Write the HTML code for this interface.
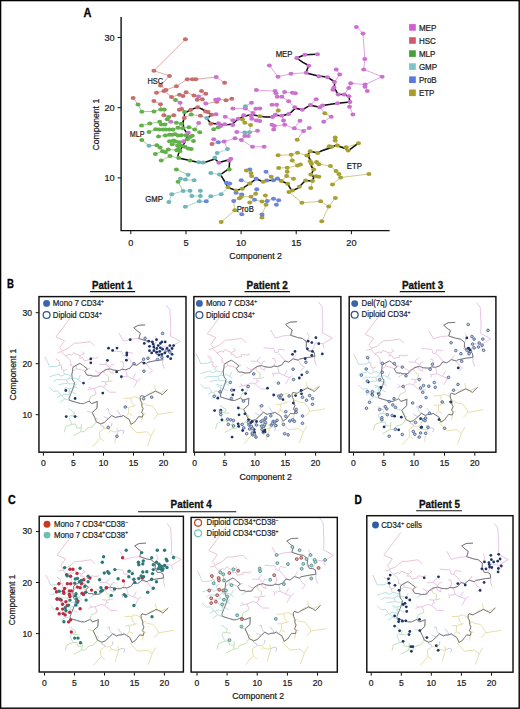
<!DOCTYPE html><html><head><meta charset="utf-8"><style>html,body{margin:0;padding:0;background:#fff;}svg{display:block;}</style></head><body><svg width="520" height="709" viewBox="0 0 520 709" style="font-family:'Liberation Sans', sans-serif">
<rect x="0" y="0" width="520" height="709" fill="#fff"/>
<line x1="185.4" y1="39.3" x2="153.9" y2="70.7" stroke="#dc9c9c" stroke-width="0.9"/>
<line x1="153.9" y1="70.7" x2="169.5" y2="75.9" stroke="#dc9c9c" stroke-width="0.9"/>
<line x1="169.5" y1="75.9" x2="160.5" y2="85.4" stroke="#dc9c9c" stroke-width="0.9"/>
<line x1="160.5" y1="85.4" x2="166.0" y2="89.9" stroke="#dc9c9c" stroke-width="0.9"/>
<line x1="176.4" y1="86.2" x2="187.3" y2="79.3" stroke="#dc9c9c" stroke-width="0.9"/>
<line x1="176.4" y1="86.2" x2="166.0" y2="89.9" stroke="#dc9c9c" stroke-width="0.9"/>
<line x1="187.3" y1="79.3" x2="192.3" y2="79.2" stroke="#dc9c9c" stroke-width="0.9"/>
<line x1="192.3" y1="79.2" x2="195.8" y2="79.2" stroke="#dc9c9c" stroke-width="0.9"/>
<line x1="195.8" y1="79.2" x2="216.2" y2="77.1" stroke="#dc9c9c" stroke-width="0.9"/>
<line x1="156.5" y1="92.7" x2="163.9" y2="90.9" stroke="#dc9c9c" stroke-width="0.9"/>
<line x1="163.9" y1="90.9" x2="166.0" y2="89.9" stroke="#dc9c9c" stroke-width="0.9"/>
<line x1="163.9" y1="90.9" x2="171.5" y2="97.0" stroke="#dc9c9c" stroke-width="0.9"/>
<line x1="186.1" y1="92.3" x2="183.0" y2="96.1" stroke="#dc9c9c" stroke-width="0.9"/>
<line x1="186.1" y1="92.3" x2="194.0" y2="95.4" stroke="#dc9c9c" stroke-width="0.9"/>
<line x1="201.5" y1="90.9" x2="205.8" y2="93.7" stroke="#dc9c9c" stroke-width="0.9"/>
<line x1="179.5" y1="94.7" x2="183.0" y2="96.1" stroke="#dc9c9c" stroke-width="0.9"/>
<line x1="179.5" y1="94.7" x2="171.5" y2="97.0" stroke="#dc9c9c" stroke-width="0.9"/>
<line x1="171.5" y1="97.0" x2="175.5" y2="100.1" stroke="#dc9c9c" stroke-width="0.9"/>
<line x1="133.1" y1="98.0" x2="138.0" y2="104.5" stroke="#dc9c9c" stroke-width="0.9"/>
<line x1="153.9" y1="101.0" x2="160.5" y2="104.2" stroke="#dc9c9c" stroke-width="0.9"/>
<line x1="175.5" y1="100.1" x2="180.1" y2="102.8" stroke="#92c982" stroke-width="0.9"/>
<line x1="194.0" y1="95.4" x2="198.5" y2="96.5" stroke="#dc9c9c" stroke-width="0.9"/>
<line x1="198.5" y1="96.5" x2="205.8" y2="93.7" stroke="#dc9ade" stroke-width="0.9"/>
<line x1="198.5" y1="96.5" x2="197.2" y2="99.8" stroke="#dc9ade" stroke-width="0.9"/>
<line x1="202.3" y1="99.2" x2="197.2" y2="99.8" stroke="#dc9c9c" stroke-width="0.9"/>
<line x1="202.3" y1="99.2" x2="205.8" y2="103.6" stroke="#dc9c9c" stroke-width="0.9"/>
<line x1="216.2" y1="77.1" x2="224.6" y2="82.8" stroke="#dc9ade" stroke-width="0.9"/>
<line x1="269.4" y1="65.5" x2="278.0" y2="76.7" stroke="#dc9ade" stroke-width="0.9"/>
<line x1="278.0" y1="76.7" x2="291.0" y2="73.8" stroke="#dc9ade" stroke-width="0.9"/>
<line x1="291.0" y1="73.8" x2="306.2" y2="72.7" stroke="#dc9ade" stroke-width="0.9"/>
<line x1="256.4" y1="90.1" x2="275.1" y2="91.1" stroke="#dc9ade" stroke-width="0.9"/>
<line x1="275.1" y1="91.1" x2="276.0" y2="93.2" stroke="#dc9ade" stroke-width="0.9"/>
<line x1="276.0" y1="93.2" x2="277.2" y2="96.7" stroke="#dc9ade" stroke-width="0.9"/>
<line x1="284.6" y1="92.0" x2="292.4" y2="92.7" stroke="#dc9ade" stroke-width="0.9"/>
<line x1="284.6" y1="92.0" x2="281.8" y2="96.7" stroke="#dc9ade" stroke-width="0.9"/>
<line x1="292.4" y1="92.7" x2="295.4" y2="93.2" stroke="#dc9ade" stroke-width="0.9"/>
<line x1="317.5" y1="54.2" x2="304.9" y2="54.7" stroke="#dc9ade" stroke-width="0.9"/>
<line x1="304.9" y1="54.7" x2="296.7" y2="58.0" stroke="#dc9ade" stroke-width="0.9"/>
<line x1="296.7" y1="58.0" x2="308.8" y2="65.8" stroke="#dc9ade" stroke-width="0.9"/>
<line x1="308.8" y1="65.8" x2="306.2" y2="72.7" stroke="#dc9ade" stroke-width="0.9"/>
<line x1="306.2" y1="72.7" x2="318.9" y2="76.2" stroke="#dc9ade" stroke-width="0.9"/>
<line x1="318.9" y1="76.2" x2="327.5" y2="77.2" stroke="#dc9ade" stroke-width="0.9"/>
<line x1="327.5" y1="77.2" x2="334.5" y2="81.9" stroke="#dc9ade" stroke-width="0.9"/>
<line x1="334.5" y1="81.9" x2="333.9" y2="87.6" stroke="#dc9ade" stroke-width="0.9"/>
<line x1="334.5" y1="81.9" x2="339.7" y2="74.6" stroke="#dc9ade" stroke-width="0.9"/>
<line x1="333.9" y1="87.6" x2="332.9" y2="89.8" stroke="#dc9ade" stroke-width="0.9"/>
<line x1="336.2" y1="69.4" x2="339.7" y2="74.6" stroke="#dc9ade" stroke-width="0.9"/>
<line x1="356.4" y1="26.9" x2="363.0" y2="33.4" stroke="#dc9ade" stroke-width="0.9"/>
<line x1="363.0" y1="33.4" x2="364.8" y2="59.1" stroke="#dc9ade" stroke-width="0.9"/>
<line x1="364.8" y1="59.1" x2="363.7" y2="69.4" stroke="#dc9ade" stroke-width="0.9"/>
<line x1="363.7" y1="69.4" x2="382.1" y2="76.7" stroke="#dc9ade" stroke-width="0.9"/>
<line x1="382.1" y1="76.7" x2="365.1" y2="84.5" stroke="#dc9ade" stroke-width="0.9"/>
<line x1="365.1" y1="84.5" x2="350.7" y2="83.3" stroke="#dc9ade" stroke-width="0.9"/>
<line x1="365.1" y1="84.5" x2="365.0" y2="86.8" stroke="#dc9ade" stroke-width="0.9"/>
<line x1="350.7" y1="83.3" x2="348.7" y2="88.0" stroke="#dc9ade" stroke-width="0.9"/>
<line x1="348.7" y1="88.0" x2="344.3" y2="94.6" stroke="#dc9ade" stroke-width="0.9"/>
<line x1="160.5" y1="104.2" x2="160.8" y2="109.4" stroke="#dc9c9c" stroke-width="0.9"/>
<line x1="163.9" y1="115.2" x2="164.3" y2="109.4" stroke="#dc9c9c" stroke-width="0.9"/>
<line x1="163.9" y1="115.2" x2="168.9" y2="116.9" stroke="#dc9c9c" stroke-width="0.9"/>
<line x1="173.8" y1="115.2" x2="168.9" y2="116.9" stroke="#dc9c9c" stroke-width="0.9"/>
<line x1="179.3" y1="109.8" x2="181.6" y2="109.0" stroke="#dc9c9c" stroke-width="0.9"/>
<line x1="138.0" y1="104.5" x2="141.8" y2="111.7" stroke="#92c982" stroke-width="0.9"/>
<line x1="141.8" y1="111.7" x2="153.9" y2="111.4" stroke="#92c982" stroke-width="0.9"/>
<line x1="153.9" y1="111.4" x2="160.8" y2="109.4" stroke="#92c982" stroke-width="0.9"/>
<line x1="160.8" y1="109.4" x2="164.3" y2="109.4" stroke="#92c982" stroke-width="0.9"/>
<line x1="168.9" y1="116.9" x2="167.2" y2="119.2" stroke="#92c982" stroke-width="0.9"/>
<line x1="167.2" y1="119.2" x2="170.8" y2="121.8" stroke="#92c982" stroke-width="0.9"/>
<line x1="159.7" y1="121.8" x2="161.4" y2="124.4" stroke="#92c982" stroke-width="0.9"/>
<line x1="159.7" y1="121.8" x2="149.8" y2="123.6" stroke="#92c982" stroke-width="0.9"/>
<line x1="161.4" y1="124.4" x2="164.8" y2="124.4" stroke="#92c982" stroke-width="0.9"/>
<line x1="164.8" y1="124.4" x2="170.8" y2="121.8" stroke="#92c982" stroke-width="0.9"/>
<line x1="149.8" y1="123.6" x2="141.5" y2="125.6" stroke="#92c982" stroke-width="0.9"/>
<line x1="149.0" y1="131.9" x2="155.6" y2="129.3" stroke="#92c982" stroke-width="0.9"/>
<line x1="155.6" y1="129.3" x2="159.1" y2="129.6" stroke="#92c982" stroke-width="0.9"/>
<line x1="159.1" y1="129.6" x2="163.1" y2="129.4" stroke="#92c982" stroke-width="0.9"/>
<line x1="163.1" y1="129.4" x2="166.0" y2="129.6" stroke="#92c982" stroke-width="0.9"/>
<line x1="166.0" y1="129.6" x2="169.5" y2="129.6" stroke="#92c982" stroke-width="0.9"/>
<line x1="169.5" y1="129.6" x2="172.9" y2="129.6" stroke="#92c982" stroke-width="0.9"/>
<line x1="172.9" y1="129.6" x2="175.2" y2="134.2" stroke="#92c982" stroke-width="0.9"/>
<line x1="172.9" y1="129.6" x2="177.9" y2="127.7" stroke="#92c982" stroke-width="0.9"/>
<line x1="158.5" y1="136.5" x2="165.4" y2="135.4" stroke="#92c982" stroke-width="0.9"/>
<line x1="165.4" y1="135.4" x2="169.5" y2="134.8" stroke="#92c982" stroke-width="0.9"/>
<line x1="169.5" y1="134.8" x2="172.3" y2="134.8" stroke="#92c982" stroke-width="0.9"/>
<line x1="172.3" y1="134.8" x2="175.2" y2="134.2" stroke="#92c982" stroke-width="0.9"/>
<line x1="175.2" y1="134.2" x2="178.1" y2="135.4" stroke="#92c982" stroke-width="0.9"/>
<line x1="178.1" y1="135.4" x2="181.4" y2="135.2" stroke="#92c982" stroke-width="0.9"/>
<line x1="176.4" y1="122.7" x2="170.8" y2="121.8" stroke="#92c982" stroke-width="0.9"/>
<line x1="176.4" y1="122.7" x2="181.4" y2="123.7" stroke="#92c982" stroke-width="0.9"/>
<line x1="141.8" y1="140.0" x2="149.0" y2="145.7" stroke="#92c982" stroke-width="0.9"/>
<line x1="169.5" y1="141.2" x2="173.5" y2="140.6" stroke="#92c982" stroke-width="0.9"/>
<line x1="173.5" y1="140.6" x2="175.6" y2="141.6" stroke="#92c982" stroke-width="0.9"/>
<line x1="180.1" y1="102.8" x2="181.6" y2="109.0" stroke="#dc9ade" stroke-width="0.9"/>
<line x1="156.8" y1="145.2" x2="160.0" y2="147.5" stroke="#92c982" stroke-width="0.9"/>
<line x1="156.8" y1="145.2" x2="149.0" y2="145.7" stroke="#92c982" stroke-width="0.9"/>
<line x1="160.0" y1="147.5" x2="162.5" y2="151.2" stroke="#92c982" stroke-width="0.9"/>
<line x1="162.5" y1="151.2" x2="165.4" y2="152.1" stroke="#92c982" stroke-width="0.9"/>
<line x1="162.5" y1="151.2" x2="155.4" y2="154.0" stroke="#92c982" stroke-width="0.9"/>
<line x1="165.4" y1="152.1" x2="168.3" y2="149.4" stroke="#92c982" stroke-width="0.9"/>
<line x1="165.4" y1="152.1" x2="170.0" y2="156.0" stroke="#92c982" stroke-width="0.9"/>
<line x1="168.3" y1="149.4" x2="176.8" y2="150.2" stroke="#92c982" stroke-width="0.9"/>
<line x1="170.0" y1="156.0" x2="161.2" y2="160.6" stroke="#92c982" stroke-width="0.9"/>
<line x1="170.0" y1="156.0" x2="178.7" y2="158.1" stroke="#92c982" stroke-width="0.9"/>
<line x1="176.4" y1="169.4" x2="188.1" y2="174.8" stroke="#92c982" stroke-width="0.9"/>
<line x1="178.7" y1="158.1" x2="190.0" y2="160.5" stroke="#92c982" stroke-width="0.9"/>
<line x1="178.1" y1="181.7" x2="180.4" y2="178.8" stroke="#92c982" stroke-width="0.9"/>
<line x1="178.1" y1="181.7" x2="183.1" y2="191.0" stroke="#92c982" stroke-width="0.9"/>
<line x1="172.3" y1="144.2" x2="175.6" y2="141.6" stroke="#92c982" stroke-width="0.9"/>
<line x1="177.5" y1="145.4" x2="178.7" y2="148.8" stroke="#92c982" stroke-width="0.9"/>
<line x1="177.5" y1="145.4" x2="179.1" y2="142.2" stroke="#92c982" stroke-width="0.9"/>
<line x1="177.5" y1="145.4" x2="181.4" y2="145.6" stroke="#92c982" stroke-width="0.9"/>
<line x1="178.7" y1="148.8" x2="176.8" y2="150.2" stroke="#92c982" stroke-width="0.9"/>
<line x1="179.8" y1="151.2" x2="176.8" y2="150.2" stroke="#92c982" stroke-width="0.9"/>
<line x1="180.4" y1="178.8" x2="185.4" y2="179.6" stroke="#9fd2d4" stroke-width="0.9"/>
<line x1="184.3" y1="117.9" x2="191.2" y2="114.5" stroke="#dc9c9c" stroke-width="0.9"/>
<line x1="184.3" y1="117.9" x2="181.4" y2="123.7" stroke="#dc9c9c" stroke-width="0.9"/>
<line x1="200.4" y1="115.8" x2="191.2" y2="114.5" stroke="#dc9c9c" stroke-width="0.9"/>
<line x1="200.4" y1="115.8" x2="206.8" y2="117.9" stroke="#dc9c9c" stroke-width="0.9"/>
<line x1="210.8" y1="123.7" x2="206.8" y2="117.9" stroke="#dc9c9c" stroke-width="0.9"/>
<line x1="210.8" y1="123.7" x2="218.5" y2="123.2" stroke="#dc9c9c" stroke-width="0.9"/>
<line x1="205.6" y1="111.6" x2="208.1" y2="111.9" stroke="#dc9c9c" stroke-width="0.9"/>
<line x1="212.0" y1="143.9" x2="218.3" y2="142.2" stroke="#dc9c9c" stroke-width="0.9"/>
<line x1="191.2" y1="114.5" x2="190.8" y2="109.8" stroke="#92c982" stroke-width="0.9"/>
<line x1="181.4" y1="123.7" x2="177.9" y2="127.7" stroke="#92c982" stroke-width="0.9"/>
<line x1="177.9" y1="127.7" x2="182.5" y2="128.3" stroke="#92c982" stroke-width="0.9"/>
<line x1="182.5" y1="128.3" x2="188.9" y2="127.2" stroke="#92c982" stroke-width="0.9"/>
<line x1="188.9" y1="127.2" x2="194.7" y2="129.5" stroke="#92c982" stroke-width="0.9"/>
<line x1="194.7" y1="129.5" x2="199.8" y2="132.3" stroke="#92c982" stroke-width="0.9"/>
<line x1="194.7" y1="129.5" x2="198.7" y2="123.1" stroke="#92c982" stroke-width="0.9"/>
<line x1="213.7" y1="129.2" x2="218.3" y2="127.2" stroke="#92c982" stroke-width="0.9"/>
<line x1="218.3" y1="127.2" x2="220.6" y2="126.0" stroke="#92c982" stroke-width="0.9"/>
<line x1="181.4" y1="135.2" x2="186.0" y2="135.2" stroke="#92c982" stroke-width="0.9"/>
<line x1="186.0" y1="135.2" x2="190.0" y2="137.0" stroke="#92c982" stroke-width="0.9"/>
<line x1="186.0" y1="135.2" x2="188.3" y2="132.7" stroke="#92c982" stroke-width="0.9"/>
<line x1="190.0" y1="137.0" x2="192.3" y2="135.8" stroke="#92c982" stroke-width="0.9"/>
<line x1="190.0" y1="137.0" x2="187.2" y2="139.3" stroke="#92c982" stroke-width="0.9"/>
<line x1="193.5" y1="141.0" x2="187.2" y2="139.3" stroke="#92c982" stroke-width="0.9"/>
<line x1="187.2" y1="139.3" x2="183.5" y2="141.2" stroke="#92c982" stroke-width="0.9"/>
<line x1="175.6" y1="141.6" x2="179.1" y2="142.2" stroke="#92c982" stroke-width="0.9"/>
<line x1="179.1" y1="142.2" x2="183.5" y2="141.2" stroke="#92c982" stroke-width="0.9"/>
<line x1="181.4" y1="145.6" x2="184.8" y2="146.8" stroke="#92c982" stroke-width="0.9"/>
<line x1="184.8" y1="146.8" x2="188.3" y2="148.5" stroke="#92c982" stroke-width="0.9"/>
<line x1="188.3" y1="148.5" x2="191.2" y2="149.1" stroke="#92c982" stroke-width="0.9"/>
<line x1="216.0" y1="114.2" x2="211.6" y2="114.8" stroke="#dc9ade" stroke-width="0.9"/>
<line x1="225.2" y1="116.8" x2="232.9" y2="120.2" stroke="#dc9ade" stroke-width="0.9"/>
<line x1="220.6" y1="126.0" x2="224.7" y2="124.3" stroke="#dc9ade" stroke-width="0.9"/>
<line x1="220.6" y1="126.0" x2="218.5" y2="123.2" stroke="#dc9ade" stroke-width="0.9"/>
<line x1="224.7" y1="124.3" x2="232.7" y2="125.0" stroke="#dc9ade" stroke-width="0.9"/>
<line x1="213.7" y1="139.3" x2="218.3" y2="142.2" stroke="#dc9ade" stroke-width="0.9"/>
<line x1="224.1" y1="141.6" x2="227.5" y2="149.1" stroke="#dc9ade" stroke-width="0.9"/>
<line x1="224.1" y1="141.6" x2="218.3" y2="142.2" stroke="#dc9ade" stroke-width="0.9"/>
<line x1="224.1" y1="141.6" x2="235.0" y2="138.3" stroke="#dc9ade" stroke-width="0.9"/>
<line x1="206.8" y1="117.9" x2="211.6" y2="114.8" stroke="#9fd2d4" stroke-width="0.9"/>
<line x1="217.2" y1="153.1" x2="227.5" y2="149.1" stroke="#9fd2d4" stroke-width="0.9"/>
<line x1="217.2" y1="153.1" x2="214.8" y2="157.7" stroke="#9fd2d4" stroke-width="0.9"/>
<line x1="214.8" y1="157.7" x2="218.9" y2="162.8" stroke="#9fd2d4" stroke-width="0.9"/>
<line x1="171.8" y1="194.2" x2="168.9" y2="201.9" stroke="#9fd2d4" stroke-width="0.9"/>
<line x1="171.8" y1="194.2" x2="183.1" y2="191.0" stroke="#9fd2d4" stroke-width="0.9"/>
<line x1="190.0" y1="160.5" x2="198.7" y2="162.2" stroke="#92c982" stroke-width="0.9"/>
<line x1="229.3" y1="169.4" x2="219.5" y2="174.6" stroke="#92c982" stroke-width="0.9"/>
<line x1="229.3" y1="169.4" x2="229.3" y2="160.5" stroke="#92c982" stroke-width="0.9"/>
<line x1="198.7" y1="162.2" x2="203.3" y2="162.5" stroke="#9fd2d4" stroke-width="0.9"/>
<line x1="210.8" y1="172.9" x2="219.5" y2="174.6" stroke="#9fd2d4" stroke-width="0.9"/>
<line x1="219.5" y1="174.6" x2="226.4" y2="182.7" stroke="#9fd2d4" stroke-width="0.9"/>
<line x1="188.1" y1="174.8" x2="185.4" y2="179.6" stroke="#9fd2d4" stroke-width="0.9"/>
<line x1="185.4" y1="179.6" x2="194.1" y2="180.2" stroke="#9fd2d4" stroke-width="0.9"/>
<line x1="183.1" y1="191.0" x2="190.0" y2="190.8" stroke="#9fd2d4" stroke-width="0.9"/>
<line x1="190.0" y1="190.8" x2="191.8" y2="196.0" stroke="#9fd2d4" stroke-width="0.9"/>
<line x1="200.4" y1="190.8" x2="200.4" y2="196.0" stroke="#9fd2d4" stroke-width="0.9"/>
<line x1="191.8" y1="196.0" x2="200.4" y2="196.0" stroke="#9fd2d4" stroke-width="0.9"/>
<line x1="200.4" y1="196.0" x2="199.3" y2="201.2" stroke="#9fd2d4" stroke-width="0.9"/>
<line x1="210.8" y1="196.3" x2="221.2" y2="194.2" stroke="#9fd2d4" stroke-width="0.9"/>
<line x1="210.8" y1="196.3" x2="206.2" y2="201.2" stroke="#9fd2d4" stroke-width="0.9"/>
<line x1="221.2" y1="194.2" x2="228.1" y2="187.3" stroke="#9fd2d4" stroke-width="0.9"/>
<line x1="199.3" y1="201.2" x2="206.2" y2="201.2" stroke="#9fd2d4" stroke-width="0.9"/>
<line x1="199.3" y1="201.2" x2="185.4" y2="206.7" stroke="#9fd2d4" stroke-width="0.9"/>
<line x1="218.9" y1="162.8" x2="229.3" y2="160.5" stroke="#dc9ade" stroke-width="0.9"/>
<line x1="229.3" y1="160.5" x2="230.8" y2="158.7" stroke="#dc9ade" stroke-width="0.9"/>
<line x1="226.4" y1="182.7" x2="229.7" y2="183.5" stroke="#a1b2ea" stroke-width="0.9"/>
<line x1="228.1" y1="187.3" x2="229.7" y2="183.5" stroke="#c9c47e" stroke-width="0.9"/>
<line x1="228.1" y1="187.3" x2="236.0" y2="190.4" stroke="#c9c47e" stroke-width="0.9"/>
<line x1="221.2" y1="222.1" x2="234.8" y2="210.2" stroke="#c9c47e" stroke-width="0.9"/>
<line x1="241.2" y1="180.2" x2="249.8" y2="183.5" stroke="#a1b2ea" stroke-width="0.9"/>
<line x1="249.8" y1="169.6" x2="246.4" y2="170.5" stroke="#a1b2ea" stroke-width="0.9"/>
<line x1="249.8" y1="169.6" x2="251.0" y2="173.1" stroke="#a1b2ea" stroke-width="0.9"/>
<line x1="266.0" y1="171.7" x2="271.2" y2="176.8" stroke="#a1b2ea" stroke-width="0.9"/>
<line x1="256.2" y1="178.8" x2="251.6" y2="176.0" stroke="#a1b2ea" stroke-width="0.9"/>
<line x1="256.2" y1="178.8" x2="249.8" y2="183.5" stroke="#a1b2ea" stroke-width="0.9"/>
<line x1="256.2" y1="178.8" x2="263.1" y2="181.7" stroke="#a1b2ea" stroke-width="0.9"/>
<line x1="266.6" y1="180.6" x2="273.5" y2="180.2" stroke="#a1b2ea" stroke-width="0.9"/>
<line x1="266.6" y1="180.6" x2="263.1" y2="181.7" stroke="#a1b2ea" stroke-width="0.9"/>
<line x1="273.5" y1="180.2" x2="277.5" y2="178.6" stroke="#a1b2ea" stroke-width="0.9"/>
<line x1="273.5" y1="180.2" x2="271.2" y2="176.8" stroke="#a1b2ea" stroke-width="0.9"/>
<line x1="277.5" y1="178.6" x2="281.4" y2="181.0" stroke="#a1b2ea" stroke-width="0.9"/>
<line x1="256.8" y1="189.2" x2="255.6" y2="193.8" stroke="#a1b2ea" stroke-width="0.9"/>
<line x1="236.0" y1="192.7" x2="241.8" y2="194.4" stroke="#a1b2ea" stroke-width="0.9"/>
<line x1="236.0" y1="192.7" x2="236.0" y2="190.4" stroke="#a1b2ea" stroke-width="0.9"/>
<line x1="241.8" y1="194.4" x2="241.2" y2="196.7" stroke="#a1b2ea" stroke-width="0.9"/>
<line x1="251.0" y1="173.1" x2="251.6" y2="176.0" stroke="#c9c47e" stroke-width="0.9"/>
<line x1="236.0" y1="190.4" x2="242.3" y2="188.7" stroke="#c9c47e" stroke-width="0.9"/>
<line x1="242.3" y1="188.7" x2="249.8" y2="183.5" stroke="#c9c47e" stroke-width="0.9"/>
<line x1="278.1" y1="155.2" x2="291.2" y2="154.8" stroke="#c9c47e" stroke-width="0.9"/>
<line x1="278.7" y1="167.9" x2="287.2" y2="167.7" stroke="#c9c47e" stroke-width="0.9"/>
<line x1="255.6" y1="193.8" x2="251.0" y2="196.7" stroke="#c9c47e" stroke-width="0.9"/>
<line x1="265.4" y1="195.6" x2="267.2" y2="201.0" stroke="#c9c47e" stroke-width="0.9"/>
<line x1="251.0" y1="196.7" x2="241.2" y2="196.7" stroke="#c9c47e" stroke-width="0.9"/>
<line x1="251.0" y1="196.7" x2="254.5" y2="199.8" stroke="#c9c47e" stroke-width="0.9"/>
<line x1="241.2" y1="196.7" x2="239.5" y2="198.3" stroke="#c9c47e" stroke-width="0.9"/>
<line x1="239.5" y1="198.3" x2="233.7" y2="201.0" stroke="#c9c47e" stroke-width="0.9"/>
<line x1="262.0" y1="201.5" x2="254.5" y2="199.8" stroke="#c9c47e" stroke-width="0.9"/>
<line x1="262.0" y1="201.5" x2="267.2" y2="201.0" stroke="#c9c47e" stroke-width="0.9"/>
<line x1="266.0" y1="204.8" x2="267.2" y2="201.0" stroke="#c9c47e" stroke-width="0.9"/>
<line x1="266.0" y1="204.8" x2="262.0" y2="214.5" stroke="#c9c47e" stroke-width="0.9"/>
<line x1="249.8" y1="202.5" x2="254.5" y2="199.8" stroke="#c9c47e" stroke-width="0.9"/>
<line x1="234.8" y1="210.2" x2="233.7" y2="201.0" stroke="#c9c47e" stroke-width="0.9"/>
<line x1="234.8" y1="210.2" x2="241.8" y2="214.2" stroke="#c9c47e" stroke-width="0.9"/>
<line x1="262.0" y1="217.5" x2="262.0" y2="214.5" stroke="#c9c47e" stroke-width="0.9"/>
<line x1="267.2" y1="201.0" x2="273.5" y2="198.7" stroke="#a1b2ea" stroke-width="0.9"/>
<line x1="273.5" y1="198.7" x2="278.7" y2="200.2" stroke="#a1b2ea" stroke-width="0.9"/>
<line x1="278.7" y1="200.2" x2="276.4" y2="204.8" stroke="#a1b2ea" stroke-width="0.9"/>
<line x1="216.8" y1="101.8" x2="205.8" y2="103.6" stroke="#dc9c9c" stroke-width="0.9"/>
<line x1="216.8" y1="101.8" x2="215.6" y2="99.8" stroke="#dc9c9c" stroke-width="0.9"/>
<line x1="226.0" y1="100.2" x2="231.8" y2="98.7" stroke="#dc9c9c" stroke-width="0.9"/>
<line x1="226.0" y1="100.2" x2="218.5" y2="99.2" stroke="#dc9c9c" stroke-width="0.9"/>
<line x1="197.7" y1="107.3" x2="190.8" y2="109.8" stroke="#dc9c9c" stroke-width="0.9"/>
<line x1="190.8" y1="109.8" x2="184.5" y2="111.9" stroke="#dc9c9c" stroke-width="0.9"/>
<line x1="181.6" y1="109.0" x2="184.5" y2="111.9" stroke="#dc9c9c" stroke-width="0.9"/>
<line x1="208.1" y1="111.9" x2="211.6" y2="114.8" stroke="#dc9c9c" stroke-width="0.9"/>
<line x1="215.6" y1="99.8" x2="218.5" y2="99.2" stroke="#dc9ade" stroke-width="0.9"/>
<line x1="232.9" y1="108.5" x2="245.4" y2="108.6" stroke="#dc9ade" stroke-width="0.9"/>
<line x1="232.9" y1="120.2" x2="238.1" y2="118.8" stroke="#dc9ade" stroke-width="0.9"/>
<line x1="232.9" y1="120.2" x2="232.7" y2="125.0" stroke="#dc9ade" stroke-width="0.9"/>
<line x1="238.1" y1="118.8" x2="242.5" y2="119.5" stroke="#dc9ade" stroke-width="0.9"/>
<line x1="251.5" y1="102.8" x2="245.4" y2="106.3" stroke="#dc9ade" stroke-width="0.9"/>
<line x1="245.4" y1="108.6" x2="252.9" y2="112.9" stroke="#dc9ade" stroke-width="0.9"/>
<line x1="245.4" y1="108.6" x2="245.4" y2="106.3" stroke="#dc9ade" stroke-width="0.9"/>
<line x1="255.8" y1="108.8" x2="259.8" y2="108.6" stroke="#dc9ade" stroke-width="0.9"/>
<line x1="255.8" y1="108.8" x2="252.9" y2="112.9" stroke="#dc9ade" stroke-width="0.9"/>
<line x1="252.9" y1="112.9" x2="251.2" y2="115.8" stroke="#dc9ade" stroke-width="0.9"/>
<line x1="251.2" y1="115.8" x2="243.7" y2="115.2" stroke="#dc9ade" stroke-width="0.9"/>
<line x1="251.2" y1="115.8" x2="251.8" y2="118.7" stroke="#dc9ade" stroke-width="0.9"/>
<line x1="243.7" y1="115.2" x2="242.5" y2="119.5" stroke="#dc9ade" stroke-width="0.9"/>
<line x1="251.8" y1="118.7" x2="256.4" y2="120.4" stroke="#dc9ade" stroke-width="0.9"/>
<line x1="256.4" y1="120.4" x2="259.8" y2="121.0" stroke="#dc9ade" stroke-width="0.9"/>
<line x1="256.4" y1="120.4" x2="259.8" y2="116.3" stroke="#dc9ade" stroke-width="0.9"/>
<line x1="272.0" y1="104.8" x2="276.6" y2="104.8" stroke="#dc9ade" stroke-width="0.9"/>
<line x1="276.6" y1="104.8" x2="278.3" y2="110.6" stroke="#dc9ade" stroke-width="0.9"/>
<line x1="277.2" y1="96.7" x2="281.8" y2="96.7" stroke="#dc9ade" stroke-width="0.9"/>
<line x1="281.8" y1="96.7" x2="288.7" y2="101.3" stroke="#dc9ade" stroke-width="0.9"/>
<line x1="288.7" y1="101.3" x2="294.8" y2="107.3" stroke="#dc9ade" stroke-width="0.9"/>
<line x1="272.5" y1="116.9" x2="275.4" y2="114.8" stroke="#dc9ade" stroke-width="0.9"/>
<line x1="272.5" y1="116.9" x2="259.8" y2="116.3" stroke="#dc9ade" stroke-width="0.9"/>
<line x1="275.4" y1="114.8" x2="281.8" y2="115.8" stroke="#dc9ade" stroke-width="0.9"/>
<line x1="275.4" y1="114.8" x2="278.3" y2="110.6" stroke="#dc9ade" stroke-width="0.9"/>
<line x1="281.8" y1="115.8" x2="288.7" y2="114.0" stroke="#dc9ade" stroke-width="0.9"/>
<line x1="281.8" y1="115.8" x2="283.5" y2="120.4" stroke="#dc9ade" stroke-width="0.9"/>
<line x1="288.7" y1="114.0" x2="294.8" y2="107.3" stroke="#dc9ade" stroke-width="0.9"/>
<line x1="283.5" y1="120.4" x2="284.7" y2="124.8" stroke="#dc9ade" stroke-width="0.9"/>
<line x1="284.7" y1="124.8" x2="274.3" y2="125.9" stroke="#dc9ade" stroke-width="0.9"/>
<line x1="284.7" y1="124.8" x2="294.3" y2="128.3" stroke="#dc9ade" stroke-width="0.9"/>
<line x1="272.0" y1="124.8" x2="274.3" y2="125.9" stroke="#dc9ade" stroke-width="0.9"/>
<line x1="274.3" y1="125.9" x2="273.7" y2="129.6" stroke="#dc9ade" stroke-width="0.9"/>
<line x1="236.8" y1="131.9" x2="244.8" y2="132.5" stroke="#dc9ade" stroke-width="0.9"/>
<line x1="257.5" y1="130.8" x2="249.5" y2="132.2" stroke="#dc9ade" stroke-width="0.9"/>
<line x1="244.8" y1="136.0" x2="248.3" y2="136.0" stroke="#dc9ade" stroke-width="0.9"/>
<line x1="244.8" y1="136.0" x2="241.4" y2="140.0" stroke="#dc9ade" stroke-width="0.9"/>
<line x1="244.8" y1="136.0" x2="244.8" y2="132.5" stroke="#dc9ade" stroke-width="0.9"/>
<line x1="235.0" y1="138.3" x2="241.4" y2="140.0" stroke="#dc9ade" stroke-width="0.9"/>
<line x1="241.4" y1="140.0" x2="252.5" y2="146.8" stroke="#dc9ade" stroke-width="0.9"/>
<line x1="244.8" y1="132.5" x2="249.5" y2="132.2" stroke="#9fd2d4" stroke-width="0.9"/>
<line x1="249.5" y1="132.2" x2="250.6" y2="125.0" stroke="#9fd2d4" stroke-width="0.9"/>
<line x1="242.5" y1="119.5" x2="244.8" y2="122.7" stroke="#c9c47e" stroke-width="0.9"/>
<line x1="244.8" y1="122.7" x2="250.6" y2="125.0" stroke="#c9c47e" stroke-width="0.9"/>
<line x1="332.9" y1="89.8" x2="338.1" y2="94.6" stroke="#dc9ade" stroke-width="0.9"/>
<line x1="338.1" y1="94.6" x2="344.3" y2="94.6" stroke="#dc9ade" stroke-width="0.9"/>
<line x1="294.8" y1="107.3" x2="302.3" y2="109.8" stroke="#dc9ade" stroke-width="0.9"/>
<line x1="316.2" y1="99.2" x2="310.4" y2="105.0" stroke="#dc9ade" stroke-width="0.9"/>
<line x1="310.4" y1="105.0" x2="302.3" y2="109.8" stroke="#dc9ade" stroke-width="0.9"/>
<line x1="310.4" y1="105.0" x2="319.7" y2="107.2" stroke="#dc9ade" stroke-width="0.9"/>
<line x1="322.5" y1="105.6" x2="337.5" y2="103.3" stroke="#dc9ade" stroke-width="0.9"/>
<line x1="322.5" y1="105.6" x2="319.7" y2="107.2" stroke="#dc9ade" stroke-width="0.9"/>
<line x1="337.5" y1="103.3" x2="350.0" y2="102.1" stroke="#dc9ade" stroke-width="0.9"/>
<line x1="344.3" y1="94.6" x2="348.9" y2="96.3" stroke="#dc9ade" stroke-width="0.9"/>
<line x1="348.9" y1="96.3" x2="350.0" y2="102.1" stroke="#dc9ade" stroke-width="0.9"/>
<line x1="350.0" y1="102.1" x2="349.5" y2="106.7" stroke="#dc9ade" stroke-width="0.9"/>
<line x1="349.5" y1="106.7" x2="352.9" y2="114.4" stroke="#dc9ade" stroke-width="0.9"/>
<line x1="365.0" y1="86.8" x2="367.3" y2="90.9" stroke="#dc9ade" stroke-width="0.9"/>
<line x1="294.3" y1="128.3" x2="300.0" y2="120.8" stroke="#dc9ade" stroke-width="0.9"/>
<line x1="294.3" y1="128.3" x2="303.5" y2="130.9" stroke="#dc9ade" stroke-width="0.9"/>
<line x1="303.5" y1="130.9" x2="309.3" y2="127.9" stroke="#dc9ade" stroke-width="0.9"/>
<line x1="303.5" y1="130.9" x2="297.2" y2="139.8" stroke="#dc9ade" stroke-width="0.9"/>
<line x1="319.7" y1="107.2" x2="324.8" y2="113.3" stroke="#dc9ade" stroke-width="0.9"/>
<line x1="331.2" y1="116.7" x2="323.7" y2="121.7" stroke="#dc9ade" stroke-width="0.9"/>
<line x1="331.2" y1="116.7" x2="324.8" y2="113.3" stroke="#dc9ade" stroke-width="0.9"/>
<line x1="335.2" y1="137.5" x2="335.2" y2="140.4" stroke="#c9c47e" stroke-width="0.9"/>
<line x1="335.2" y1="140.4" x2="337.5" y2="145.6" stroke="#c9c47e" stroke-width="0.9"/>
<line x1="331.8" y1="146.7" x2="337.5" y2="145.6" stroke="#c9c47e" stroke-width="0.9"/>
<line x1="331.8" y1="146.7" x2="329.3" y2="146.3" stroke="#c9c47e" stroke-width="0.9"/>
<line x1="337.5" y1="145.6" x2="346.0" y2="147.3" stroke="#c9c47e" stroke-width="0.9"/>
<line x1="358.5" y1="143.3" x2="346.0" y2="147.3" stroke="#c9c47e" stroke-width="0.9"/>
<line x1="346.0" y1="147.3" x2="348.1" y2="150.4" stroke="#c9c47e" stroke-width="0.9"/>
<line x1="291.2" y1="154.8" x2="297.5" y2="152.7" stroke="#c9c47e" stroke-width="0.9"/>
<line x1="291.2" y1="154.8" x2="292.3" y2="160.5" stroke="#c9c47e" stroke-width="0.9"/>
<line x1="297.5" y1="152.7" x2="306.8" y2="155.6" stroke="#c9c47e" stroke-width="0.9"/>
<line x1="292.3" y1="160.5" x2="297.5" y2="165.6" stroke="#c9c47e" stroke-width="0.9"/>
<line x1="297.5" y1="165.6" x2="300.4" y2="164.5" stroke="#c9c47e" stroke-width="0.9"/>
<line x1="297.5" y1="165.6" x2="287.2" y2="167.7" stroke="#c9c47e" stroke-width="0.9"/>
<line x1="306.8" y1="155.6" x2="310.2" y2="151.3" stroke="#c9c47e" stroke-width="0.9"/>
<line x1="306.8" y1="155.6" x2="310.2" y2="161.3" stroke="#c9c47e" stroke-width="0.9"/>
<line x1="310.2" y1="151.3" x2="317.7" y2="152.9" stroke="#c9c47e" stroke-width="0.9"/>
<line x1="317.7" y1="152.9" x2="329.3" y2="146.3" stroke="#c9c47e" stroke-width="0.9"/>
<line x1="310.2" y1="161.3" x2="311.4" y2="163.7" stroke="#c9c47e" stroke-width="0.9"/>
<line x1="311.4" y1="163.7" x2="316.6" y2="161.9" stroke="#c9c47e" stroke-width="0.9"/>
<line x1="311.4" y1="163.7" x2="313.7" y2="169.4" stroke="#c9c47e" stroke-width="0.9"/>
<line x1="316.6" y1="161.9" x2="318.9" y2="164.2" stroke="#c9c47e" stroke-width="0.9"/>
<line x1="318.9" y1="164.2" x2="330.4" y2="166.0" stroke="#c9c47e" stroke-width="0.9"/>
<line x1="313.7" y1="169.4" x2="310.8" y2="174.4" stroke="#c9c47e" stroke-width="0.9"/>
<line x1="310.8" y1="174.4" x2="316.0" y2="176.3" stroke="#c9c47e" stroke-width="0.9"/>
<line x1="316.0" y1="176.3" x2="318.9" y2="176.7" stroke="#c9c47e" stroke-width="0.9"/>
<line x1="316.0" y1="176.3" x2="312.5" y2="181.0" stroke="#c9c47e" stroke-width="0.9"/>
<line x1="312.5" y1="181.0" x2="305.6" y2="180.4" stroke="#c9c47e" stroke-width="0.9"/>
<line x1="312.5" y1="181.0" x2="310.8" y2="188.1" stroke="#c9c47e" stroke-width="0.9"/>
<line x1="287.2" y1="167.7" x2="287.2" y2="171.7" stroke="#c9c47e" stroke-width="0.9"/>
<line x1="287.2" y1="171.7" x2="286.6" y2="176.0" stroke="#c9c47e" stroke-width="0.9"/>
<line x1="286.6" y1="176.0" x2="293.5" y2="178.7" stroke="#c9c47e" stroke-width="0.9"/>
<line x1="286.6" y1="176.0" x2="281.4" y2="181.0" stroke="#c9c47e" stroke-width="0.9"/>
<line x1="281.4" y1="181.0" x2="287.7" y2="183.8" stroke="#c9c47e" stroke-width="0.9"/>
<line x1="287.7" y1="183.8" x2="292.3" y2="190.4" stroke="#c9c47e" stroke-width="0.9"/>
<line x1="299.3" y1="186.7" x2="292.3" y2="190.4" stroke="#c9c47e" stroke-width="0.9"/>
<line x1="330.4" y1="166.0" x2="336.0" y2="170.9" stroke="#c9c47e" stroke-width="0.9"/>
<line x1="336.0" y1="170.9" x2="338.9" y2="174.0" stroke="#c9c47e" stroke-width="0.9"/>
<line x1="338.9" y1="174.0" x2="340.6" y2="177.5" stroke="#c9c47e" stroke-width="0.9"/>
<line x1="340.6" y1="177.5" x2="332.5" y2="184.4" stroke="#c9c47e" stroke-width="0.9"/>
<line x1="340.6" y1="177.5" x2="368.9" y2="174.0" stroke="#c9c47e" stroke-width="0.9"/>
<line x1="288.9" y1="192.1" x2="292.3" y2="190.4" stroke="#c9c47e" stroke-width="0.9"/>
<line x1="288.9" y1="192.1" x2="301.9" y2="202.8" stroke="#c9c47e" stroke-width="0.9"/>
<line x1="301.9" y1="202.8" x2="320.6" y2="201.3" stroke="#c9c47e" stroke-width="0.9"/>
<line x1="320.6" y1="201.3" x2="328.7" y2="206.5" stroke="#c9c47e" stroke-width="0.9"/>
<line x1="328.7" y1="206.5" x2="321.8" y2="221.3" stroke="#c9c47e" stroke-width="0.9"/>
<line x1="328.7" y1="206.5" x2="335.4" y2="197.9" stroke="#c9c47e" stroke-width="0.9"/>
<line x1="252.5" y1="146.8" x2="264.1" y2="146.8" stroke="#dc9ade" stroke-width="0.9"/>
<polyline points="317.5,54.2 304.9,54.7 296.7,58.0 302.8,62.3 308.8,65.5 305.8,72.9 318.5,75.9 327.2,77.1 334.4,81.5 334.6,88.0 338.0,94.3 344.3,94.6 348.9,96.3 350.0,102.1" fill="none" stroke="#111" stroke-width="1.5" stroke-linejoin="round"/>
<polyline points="350.0,102.1 337.4,103.3 322.5,105.5 319.7,107.2 310.4,105.2 302.3,109.8 295.4,108.3 289.7,113.8 288.7,114.0 281.8,115.8 274.8,115.2 270.2,116.9 265.6,116.9 259.8,116.3 252.3,114.6 248.3,115.2 242.5,116.9 237.9,119.2 232.5,124.0 228.7,124.6 222.9,124.8 218.3,123.7 214.8,123.7 210.8,123.1 209.1,121.4 207.0,118.3 211.6,114.8 205.2,111.0 201.8,109.0 197.7,107.1 190.8,109.8 184.5,113.1 184.3,117.9 183.1,122.0 183.7,128.3 186.0,131.8 188.3,133.5 185.5,141.0 181.0,149.0 177.9,155.0" fill="none" stroke="#111" stroke-width="1.5" stroke-linejoin="round"/>
<polyline points="177.9,155.0 178.5,157.9 190.0,160.5 198.7,162.5 204.5,162.5 214.8,159.0 218.9,162.5 229.8,159.5 229.1,168.5 220.5,174.7 224.7,181.5 227.9,187.5 236.0,190.4 242.3,188.7 249.8,183.5 256.2,178.8 263.1,181.7 267.2,180.6 273.5,180.2 277.5,178.8 281.4,181.0 287.7,183.8 291.8,191.0 298.1,188.1 302.2,183.8 305.6,180.4 312.5,181.0 313.7,176.9 310.8,174.4 312.0,172.9 313.7,169.4 311.4,166.5 311.4,161.3 309.1,157.9 308.5,153.8 310.2,151.3 313.7,152.1 317.7,152.9 320.6,151.3 332.0,147.2 336.0,145.2 345.8,148.7 348.7,150.4 358.5,143.2" fill="none" stroke="#111" stroke-width="1.5" stroke-linejoin="round"/>
<ellipse cx="185.4" cy="39.3" rx="2.5" ry="2.0" fill="#c56f6d"/>
<ellipse cx="153.9" cy="70.7" rx="2.5" ry="2.0" fill="#c56f6d"/>
<ellipse cx="169.5" cy="75.9" rx="2.5" ry="2.0" fill="#c56f6d"/>
<ellipse cx="160.5" cy="85.4" rx="2.5" ry="2.0" fill="#c56f6d"/>
<ellipse cx="176.4" cy="86.2" rx="2.5" ry="2.0" fill="#c56f6d"/>
<ellipse cx="187.3" cy="79.3" rx="2.5" ry="2.0" fill="#c56f6d"/>
<ellipse cx="192.3" cy="79.2" rx="2.5" ry="2.0" fill="#c56f6d"/>
<ellipse cx="195.8" cy="79.2" rx="2.5" ry="2.0" fill="#c56f6d"/>
<ellipse cx="156.5" cy="92.7" rx="2.5" ry="2.0" fill="#c56f6d"/>
<ellipse cx="163.9" cy="90.9" rx="2.5" ry="2.0" fill="#c56f6d"/>
<ellipse cx="166.0" cy="89.9" rx="2.5" ry="2.0" fill="#c56f6d"/>
<ellipse cx="186.1" cy="92.3" rx="2.5" ry="2.0" fill="#c56f6d"/>
<ellipse cx="201.5" cy="90.9" rx="2.5" ry="2.0" fill="#c56f6d"/>
<ellipse cx="179.5" cy="94.7" rx="2.5" ry="2.0" fill="#c56f6d"/>
<ellipse cx="183.0" cy="96.1" rx="2.5" ry="2.0" fill="#c56f6d"/>
<ellipse cx="171.5" cy="97.0" rx="2.5" ry="2.0" fill="#c56f6d"/>
<ellipse cx="133.1" cy="98.0" rx="2.5" ry="2.0" fill="#c56f6d"/>
<ellipse cx="153.9" cy="101.0" rx="2.5" ry="2.0" fill="#c56f6d"/>
<ellipse cx="175.5" cy="100.1" rx="2.5" ry="2.0" fill="#62b04a"/>
<ellipse cx="194.0" cy="95.4" rx="2.5" ry="2.0" fill="#c56f6d"/>
<ellipse cx="198.5" cy="96.5" rx="2.5" ry="2.0" fill="#cb72d0"/>
<ellipse cx="202.3" cy="99.2" rx="2.5" ry="2.0" fill="#c56f6d"/>
<ellipse cx="205.8" cy="93.7" rx="2.5" ry="2.0" fill="#c56f6d"/>
<ellipse cx="216.2" cy="77.1" rx="2.5" ry="2.0" fill="#cb72d0"/>
<ellipse cx="224.6" cy="82.8" rx="2.5" ry="2.0" fill="#c56f6d"/>
<ellipse cx="269.4" cy="65.5" rx="2.5" ry="2.0" fill="#cb72d0"/>
<ellipse cx="278.0" cy="76.7" rx="2.5" ry="2.0" fill="#cb72d0"/>
<ellipse cx="291.0" cy="73.8" rx="2.5" ry="2.0" fill="#cb72d0"/>
<ellipse cx="256.4" cy="90.1" rx="2.5" ry="2.0" fill="#cb72d0"/>
<ellipse cx="275.1" cy="91.1" rx="2.5" ry="2.0" fill="#cb72d0"/>
<ellipse cx="276.0" cy="93.2" rx="2.5" ry="2.0" fill="#cb72d0"/>
<ellipse cx="284.6" cy="92.0" rx="2.5" ry="2.0" fill="#cb72d0"/>
<ellipse cx="292.4" cy="92.7" rx="2.5" ry="2.0" fill="#cb72d0"/>
<ellipse cx="317.5" cy="54.2" rx="2.5" ry="2.0" fill="#cb72d0"/>
<ellipse cx="304.9" cy="54.7" rx="2.5" ry="2.0" fill="#cb72d0"/>
<ellipse cx="296.7" cy="58.0" rx="2.5" ry="2.0" fill="#cb72d0"/>
<ellipse cx="308.8" cy="65.8" rx="2.5" ry="2.0" fill="#cb72d0"/>
<ellipse cx="306.2" cy="72.7" rx="2.5" ry="2.0" fill="#cb72d0"/>
<ellipse cx="318.9" cy="76.2" rx="2.5" ry="2.0" fill="#cb72d0"/>
<ellipse cx="327.5" cy="77.2" rx="2.5" ry="2.0" fill="#cb72d0"/>
<ellipse cx="334.5" cy="81.9" rx="2.5" ry="2.0" fill="#cb72d0"/>
<ellipse cx="333.9" cy="87.6" rx="2.5" ry="2.0" fill="#cb72d0"/>
<ellipse cx="336.2" cy="69.4" rx="2.5" ry="2.0" fill="#cb72d0"/>
<ellipse cx="339.7" cy="74.6" rx="2.5" ry="2.0" fill="#cb72d0"/>
<ellipse cx="356.4" cy="26.9" rx="2.5" ry="2.0" fill="#cb72d0"/>
<ellipse cx="363.0" cy="33.4" rx="2.5" ry="2.0" fill="#cb72d0"/>
<ellipse cx="364.8" cy="59.1" rx="2.5" ry="2.0" fill="#cb72d0"/>
<ellipse cx="363.7" cy="69.4" rx="2.5" ry="2.0" fill="#cb72d0"/>
<ellipse cx="382.1" cy="76.7" rx="2.5" ry="2.0" fill="#cb72d0"/>
<ellipse cx="365.1" cy="84.5" rx="2.5" ry="2.0" fill="#cb72d0"/>
<ellipse cx="350.7" cy="83.3" rx="2.5" ry="2.0" fill="#cb72d0"/>
<ellipse cx="348.7" cy="88.0" rx="2.5" ry="2.0" fill="#cb72d0"/>
<ellipse cx="160.5" cy="104.2" rx="2.5" ry="2.0" fill="#c56f6d"/>
<ellipse cx="163.9" cy="115.2" rx="2.5" ry="2.0" fill="#c56f6d"/>
<ellipse cx="173.8" cy="115.2" rx="2.5" ry="2.0" fill="#c56f6d"/>
<ellipse cx="179.3" cy="109.8" rx="2.5" ry="2.0" fill="#c56f6d"/>
<ellipse cx="138.0" cy="104.5" rx="2.5" ry="2.0" fill="#62b04a"/>
<ellipse cx="141.8" cy="111.7" rx="2.5" ry="2.0" fill="#62b04a"/>
<ellipse cx="153.9" cy="111.4" rx="2.5" ry="2.0" fill="#62b04a"/>
<ellipse cx="160.8" cy="109.4" rx="2.5" ry="2.0" fill="#62b04a"/>
<ellipse cx="164.3" cy="109.4" rx="2.5" ry="2.0" fill="#62b04a"/>
<ellipse cx="168.9" cy="116.9" rx="2.5" ry="2.0" fill="#62b04a"/>
<ellipse cx="167.2" cy="119.2" rx="2.5" ry="2.0" fill="#62b04a"/>
<ellipse cx="159.7" cy="121.8" rx="2.5" ry="2.0" fill="#62b04a"/>
<ellipse cx="161.4" cy="124.4" rx="2.5" ry="2.0" fill="#62b04a"/>
<ellipse cx="164.8" cy="124.4" rx="2.5" ry="2.0" fill="#62b04a"/>
<ellipse cx="149.8" cy="123.6" rx="2.5" ry="2.0" fill="#62b04a"/>
<ellipse cx="141.5" cy="125.6" rx="2.5" ry="2.0" fill="#62b04a"/>
<ellipse cx="149.0" cy="131.9" rx="2.5" ry="2.0" fill="#62b04a"/>
<ellipse cx="155.6" cy="129.3" rx="2.5" ry="2.0" fill="#62b04a"/>
<ellipse cx="159.1" cy="129.6" rx="2.5" ry="2.0" fill="#62b04a"/>
<ellipse cx="163.1" cy="129.4" rx="2.5" ry="2.0" fill="#62b04a"/>
<ellipse cx="166.0" cy="129.6" rx="2.5" ry="2.0" fill="#62b04a"/>
<ellipse cx="169.5" cy="129.6" rx="2.5" ry="2.0" fill="#62b04a"/>
<ellipse cx="172.9" cy="129.6" rx="2.5" ry="2.0" fill="#62b04a"/>
<ellipse cx="158.5" cy="136.5" rx="2.5" ry="2.0" fill="#62b04a"/>
<ellipse cx="165.4" cy="135.4" rx="2.5" ry="2.0" fill="#62b04a"/>
<ellipse cx="169.5" cy="134.8" rx="2.5" ry="2.0" fill="#62b04a"/>
<ellipse cx="172.3" cy="134.8" rx="2.5" ry="2.0" fill="#62b04a"/>
<ellipse cx="175.2" cy="134.2" rx="2.5" ry="2.0" fill="#62b04a"/>
<ellipse cx="178.1" cy="135.4" rx="2.5" ry="2.0" fill="#62b04a"/>
<ellipse cx="176.4" cy="122.7" rx="2.5" ry="2.0" fill="#62b04a"/>
<ellipse cx="141.8" cy="140.0" rx="2.5" ry="2.0" fill="#62b04a"/>
<ellipse cx="169.5" cy="141.2" rx="2.5" ry="2.0" fill="#62b04a"/>
<ellipse cx="173.5" cy="140.6" rx="2.5" ry="2.0" fill="#62b04a"/>
<ellipse cx="170.8" cy="121.8" rx="2.5" ry="2.0" fill="#cb72d0"/>
<ellipse cx="180.1" cy="102.8" rx="2.5" ry="2.0" fill="#cb72d0"/>
<ellipse cx="156.8" cy="145.2" rx="2.5" ry="2.0" fill="#62b04a"/>
<ellipse cx="160.0" cy="147.5" rx="2.5" ry="2.0" fill="#62b04a"/>
<ellipse cx="162.5" cy="151.2" rx="2.5" ry="2.0" fill="#62b04a"/>
<ellipse cx="165.4" cy="152.1" rx="2.5" ry="2.0" fill="#62b04a"/>
<ellipse cx="168.3" cy="149.4" rx="2.5" ry="2.0" fill="#62b04a"/>
<ellipse cx="170.0" cy="156.0" rx="2.5" ry="2.0" fill="#62b04a"/>
<ellipse cx="155.4" cy="154.0" rx="2.5" ry="2.0" fill="#62b04a"/>
<ellipse cx="161.2" cy="160.6" rx="2.5" ry="2.0" fill="#62b04a"/>
<ellipse cx="176.4" cy="169.4" rx="2.5" ry="2.0" fill="#62b04a"/>
<ellipse cx="178.7" cy="158.1" rx="2.5" ry="2.0" fill="#62b04a"/>
<ellipse cx="178.1" cy="181.7" rx="2.5" ry="2.0" fill="#62b04a"/>
<ellipse cx="172.3" cy="144.2" rx="2.5" ry="2.0" fill="#62b04a"/>
<ellipse cx="177.5" cy="145.4" rx="2.5" ry="2.0" fill="#62b04a"/>
<ellipse cx="178.7" cy="148.8" rx="2.5" ry="2.0" fill="#62b04a"/>
<ellipse cx="179.8" cy="151.2" rx="2.5" ry="2.0" fill="#62b04a"/>
<ellipse cx="149.0" cy="145.7" rx="2.5" ry="2.0" fill="#70b6b9"/>
<ellipse cx="180.4" cy="178.8" rx="2.5" ry="2.0" fill="#70b6b9"/>
<ellipse cx="184.3" cy="117.9" rx="2.5" ry="2.0" fill="#c56f6d"/>
<ellipse cx="200.4" cy="115.8" rx="2.5" ry="2.0" fill="#c56f6d"/>
<ellipse cx="210.8" cy="123.7" rx="2.5" ry="2.0" fill="#c56f6d"/>
<ellipse cx="205.6" cy="111.6" rx="2.5" ry="2.0" fill="#c56f6d"/>
<ellipse cx="212.0" cy="143.9" rx="2.5" ry="2.0" fill="#c56f6d"/>
<ellipse cx="191.2" cy="114.5" rx="2.5" ry="2.0" fill="#62b04a"/>
<ellipse cx="181.4" cy="123.7" rx="2.5" ry="2.0" fill="#62b04a"/>
<ellipse cx="177.9" cy="127.7" rx="2.5" ry="2.0" fill="#62b04a"/>
<ellipse cx="182.5" cy="128.3" rx="2.5" ry="2.0" fill="#62b04a"/>
<ellipse cx="188.9" cy="127.2" rx="2.5" ry="2.0" fill="#62b04a"/>
<ellipse cx="194.7" cy="129.5" rx="2.5" ry="2.0" fill="#62b04a"/>
<ellipse cx="199.8" cy="132.3" rx="2.5" ry="2.0" fill="#62b04a"/>
<ellipse cx="213.7" cy="129.2" rx="2.5" ry="2.0" fill="#62b04a"/>
<ellipse cx="218.3" cy="127.2" rx="2.5" ry="2.0" fill="#62b04a"/>
<ellipse cx="181.4" cy="135.2" rx="2.5" ry="2.0" fill="#62b04a"/>
<ellipse cx="186.0" cy="135.2" rx="2.5" ry="2.0" fill="#62b04a"/>
<ellipse cx="190.0" cy="137.0" rx="2.5" ry="2.0" fill="#62b04a"/>
<ellipse cx="192.3" cy="135.8" rx="2.5" ry="2.0" fill="#62b04a"/>
<ellipse cx="193.5" cy="141.0" rx="2.5" ry="2.0" fill="#62b04a"/>
<ellipse cx="187.2" cy="139.3" rx="2.5" ry="2.0" fill="#62b04a"/>
<ellipse cx="175.6" cy="141.6" rx="2.5" ry="2.0" fill="#62b04a"/>
<ellipse cx="179.1" cy="142.2" rx="2.5" ry="2.0" fill="#62b04a"/>
<ellipse cx="181.4" cy="145.6" rx="2.5" ry="2.0" fill="#62b04a"/>
<ellipse cx="184.8" cy="146.8" rx="2.5" ry="2.0" fill="#62b04a"/>
<ellipse cx="188.3" cy="148.5" rx="2.5" ry="2.0" fill="#62b04a"/>
<ellipse cx="191.2" cy="149.1" rx="2.5" ry="2.0" fill="#62b04a"/>
<ellipse cx="176.8" cy="150.2" rx="2.5" ry="2.0" fill="#62b04a"/>
<ellipse cx="198.7" cy="123.1" rx="2.5" ry="2.0" fill="#cb72d0"/>
<ellipse cx="188.3" cy="132.7" rx="2.5" ry="2.0" fill="#cb72d0"/>
<ellipse cx="183.5" cy="141.2" rx="2.5" ry="2.0" fill="#cb72d0"/>
<ellipse cx="216.0" cy="114.2" rx="2.5" ry="2.0" fill="#cb72d0"/>
<ellipse cx="225.2" cy="116.8" rx="2.5" ry="2.0" fill="#cb72d0"/>
<ellipse cx="220.6" cy="126.0" rx="2.5" ry="2.0" fill="#cb72d0"/>
<ellipse cx="224.7" cy="124.3" rx="2.5" ry="2.0" fill="#cb72d0"/>
<ellipse cx="213.7" cy="139.3" rx="2.5" ry="2.0" fill="#cb72d0"/>
<ellipse cx="224.1" cy="141.6" rx="2.5" ry="2.0" fill="#cb72d0"/>
<ellipse cx="206.8" cy="117.9" rx="2.5" ry="2.0" fill="#70b6b9"/>
<ellipse cx="217.2" cy="153.1" rx="2.5" ry="2.0" fill="#70b6b9"/>
<ellipse cx="227.5" cy="149.1" rx="2.5" ry="2.0" fill="#70b6b9"/>
<ellipse cx="214.8" cy="157.7" rx="2.5" ry="2.0" fill="#70b6b9"/>
<ellipse cx="218.3" cy="142.2" rx="2.5" ry="2.0" fill="#6b84dc"/>
<ellipse cx="171.8" cy="194.2" rx="2.5" ry="2.0" fill="#70b6b9"/>
<ellipse cx="168.9" cy="201.9" rx="2.5" ry="2.0" fill="#70b6b9"/>
<ellipse cx="190.0" cy="160.5" rx="2.5" ry="2.0" fill="#62b04a"/>
<ellipse cx="229.3" cy="169.4" rx="2.5" ry="2.0" fill="#62b04a"/>
<ellipse cx="198.7" cy="162.2" rx="2.5" ry="2.0" fill="#70b6b9"/>
<ellipse cx="203.3" cy="162.5" rx="2.5" ry="2.0" fill="#70b6b9"/>
<ellipse cx="210.8" cy="172.9" rx="2.5" ry="2.0" fill="#70b6b9"/>
<ellipse cx="219.5" cy="174.6" rx="2.5" ry="2.0" fill="#70b6b9"/>
<ellipse cx="188.1" cy="174.8" rx="2.5" ry="2.0" fill="#70b6b9"/>
<ellipse cx="185.4" cy="179.6" rx="2.5" ry="2.0" fill="#70b6b9"/>
<ellipse cx="194.1" cy="180.2" rx="2.5" ry="2.0" fill="#70b6b9"/>
<ellipse cx="183.1" cy="191.0" rx="2.5" ry="2.0" fill="#70b6b9"/>
<ellipse cx="190.0" cy="190.8" rx="2.5" ry="2.0" fill="#70b6b9"/>
<ellipse cx="200.4" cy="190.8" rx="2.5" ry="2.0" fill="#70b6b9"/>
<ellipse cx="191.8" cy="196.0" rx="2.5" ry="2.0" fill="#70b6b9"/>
<ellipse cx="200.4" cy="196.0" rx="2.5" ry="2.0" fill="#70b6b9"/>
<ellipse cx="210.8" cy="196.3" rx="2.5" ry="2.0" fill="#70b6b9"/>
<ellipse cx="221.2" cy="194.2" rx="2.5" ry="2.0" fill="#70b6b9"/>
<ellipse cx="199.3" cy="201.2" rx="2.5" ry="2.0" fill="#70b6b9"/>
<ellipse cx="218.9" cy="162.8" rx="2.5" ry="2.0" fill="#cb72d0"/>
<ellipse cx="229.3" cy="160.5" rx="2.5" ry="2.0" fill="#cb72d0"/>
<ellipse cx="226.4" cy="182.7" rx="2.5" ry="2.0" fill="#6b84dc"/>
<ellipse cx="206.2" cy="201.2" rx="2.5" ry="2.0" fill="#6b84dc"/>
<ellipse cx="228.1" cy="187.3" rx="2.5" ry="2.0" fill="#a7a132"/>
<ellipse cx="185.4" cy="206.7" rx="2.5" ry="2.0" fill="#70b6b9"/>
<ellipse cx="221.2" cy="222.1" rx="2.5" ry="2.0" fill="#a7a132"/>
<ellipse cx="230.8" cy="158.7" rx="2.5" ry="2.0" fill="#cb72d0"/>
<ellipse cx="229.7" cy="183.5" rx="2.5" ry="2.0" fill="#6b84dc"/>
<ellipse cx="241.2" cy="180.2" rx="2.5" ry="2.0" fill="#6b84dc"/>
<ellipse cx="249.8" cy="169.6" rx="2.5" ry="2.0" fill="#6b84dc"/>
<ellipse cx="266.0" cy="171.7" rx="2.5" ry="2.0" fill="#6b84dc"/>
<ellipse cx="256.2" cy="178.8" rx="2.5" ry="2.0" fill="#6b84dc"/>
<ellipse cx="266.6" cy="180.6" rx="2.5" ry="2.0" fill="#6b84dc"/>
<ellipse cx="273.5" cy="180.2" rx="2.5" ry="2.0" fill="#6b84dc"/>
<ellipse cx="277.5" cy="178.6" rx="2.5" ry="2.0" fill="#6b84dc"/>
<ellipse cx="256.8" cy="189.2" rx="2.5" ry="2.0" fill="#6b84dc"/>
<ellipse cx="236.0" cy="192.7" rx="2.5" ry="2.0" fill="#6b84dc"/>
<ellipse cx="241.8" cy="194.4" rx="2.5" ry="2.0" fill="#6b84dc"/>
<ellipse cx="246.4" cy="170.5" rx="2.5" ry="2.0" fill="#a7a132"/>
<ellipse cx="251.0" cy="173.1" rx="2.5" ry="2.0" fill="#a7a132"/>
<ellipse cx="251.6" cy="176.0" rx="2.5" ry="2.0" fill="#a7a132"/>
<ellipse cx="236.0" cy="190.4" rx="2.5" ry="2.0" fill="#a7a132"/>
<ellipse cx="242.3" cy="188.7" rx="2.5" ry="2.0" fill="#a7a132"/>
<ellipse cx="249.8" cy="183.5" rx="2.5" ry="2.0" fill="#a7a132"/>
<ellipse cx="263.1" cy="181.7" rx="2.5" ry="2.0" fill="#a7a132"/>
<ellipse cx="271.2" cy="176.8" rx="2.5" ry="2.0" fill="#a7a132"/>
<ellipse cx="278.1" cy="155.2" rx="2.5" ry="2.0" fill="#a7a132"/>
<ellipse cx="278.7" cy="167.9" rx="2.5" ry="2.0" fill="#a7a132"/>
<ellipse cx="255.6" cy="193.8" rx="2.5" ry="2.0" fill="#a7a132"/>
<ellipse cx="265.4" cy="195.6" rx="2.5" ry="2.0" fill="#a7a132"/>
<ellipse cx="251.0" cy="196.7" rx="2.5" ry="2.0" fill="#a7a132"/>
<ellipse cx="241.2" cy="196.7" rx="2.5" ry="2.0" fill="#a7a132"/>
<ellipse cx="239.5" cy="198.3" rx="2.5" ry="2.0" fill="#a7a132"/>
<ellipse cx="262.0" cy="201.5" rx="2.5" ry="2.0" fill="#a7a132"/>
<ellipse cx="266.0" cy="204.8" rx="2.5" ry="2.0" fill="#a7a132"/>
<ellipse cx="249.8" cy="202.5" rx="2.5" ry="2.0" fill="#a7a132"/>
<ellipse cx="234.8" cy="210.2" rx="2.5" ry="2.0" fill="#a7a132"/>
<ellipse cx="262.0" cy="217.5" rx="2.5" ry="2.0" fill="#a7a132"/>
<ellipse cx="233.7" cy="201.0" rx="2.5" ry="2.0" fill="#6b84dc"/>
<ellipse cx="241.8" cy="214.2" rx="2.5" ry="2.0" fill="#6b84dc"/>
<ellipse cx="254.5" cy="199.8" rx="2.5" ry="2.0" fill="#6b84dc"/>
<ellipse cx="267.2" cy="201.0" rx="2.5" ry="2.0" fill="#6b84dc"/>
<ellipse cx="273.5" cy="198.7" rx="2.5" ry="2.0" fill="#6b84dc"/>
<ellipse cx="278.7" cy="200.2" rx="2.5" ry="2.0" fill="#6b84dc"/>
<ellipse cx="276.4" cy="204.8" rx="2.5" ry="2.0" fill="#6b84dc"/>
<ellipse cx="262.0" cy="214.5" rx="2.5" ry="2.0" fill="#6b84dc"/>
<ellipse cx="197.2" cy="99.8" rx="2.5" ry="2.0" fill="#c56f6d"/>
<ellipse cx="216.8" cy="101.8" rx="2.5" ry="2.0" fill="#c56f6d"/>
<ellipse cx="226.0" cy="100.2" rx="2.5" ry="2.0" fill="#c56f6d"/>
<ellipse cx="231.8" cy="98.7" rx="2.5" ry="2.0" fill="#c56f6d"/>
<ellipse cx="197.7" cy="107.3" rx="2.5" ry="2.0" fill="#c56f6d"/>
<ellipse cx="190.8" cy="109.8" rx="2.5" ry="2.0" fill="#c56f6d"/>
<ellipse cx="181.6" cy="109.0" rx="2.5" ry="2.0" fill="#c56f6d"/>
<ellipse cx="208.1" cy="111.9" rx="2.5" ry="2.0" fill="#c56f6d"/>
<ellipse cx="211.6" cy="114.8" rx="2.5" ry="2.0" fill="#c56f6d"/>
<ellipse cx="205.8" cy="103.6" rx="2.5" ry="2.0" fill="#cb72d0"/>
<ellipse cx="215.6" cy="99.8" rx="2.5" ry="2.0" fill="#cb72d0"/>
<ellipse cx="218.5" cy="99.2" rx="2.5" ry="2.0" fill="#cb72d0"/>
<ellipse cx="232.9" cy="108.5" rx="2.5" ry="2.0" fill="#cb72d0"/>
<ellipse cx="232.9" cy="120.2" rx="2.5" ry="2.0" fill="#cb72d0"/>
<ellipse cx="238.1" cy="118.8" rx="2.5" ry="2.0" fill="#cb72d0"/>
<ellipse cx="184.5" cy="111.9" rx="2.5" ry="2.0" fill="#62b04a"/>
<ellipse cx="251.5" cy="102.8" rx="2.5" ry="2.0" fill="#cb72d0"/>
<ellipse cx="245.4" cy="108.6" rx="2.5" ry="2.0" fill="#cb72d0"/>
<ellipse cx="255.8" cy="108.8" rx="2.5" ry="2.0" fill="#cb72d0"/>
<ellipse cx="259.8" cy="108.6" rx="2.5" ry="2.0" fill="#cb72d0"/>
<ellipse cx="252.9" cy="112.9" rx="2.5" ry="2.0" fill="#cb72d0"/>
<ellipse cx="251.2" cy="115.8" rx="2.5" ry="2.0" fill="#cb72d0"/>
<ellipse cx="243.7" cy="115.2" rx="2.5" ry="2.0" fill="#cb72d0"/>
<ellipse cx="251.8" cy="118.7" rx="2.5" ry="2.0" fill="#cb72d0"/>
<ellipse cx="256.4" cy="120.4" rx="2.5" ry="2.0" fill="#cb72d0"/>
<ellipse cx="259.8" cy="121.0" rx="2.5" ry="2.0" fill="#cb72d0"/>
<ellipse cx="232.7" cy="125.0" rx="2.5" ry="2.0" fill="#cb72d0"/>
<ellipse cx="272.0" cy="104.8" rx="2.5" ry="2.0" fill="#cb72d0"/>
<ellipse cx="276.6" cy="104.8" rx="2.5" ry="2.0" fill="#cb72d0"/>
<ellipse cx="277.2" cy="96.7" rx="2.5" ry="2.0" fill="#cb72d0"/>
<ellipse cx="281.8" cy="96.7" rx="2.5" ry="2.0" fill="#cb72d0"/>
<ellipse cx="288.7" cy="101.3" rx="2.5" ry="2.0" fill="#cb72d0"/>
<ellipse cx="272.5" cy="116.9" rx="2.5" ry="2.0" fill="#cb72d0"/>
<ellipse cx="275.4" cy="114.8" rx="2.5" ry="2.0" fill="#cb72d0"/>
<ellipse cx="281.8" cy="115.8" rx="2.5" ry="2.0" fill="#cb72d0"/>
<ellipse cx="288.7" cy="114.0" rx="2.5" ry="2.0" fill="#cb72d0"/>
<ellipse cx="283.5" cy="120.4" rx="2.5" ry="2.0" fill="#cb72d0"/>
<ellipse cx="284.7" cy="124.8" rx="2.5" ry="2.0" fill="#cb72d0"/>
<ellipse cx="272.0" cy="124.8" rx="2.5" ry="2.0" fill="#cb72d0"/>
<ellipse cx="274.3" cy="125.9" rx="2.5" ry="2.0" fill="#cb72d0"/>
<ellipse cx="273.7" cy="129.6" rx="2.5" ry="2.0" fill="#cb72d0"/>
<ellipse cx="236.8" cy="131.9" rx="2.5" ry="2.0" fill="#cb72d0"/>
<ellipse cx="257.5" cy="130.8" rx="2.5" ry="2.0" fill="#cb72d0"/>
<ellipse cx="244.8" cy="136.0" rx="2.5" ry="2.0" fill="#cb72d0"/>
<ellipse cx="248.3" cy="136.0" rx="2.5" ry="2.0" fill="#cb72d0"/>
<ellipse cx="235.0" cy="138.3" rx="2.5" ry="2.0" fill="#cb72d0"/>
<ellipse cx="241.4" cy="140.0" rx="2.5" ry="2.0" fill="#cb72d0"/>
<ellipse cx="245.4" cy="106.3" rx="2.5" ry="2.0" fill="#70b6b9"/>
<ellipse cx="244.8" cy="132.5" rx="2.5" ry="2.0" fill="#70b6b9"/>
<ellipse cx="249.5" cy="132.2" rx="2.5" ry="2.0" fill="#70b6b9"/>
<ellipse cx="242.5" cy="119.5" rx="2.5" ry="2.0" fill="#a7a132"/>
<ellipse cx="244.8" cy="122.7" rx="2.5" ry="2.0" fill="#a7a132"/>
<ellipse cx="250.6" cy="125.0" rx="2.5" ry="2.0" fill="#a7a132"/>
<ellipse cx="259.8" cy="116.3" rx="2.5" ry="2.0" fill="#a7a132"/>
<ellipse cx="278.3" cy="110.6" rx="2.5" ry="2.0" fill="#a7a132"/>
<ellipse cx="332.9" cy="89.8" rx="2.5" ry="2.0" fill="#cb72d0"/>
<ellipse cx="338.1" cy="94.6" rx="2.5" ry="2.0" fill="#cb72d0"/>
<ellipse cx="295.4" cy="93.2" rx="2.5" ry="2.0" fill="#cb72d0"/>
<ellipse cx="294.8" cy="107.3" rx="2.5" ry="2.0" fill="#cb72d0"/>
<ellipse cx="316.2" cy="99.2" rx="2.5" ry="2.0" fill="#cb72d0"/>
<ellipse cx="310.4" cy="105.0" rx="2.5" ry="2.0" fill="#cb72d0"/>
<ellipse cx="322.5" cy="105.6" rx="2.5" ry="2.0" fill="#cb72d0"/>
<ellipse cx="337.5" cy="103.3" rx="2.5" ry="2.0" fill="#cb72d0"/>
<ellipse cx="344.3" cy="94.6" rx="2.5" ry="2.0" fill="#cb72d0"/>
<ellipse cx="348.9" cy="96.3" rx="2.5" ry="2.0" fill="#cb72d0"/>
<ellipse cx="350.0" cy="102.1" rx="2.5" ry="2.0" fill="#cb72d0"/>
<ellipse cx="349.5" cy="106.7" rx="2.5" ry="2.0" fill="#cb72d0"/>
<ellipse cx="365.0" cy="86.8" rx="2.5" ry="2.0" fill="#cb72d0"/>
<ellipse cx="367.3" cy="90.9" rx="2.5" ry="2.0" fill="#cb72d0"/>
<ellipse cx="302.3" cy="109.8" rx="2.5" ry="2.0" fill="#cb72d0"/>
<ellipse cx="294.3" cy="128.3" rx="2.5" ry="2.0" fill="#cb72d0"/>
<ellipse cx="300.0" cy="120.8" rx="2.5" ry="2.0" fill="#cb72d0"/>
<ellipse cx="303.5" cy="130.9" rx="2.5" ry="2.0" fill="#cb72d0"/>
<ellipse cx="309.3" cy="127.9" rx="2.5" ry="2.0" fill="#cb72d0"/>
<ellipse cx="319.7" cy="107.2" rx="2.5" ry="2.0" fill="#cb72d0"/>
<ellipse cx="331.2" cy="116.7" rx="2.5" ry="2.0" fill="#cb72d0"/>
<ellipse cx="323.7" cy="121.7" rx="2.5" ry="2.0" fill="#cb72d0"/>
<ellipse cx="324.8" cy="113.3" rx="2.5" ry="2.0" fill="#a7a132"/>
<ellipse cx="297.2" cy="139.8" rx="2.5" ry="2.0" fill="#a7a132"/>
<ellipse cx="335.2" cy="137.5" rx="2.5" ry="2.0" fill="#a7a132"/>
<ellipse cx="335.2" cy="140.4" rx="2.5" ry="2.0" fill="#a7a132"/>
<ellipse cx="331.8" cy="146.7" rx="2.5" ry="2.0" fill="#a7a132"/>
<ellipse cx="337.5" cy="145.6" rx="2.5" ry="2.0" fill="#a7a132"/>
<ellipse cx="352.9" cy="114.4" rx="2.5" ry="2.0" fill="#cb72d0"/>
<ellipse cx="358.5" cy="143.3" rx="2.5" ry="2.0" fill="#a7a132"/>
<ellipse cx="346.0" cy="147.3" rx="2.5" ry="2.0" fill="#a7a132"/>
<ellipse cx="291.2" cy="154.8" rx="2.5" ry="2.0" fill="#a7a132"/>
<ellipse cx="297.5" cy="152.7" rx="2.5" ry="2.0" fill="#a7a132"/>
<ellipse cx="292.3" cy="160.5" rx="2.5" ry="2.0" fill="#a7a132"/>
<ellipse cx="297.5" cy="165.6" rx="2.5" ry="2.0" fill="#a7a132"/>
<ellipse cx="300.4" cy="164.5" rx="2.5" ry="2.0" fill="#a7a132"/>
<ellipse cx="306.8" cy="155.6" rx="2.5" ry="2.0" fill="#a7a132"/>
<ellipse cx="310.2" cy="151.3" rx="2.5" ry="2.0" fill="#a7a132"/>
<ellipse cx="317.7" cy="152.9" rx="2.5" ry="2.0" fill="#a7a132"/>
<ellipse cx="310.2" cy="161.3" rx="2.5" ry="2.0" fill="#a7a132"/>
<ellipse cx="311.4" cy="163.7" rx="2.5" ry="2.0" fill="#a7a132"/>
<ellipse cx="316.6" cy="161.9" rx="2.5" ry="2.0" fill="#a7a132"/>
<ellipse cx="318.9" cy="164.2" rx="2.5" ry="2.0" fill="#a7a132"/>
<ellipse cx="313.7" cy="169.4" rx="2.5" ry="2.0" fill="#a7a132"/>
<ellipse cx="310.8" cy="174.4" rx="2.5" ry="2.0" fill="#a7a132"/>
<ellipse cx="316.0" cy="176.3" rx="2.5" ry="2.0" fill="#a7a132"/>
<ellipse cx="318.9" cy="176.7" rx="2.5" ry="2.0" fill="#a7a132"/>
<ellipse cx="312.5" cy="181.0" rx="2.5" ry="2.0" fill="#a7a132"/>
<ellipse cx="305.6" cy="180.4" rx="2.5" ry="2.0" fill="#a7a132"/>
<ellipse cx="287.2" cy="167.7" rx="2.5" ry="2.0" fill="#a7a132"/>
<ellipse cx="287.2" cy="171.7" rx="2.5" ry="2.0" fill="#a7a132"/>
<ellipse cx="286.6" cy="176.0" rx="2.5" ry="2.0" fill="#a7a132"/>
<ellipse cx="293.5" cy="178.7" rx="2.5" ry="2.0" fill="#a7a132"/>
<ellipse cx="281.4" cy="181.0" rx="2.5" ry="2.0" fill="#a7a132"/>
<ellipse cx="287.7" cy="183.8" rx="2.5" ry="2.0" fill="#a7a132"/>
<ellipse cx="299.3" cy="186.7" rx="2.5" ry="2.0" fill="#a7a132"/>
<ellipse cx="329.3" cy="146.3" rx="2.5" ry="2.0" fill="#a7a132"/>
<ellipse cx="330.4" cy="166.0" rx="2.5" ry="2.0" fill="#a7a132"/>
<ellipse cx="348.1" cy="150.4" rx="2.5" ry="2.0" fill="#a7a132"/>
<ellipse cx="336.0" cy="170.9" rx="2.5" ry="2.0" fill="#a7a132"/>
<ellipse cx="338.9" cy="174.0" rx="2.5" ry="2.0" fill="#a7a132"/>
<ellipse cx="340.6" cy="177.5" rx="2.5" ry="2.0" fill="#a7a132"/>
<ellipse cx="332.5" cy="184.4" rx="2.5" ry="2.0" fill="#a7a132"/>
<ellipse cx="368.9" cy="174.0" rx="2.5" ry="2.0" fill="#a7a132"/>
<ellipse cx="288.9" cy="192.1" rx="2.5" ry="2.0" fill="#a7a132"/>
<ellipse cx="292.3" cy="190.4" rx="2.5" ry="2.0" fill="#a7a132"/>
<ellipse cx="310.8" cy="188.1" rx="2.5" ry="2.0" fill="#a7a132"/>
<ellipse cx="301.9" cy="202.8" rx="2.5" ry="2.0" fill="#a7a132"/>
<ellipse cx="320.6" cy="201.3" rx="2.5" ry="2.0" fill="#a7a132"/>
<ellipse cx="328.7" cy="206.5" rx="2.5" ry="2.0" fill="#a7a132"/>
<ellipse cx="321.8" cy="221.3" rx="2.5" ry="2.0" fill="#a7a132"/>
<ellipse cx="335.4" cy="197.9" rx="2.5" ry="2.0" fill="#a7a132"/>
<ellipse cx="218.5" cy="123.2" rx="2.5" ry="2.0" fill="#cb72d0"/>
<ellipse cx="252.5" cy="146.8" rx="2.5" ry="2.0" fill="#cb72d0"/>
<ellipse cx="264.1" cy="146.8" rx="2.5" ry="2.0" fill="#cb72d0"/>
<path d="M121.1,17 V230.6 H389.6" fill="none" stroke="#111" stroke-width="1.4"/>
<line x1="117.6" y1="37.5" x2="121" y2="37.5" stroke="#111" stroke-width="1"/>
<text x="104.49" y="40.80" font-size="9.2" font-weight="normal" fill="#1a1a1a" stroke="#1a1a1a" stroke-width="0.22" textLength="10.23" lengthAdjust="spacingAndGlyphs">30</text>
<line x1="117.6" y1="107.7" x2="121" y2="107.7" stroke="#111" stroke-width="1"/>
<text x="104.49" y="111.00" font-size="9.2" font-weight="normal" fill="#1a1a1a" stroke="#1a1a1a" stroke-width="0.22" textLength="10.23" lengthAdjust="spacingAndGlyphs">20</text>
<line x1="117.6" y1="177.9" x2="121" y2="177.9" stroke="#111" stroke-width="1"/>
<text x="104.49" y="181.20" font-size="9.2" font-weight="normal" fill="#1a1a1a" stroke="#1a1a1a" stroke-width="0.22" textLength="10.23" lengthAdjust="spacingAndGlyphs">10</text>
<line x1="130.8" y1="231" x2="130.8" y2="234.2" stroke="#111" stroke-width="1"/>
<text x="128.25" y="245.60" font-size="9.2" font-weight="normal" fill="#1a1a1a" stroke="#1a1a1a" stroke-width="0.22" textLength="5.12" lengthAdjust="spacingAndGlyphs">0</text>
<line x1="186.0" y1="231" x2="186.0" y2="234.2" stroke="#111" stroke-width="1"/>
<text x="183.40" y="245.60" font-size="9.2" font-weight="normal" fill="#1a1a1a" stroke="#1a1a1a" stroke-width="0.22" textLength="5.12" lengthAdjust="spacingAndGlyphs">5</text>
<line x1="241.1" y1="231" x2="241.1" y2="234.2" stroke="#111" stroke-width="1"/>
<text x="235.99" y="245.60" font-size="9.2" font-weight="normal" fill="#1a1a1a" stroke="#1a1a1a" stroke-width="0.22" textLength="10.23" lengthAdjust="spacingAndGlyphs">10</text>
<line x1="296.2" y1="231" x2="296.2" y2="234.2" stroke="#111" stroke-width="1"/>
<text x="291.14" y="245.60" font-size="9.2" font-weight="normal" fill="#1a1a1a" stroke="#1a1a1a" stroke-width="0.22" textLength="10.23" lengthAdjust="spacingAndGlyphs">15</text>
<line x1="351.4" y1="231" x2="351.4" y2="234.2" stroke="#111" stroke-width="1"/>
<text x="346.29" y="245.60" font-size="9.2" font-weight="normal" fill="#1a1a1a" stroke="#1a1a1a" stroke-width="0.22" textLength="10.23" lengthAdjust="spacingAndGlyphs">20</text>
<text x="229.30" y="258.60" font-size="9.8" font-weight="normal" fill="#1a1a1a" stroke="#1a1a1a" stroke-width="0.22" textLength="52.69" lengthAdjust="spacingAndGlyphs">Component 2</text>
<text x="0" y="0" font-size="9.8" fill="#1a1a1a" stroke="#1a1a1a" stroke-width="0.22" textLength="51.69" lengthAdjust="spacingAndGlyphs" transform="translate(98.60,150.50) rotate(-90)">Component 1</text>
<text x="83.60" y="16.80" font-size="12.5" font-weight="bold" fill="#000" stroke="#000" stroke-width="0.3" textLength="7.92" lengthAdjust="spacingAndGlyphs">A</text>
<text x="147.40" y="83.70" font-size="8.8" font-weight="normal" fill="#1a1a1a" stroke="#1a1a1a" stroke-width="0.22" textLength="15.71" lengthAdjust="spacingAndGlyphs">HSC</text>
<text x="275.70" y="57.20" font-size="8.8" font-weight="normal" fill="#1a1a1a" stroke="#1a1a1a" stroke-width="0.22" textLength="16.72" lengthAdjust="spacingAndGlyphs">MEP</text>
<text x="129.80" y="136.70" font-size="8.8" font-weight="normal" fill="#1a1a1a" stroke="#1a1a1a" stroke-width="0.22" textLength="14.81" lengthAdjust="spacingAndGlyphs">MLP</text>
<text x="145.30" y="201.80" font-size="8.8" font-weight="normal" fill="#1a1a1a" stroke="#1a1a1a" stroke-width="0.22" textLength="17.68" lengthAdjust="spacingAndGlyphs">GMP</text>
<text x="236.70" y="211.80" font-size="8.8" font-weight="normal" fill="#1a1a1a" stroke="#1a1a1a" stroke-width="0.22" textLength="17.09" lengthAdjust="spacingAndGlyphs">ProB</text>
<text x="346.70" y="168.70" font-size="8.8" font-weight="normal" fill="#1a1a1a" stroke="#1a1a1a" stroke-width="0.22" textLength="15.20" lengthAdjust="spacingAndGlyphs">ETP</text>
<rect x="409.1" y="24.1" width="6.7" height="6.6" fill="#cf5fd0"/>
<text x="418.90" y="30.90" font-size="8.6" font-weight="normal" fill="#1a1a1a" stroke="#1a1a1a" stroke-width="0.22" textLength="17.33" lengthAdjust="spacingAndGlyphs">MEP</text>
<rect x="409.1" y="37.2" width="6.7" height="6.6" fill="#d05a6c"/>
<text x="418.90" y="43.98" font-size="8.6" font-weight="normal" fill="#1a1a1a" stroke="#1a1a1a" stroke-width="0.22" textLength="16.89" lengthAdjust="spacingAndGlyphs">HSC</text>
<rect x="409.1" y="50.3" width="6.7" height="6.6" fill="#45a03a"/>
<text x="418.90" y="57.06" font-size="8.6" font-weight="normal" fill="#1a1a1a" stroke="#1a1a1a" stroke-width="0.22" textLength="16.45" lengthAdjust="spacingAndGlyphs">MLP</text>
<rect x="409.1" y="63.3" width="6.7" height="6.6" fill="#7cc4c8"/>
<text x="418.90" y="70.14" font-size="8.6" font-weight="normal" fill="#1a1a1a" stroke="#1a1a1a" stroke-width="0.22" textLength="18.22" lengthAdjust="spacingAndGlyphs">GMP</text>
<rect x="409.1" y="76.4" width="6.7" height="6.6" fill="#5a78e0"/>
<text x="418.90" y="83.22" font-size="8.6" font-weight="normal" fill="#1a1a1a" stroke="#1a1a1a" stroke-width="0.22" textLength="17.78" lengthAdjust="spacingAndGlyphs">ProB</text>
<rect x="409.1" y="89.5" width="6.7" height="6.6" fill="#a89c2a"/>
<text x="418.90" y="96.30" font-size="8.6" font-weight="normal" fill="#1a1a1a" stroke="#1a1a1a" stroke-width="0.22" textLength="15.56" lengthAdjust="spacingAndGlyphs">ETP</text>
<clipPath id="cpB1"><rect x="38.95" y="296.6" width="147.05" height="155.60"/></clipPath>
<clipPath id="cpB2"><rect x="193.85" y="296.6" width="147.05" height="155.60"/></clipPath>
<clipPath id="cpB3"><rect x="349.2" y="296.6" width="146.70" height="155.60"/></clipPath>
<clipPath id="cpC1"><rect x="39.2" y="516.3" width="144.20" height="155.70"/></clipPath>
<clipPath id="cpC2"><rect x="191.1" y="517.4" width="146.20" height="154.70"/></clipPath>
<clipPath id="cpD"><rect x="366.8" y="515.7" width="146.20" height="156.50"/></clipPath>
<g clip-path="url(#cpB1)">
<line x1="73.1" y1="314.1" x2="56.0" y2="336.9" stroke="#eac6d1" stroke-width="1.0"/>
<line x1="56.0" y1="336.9" x2="64.5" y2="340.7" stroke="#eac6d1" stroke-width="1.0"/>
<line x1="64.5" y1="340.7" x2="59.6" y2="347.6" stroke="#eac6d1" stroke-width="1.0"/>
<line x1="59.6" y1="347.6" x2="62.6" y2="350.9" stroke="#eac6d1" stroke-width="1.0"/>
<line x1="68.2" y1="348.2" x2="74.2" y2="343.2" stroke="#eac6d1" stroke-width="1.0"/>
<line x1="68.2" y1="348.2" x2="62.6" y2="350.9" stroke="#eac6d1" stroke-width="1.0"/>
<line x1="74.2" y1="343.2" x2="76.9" y2="343.1" stroke="#eac6d1" stroke-width="1.0"/>
<line x1="76.9" y1="343.1" x2="78.8" y2="343.1" stroke="#eac6d1" stroke-width="1.0"/>
<line x1="78.8" y1="343.1" x2="90.0" y2="341.6" stroke="#eac6d1" stroke-width="1.0"/>
<line x1="57.4" y1="352.9" x2="61.4" y2="351.6" stroke="#eac6d1" stroke-width="1.0"/>
<line x1="61.4" y1="351.6" x2="62.6" y2="350.9" stroke="#eac6d1" stroke-width="1.0"/>
<line x1="61.4" y1="351.6" x2="65.6" y2="356.0" stroke="#eac6d1" stroke-width="1.0"/>
<line x1="73.5" y1="352.6" x2="71.8" y2="355.4" stroke="#eac6d1" stroke-width="1.0"/>
<line x1="73.5" y1="352.6" x2="77.9" y2="354.9" stroke="#eac6d1" stroke-width="1.0"/>
<line x1="81.9" y1="351.6" x2="84.3" y2="353.6" stroke="#eac6d1" stroke-width="1.0"/>
<line x1="69.9" y1="354.4" x2="71.8" y2="355.4" stroke="#eac6d1" stroke-width="1.0"/>
<line x1="69.9" y1="354.4" x2="65.6" y2="356.0" stroke="#eac6d1" stroke-width="1.0"/>
<line x1="65.6" y1="356.0" x2="67.8" y2="358.3" stroke="#eac6d1" stroke-width="1.0"/>
<line x1="44.7" y1="356.8" x2="47.3" y2="361.4" stroke="#eac6d1" stroke-width="1.0"/>
<line x1="56.0" y1="358.9" x2="59.6" y2="361.3" stroke="#eac6d1" stroke-width="1.0"/>
<line x1="67.8" y1="358.3" x2="70.2" y2="360.3" stroke="#bae1e1" stroke-width="1.0"/>
<line x1="77.9" y1="354.9" x2="80.3" y2="355.6" stroke="#eac6d1" stroke-width="1.0"/>
<line x1="80.3" y1="355.6" x2="84.3" y2="353.6" stroke="#e8c6e6" stroke-width="1.0"/>
<line x1="80.3" y1="355.6" x2="79.6" y2="358.1" stroke="#e8c6e6" stroke-width="1.0"/>
<line x1="82.4" y1="357.6" x2="79.6" y2="358.1" stroke="#eac6d1" stroke-width="1.0"/>
<line x1="82.4" y1="357.6" x2="84.3" y2="360.8" stroke="#eac6d1" stroke-width="1.0"/>
<line x1="90.0" y1="341.6" x2="94.5" y2="345.7" stroke="#e8c6e6" stroke-width="1.0"/>
<line x1="118.9" y1="333.1" x2="123.6" y2="341.3" stroke="#e8c6e6" stroke-width="1.0"/>
<line x1="123.6" y1="341.3" x2="130.7" y2="339.2" stroke="#e8c6e6" stroke-width="1.0"/>
<line x1="130.7" y1="339.2" x2="139.0" y2="338.4" stroke="#e8c6e6" stroke-width="1.0"/>
<line x1="111.8" y1="351.0" x2="122.0" y2="351.7" stroke="#e8c6e6" stroke-width="1.0"/>
<line x1="122.0" y1="351.7" x2="122.5" y2="353.2" stroke="#e8c6e6" stroke-width="1.0"/>
<line x1="122.5" y1="353.2" x2="123.1" y2="355.8" stroke="#e8c6e6" stroke-width="1.0"/>
<line x1="127.2" y1="352.4" x2="131.5" y2="352.9" stroke="#e8c6e6" stroke-width="1.0"/>
<line x1="127.2" y1="352.4" x2="125.7" y2="355.8" stroke="#e8c6e6" stroke-width="1.0"/>
<line x1="131.5" y1="352.9" x2="133.1" y2="353.3" stroke="#e8c6e6" stroke-width="1.0"/>
<line x1="145.1" y1="324.9" x2="138.2" y2="325.3" stroke="#e8c6e6" stroke-width="1.0"/>
<line x1="138.2" y1="325.3" x2="133.8" y2="327.7" stroke="#e8c6e6" stroke-width="1.0"/>
<line x1="133.8" y1="327.7" x2="140.4" y2="333.4" stroke="#e8c6e6" stroke-width="1.0"/>
<line x1="140.4" y1="333.4" x2="139.0" y2="338.4" stroke="#e8c6e6" stroke-width="1.0"/>
<line x1="139.0" y1="338.4" x2="145.9" y2="340.9" stroke="#e8c6e6" stroke-width="1.0"/>
<line x1="145.9" y1="340.9" x2="150.6" y2="341.7" stroke="#e8c6e6" stroke-width="1.0"/>
<line x1="150.6" y1="341.7" x2="154.4" y2="345.1" stroke="#e8c6e6" stroke-width="1.0"/>
<line x1="154.4" y1="345.1" x2="154.1" y2="349.2" stroke="#e8c6e6" stroke-width="1.0"/>
<line x1="154.4" y1="345.1" x2="157.2" y2="339.8" stroke="#e8c6e6" stroke-width="1.0"/>
<line x1="154.1" y1="349.2" x2="153.5" y2="350.8" stroke="#e8c6e6" stroke-width="1.0"/>
<line x1="155.3" y1="336.0" x2="157.2" y2="339.8" stroke="#e8c6e6" stroke-width="1.0"/>
<line x1="166.3" y1="305.1" x2="169.9" y2="309.9" stroke="#e8c6e6" stroke-width="1.0"/>
<line x1="169.9" y1="309.9" x2="170.9" y2="328.5" stroke="#e8c6e6" stroke-width="1.0"/>
<line x1="170.9" y1="328.5" x2="170.3" y2="336.0" stroke="#e8c6e6" stroke-width="1.0"/>
<line x1="170.3" y1="336.0" x2="180.3" y2="341.3" stroke="#e8c6e6" stroke-width="1.0"/>
<line x1="180.3" y1="341.3" x2="171.1" y2="346.9" stroke="#e8c6e6" stroke-width="1.0"/>
<line x1="171.1" y1="346.9" x2="163.2" y2="346.1" stroke="#e8c6e6" stroke-width="1.0"/>
<line x1="171.1" y1="346.9" x2="171.0" y2="348.6" stroke="#e8c6e6" stroke-width="1.0"/>
<line x1="163.2" y1="346.1" x2="162.1" y2="349.5" stroke="#e8c6e6" stroke-width="1.0"/>
<line x1="162.1" y1="349.5" x2="159.7" y2="354.3" stroke="#e8c6e6" stroke-width="1.0"/>
<line x1="59.6" y1="361.3" x2="59.8" y2="365.1" stroke="#eac6d1" stroke-width="1.0"/>
<line x1="61.4" y1="369.2" x2="61.6" y2="365.1" stroke="#eac6d1" stroke-width="1.0"/>
<line x1="61.4" y1="369.2" x2="64.2" y2="370.5" stroke="#eac6d1" stroke-width="1.0"/>
<line x1="66.9" y1="369.2" x2="64.2" y2="370.5" stroke="#eac6d1" stroke-width="1.0"/>
<line x1="69.8" y1="365.3" x2="71.1" y2="364.8" stroke="#eac6d1" stroke-width="1.0"/>
<line x1="47.3" y1="361.4" x2="49.4" y2="366.7" stroke="#bae1e1" stroke-width="1.0"/>
<line x1="49.4" y1="366.7" x2="56.0" y2="366.5" stroke="#bae1e1" stroke-width="1.0"/>
<line x1="56.0" y1="366.5" x2="59.8" y2="365.1" stroke="#bae1e1" stroke-width="1.0"/>
<line x1="59.8" y1="365.1" x2="61.6" y2="365.1" stroke="#bae1e1" stroke-width="1.0"/>
<line x1="64.2" y1="370.5" x2="63.2" y2="372.2" stroke="#bae1e1" stroke-width="1.0"/>
<line x1="63.2" y1="372.2" x2="65.2" y2="374.0" stroke="#bae1e1" stroke-width="1.0"/>
<line x1="59.1" y1="374.0" x2="60.1" y2="375.9" stroke="#bae1e1" stroke-width="1.0"/>
<line x1="59.1" y1="374.0" x2="53.8" y2="375.4" stroke="#bae1e1" stroke-width="1.0"/>
<line x1="60.1" y1="375.9" x2="62.0" y2="375.9" stroke="#bae1e1" stroke-width="1.0"/>
<line x1="62.0" y1="375.9" x2="65.2" y2="374.0" stroke="#bae1e1" stroke-width="1.0"/>
<line x1="53.8" y1="375.4" x2="49.3" y2="376.8" stroke="#bae1e1" stroke-width="1.0"/>
<line x1="53.3" y1="381.4" x2="56.9" y2="379.5" stroke="#bae1e1" stroke-width="1.0"/>
<line x1="56.9" y1="379.5" x2="58.8" y2="379.7" stroke="#bae1e1" stroke-width="1.0"/>
<line x1="58.8" y1="379.7" x2="61.0" y2="379.6" stroke="#bae1e1" stroke-width="1.0"/>
<line x1="61.0" y1="379.6" x2="62.6" y2="379.7" stroke="#bae1e1" stroke-width="1.0"/>
<line x1="62.6" y1="379.7" x2="64.5" y2="379.7" stroke="#bae1e1" stroke-width="1.0"/>
<line x1="64.5" y1="379.7" x2="66.4" y2="379.7" stroke="#bae1e1" stroke-width="1.0"/>
<line x1="66.4" y1="379.7" x2="67.6" y2="383.1" stroke="#bae1e1" stroke-width="1.0"/>
<line x1="66.4" y1="379.7" x2="69.1" y2="378.4" stroke="#bae1e1" stroke-width="1.0"/>
<line x1="58.5" y1="384.8" x2="62.3" y2="383.9" stroke="#bae1e1" stroke-width="1.0"/>
<line x1="62.3" y1="383.9" x2="64.5" y2="383.5" stroke="#bae1e1" stroke-width="1.0"/>
<line x1="64.5" y1="383.5" x2="66.0" y2="383.5" stroke="#bae1e1" stroke-width="1.0"/>
<line x1="66.0" y1="383.5" x2="67.6" y2="383.1" stroke="#bae1e1" stroke-width="1.0"/>
<line x1="67.6" y1="383.1" x2="69.2" y2="383.9" stroke="#bae1e1" stroke-width="1.0"/>
<line x1="69.2" y1="383.9" x2="71.0" y2="383.8" stroke="#bae1e1" stroke-width="1.0"/>
<line x1="68.2" y1="374.7" x2="65.2" y2="374.0" stroke="#bae1e1" stroke-width="1.0"/>
<line x1="68.2" y1="374.7" x2="71.0" y2="375.4" stroke="#bae1e1" stroke-width="1.0"/>
<line x1="49.4" y1="387.3" x2="53.3" y2="391.4" stroke="#bae1e1" stroke-width="1.0"/>
<line x1="64.5" y1="388.1" x2="66.7" y2="387.7" stroke="#bae1e1" stroke-width="1.0"/>
<line x1="66.7" y1="387.7" x2="67.8" y2="388.4" stroke="#bae1e1" stroke-width="1.0"/>
<line x1="70.2" y1="360.3" x2="71.1" y2="364.8" stroke="#e8c6e6" stroke-width="1.0"/>
<line x1="57.6" y1="391.0" x2="59.3" y2="392.7" stroke="#bae1e1" stroke-width="1.0"/>
<line x1="57.6" y1="391.0" x2="53.3" y2="391.4" stroke="#bae1e1" stroke-width="1.0"/>
<line x1="59.3" y1="392.7" x2="60.7" y2="395.4" stroke="#bae1e1" stroke-width="1.0"/>
<line x1="60.7" y1="395.4" x2="62.3" y2="396.0" stroke="#bae1e1" stroke-width="1.0"/>
<line x1="60.7" y1="395.4" x2="56.8" y2="397.5" stroke="#bae1e1" stroke-width="1.0"/>
<line x1="62.3" y1="396.0" x2="63.8" y2="394.1" stroke="#bae1e1" stroke-width="1.0"/>
<line x1="62.3" y1="396.0" x2="64.8" y2="398.9" stroke="#bae1e1" stroke-width="1.0"/>
<line x1="63.8" y1="394.1" x2="68.4" y2="394.7" stroke="#bae1e1" stroke-width="1.0"/>
<line x1="64.8" y1="398.9" x2="59.9" y2="402.2" stroke="#bae1e1" stroke-width="1.0"/>
<line x1="64.8" y1="398.9" x2="69.5" y2="400.4" stroke="#bae1e1" stroke-width="1.0"/>
<line x1="68.2" y1="408.6" x2="74.6" y2="412.6" stroke="#bae1e1" stroke-width="1.0"/>
<line x1="69.5" y1="400.4" x2="75.7" y2="402.2" stroke="#bae1e1" stroke-width="1.0"/>
<line x1="69.2" y1="417.6" x2="70.4" y2="415.5" stroke="#bae1e1" stroke-width="1.0"/>
<line x1="69.2" y1="417.6" x2="71.9" y2="424.3" stroke="#bae1e1" stroke-width="1.0"/>
<line x1="66.0" y1="390.3" x2="67.8" y2="388.4" stroke="#bae1e1" stroke-width="1.0"/>
<line x1="68.9" y1="391.2" x2="69.5" y2="393.7" stroke="#bae1e1" stroke-width="1.0"/>
<line x1="68.9" y1="391.2" x2="69.7" y2="388.8" stroke="#bae1e1" stroke-width="1.0"/>
<line x1="68.9" y1="391.2" x2="71.0" y2="391.3" stroke="#bae1e1" stroke-width="1.0"/>
<line x1="69.5" y1="393.7" x2="68.4" y2="394.7" stroke="#bae1e1" stroke-width="1.0"/>
<line x1="70.1" y1="395.4" x2="68.4" y2="394.7" stroke="#bae1e1" stroke-width="1.0"/>
<line x1="70.4" y1="415.5" x2="73.2" y2="416.0" stroke="#c4e2b6" stroke-width="1.0"/>
<line x1="72.5" y1="371.2" x2="76.3" y2="368.7" stroke="#eac6d1" stroke-width="1.0"/>
<line x1="72.5" y1="371.2" x2="71.0" y2="375.4" stroke="#eac6d1" stroke-width="1.0"/>
<line x1="81.3" y1="369.7" x2="76.3" y2="368.7" stroke="#eac6d1" stroke-width="1.0"/>
<line x1="81.3" y1="369.7" x2="84.8" y2="371.2" stroke="#eac6d1" stroke-width="1.0"/>
<line x1="87.0" y1="375.4" x2="84.8" y2="371.2" stroke="#eac6d1" stroke-width="1.0"/>
<line x1="87.0" y1="375.4" x2="91.2" y2="375.1" stroke="#eac6d1" stroke-width="1.0"/>
<line x1="84.2" y1="366.6" x2="85.5" y2="366.9" stroke="#eac6d1" stroke-width="1.0"/>
<line x1="87.6" y1="390.1" x2="91.1" y2="388.8" stroke="#eac6d1" stroke-width="1.0"/>
<line x1="76.3" y1="368.7" x2="76.1" y2="365.4" stroke="#bae1e1" stroke-width="1.0"/>
<line x1="71.0" y1="375.4" x2="69.1" y2="378.4" stroke="#bae1e1" stroke-width="1.0"/>
<line x1="69.1" y1="378.4" x2="71.6" y2="378.8" stroke="#bae1e1" stroke-width="1.0"/>
<line x1="71.6" y1="378.8" x2="75.0" y2="377.9" stroke="#bae1e1" stroke-width="1.0"/>
<line x1="75.0" y1="377.9" x2="78.2" y2="379.6" stroke="#bae1e1" stroke-width="1.0"/>
<line x1="78.2" y1="379.6" x2="81.0" y2="381.7" stroke="#bae1e1" stroke-width="1.0"/>
<line x1="78.2" y1="379.6" x2="80.4" y2="375.0" stroke="#bae1e1" stroke-width="1.0"/>
<line x1="88.6" y1="379.4" x2="91.1" y2="377.9" stroke="#bae1e1" stroke-width="1.0"/>
<line x1="91.1" y1="377.9" x2="92.3" y2="377.1" stroke="#bae1e1" stroke-width="1.0"/>
<line x1="71.0" y1="383.8" x2="73.5" y2="383.8" stroke="#bae1e1" stroke-width="1.0"/>
<line x1="73.5" y1="383.8" x2="75.7" y2="385.1" stroke="#bae1e1" stroke-width="1.0"/>
<line x1="73.5" y1="383.8" x2="74.7" y2="382.0" stroke="#bae1e1" stroke-width="1.0"/>
<line x1="75.7" y1="385.1" x2="76.9" y2="384.2" stroke="#bae1e1" stroke-width="1.0"/>
<line x1="75.7" y1="385.1" x2="74.1" y2="386.7" stroke="#bae1e1" stroke-width="1.0"/>
<line x1="77.6" y1="388.0" x2="74.1" y2="386.7" stroke="#bae1e1" stroke-width="1.0"/>
<line x1="74.1" y1="386.7" x2="72.1" y2="388.2" stroke="#bae1e1" stroke-width="1.0"/>
<line x1="67.8" y1="388.4" x2="69.7" y2="388.8" stroke="#bae1e1" stroke-width="1.0"/>
<line x1="69.7" y1="388.8" x2="72.1" y2="388.2" stroke="#bae1e1" stroke-width="1.0"/>
<line x1="71.0" y1="391.3" x2="72.8" y2="392.2" stroke="#bae1e1" stroke-width="1.0"/>
<line x1="72.8" y1="392.2" x2="74.7" y2="393.4" stroke="#bae1e1" stroke-width="1.0"/>
<line x1="74.7" y1="393.4" x2="76.3" y2="393.9" stroke="#bae1e1" stroke-width="1.0"/>
<line x1="89.8" y1="368.5" x2="87.4" y2="369.0" stroke="#e8c6e6" stroke-width="1.0"/>
<line x1="94.9" y1="370.4" x2="99.0" y2="372.9" stroke="#e8c6e6" stroke-width="1.0"/>
<line x1="92.3" y1="377.1" x2="94.5" y2="375.8" stroke="#e8c6e6" stroke-width="1.0"/>
<line x1="92.3" y1="377.1" x2="91.2" y2="375.1" stroke="#e8c6e6" stroke-width="1.0"/>
<line x1="94.5" y1="375.8" x2="98.9" y2="376.4" stroke="#e8c6e6" stroke-width="1.0"/>
<line x1="88.6" y1="386.7" x2="91.1" y2="388.8" stroke="#e8c6e6" stroke-width="1.0"/>
<line x1="94.2" y1="388.4" x2="96.1" y2="393.9" stroke="#e8c6e6" stroke-width="1.0"/>
<line x1="94.2" y1="388.4" x2="91.1" y2="388.8" stroke="#e8c6e6" stroke-width="1.0"/>
<line x1="94.2" y1="388.4" x2="100.2" y2="386.0" stroke="#e8c6e6" stroke-width="1.0"/>
<line x1="84.8" y1="371.2" x2="87.4" y2="369.0" stroke="#c4e2b6" stroke-width="1.0"/>
<line x1="90.5" y1="396.8" x2="96.1" y2="393.9" stroke="#c4e2b6" stroke-width="1.0"/>
<line x1="90.5" y1="396.8" x2="89.2" y2="400.1" stroke="#c4e2b6" stroke-width="1.0"/>
<line x1="89.2" y1="400.1" x2="91.4" y2="403.9" stroke="#c4e2b6" stroke-width="1.0"/>
<line x1="65.7" y1="426.6" x2="64.2" y2="432.3" stroke="#c4e2b6" stroke-width="1.0"/>
<line x1="65.7" y1="426.6" x2="71.9" y2="424.3" stroke="#c4e2b6" stroke-width="1.0"/>
<line x1="75.7" y1="402.2" x2="80.4" y2="403.4" stroke="#bae1e1" stroke-width="1.0"/>
<line x1="97.1" y1="408.6" x2="91.7" y2="412.4" stroke="#bae1e1" stroke-width="1.0"/>
<line x1="97.1" y1="408.6" x2="97.1" y2="402.2" stroke="#bae1e1" stroke-width="1.0"/>
<line x1="80.4" y1="403.4" x2="82.9" y2="403.6" stroke="#c4e2b6" stroke-width="1.0"/>
<line x1="87.0" y1="411.2" x2="91.7" y2="412.4" stroke="#c4e2b6" stroke-width="1.0"/>
<line x1="91.7" y1="412.4" x2="95.5" y2="418.3" stroke="#c4e2b6" stroke-width="1.0"/>
<line x1="74.6" y1="412.6" x2="73.2" y2="416.0" stroke="#c4e2b6" stroke-width="1.0"/>
<line x1="73.2" y1="416.0" x2="77.9" y2="416.4" stroke="#c4e2b6" stroke-width="1.0"/>
<line x1="71.9" y1="424.3" x2="75.7" y2="424.1" stroke="#c4e2b6" stroke-width="1.0"/>
<line x1="75.7" y1="424.1" x2="76.6" y2="427.9" stroke="#c4e2b6" stroke-width="1.0"/>
<line x1="81.3" y1="424.1" x2="81.3" y2="427.9" stroke="#c4e2b6" stroke-width="1.0"/>
<line x1="76.6" y1="427.9" x2="81.3" y2="427.9" stroke="#c4e2b6" stroke-width="1.0"/>
<line x1="81.3" y1="427.9" x2="80.7" y2="431.7" stroke="#c4e2b6" stroke-width="1.0"/>
<line x1="87.0" y1="428.2" x2="92.7" y2="426.7" stroke="#c4e2b6" stroke-width="1.0"/>
<line x1="87.0" y1="428.2" x2="84.5" y2="431.7" stroke="#c4e2b6" stroke-width="1.0"/>
<line x1="92.7" y1="426.7" x2="96.4" y2="421.6" stroke="#c4e2b6" stroke-width="1.0"/>
<line x1="80.7" y1="431.7" x2="84.5" y2="431.7" stroke="#c4e2b6" stroke-width="1.0"/>
<line x1="80.7" y1="431.7" x2="73.2" y2="435.7" stroke="#c4e2b6" stroke-width="1.0"/>
<line x1="91.4" y1="403.9" x2="97.1" y2="402.2" stroke="#e8c6e6" stroke-width="1.0"/>
<line x1="97.1" y1="402.2" x2="97.9" y2="400.8" stroke="#e8c6e6" stroke-width="1.0"/>
<line x1="95.5" y1="418.3" x2="97.3" y2="418.8" stroke="#c2ccf1" stroke-width="1.0"/>
<line x1="96.4" y1="421.6" x2="97.3" y2="418.8" stroke="#e7e0ab" stroke-width="1.0"/>
<line x1="96.4" y1="421.6" x2="100.7" y2="423.9" stroke="#e7e0ab" stroke-width="1.0"/>
<line x1="92.7" y1="446.9" x2="100.1" y2="438.3" stroke="#e7e0ab" stroke-width="1.0"/>
<line x1="103.6" y1="416.5" x2="108.3" y2="418.8" stroke="#c2ccf1" stroke-width="1.0"/>
<line x1="108.3" y1="408.8" x2="106.4" y2="409.5" stroke="#c2ccf1" stroke-width="1.0"/>
<line x1="108.3" y1="408.8" x2="108.9" y2="411.3" stroke="#c2ccf1" stroke-width="1.0"/>
<line x1="117.1" y1="410.3" x2="119.9" y2="414.0" stroke="#c2ccf1" stroke-width="1.0"/>
<line x1="111.7" y1="415.5" x2="109.2" y2="413.4" stroke="#c2ccf1" stroke-width="1.0"/>
<line x1="111.7" y1="415.5" x2="108.3" y2="418.8" stroke="#c2ccf1" stroke-width="1.0"/>
<line x1="111.7" y1="415.5" x2="115.5" y2="417.6" stroke="#c2ccf1" stroke-width="1.0"/>
<line x1="117.4" y1="416.7" x2="121.2" y2="416.5" stroke="#c2ccf1" stroke-width="1.0"/>
<line x1="117.4" y1="416.7" x2="115.5" y2="417.6" stroke="#c2ccf1" stroke-width="1.0"/>
<line x1="121.2" y1="416.5" x2="123.4" y2="415.3" stroke="#c2ccf1" stroke-width="1.0"/>
<line x1="121.2" y1="416.5" x2="119.9" y2="414.0" stroke="#c2ccf1" stroke-width="1.0"/>
<line x1="123.4" y1="415.3" x2="125.5" y2="417.0" stroke="#c2ccf1" stroke-width="1.0"/>
<line x1="112.0" y1="423.0" x2="111.4" y2="426.4" stroke="#c2ccf1" stroke-width="1.0"/>
<line x1="100.7" y1="425.5" x2="103.9" y2="426.8" stroke="#c2ccf1" stroke-width="1.0"/>
<line x1="100.7" y1="425.5" x2="100.7" y2="423.9" stroke="#c2ccf1" stroke-width="1.0"/>
<line x1="103.9" y1="426.8" x2="103.6" y2="428.5" stroke="#c2ccf1" stroke-width="1.0"/>
<line x1="108.9" y1="411.3" x2="109.2" y2="413.4" stroke="#e7e0ab" stroke-width="1.0"/>
<line x1="100.7" y1="423.9" x2="104.2" y2="422.6" stroke="#e7e0ab" stroke-width="1.0"/>
<line x1="104.2" y1="422.6" x2="108.3" y2="418.8" stroke="#e7e0ab" stroke-width="1.0"/>
<line x1="123.7" y1="398.3" x2="130.8" y2="398.0" stroke="#e7e0ab" stroke-width="1.0"/>
<line x1="124.0" y1="407.5" x2="128.6" y2="407.4" stroke="#e7e0ab" stroke-width="1.0"/>
<line x1="111.4" y1="426.4" x2="108.9" y2="428.5" stroke="#e7e0ab" stroke-width="1.0"/>
<line x1="116.8" y1="427.6" x2="117.7" y2="431.6" stroke="#e7e0ab" stroke-width="1.0"/>
<line x1="108.9" y1="428.5" x2="103.6" y2="428.5" stroke="#e7e0ab" stroke-width="1.0"/>
<line x1="108.9" y1="428.5" x2="110.8" y2="430.7" stroke="#e7e0ab" stroke-width="1.0"/>
<line x1="103.6" y1="428.5" x2="102.6" y2="429.6" stroke="#e7e0ab" stroke-width="1.0"/>
<line x1="102.6" y1="429.6" x2="99.5" y2="431.6" stroke="#e7e0ab" stroke-width="1.0"/>
<line x1="114.9" y1="432.0" x2="110.8" y2="430.7" stroke="#e7e0ab" stroke-width="1.0"/>
<line x1="114.9" y1="432.0" x2="117.7" y2="431.6" stroke="#e7e0ab" stroke-width="1.0"/>
<line x1="117.1" y1="434.3" x2="117.7" y2="431.6" stroke="#e7e0ab" stroke-width="1.0"/>
<line x1="117.1" y1="434.3" x2="114.9" y2="441.4" stroke="#e7e0ab" stroke-width="1.0"/>
<line x1="108.3" y1="432.6" x2="110.8" y2="430.7" stroke="#e7e0ab" stroke-width="1.0"/>
<line x1="100.1" y1="438.3" x2="99.5" y2="431.6" stroke="#e7e0ab" stroke-width="1.0"/>
<line x1="100.1" y1="438.3" x2="103.9" y2="441.2" stroke="#e7e0ab" stroke-width="1.0"/>
<line x1="114.9" y1="443.5" x2="114.9" y2="441.4" stroke="#e7e0ab" stroke-width="1.0"/>
<line x1="117.7" y1="431.6" x2="121.2" y2="429.9" stroke="#c2ccf1" stroke-width="1.0"/>
<line x1="121.2" y1="429.9" x2="124.0" y2="431.0" stroke="#c2ccf1" stroke-width="1.0"/>
<line x1="124.0" y1="431.0" x2="122.7" y2="434.3" stroke="#c2ccf1" stroke-width="1.0"/>
<line x1="90.2" y1="359.5" x2="84.3" y2="360.8" stroke="#eac6d1" stroke-width="1.0"/>
<line x1="90.2" y1="359.5" x2="89.6" y2="358.1" stroke="#eac6d1" stroke-width="1.0"/>
<line x1="95.3" y1="358.3" x2="98.4" y2="357.2" stroke="#eac6d1" stroke-width="1.0"/>
<line x1="95.3" y1="358.3" x2="91.2" y2="357.6" stroke="#eac6d1" stroke-width="1.0"/>
<line x1="79.9" y1="363.5" x2="76.1" y2="365.4" stroke="#eac6d1" stroke-width="1.0"/>
<line x1="76.1" y1="365.4" x2="72.6" y2="366.9" stroke="#eac6d1" stroke-width="1.0"/>
<line x1="71.1" y1="364.8" x2="72.6" y2="366.9" stroke="#eac6d1" stroke-width="1.0"/>
<line x1="85.5" y1="366.9" x2="87.4" y2="369.0" stroke="#eac6d1" stroke-width="1.0"/>
<line x1="89.6" y1="358.1" x2="91.2" y2="357.6" stroke="#e8c6e6" stroke-width="1.0"/>
<line x1="99.0" y1="364.4" x2="105.9" y2="364.5" stroke="#e8c6e6" stroke-width="1.0"/>
<line x1="99.0" y1="372.9" x2="101.9" y2="371.9" stroke="#e8c6e6" stroke-width="1.0"/>
<line x1="99.0" y1="372.9" x2="98.9" y2="376.4" stroke="#e8c6e6" stroke-width="1.0"/>
<line x1="101.9" y1="371.9" x2="104.3" y2="372.3" stroke="#e8c6e6" stroke-width="1.0"/>
<line x1="109.2" y1="360.3" x2="105.9" y2="362.8" stroke="#e8c6e6" stroke-width="1.0"/>
<line x1="105.9" y1="364.5" x2="109.9" y2="367.6" stroke="#e8c6e6" stroke-width="1.0"/>
<line x1="105.9" y1="364.5" x2="105.9" y2="362.8" stroke="#e8c6e6" stroke-width="1.0"/>
<line x1="111.5" y1="364.6" x2="113.7" y2="364.5" stroke="#e8c6e6" stroke-width="1.0"/>
<line x1="111.5" y1="364.6" x2="109.9" y2="367.6" stroke="#e8c6e6" stroke-width="1.0"/>
<line x1="109.9" y1="367.6" x2="109.0" y2="369.7" stroke="#e8c6e6" stroke-width="1.0"/>
<line x1="109.0" y1="369.7" x2="104.9" y2="369.2" stroke="#e8c6e6" stroke-width="1.0"/>
<line x1="109.0" y1="369.7" x2="109.3" y2="371.8" stroke="#e8c6e6" stroke-width="1.0"/>
<line x1="104.9" y1="369.2" x2="104.3" y2="372.3" stroke="#e8c6e6" stroke-width="1.0"/>
<line x1="109.3" y1="371.8" x2="111.8" y2="373.0" stroke="#e8c6e6" stroke-width="1.0"/>
<line x1="111.8" y1="373.0" x2="113.7" y2="373.4" stroke="#e8c6e6" stroke-width="1.0"/>
<line x1="111.8" y1="373.0" x2="113.7" y2="370.1" stroke="#e8c6e6" stroke-width="1.0"/>
<line x1="120.3" y1="361.7" x2="122.8" y2="361.7" stroke="#e8c6e6" stroke-width="1.0"/>
<line x1="122.8" y1="361.7" x2="123.8" y2="365.9" stroke="#e8c6e6" stroke-width="1.0"/>
<line x1="123.1" y1="355.8" x2="125.7" y2="355.8" stroke="#e8c6e6" stroke-width="1.0"/>
<line x1="125.7" y1="355.8" x2="129.4" y2="359.2" stroke="#e8c6e6" stroke-width="1.0"/>
<line x1="129.4" y1="359.2" x2="132.8" y2="363.5" stroke="#e8c6e6" stroke-width="1.0"/>
<line x1="120.6" y1="370.5" x2="122.2" y2="369.0" stroke="#e8c6e6" stroke-width="1.0"/>
<line x1="120.6" y1="370.5" x2="113.7" y2="370.1" stroke="#e8c6e6" stroke-width="1.0"/>
<line x1="122.2" y1="369.0" x2="125.7" y2="369.7" stroke="#e8c6e6" stroke-width="1.0"/>
<line x1="122.2" y1="369.0" x2="123.8" y2="365.9" stroke="#e8c6e6" stroke-width="1.0"/>
<line x1="125.7" y1="369.7" x2="129.4" y2="368.4" stroke="#e8c6e6" stroke-width="1.0"/>
<line x1="125.7" y1="369.7" x2="126.6" y2="373.0" stroke="#e8c6e6" stroke-width="1.0"/>
<line x1="129.4" y1="368.4" x2="132.8" y2="363.5" stroke="#e8c6e6" stroke-width="1.0"/>
<line x1="126.6" y1="373.0" x2="127.2" y2="376.2" stroke="#e8c6e6" stroke-width="1.0"/>
<line x1="127.2" y1="376.2" x2="121.6" y2="377.0" stroke="#e8c6e6" stroke-width="1.0"/>
<line x1="127.2" y1="376.2" x2="132.5" y2="378.7" stroke="#e8c6e6" stroke-width="1.0"/>
<line x1="120.3" y1="376.2" x2="121.6" y2="377.0" stroke="#e8c6e6" stroke-width="1.0"/>
<line x1="121.6" y1="377.0" x2="121.3" y2="379.7" stroke="#e8c6e6" stroke-width="1.0"/>
<line x1="101.1" y1="381.4" x2="105.5" y2="381.8" stroke="#e8c6e6" stroke-width="1.0"/>
<line x1="112.5" y1="380.6" x2="108.1" y2="381.6" stroke="#e8c6e6" stroke-width="1.0"/>
<line x1="105.5" y1="384.3" x2="107.4" y2="384.3" stroke="#e8c6e6" stroke-width="1.0"/>
<line x1="105.5" y1="384.3" x2="103.7" y2="387.3" stroke="#e8c6e6" stroke-width="1.0"/>
<line x1="105.5" y1="384.3" x2="105.5" y2="381.8" stroke="#e8c6e6" stroke-width="1.0"/>
<line x1="100.2" y1="386.0" x2="103.7" y2="387.3" stroke="#e8c6e6" stroke-width="1.0"/>
<line x1="103.7" y1="387.3" x2="109.7" y2="392.2" stroke="#e8c6e6" stroke-width="1.0"/>
<line x1="105.5" y1="381.8" x2="108.1" y2="381.6" stroke="#c4e2b6" stroke-width="1.0"/>
<line x1="108.1" y1="381.6" x2="108.7" y2="376.4" stroke="#c4e2b6" stroke-width="1.0"/>
<line x1="104.3" y1="372.3" x2="105.5" y2="374.7" stroke="#e7e0ab" stroke-width="1.0"/>
<line x1="105.5" y1="374.7" x2="108.7" y2="376.4" stroke="#e7e0ab" stroke-width="1.0"/>
<line x1="153.5" y1="350.8" x2="156.4" y2="354.3" stroke="#e8c6e6" stroke-width="1.0"/>
<line x1="156.4" y1="354.3" x2="159.7" y2="354.3" stroke="#e8c6e6" stroke-width="1.0"/>
<line x1="132.8" y1="363.5" x2="136.9" y2="365.3" stroke="#e8c6e6" stroke-width="1.0"/>
<line x1="144.4" y1="357.6" x2="141.3" y2="361.8" stroke="#e8c6e6" stroke-width="1.0"/>
<line x1="141.3" y1="361.8" x2="136.9" y2="365.3" stroke="#e8c6e6" stroke-width="1.0"/>
<line x1="141.3" y1="361.8" x2="146.3" y2="363.4" stroke="#e8c6e6" stroke-width="1.0"/>
<line x1="147.9" y1="362.3" x2="156.0" y2="360.6" stroke="#e8c6e6" stroke-width="1.0"/>
<line x1="147.9" y1="362.3" x2="146.3" y2="363.4" stroke="#e8c6e6" stroke-width="1.0"/>
<line x1="156.0" y1="360.6" x2="162.9" y2="359.7" stroke="#e8c6e6" stroke-width="1.0"/>
<line x1="159.7" y1="354.3" x2="162.2" y2="355.6" stroke="#e8c6e6" stroke-width="1.0"/>
<line x1="162.2" y1="355.6" x2="162.9" y2="359.7" stroke="#e8c6e6" stroke-width="1.0"/>
<line x1="162.9" y1="359.7" x2="162.5" y2="363.1" stroke="#e8c6e6" stroke-width="1.0"/>
<line x1="162.5" y1="363.1" x2="164.4" y2="368.7" stroke="#e8c6e6" stroke-width="1.0"/>
<line x1="171.0" y1="348.6" x2="172.3" y2="351.6" stroke="#e8c6e6" stroke-width="1.0"/>
<line x1="132.5" y1="378.7" x2="135.6" y2="373.3" stroke="#e8c6e6" stroke-width="1.0"/>
<line x1="132.5" y1="378.7" x2="137.5" y2="380.7" stroke="#e8c6e6" stroke-width="1.0"/>
<line x1="137.5" y1="380.7" x2="140.6" y2="378.5" stroke="#e8c6e6" stroke-width="1.0"/>
<line x1="137.5" y1="380.7" x2="134.0" y2="387.1" stroke="#e8c6e6" stroke-width="1.0"/>
<line x1="146.3" y1="363.4" x2="149.1" y2="367.8" stroke="#e8c6e6" stroke-width="1.0"/>
<line x1="152.6" y1="370.4" x2="148.5" y2="374.0" stroke="#e8c6e6" stroke-width="1.0"/>
<line x1="152.6" y1="370.4" x2="149.1" y2="367.8" stroke="#e8c6e6" stroke-width="1.0"/>
<line x1="154.8" y1="385.4" x2="154.8" y2="387.5" stroke="#e7e0ab" stroke-width="1.0"/>
<line x1="154.8" y1="387.5" x2="156.0" y2="391.3" stroke="#e7e0ab" stroke-width="1.0"/>
<line x1="152.9" y1="392.2" x2="156.0" y2="391.3" stroke="#e7e0ab" stroke-width="1.0"/>
<line x1="152.9" y1="392.2" x2="151.5" y2="391.9" stroke="#e7e0ab" stroke-width="1.0"/>
<line x1="156.0" y1="391.3" x2="160.7" y2="392.6" stroke="#e7e0ab" stroke-width="1.0"/>
<line x1="167.4" y1="389.6" x2="160.7" y2="392.6" stroke="#e7e0ab" stroke-width="1.0"/>
<line x1="160.7" y1="392.6" x2="161.8" y2="394.8" stroke="#e7e0ab" stroke-width="1.0"/>
<line x1="130.8" y1="398.0" x2="134.3" y2="396.5" stroke="#e7e0ab" stroke-width="1.0"/>
<line x1="130.8" y1="398.0" x2="131.4" y2="402.2" stroke="#e7e0ab" stroke-width="1.0"/>
<line x1="134.3" y1="396.5" x2="139.3" y2="398.6" stroke="#e7e0ab" stroke-width="1.0"/>
<line x1="131.4" y1="402.2" x2="134.3" y2="405.9" stroke="#e7e0ab" stroke-width="1.0"/>
<line x1="134.3" y1="405.9" x2="135.8" y2="405.0" stroke="#e7e0ab" stroke-width="1.0"/>
<line x1="134.3" y1="405.9" x2="128.6" y2="407.4" stroke="#e7e0ab" stroke-width="1.0"/>
<line x1="139.3" y1="398.6" x2="141.2" y2="395.5" stroke="#e7e0ab" stroke-width="1.0"/>
<line x1="139.3" y1="398.6" x2="141.2" y2="402.8" stroke="#e7e0ab" stroke-width="1.0"/>
<line x1="141.2" y1="395.5" x2="145.3" y2="396.7" stroke="#e7e0ab" stroke-width="1.0"/>
<line x1="145.3" y1="396.7" x2="151.5" y2="391.9" stroke="#e7e0ab" stroke-width="1.0"/>
<line x1="141.2" y1="402.8" x2="141.8" y2="404.5" stroke="#e7e0ab" stroke-width="1.0"/>
<line x1="141.8" y1="404.5" x2="144.6" y2="403.2" stroke="#e7e0ab" stroke-width="1.0"/>
<line x1="141.8" y1="404.5" x2="143.1" y2="408.6" stroke="#e7e0ab" stroke-width="1.0"/>
<line x1="144.6" y1="403.2" x2="145.9" y2="404.9" stroke="#e7e0ab" stroke-width="1.0"/>
<line x1="145.9" y1="404.9" x2="152.2" y2="406.1" stroke="#e7e0ab" stroke-width="1.0"/>
<line x1="143.1" y1="408.6" x2="141.5" y2="412.2" stroke="#e7e0ab" stroke-width="1.0"/>
<line x1="141.5" y1="412.2" x2="144.3" y2="413.7" stroke="#e7e0ab" stroke-width="1.0"/>
<line x1="144.3" y1="413.7" x2="145.9" y2="413.9" stroke="#e7e0ab" stroke-width="1.0"/>
<line x1="144.3" y1="413.7" x2="142.4" y2="417.0" stroke="#e7e0ab" stroke-width="1.0"/>
<line x1="142.4" y1="417.0" x2="138.7" y2="416.6" stroke="#e7e0ab" stroke-width="1.0"/>
<line x1="142.4" y1="417.0" x2="141.5" y2="422.2" stroke="#e7e0ab" stroke-width="1.0"/>
<line x1="128.6" y1="407.4" x2="128.6" y2="410.3" stroke="#e7e0ab" stroke-width="1.0"/>
<line x1="128.6" y1="410.3" x2="128.3" y2="413.4" stroke="#e7e0ab" stroke-width="1.0"/>
<line x1="128.3" y1="413.4" x2="132.1" y2="415.3" stroke="#e7e0ab" stroke-width="1.0"/>
<line x1="128.3" y1="413.4" x2="125.5" y2="417.0" stroke="#e7e0ab" stroke-width="1.0"/>
<line x1="125.5" y1="417.0" x2="128.9" y2="419.1" stroke="#e7e0ab" stroke-width="1.0"/>
<line x1="128.9" y1="419.1" x2="131.4" y2="423.9" stroke="#e7e0ab" stroke-width="1.0"/>
<line x1="135.2" y1="421.2" x2="131.4" y2="423.9" stroke="#e7e0ab" stroke-width="1.0"/>
<line x1="152.2" y1="406.1" x2="155.2" y2="409.7" stroke="#e7e0ab" stroke-width="1.0"/>
<line x1="155.2" y1="409.7" x2="156.8" y2="412.0" stroke="#e7e0ab" stroke-width="1.0"/>
<line x1="156.8" y1="412.0" x2="157.7" y2="414.5" stroke="#e7e0ab" stroke-width="1.0"/>
<line x1="157.7" y1="414.5" x2="153.3" y2="419.5" stroke="#e7e0ab" stroke-width="1.0"/>
<line x1="157.7" y1="414.5" x2="173.1" y2="412.0" stroke="#e7e0ab" stroke-width="1.0"/>
<line x1="129.5" y1="425.1" x2="131.4" y2="423.9" stroke="#e7e0ab" stroke-width="1.0"/>
<line x1="129.5" y1="425.1" x2="136.6" y2="432.9" stroke="#e7e0ab" stroke-width="1.0"/>
<line x1="136.6" y1="432.9" x2="146.8" y2="431.8" stroke="#e7e0ab" stroke-width="1.0"/>
<line x1="146.8" y1="431.8" x2="151.2" y2="435.6" stroke="#e7e0ab" stroke-width="1.0"/>
<line x1="151.2" y1="435.6" x2="147.5" y2="446.3" stroke="#e7e0ab" stroke-width="1.0"/>
<line x1="151.2" y1="435.6" x2="154.9" y2="429.3" stroke="#e7e0ab" stroke-width="1.0"/>
<line x1="109.7" y1="392.2" x2="116.0" y2="392.2" stroke="#e8c6e6" stroke-width="1.0"/>
<polyline points="145.1,324.9 138.3,325.3 133.8,327.7 137.1,330.8 140.4,333.1 138.8,338.5 145.7,340.7 150.4,341.6 154.3,344.8 154.4,349.5 156.3,354.1 159.7,354.3 162.2,355.5 162.8,359.7" fill="none" stroke="#7b7b7b" stroke-width="1.0" stroke-linejoin="round"/>
<polyline points="162.8,359.7 156.0,360.6 147.9,362.2 146.3,363.4 141.3,362.0 136.8,365.3 133.1,364.2 130.0,368.2 129.4,368.4 125.7,369.7 121.9,369.2 119.4,370.5 116.8,370.5 113.7,370.0 109.6,368.8 107.4,369.2 104.3,370.5 101.8,372.2 98.8,375.6 96.7,376.1 93.6,376.2 91.1,375.4 89.2,375.4 87.0,375.0 86.1,373.8 84.9,371.5 87.4,369.0 83.9,366.2 82.1,364.7 79.9,363.4 76.1,365.3 72.7,367.7 72.6,371.2 71.9,374.2 72.2,378.8 73.5,381.3 74.7,382.5 73.2,388.0 70.8,393.8 69.1,398.2" fill="none" stroke="#7b7b7b" stroke-width="1.0" stroke-linejoin="round"/>
<polyline points="69.1,398.2 69.4,400.3 75.7,402.2 80.4,403.6 83.6,403.6 89.2,401.1 91.4,403.6 97.3,401.4 97.0,408.0 92.3,412.5 94.6,417.4 96.3,421.8 100.7,423.9 104.2,422.6 108.2,418.9 111.7,415.5 115.5,417.6 117.7,416.8 121.2,416.5 123.3,415.5 125.5,417.1 128.9,419.1 131.1,424.3 134.6,422.2 136.8,419.1 138.6,416.6 142.4,417.1 143.1,414.1 141.5,412.3 142.1,411.2 143.1,408.6 141.8,406.5 141.8,402.7 140.6,400.3 140.2,397.3 141.2,395.5 143.1,396.1 145.2,396.6 146.8,395.5 153.0,392.5 155.2,391.0 160.5,393.6 162.1,394.8 167.5,389.6" fill="none" stroke="#7b7b7b" stroke-width="1.0" stroke-linejoin="round"/>
<circle cx="130.2" cy="339.7" r="1.4" fill="#1c3468" stroke="none" stroke-width="0"/>
<circle cx="117.0" cy="348.1" r="1.4" fill="#1c3468" stroke="none" stroke-width="0"/>
<circle cx="112.6" cy="350.4" r="1.4" fill="#1c3468" stroke="none" stroke-width="0"/>
<circle cx="144.3" cy="343.4" r="1.4" fill="#1c3468" stroke="none" stroke-width="0"/>
<circle cx="148.7" cy="341.2" r="1.4" fill="#1c3468" stroke="none" stroke-width="0"/>
<circle cx="152.4" cy="341.9" r="1.4" fill="#1c3468" stroke="none" stroke-width="0"/>
<circle cx="156.5" cy="339.7" r="1.4" fill="#1c3468" stroke="none" stroke-width="0"/>
<circle cx="161.9" cy="341.9" r="1.4" fill="#1c3468" stroke="none" stroke-width="0"/>
<circle cx="165.2" cy="341.9" r="1.4" fill="#1c3468" stroke="none" stroke-width="0"/>
<circle cx="149.5" cy="346.3" r="1.4" fill="#1c3468" stroke="none" stroke-width="0"/>
<circle cx="153.8" cy="347.0" r="1.4" fill="#1c3468" stroke="none" stroke-width="0"/>
<circle cx="158.2" cy="345.6" r="1.4" fill="#1c3468" stroke="none" stroke-width="0"/>
<circle cx="160.4" cy="347.8" r="1.4" fill="#1c3468" stroke="none" stroke-width="0"/>
<circle cx="153.8" cy="350.7" r="1.4" fill="#1c3468" stroke="none" stroke-width="0"/>
<circle cx="149.5" cy="350.7" r="1.4" fill="#1c3468" stroke="none" stroke-width="0"/>
<circle cx="151.7" cy="352.9" r="1.4" fill="#1c3468" stroke="none" stroke-width="0"/>
<circle cx="156.8" cy="352.2" r="1.4" fill="#1c3468" stroke="none" stroke-width="0"/>
<circle cx="159.7" cy="351.4" r="1.4" fill="#1c3468" stroke="none" stroke-width="0"/>
<circle cx="161.9" cy="354.3" r="1.4" fill="#1c3468" stroke="none" stroke-width="0"/>
<circle cx="164.8" cy="352.9" r="1.4" fill="#1c3468" stroke="none" stroke-width="0"/>
<circle cx="167.0" cy="348.5" r="1.4" fill="#1c3468" stroke="none" stroke-width="0"/>
<circle cx="169.9" cy="345.6" r="1.4" fill="#1c3468" stroke="none" stroke-width="0"/>
<circle cx="173.6" cy="345.6" r="1.4" fill="#1c3468" stroke="none" stroke-width="0"/>
<circle cx="172.1" cy="348.5" r="1.4" fill="#1c3468" stroke="none" stroke-width="0"/>
<circle cx="169.2" cy="350.7" r="1.4" fill="#1c3468" stroke="none" stroke-width="0"/>
<circle cx="172.1" cy="354.3" r="1.4" fill="#1c3468" stroke="none" stroke-width="0"/>
<circle cx="167.7" cy="356.5" r="1.4" fill="#1c3468" stroke="none" stroke-width="0"/>
<circle cx="170.7" cy="358.7" r="1.4" fill="#1c3468" stroke="none" stroke-width="0"/>
<circle cx="159.0" cy="355.1" r="1.4" fill="#1c3468" stroke="none" stroke-width="0"/>
<circle cx="126.8" cy="352.9" r="1.4" fill="#1c3468" stroke="none" stroke-width="0"/>
<circle cx="126.8" cy="355.1" r="1.4" fill="#1c3468" stroke="none" stroke-width="0"/>
<circle cx="126.4" cy="360.2" r="1.4" fill="#1c3468" stroke="none" stroke-width="0"/>
<circle cx="143.9" cy="363.1" r="1.4" fill="#1c3468" stroke="none" stroke-width="0"/>
<circle cx="116.6" cy="371.9" r="1.4" fill="#1c3468" stroke="none" stroke-width="0"/>
<circle cx="121.4" cy="376.7" r="1.4" fill="#1c3468" stroke="none" stroke-width="0"/>
<circle cx="153.1" cy="344.1" r="1.4" fill="#1c3468" stroke="none" stroke-width="0"/>
<circle cx="156.8" cy="348.5" r="1.4" fill="#1c3468" stroke="none" stroke-width="0"/>
<circle cx="162.6" cy="349.2" r="1.4" fill="#1c3468" stroke="none" stroke-width="0"/>
<circle cx="160.4" cy="343.4" r="1.4" fill="#1c3468" stroke="none" stroke-width="0"/>
<circle cx="162.6" cy="333.4" r="1.3" fill="#bfc9dc" stroke="#4f6795" stroke-width="0.9"/>
<circle cx="145.1" cy="338.3" r="1.3" fill="#bfc9dc" stroke="#4f6795" stroke-width="0.9"/>
<circle cx="148.0" cy="358.3" r="1.3" fill="#bfc9dc" stroke="#4f6795" stroke-width="0.9"/>
<circle cx="143.6" cy="359.2" r="1.3" fill="#bfc9dc" stroke="#4f6795" stroke-width="0.9"/>
<circle cx="157.5" cy="359.5" r="1.3" fill="#bfc9dc" stroke="#4f6795" stroke-width="0.9"/>
<circle cx="143.9" cy="371.2" r="1.3" fill="#bfc9dc" stroke="#4f6795" stroke-width="0.9"/>
<circle cx="134.1" cy="363.8" r="1.3" fill="#bfc9dc" stroke="#4f6795" stroke-width="0.9"/>
<circle cx="169.9" cy="352.2" r="1.3" fill="#bfc9dc" stroke="#4f6795" stroke-width="0.9"/>
<circle cx="166.3" cy="350.7" r="1.3" fill="#bfc9dc" stroke="#4f6795" stroke-width="0.9"/>
<circle cx="161.9" cy="357.3" r="1.3" fill="#bfc9dc" stroke="#4f6795" stroke-width="0.9"/>
<circle cx="108.5" cy="348.2" r="1.4" fill="#1c3468" stroke="none" stroke-width="0"/>
<circle cx="90.8" cy="358.9" r="1.4" fill="#1c3468" stroke="none" stroke-width="0"/>
<circle cx="90.8" cy="362.8" r="1.4" fill="#1c3468" stroke="none" stroke-width="0"/>
<circle cx="107.4" cy="360.3" r="1.4" fill="#1c3468" stroke="none" stroke-width="0"/>
<circle cx="83.5" cy="383.1" r="1.4" fill="#1c3468" stroke="none" stroke-width="0"/>
<circle cx="65.8" cy="390.5" r="1.4" fill="#1c3468" stroke="none" stroke-width="0"/>
<circle cx="75.1" cy="398.5" r="1.4" fill="#1c3468" stroke="none" stroke-width="0"/>
<circle cx="102.8" cy="393.1" r="1.4" fill="#1c3468" stroke="none" stroke-width="0"/>
<circle cx="66.2" cy="416.6" r="1.4" fill="#1c3468" stroke="none" stroke-width="0"/>
<circle cx="75.1" cy="416.6" r="1.4" fill="#1c3468" stroke="none" stroke-width="0"/>
<circle cx="108.2" cy="427.4" r="1.3" fill="#bfc9dc" stroke="#4f6795" stroke-width="0.9"/>
<circle cx="116.9" cy="436.2" r="1.3" fill="#bfc9dc" stroke="#4f6795" stroke-width="0.9"/>
<circle cx="143.6" cy="398.7" r="1.3" fill="#bfc9dc" stroke="#4f6795" stroke-width="0.9"/>
<circle cx="151.7" cy="397.2" r="1.3" fill="#bfc9dc" stroke="#4f6795" stroke-width="0.9"/>
<circle cx="125.3" cy="407.0" r="1.3" fill="#bfc9dc" stroke="#4f6795" stroke-width="0.9"/>
</g>
<rect x="38.95" y="296.60" width="147.05" height="155.60" fill="none" stroke="#111" stroke-width="1.45"/>
<line x1="43.4" y1="452.9" x2="43.4" y2="455.7" stroke="#111" stroke-width="1"/>
<text x="41.01" y="465.90" font-size="8.6" font-weight="normal" fill="#1a1a1a" stroke="#1a1a1a" stroke-width="0.22" textLength="4.78" lengthAdjust="spacingAndGlyphs">0</text>
<line x1="73.4" y1="452.9" x2="73.4" y2="455.7" stroke="#111" stroke-width="1"/>
<text x="71.06" y="465.90" font-size="8.6" font-weight="normal" fill="#1a1a1a" stroke="#1a1a1a" stroke-width="0.22" textLength="4.78" lengthAdjust="spacingAndGlyphs">5</text>
<line x1="103.5" y1="452.9" x2="103.5" y2="455.7" stroke="#111" stroke-width="1"/>
<text x="98.73" y="465.90" font-size="8.6" font-weight="normal" fill="#1a1a1a" stroke="#1a1a1a" stroke-width="0.22" textLength="9.57" lengthAdjust="spacingAndGlyphs">10</text>
<line x1="133.5" y1="452.9" x2="133.5" y2="455.7" stroke="#111" stroke-width="1"/>
<text x="128.78" y="465.90" font-size="8.6" font-weight="normal" fill="#1a1a1a" stroke="#1a1a1a" stroke-width="0.22" textLength="9.57" lengthAdjust="spacingAndGlyphs">15</text>
<line x1="163.6" y1="452.9" x2="163.6" y2="455.7" stroke="#111" stroke-width="1"/>
<text x="158.83" y="465.90" font-size="8.6" font-weight="normal" fill="#1a1a1a" stroke="#1a1a1a" stroke-width="0.22" textLength="9.57" lengthAdjust="spacingAndGlyphs">20</text>
<g clip-path="url(#cpB2)">
<line x1="224.5" y1="310.9" x2="207.3" y2="333.7" stroke="#eac6d1" stroke-width="1.0"/>
<line x1="207.3" y1="333.7" x2="215.8" y2="337.5" stroke="#eac6d1" stroke-width="1.0"/>
<line x1="215.8" y1="337.5" x2="210.9" y2="344.4" stroke="#eac6d1" stroke-width="1.0"/>
<line x1="210.9" y1="344.4" x2="213.9" y2="347.7" stroke="#eac6d1" stroke-width="1.0"/>
<line x1="219.6" y1="345.0" x2="225.6" y2="340.0" stroke="#eac6d1" stroke-width="1.0"/>
<line x1="219.6" y1="345.0" x2="213.9" y2="347.7" stroke="#eac6d1" stroke-width="1.0"/>
<line x1="225.6" y1="340.0" x2="228.3" y2="339.9" stroke="#eac6d1" stroke-width="1.0"/>
<line x1="228.3" y1="339.9" x2="230.2" y2="339.9" stroke="#eac6d1" stroke-width="1.0"/>
<line x1="230.2" y1="339.9" x2="241.5" y2="338.4" stroke="#eac6d1" stroke-width="1.0"/>
<line x1="208.7" y1="349.7" x2="212.8" y2="348.4" stroke="#eac6d1" stroke-width="1.0"/>
<line x1="212.8" y1="348.4" x2="213.9" y2="347.7" stroke="#eac6d1" stroke-width="1.0"/>
<line x1="212.8" y1="348.4" x2="216.9" y2="352.8" stroke="#eac6d1" stroke-width="1.0"/>
<line x1="224.9" y1="349.4" x2="223.2" y2="352.2" stroke="#eac6d1" stroke-width="1.0"/>
<line x1="224.9" y1="349.4" x2="229.3" y2="351.7" stroke="#eac6d1" stroke-width="1.0"/>
<line x1="233.4" y1="348.4" x2="235.7" y2="350.4" stroke="#eac6d1" stroke-width="1.0"/>
<line x1="221.3" y1="351.2" x2="223.2" y2="352.2" stroke="#eac6d1" stroke-width="1.0"/>
<line x1="221.3" y1="351.2" x2="216.9" y2="352.8" stroke="#eac6d1" stroke-width="1.0"/>
<line x1="216.9" y1="352.8" x2="219.1" y2="355.1" stroke="#eac6d1" stroke-width="1.0"/>
<line x1="195.9" y1="353.6" x2="198.5" y2="358.2" stroke="#eac6d1" stroke-width="1.0"/>
<line x1="207.3" y1="355.7" x2="210.9" y2="358.1" stroke="#eac6d1" stroke-width="1.0"/>
<line x1="219.1" y1="355.1" x2="221.6" y2="357.1" stroke="#bae1e1" stroke-width="1.0"/>
<line x1="229.3" y1="351.7" x2="231.8" y2="352.4" stroke="#eac6d1" stroke-width="1.0"/>
<line x1="231.8" y1="352.4" x2="235.7" y2="350.4" stroke="#e8c6e6" stroke-width="1.0"/>
<line x1="231.8" y1="352.4" x2="231.0" y2="354.9" stroke="#e8c6e6" stroke-width="1.0"/>
<line x1="233.8" y1="354.4" x2="231.0" y2="354.9" stroke="#eac6d1" stroke-width="1.0"/>
<line x1="233.8" y1="354.4" x2="235.7" y2="357.6" stroke="#eac6d1" stroke-width="1.0"/>
<line x1="241.5" y1="338.4" x2="246.0" y2="342.5" stroke="#e8c6e6" stroke-width="1.0"/>
<line x1="270.6" y1="329.9" x2="275.4" y2="338.1" stroke="#e8c6e6" stroke-width="1.0"/>
<line x1="275.4" y1="338.1" x2="282.5" y2="336.0" stroke="#e8c6e6" stroke-width="1.0"/>
<line x1="282.5" y1="336.0" x2="290.8" y2="335.2" stroke="#e8c6e6" stroke-width="1.0"/>
<line x1="263.5" y1="347.8" x2="273.7" y2="348.5" stroke="#e8c6e6" stroke-width="1.0"/>
<line x1="273.7" y1="348.5" x2="274.2" y2="350.0" stroke="#e8c6e6" stroke-width="1.0"/>
<line x1="274.2" y1="350.0" x2="274.9" y2="352.6" stroke="#e8c6e6" stroke-width="1.0"/>
<line x1="279.0" y1="349.2" x2="283.2" y2="349.7" stroke="#e8c6e6" stroke-width="1.0"/>
<line x1="279.0" y1="349.2" x2="277.4" y2="352.6" stroke="#e8c6e6" stroke-width="1.0"/>
<line x1="283.2" y1="349.7" x2="284.9" y2="350.1" stroke="#e8c6e6" stroke-width="1.0"/>
<line x1="297.0" y1="321.7" x2="290.1" y2="322.1" stroke="#e8c6e6" stroke-width="1.0"/>
<line x1="290.1" y1="322.1" x2="285.6" y2="324.5" stroke="#e8c6e6" stroke-width="1.0"/>
<line x1="285.6" y1="324.5" x2="292.3" y2="330.2" stroke="#e8c6e6" stroke-width="1.0"/>
<line x1="292.3" y1="330.2" x2="290.8" y2="335.2" stroke="#e8c6e6" stroke-width="1.0"/>
<line x1="290.8" y1="335.2" x2="297.8" y2="337.7" stroke="#e8c6e6" stroke-width="1.0"/>
<line x1="297.8" y1="337.7" x2="302.5" y2="338.5" stroke="#e8c6e6" stroke-width="1.0"/>
<line x1="302.5" y1="338.5" x2="306.3" y2="341.9" stroke="#e8c6e6" stroke-width="1.0"/>
<line x1="306.3" y1="341.9" x2="306.0" y2="346.0" stroke="#e8c6e6" stroke-width="1.0"/>
<line x1="306.3" y1="341.9" x2="309.2" y2="336.6" stroke="#e8c6e6" stroke-width="1.0"/>
<line x1="306.0" y1="346.0" x2="305.5" y2="347.6" stroke="#e8c6e6" stroke-width="1.0"/>
<line x1="307.3" y1="332.8" x2="309.2" y2="336.6" stroke="#e8c6e6" stroke-width="1.0"/>
<line x1="318.4" y1="301.9" x2="322.0" y2="306.7" stroke="#e8c6e6" stroke-width="1.0"/>
<line x1="322.0" y1="306.7" x2="322.9" y2="325.3" stroke="#e8c6e6" stroke-width="1.0"/>
<line x1="322.9" y1="325.3" x2="322.4" y2="332.8" stroke="#e8c6e6" stroke-width="1.0"/>
<line x1="322.4" y1="332.8" x2="332.4" y2="338.1" stroke="#e8c6e6" stroke-width="1.0"/>
<line x1="332.4" y1="338.1" x2="323.1" y2="343.7" stroke="#e8c6e6" stroke-width="1.0"/>
<line x1="323.1" y1="343.7" x2="315.2" y2="342.9" stroke="#e8c6e6" stroke-width="1.0"/>
<line x1="323.1" y1="343.7" x2="323.1" y2="345.4" stroke="#e8c6e6" stroke-width="1.0"/>
<line x1="315.2" y1="342.9" x2="314.1" y2="346.3" stroke="#e8c6e6" stroke-width="1.0"/>
<line x1="314.1" y1="346.3" x2="311.7" y2="351.1" stroke="#e8c6e6" stroke-width="1.0"/>
<line x1="210.9" y1="358.1" x2="211.1" y2="361.9" stroke="#eac6d1" stroke-width="1.0"/>
<line x1="212.8" y1="366.0" x2="213.0" y2="361.9" stroke="#eac6d1" stroke-width="1.0"/>
<line x1="212.8" y1="366.0" x2="215.5" y2="367.3" stroke="#eac6d1" stroke-width="1.0"/>
<line x1="218.2" y1="366.0" x2="215.5" y2="367.3" stroke="#eac6d1" stroke-width="1.0"/>
<line x1="221.2" y1="362.1" x2="222.5" y2="361.6" stroke="#eac6d1" stroke-width="1.0"/>
<line x1="198.5" y1="358.2" x2="200.6" y2="363.5" stroke="#bae1e1" stroke-width="1.0"/>
<line x1="200.6" y1="363.5" x2="207.3" y2="363.3" stroke="#bae1e1" stroke-width="1.0"/>
<line x1="207.3" y1="363.3" x2="211.1" y2="361.9" stroke="#bae1e1" stroke-width="1.0"/>
<line x1="211.1" y1="361.9" x2="213.0" y2="361.9" stroke="#bae1e1" stroke-width="1.0"/>
<line x1="215.5" y1="367.3" x2="214.5" y2="369.0" stroke="#bae1e1" stroke-width="1.0"/>
<line x1="214.5" y1="369.0" x2="216.6" y2="370.8" stroke="#bae1e1" stroke-width="1.0"/>
<line x1="210.4" y1="370.8" x2="211.4" y2="372.7" stroke="#bae1e1" stroke-width="1.0"/>
<line x1="210.4" y1="370.8" x2="205.0" y2="372.2" stroke="#bae1e1" stroke-width="1.0"/>
<line x1="211.4" y1="372.7" x2="213.3" y2="372.7" stroke="#bae1e1" stroke-width="1.0"/>
<line x1="213.3" y1="372.7" x2="216.6" y2="370.8" stroke="#bae1e1" stroke-width="1.0"/>
<line x1="205.0" y1="372.2" x2="200.5" y2="373.6" stroke="#bae1e1" stroke-width="1.0"/>
<line x1="204.6" y1="378.2" x2="208.2" y2="376.3" stroke="#bae1e1" stroke-width="1.0"/>
<line x1="208.2" y1="376.3" x2="210.1" y2="376.5" stroke="#bae1e1" stroke-width="1.0"/>
<line x1="210.1" y1="376.5" x2="212.3" y2="376.4" stroke="#bae1e1" stroke-width="1.0"/>
<line x1="212.3" y1="376.4" x2="213.9" y2="376.5" stroke="#bae1e1" stroke-width="1.0"/>
<line x1="213.9" y1="376.5" x2="215.8" y2="376.5" stroke="#bae1e1" stroke-width="1.0"/>
<line x1="215.8" y1="376.5" x2="217.7" y2="376.5" stroke="#bae1e1" stroke-width="1.0"/>
<line x1="217.7" y1="376.5" x2="219.0" y2="379.9" stroke="#bae1e1" stroke-width="1.0"/>
<line x1="217.7" y1="376.5" x2="220.4" y2="375.2" stroke="#bae1e1" stroke-width="1.0"/>
<line x1="209.8" y1="381.6" x2="213.6" y2="380.7" stroke="#bae1e1" stroke-width="1.0"/>
<line x1="213.6" y1="380.7" x2="215.8" y2="380.3" stroke="#bae1e1" stroke-width="1.0"/>
<line x1="215.8" y1="380.3" x2="217.4" y2="380.3" stroke="#bae1e1" stroke-width="1.0"/>
<line x1="217.4" y1="380.3" x2="219.0" y2="379.9" stroke="#bae1e1" stroke-width="1.0"/>
<line x1="219.0" y1="379.9" x2="220.6" y2="380.7" stroke="#bae1e1" stroke-width="1.0"/>
<line x1="220.6" y1="380.7" x2="222.3" y2="380.6" stroke="#bae1e1" stroke-width="1.0"/>
<line x1="219.6" y1="371.5" x2="216.6" y2="370.8" stroke="#bae1e1" stroke-width="1.0"/>
<line x1="219.6" y1="371.5" x2="222.3" y2="372.2" stroke="#bae1e1" stroke-width="1.0"/>
<line x1="200.6" y1="384.1" x2="204.6" y2="388.2" stroke="#bae1e1" stroke-width="1.0"/>
<line x1="215.8" y1="384.9" x2="218.0" y2="384.5" stroke="#bae1e1" stroke-width="1.0"/>
<line x1="218.0" y1="384.5" x2="219.2" y2="385.2" stroke="#bae1e1" stroke-width="1.0"/>
<line x1="221.6" y1="357.1" x2="222.5" y2="361.6" stroke="#e8c6e6" stroke-width="1.0"/>
<line x1="208.8" y1="387.8" x2="210.6" y2="389.5" stroke="#bae1e1" stroke-width="1.0"/>
<line x1="208.8" y1="387.8" x2="204.6" y2="388.2" stroke="#bae1e1" stroke-width="1.0"/>
<line x1="210.6" y1="389.5" x2="212.0" y2="392.2" stroke="#bae1e1" stroke-width="1.0"/>
<line x1="212.0" y1="392.2" x2="213.6" y2="392.8" stroke="#bae1e1" stroke-width="1.0"/>
<line x1="212.0" y1="392.2" x2="208.1" y2="394.3" stroke="#bae1e1" stroke-width="1.0"/>
<line x1="213.6" y1="392.8" x2="215.2" y2="390.9" stroke="#bae1e1" stroke-width="1.0"/>
<line x1="213.6" y1="392.8" x2="216.1" y2="395.7" stroke="#bae1e1" stroke-width="1.0"/>
<line x1="215.2" y1="390.9" x2="219.8" y2="391.5" stroke="#bae1e1" stroke-width="1.0"/>
<line x1="216.1" y1="395.7" x2="211.2" y2="399.0" stroke="#bae1e1" stroke-width="1.0"/>
<line x1="216.1" y1="395.7" x2="220.9" y2="397.2" stroke="#bae1e1" stroke-width="1.0"/>
<line x1="219.6" y1="405.4" x2="226.0" y2="409.4" stroke="#bae1e1" stroke-width="1.0"/>
<line x1="220.9" y1="397.2" x2="227.1" y2="399.0" stroke="#bae1e1" stroke-width="1.0"/>
<line x1="220.6" y1="414.4" x2="221.8" y2="412.3" stroke="#bae1e1" stroke-width="1.0"/>
<line x1="220.6" y1="414.4" x2="223.3" y2="421.1" stroke="#bae1e1" stroke-width="1.0"/>
<line x1="217.4" y1="387.1" x2="219.2" y2="385.2" stroke="#bae1e1" stroke-width="1.0"/>
<line x1="220.2" y1="388.0" x2="220.9" y2="390.5" stroke="#bae1e1" stroke-width="1.0"/>
<line x1="220.2" y1="388.0" x2="221.1" y2="385.6" stroke="#bae1e1" stroke-width="1.0"/>
<line x1="220.2" y1="388.0" x2="222.3" y2="388.1" stroke="#bae1e1" stroke-width="1.0"/>
<line x1="220.9" y1="390.5" x2="219.8" y2="391.5" stroke="#bae1e1" stroke-width="1.0"/>
<line x1="221.5" y1="392.2" x2="219.8" y2="391.5" stroke="#bae1e1" stroke-width="1.0"/>
<line x1="221.8" y1="412.3" x2="224.6" y2="412.8" stroke="#c4e2b6" stroke-width="1.0"/>
<line x1="223.9" y1="368.0" x2="227.7" y2="365.5" stroke="#eac6d1" stroke-width="1.0"/>
<line x1="223.9" y1="368.0" x2="222.3" y2="372.2" stroke="#eac6d1" stroke-width="1.0"/>
<line x1="232.8" y1="366.5" x2="227.7" y2="365.5" stroke="#eac6d1" stroke-width="1.0"/>
<line x1="232.8" y1="366.5" x2="236.3" y2="368.0" stroke="#eac6d1" stroke-width="1.0"/>
<line x1="238.5" y1="372.2" x2="236.3" y2="368.0" stroke="#eac6d1" stroke-width="1.0"/>
<line x1="238.5" y1="372.2" x2="242.7" y2="371.9" stroke="#eac6d1" stroke-width="1.0"/>
<line x1="235.6" y1="363.4" x2="237.0" y2="363.7" stroke="#eac6d1" stroke-width="1.0"/>
<line x1="239.1" y1="386.9" x2="242.6" y2="385.6" stroke="#eac6d1" stroke-width="1.0"/>
<line x1="227.7" y1="365.5" x2="227.5" y2="362.2" stroke="#bae1e1" stroke-width="1.0"/>
<line x1="222.3" y1="372.2" x2="220.4" y2="375.2" stroke="#bae1e1" stroke-width="1.0"/>
<line x1="220.4" y1="375.2" x2="223.0" y2="375.6" stroke="#bae1e1" stroke-width="1.0"/>
<line x1="223.0" y1="375.6" x2="226.5" y2="374.7" stroke="#bae1e1" stroke-width="1.0"/>
<line x1="226.5" y1="374.7" x2="229.6" y2="376.4" stroke="#bae1e1" stroke-width="1.0"/>
<line x1="229.6" y1="376.4" x2="232.5" y2="378.5" stroke="#bae1e1" stroke-width="1.0"/>
<line x1="229.6" y1="376.4" x2="231.8" y2="371.8" stroke="#bae1e1" stroke-width="1.0"/>
<line x1="240.1" y1="376.2" x2="242.6" y2="374.7" stroke="#bae1e1" stroke-width="1.0"/>
<line x1="242.6" y1="374.7" x2="243.9" y2="373.9" stroke="#bae1e1" stroke-width="1.0"/>
<line x1="222.3" y1="380.6" x2="224.9" y2="380.6" stroke="#bae1e1" stroke-width="1.0"/>
<line x1="224.9" y1="380.6" x2="227.1" y2="381.9" stroke="#bae1e1" stroke-width="1.0"/>
<line x1="224.9" y1="380.6" x2="226.1" y2="378.8" stroke="#bae1e1" stroke-width="1.0"/>
<line x1="227.1" y1="381.9" x2="228.4" y2="381.0" stroke="#bae1e1" stroke-width="1.0"/>
<line x1="227.1" y1="381.9" x2="225.5" y2="383.5" stroke="#bae1e1" stroke-width="1.0"/>
<line x1="229.0" y1="384.8" x2="225.5" y2="383.5" stroke="#bae1e1" stroke-width="1.0"/>
<line x1="225.5" y1="383.5" x2="223.5" y2="385.0" stroke="#bae1e1" stroke-width="1.0"/>
<line x1="219.2" y1="385.2" x2="221.1" y2="385.6" stroke="#bae1e1" stroke-width="1.0"/>
<line x1="221.1" y1="385.6" x2="223.5" y2="385.0" stroke="#bae1e1" stroke-width="1.0"/>
<line x1="222.3" y1="388.1" x2="224.2" y2="389.0" stroke="#bae1e1" stroke-width="1.0"/>
<line x1="224.2" y1="389.0" x2="226.1" y2="390.2" stroke="#bae1e1" stroke-width="1.0"/>
<line x1="226.1" y1="390.2" x2="227.7" y2="390.7" stroke="#bae1e1" stroke-width="1.0"/>
<line x1="241.3" y1="365.3" x2="238.9" y2="365.8" stroke="#e8c6e6" stroke-width="1.0"/>
<line x1="246.4" y1="367.2" x2="250.6" y2="369.7" stroke="#e8c6e6" stroke-width="1.0"/>
<line x1="243.9" y1="373.9" x2="246.1" y2="372.6" stroke="#e8c6e6" stroke-width="1.0"/>
<line x1="243.9" y1="373.9" x2="242.7" y2="371.9" stroke="#e8c6e6" stroke-width="1.0"/>
<line x1="246.1" y1="372.6" x2="250.5" y2="373.2" stroke="#e8c6e6" stroke-width="1.0"/>
<line x1="240.1" y1="383.5" x2="242.6" y2="385.6" stroke="#e8c6e6" stroke-width="1.0"/>
<line x1="245.8" y1="385.2" x2="247.7" y2="390.7" stroke="#e8c6e6" stroke-width="1.0"/>
<line x1="245.8" y1="385.2" x2="242.6" y2="385.6" stroke="#e8c6e6" stroke-width="1.0"/>
<line x1="245.8" y1="385.2" x2="251.8" y2="382.8" stroke="#e8c6e6" stroke-width="1.0"/>
<line x1="236.3" y1="368.0" x2="238.9" y2="365.8" stroke="#c4e2b6" stroke-width="1.0"/>
<line x1="242.0" y1="393.6" x2="247.7" y2="390.7" stroke="#c4e2b6" stroke-width="1.0"/>
<line x1="242.0" y1="393.6" x2="240.7" y2="396.9" stroke="#c4e2b6" stroke-width="1.0"/>
<line x1="240.7" y1="396.9" x2="242.9" y2="400.7" stroke="#c4e2b6" stroke-width="1.0"/>
<line x1="217.1" y1="423.4" x2="215.5" y2="429.1" stroke="#c4e2b6" stroke-width="1.0"/>
<line x1="217.1" y1="423.4" x2="223.3" y2="421.1" stroke="#c4e2b6" stroke-width="1.0"/>
<line x1="227.1" y1="399.0" x2="231.8" y2="400.2" stroke="#bae1e1" stroke-width="1.0"/>
<line x1="248.6" y1="405.4" x2="243.2" y2="409.2" stroke="#bae1e1" stroke-width="1.0"/>
<line x1="248.6" y1="405.4" x2="248.6" y2="399.0" stroke="#bae1e1" stroke-width="1.0"/>
<line x1="231.8" y1="400.2" x2="234.4" y2="400.4" stroke="#c4e2b6" stroke-width="1.0"/>
<line x1="238.5" y1="408.0" x2="243.2" y2="409.2" stroke="#c4e2b6" stroke-width="1.0"/>
<line x1="243.2" y1="409.2" x2="247.0" y2="415.1" stroke="#c4e2b6" stroke-width="1.0"/>
<line x1="226.0" y1="409.4" x2="224.6" y2="412.8" stroke="#c4e2b6" stroke-width="1.0"/>
<line x1="224.6" y1="412.8" x2="229.3" y2="413.2" stroke="#c4e2b6" stroke-width="1.0"/>
<line x1="223.3" y1="421.1" x2="227.1" y2="420.9" stroke="#c4e2b6" stroke-width="1.0"/>
<line x1="227.1" y1="420.9" x2="228.0" y2="424.7" stroke="#c4e2b6" stroke-width="1.0"/>
<line x1="232.8" y1="420.9" x2="232.8" y2="424.7" stroke="#c4e2b6" stroke-width="1.0"/>
<line x1="228.0" y1="424.7" x2="232.8" y2="424.7" stroke="#c4e2b6" stroke-width="1.0"/>
<line x1="232.8" y1="424.7" x2="232.2" y2="428.5" stroke="#c4e2b6" stroke-width="1.0"/>
<line x1="238.5" y1="425.0" x2="244.2" y2="423.5" stroke="#c4e2b6" stroke-width="1.0"/>
<line x1="238.5" y1="425.0" x2="236.0" y2="428.5" stroke="#c4e2b6" stroke-width="1.0"/>
<line x1="244.2" y1="423.5" x2="248.0" y2="418.4" stroke="#c4e2b6" stroke-width="1.0"/>
<line x1="232.2" y1="428.5" x2="236.0" y2="428.5" stroke="#c4e2b6" stroke-width="1.0"/>
<line x1="232.2" y1="428.5" x2="224.6" y2="432.5" stroke="#c4e2b6" stroke-width="1.0"/>
<line x1="242.9" y1="400.7" x2="248.6" y2="399.0" stroke="#e8c6e6" stroke-width="1.0"/>
<line x1="248.6" y1="399.0" x2="249.5" y2="397.6" stroke="#e8c6e6" stroke-width="1.0"/>
<line x1="247.0" y1="415.1" x2="248.8" y2="415.6" stroke="#c2ccf1" stroke-width="1.0"/>
<line x1="248.0" y1="418.4" x2="248.8" y2="415.6" stroke="#e7e0ab" stroke-width="1.0"/>
<line x1="248.0" y1="418.4" x2="252.3" y2="420.7" stroke="#e7e0ab" stroke-width="1.0"/>
<line x1="244.2" y1="443.7" x2="251.7" y2="435.1" stroke="#e7e0ab" stroke-width="1.0"/>
<line x1="255.2" y1="413.3" x2="259.9" y2="415.6" stroke="#c2ccf1" stroke-width="1.0"/>
<line x1="259.9" y1="405.6" x2="258.0" y2="406.3" stroke="#c2ccf1" stroke-width="1.0"/>
<line x1="259.9" y1="405.6" x2="260.5" y2="408.1" stroke="#c2ccf1" stroke-width="1.0"/>
<line x1="268.8" y1="407.1" x2="271.6" y2="410.8" stroke="#c2ccf1" stroke-width="1.0"/>
<line x1="263.4" y1="412.3" x2="260.8" y2="410.2" stroke="#c2ccf1" stroke-width="1.0"/>
<line x1="263.4" y1="412.3" x2="259.9" y2="415.6" stroke="#c2ccf1" stroke-width="1.0"/>
<line x1="263.4" y1="412.3" x2="267.2" y2="414.4" stroke="#c2ccf1" stroke-width="1.0"/>
<line x1="269.1" y1="413.5" x2="272.9" y2="413.3" stroke="#c2ccf1" stroke-width="1.0"/>
<line x1="269.1" y1="413.5" x2="267.2" y2="414.4" stroke="#c2ccf1" stroke-width="1.0"/>
<line x1="272.9" y1="413.3" x2="275.1" y2="412.1" stroke="#c2ccf1" stroke-width="1.0"/>
<line x1="272.9" y1="413.3" x2="271.6" y2="410.8" stroke="#c2ccf1" stroke-width="1.0"/>
<line x1="275.1" y1="412.1" x2="277.2" y2="413.8" stroke="#c2ccf1" stroke-width="1.0"/>
<line x1="263.7" y1="419.8" x2="263.1" y2="423.2" stroke="#c2ccf1" stroke-width="1.0"/>
<line x1="252.3" y1="422.3" x2="255.5" y2="423.6" stroke="#c2ccf1" stroke-width="1.0"/>
<line x1="252.3" y1="422.3" x2="252.3" y2="420.7" stroke="#c2ccf1" stroke-width="1.0"/>
<line x1="255.5" y1="423.6" x2="255.2" y2="425.3" stroke="#c2ccf1" stroke-width="1.0"/>
<line x1="260.5" y1="408.1" x2="260.8" y2="410.2" stroke="#e7e0ab" stroke-width="1.0"/>
<line x1="252.3" y1="420.7" x2="255.8" y2="419.4" stroke="#e7e0ab" stroke-width="1.0"/>
<line x1="255.8" y1="419.4" x2="259.9" y2="415.6" stroke="#e7e0ab" stroke-width="1.0"/>
<line x1="275.4" y1="395.1" x2="282.6" y2="394.8" stroke="#e7e0ab" stroke-width="1.0"/>
<line x1="275.7" y1="404.3" x2="280.4" y2="404.2" stroke="#e7e0ab" stroke-width="1.0"/>
<line x1="263.1" y1="423.2" x2="260.5" y2="425.3" stroke="#e7e0ab" stroke-width="1.0"/>
<line x1="268.4" y1="424.4" x2="269.4" y2="428.4" stroke="#e7e0ab" stroke-width="1.0"/>
<line x1="260.5" y1="425.3" x2="255.2" y2="425.3" stroke="#e7e0ab" stroke-width="1.0"/>
<line x1="260.5" y1="425.3" x2="262.4" y2="427.5" stroke="#e7e0ab" stroke-width="1.0"/>
<line x1="255.2" y1="425.3" x2="254.2" y2="426.4" stroke="#e7e0ab" stroke-width="1.0"/>
<line x1="254.2" y1="426.4" x2="251.0" y2="428.4" stroke="#e7e0ab" stroke-width="1.0"/>
<line x1="266.5" y1="428.8" x2="262.4" y2="427.5" stroke="#e7e0ab" stroke-width="1.0"/>
<line x1="266.5" y1="428.8" x2="269.4" y2="428.4" stroke="#e7e0ab" stroke-width="1.0"/>
<line x1="268.8" y1="431.1" x2="269.4" y2="428.4" stroke="#e7e0ab" stroke-width="1.0"/>
<line x1="268.8" y1="431.1" x2="266.5" y2="438.2" stroke="#e7e0ab" stroke-width="1.0"/>
<line x1="259.9" y1="429.4" x2="262.4" y2="427.5" stroke="#e7e0ab" stroke-width="1.0"/>
<line x1="251.7" y1="435.1" x2="251.0" y2="428.4" stroke="#e7e0ab" stroke-width="1.0"/>
<line x1="251.7" y1="435.1" x2="255.5" y2="438.0" stroke="#e7e0ab" stroke-width="1.0"/>
<line x1="266.5" y1="440.3" x2="266.5" y2="438.2" stroke="#e7e0ab" stroke-width="1.0"/>
<line x1="269.4" y1="428.4" x2="272.9" y2="426.7" stroke="#c2ccf1" stroke-width="1.0"/>
<line x1="272.9" y1="426.7" x2="275.7" y2="427.8" stroke="#c2ccf1" stroke-width="1.0"/>
<line x1="275.7" y1="427.8" x2="274.5" y2="431.1" stroke="#c2ccf1" stroke-width="1.0"/>
<line x1="241.8" y1="356.3" x2="235.7" y2="357.6" stroke="#eac6d1" stroke-width="1.0"/>
<line x1="241.8" y1="356.3" x2="241.1" y2="354.9" stroke="#eac6d1" stroke-width="1.0"/>
<line x1="246.8" y1="355.1" x2="250.0" y2="354.0" stroke="#eac6d1" stroke-width="1.0"/>
<line x1="246.8" y1="355.1" x2="242.7" y2="354.4" stroke="#eac6d1" stroke-width="1.0"/>
<line x1="231.3" y1="360.3" x2="227.5" y2="362.2" stroke="#eac6d1" stroke-width="1.0"/>
<line x1="227.5" y1="362.2" x2="224.0" y2="363.7" stroke="#eac6d1" stroke-width="1.0"/>
<line x1="222.5" y1="361.6" x2="224.0" y2="363.7" stroke="#eac6d1" stroke-width="1.0"/>
<line x1="237.0" y1="363.7" x2="238.9" y2="365.8" stroke="#eac6d1" stroke-width="1.0"/>
<line x1="241.1" y1="354.9" x2="242.7" y2="354.4" stroke="#e8c6e6" stroke-width="1.0"/>
<line x1="250.6" y1="361.2" x2="257.5" y2="361.3" stroke="#e8c6e6" stroke-width="1.0"/>
<line x1="250.6" y1="369.7" x2="253.5" y2="368.7" stroke="#e8c6e6" stroke-width="1.0"/>
<line x1="250.6" y1="369.7" x2="250.5" y2="373.2" stroke="#e8c6e6" stroke-width="1.0"/>
<line x1="253.5" y1="368.7" x2="255.9" y2="369.1" stroke="#e8c6e6" stroke-width="1.0"/>
<line x1="260.8" y1="357.1" x2="257.5" y2="359.6" stroke="#e8c6e6" stroke-width="1.0"/>
<line x1="257.5" y1="361.3" x2="261.6" y2="364.4" stroke="#e8c6e6" stroke-width="1.0"/>
<line x1="257.5" y1="361.3" x2="257.5" y2="359.6" stroke="#e8c6e6" stroke-width="1.0"/>
<line x1="263.2" y1="361.4" x2="265.4" y2="361.3" stroke="#e8c6e6" stroke-width="1.0"/>
<line x1="263.2" y1="361.4" x2="261.6" y2="364.4" stroke="#e8c6e6" stroke-width="1.0"/>
<line x1="261.6" y1="364.4" x2="260.6" y2="366.5" stroke="#e8c6e6" stroke-width="1.0"/>
<line x1="260.6" y1="366.5" x2="256.5" y2="366.0" stroke="#e8c6e6" stroke-width="1.0"/>
<line x1="260.6" y1="366.5" x2="261.0" y2="368.6" stroke="#e8c6e6" stroke-width="1.0"/>
<line x1="256.5" y1="366.0" x2="255.9" y2="369.1" stroke="#e8c6e6" stroke-width="1.0"/>
<line x1="261.0" y1="368.6" x2="263.5" y2="369.8" stroke="#e8c6e6" stroke-width="1.0"/>
<line x1="263.5" y1="369.8" x2="265.4" y2="370.2" stroke="#e8c6e6" stroke-width="1.0"/>
<line x1="263.5" y1="369.8" x2="265.4" y2="366.9" stroke="#e8c6e6" stroke-width="1.0"/>
<line x1="272.0" y1="358.5" x2="274.6" y2="358.5" stroke="#e8c6e6" stroke-width="1.0"/>
<line x1="274.6" y1="358.5" x2="275.5" y2="362.7" stroke="#e8c6e6" stroke-width="1.0"/>
<line x1="274.9" y1="352.6" x2="277.4" y2="352.6" stroke="#e8c6e6" stroke-width="1.0"/>
<line x1="277.4" y1="352.6" x2="281.2" y2="356.0" stroke="#e8c6e6" stroke-width="1.0"/>
<line x1="281.2" y1="356.0" x2="284.6" y2="360.3" stroke="#e8c6e6" stroke-width="1.0"/>
<line x1="272.3" y1="367.3" x2="273.9" y2="365.8" stroke="#e8c6e6" stroke-width="1.0"/>
<line x1="272.3" y1="367.3" x2="265.4" y2="366.9" stroke="#e8c6e6" stroke-width="1.0"/>
<line x1="273.9" y1="365.8" x2="277.4" y2="366.5" stroke="#e8c6e6" stroke-width="1.0"/>
<line x1="273.9" y1="365.8" x2="275.5" y2="362.7" stroke="#e8c6e6" stroke-width="1.0"/>
<line x1="277.4" y1="366.5" x2="281.2" y2="365.2" stroke="#e8c6e6" stroke-width="1.0"/>
<line x1="277.4" y1="366.5" x2="278.4" y2="369.8" stroke="#e8c6e6" stroke-width="1.0"/>
<line x1="281.2" y1="365.2" x2="284.6" y2="360.3" stroke="#e8c6e6" stroke-width="1.0"/>
<line x1="278.4" y1="369.8" x2="279.0" y2="373.0" stroke="#e8c6e6" stroke-width="1.0"/>
<line x1="279.0" y1="373.0" x2="273.3" y2="373.8" stroke="#e8c6e6" stroke-width="1.0"/>
<line x1="279.0" y1="373.0" x2="284.3" y2="375.5" stroke="#e8c6e6" stroke-width="1.0"/>
<line x1="272.0" y1="373.0" x2="273.3" y2="373.8" stroke="#e8c6e6" stroke-width="1.0"/>
<line x1="273.3" y1="373.8" x2="273.0" y2="376.5" stroke="#e8c6e6" stroke-width="1.0"/>
<line x1="252.7" y1="378.2" x2="257.2" y2="378.6" stroke="#e8c6e6" stroke-width="1.0"/>
<line x1="264.1" y1="377.4" x2="259.7" y2="378.4" stroke="#e8c6e6" stroke-width="1.0"/>
<line x1="257.2" y1="381.1" x2="259.1" y2="381.1" stroke="#e8c6e6" stroke-width="1.0"/>
<line x1="257.2" y1="381.1" x2="255.3" y2="384.1" stroke="#e8c6e6" stroke-width="1.0"/>
<line x1="257.2" y1="381.1" x2="257.2" y2="378.6" stroke="#e8c6e6" stroke-width="1.0"/>
<line x1="251.8" y1="382.8" x2="255.3" y2="384.1" stroke="#e8c6e6" stroke-width="1.0"/>
<line x1="255.3" y1="384.1" x2="261.4" y2="389.0" stroke="#e8c6e6" stroke-width="1.0"/>
<line x1="257.2" y1="378.6" x2="259.7" y2="378.4" stroke="#c4e2b6" stroke-width="1.0"/>
<line x1="259.7" y1="378.4" x2="260.3" y2="373.2" stroke="#c4e2b6" stroke-width="1.0"/>
<line x1="255.9" y1="369.1" x2="257.2" y2="371.5" stroke="#e7e0ab" stroke-width="1.0"/>
<line x1="257.2" y1="371.5" x2="260.3" y2="373.2" stroke="#e7e0ab" stroke-width="1.0"/>
<line x1="305.5" y1="347.6" x2="308.3" y2="351.1" stroke="#e8c6e6" stroke-width="1.0"/>
<line x1="308.3" y1="351.1" x2="311.7" y2="351.1" stroke="#e8c6e6" stroke-width="1.0"/>
<line x1="284.6" y1="360.3" x2="288.7" y2="362.1" stroke="#e8c6e6" stroke-width="1.0"/>
<line x1="296.3" y1="354.4" x2="293.1" y2="358.6" stroke="#e8c6e6" stroke-width="1.0"/>
<line x1="293.1" y1="358.6" x2="288.7" y2="362.1" stroke="#e8c6e6" stroke-width="1.0"/>
<line x1="293.1" y1="358.6" x2="298.2" y2="360.2" stroke="#e8c6e6" stroke-width="1.0"/>
<line x1="299.8" y1="359.1" x2="308.0" y2="357.4" stroke="#e8c6e6" stroke-width="1.0"/>
<line x1="299.8" y1="359.1" x2="298.2" y2="360.2" stroke="#e8c6e6" stroke-width="1.0"/>
<line x1="308.0" y1="357.4" x2="314.9" y2="356.5" stroke="#e8c6e6" stroke-width="1.0"/>
<line x1="311.7" y1="351.1" x2="314.2" y2="352.4" stroke="#e8c6e6" stroke-width="1.0"/>
<line x1="314.2" y1="352.4" x2="314.9" y2="356.5" stroke="#e8c6e6" stroke-width="1.0"/>
<line x1="314.9" y1="356.5" x2="314.5" y2="359.9" stroke="#e8c6e6" stroke-width="1.0"/>
<line x1="314.5" y1="359.9" x2="316.4" y2="365.5" stroke="#e8c6e6" stroke-width="1.0"/>
<line x1="323.1" y1="345.4" x2="324.3" y2="348.4" stroke="#e8c6e6" stroke-width="1.0"/>
<line x1="284.3" y1="375.5" x2="287.4" y2="370.1" stroke="#e8c6e6" stroke-width="1.0"/>
<line x1="284.3" y1="375.5" x2="289.3" y2="377.5" stroke="#e8c6e6" stroke-width="1.0"/>
<line x1="289.3" y1="377.5" x2="292.5" y2="375.3" stroke="#e8c6e6" stroke-width="1.0"/>
<line x1="289.3" y1="377.5" x2="285.8" y2="383.9" stroke="#e8c6e6" stroke-width="1.0"/>
<line x1="298.2" y1="360.2" x2="301.0" y2="364.6" stroke="#e8c6e6" stroke-width="1.0"/>
<line x1="304.5" y1="367.2" x2="300.4" y2="370.8" stroke="#e8c6e6" stroke-width="1.0"/>
<line x1="304.5" y1="367.2" x2="301.0" y2="364.6" stroke="#e8c6e6" stroke-width="1.0"/>
<line x1="306.7" y1="382.2" x2="306.7" y2="384.3" stroke="#e7e0ab" stroke-width="1.0"/>
<line x1="306.7" y1="384.3" x2="308.0" y2="388.1" stroke="#e7e0ab" stroke-width="1.0"/>
<line x1="304.8" y1="389.0" x2="308.0" y2="388.1" stroke="#e7e0ab" stroke-width="1.0"/>
<line x1="304.8" y1="389.0" x2="303.5" y2="388.7" stroke="#e7e0ab" stroke-width="1.0"/>
<line x1="308.0" y1="388.1" x2="312.6" y2="389.4" stroke="#e7e0ab" stroke-width="1.0"/>
<line x1="319.5" y1="386.4" x2="312.6" y2="389.4" stroke="#e7e0ab" stroke-width="1.0"/>
<line x1="312.6" y1="389.4" x2="313.8" y2="391.6" stroke="#e7e0ab" stroke-width="1.0"/>
<line x1="282.6" y1="394.8" x2="286.1" y2="393.3" stroke="#e7e0ab" stroke-width="1.0"/>
<line x1="282.6" y1="394.8" x2="283.2" y2="399.0" stroke="#e7e0ab" stroke-width="1.0"/>
<line x1="286.1" y1="393.3" x2="291.1" y2="395.4" stroke="#e7e0ab" stroke-width="1.0"/>
<line x1="283.2" y1="399.0" x2="286.1" y2="402.7" stroke="#e7e0ab" stroke-width="1.0"/>
<line x1="286.1" y1="402.7" x2="287.6" y2="401.8" stroke="#e7e0ab" stroke-width="1.0"/>
<line x1="286.1" y1="402.7" x2="280.4" y2="404.2" stroke="#e7e0ab" stroke-width="1.0"/>
<line x1="291.1" y1="395.4" x2="293.0" y2="392.3" stroke="#e7e0ab" stroke-width="1.0"/>
<line x1="291.1" y1="395.4" x2="293.0" y2="399.6" stroke="#e7e0ab" stroke-width="1.0"/>
<line x1="293.0" y1="392.3" x2="297.1" y2="393.5" stroke="#e7e0ab" stroke-width="1.0"/>
<line x1="297.1" y1="393.5" x2="303.5" y2="388.7" stroke="#e7e0ab" stroke-width="1.0"/>
<line x1="293.0" y1="399.6" x2="293.7" y2="401.3" stroke="#e7e0ab" stroke-width="1.0"/>
<line x1="293.7" y1="401.3" x2="296.5" y2="400.0" stroke="#e7e0ab" stroke-width="1.0"/>
<line x1="293.7" y1="401.3" x2="294.9" y2="405.4" stroke="#e7e0ab" stroke-width="1.0"/>
<line x1="296.5" y1="400.0" x2="297.8" y2="401.7" stroke="#e7e0ab" stroke-width="1.0"/>
<line x1="297.8" y1="401.7" x2="304.1" y2="402.9" stroke="#e7e0ab" stroke-width="1.0"/>
<line x1="294.9" y1="405.4" x2="293.3" y2="409.0" stroke="#e7e0ab" stroke-width="1.0"/>
<line x1="293.3" y1="409.0" x2="296.2" y2="410.5" stroke="#e7e0ab" stroke-width="1.0"/>
<line x1="296.2" y1="410.5" x2="297.8" y2="410.7" stroke="#e7e0ab" stroke-width="1.0"/>
<line x1="296.2" y1="410.5" x2="294.3" y2="413.8" stroke="#e7e0ab" stroke-width="1.0"/>
<line x1="294.3" y1="413.8" x2="290.5" y2="413.4" stroke="#e7e0ab" stroke-width="1.0"/>
<line x1="294.3" y1="413.8" x2="293.3" y2="419.0" stroke="#e7e0ab" stroke-width="1.0"/>
<line x1="280.4" y1="404.2" x2="280.4" y2="407.1" stroke="#e7e0ab" stroke-width="1.0"/>
<line x1="280.4" y1="407.1" x2="280.0" y2="410.2" stroke="#e7e0ab" stroke-width="1.0"/>
<line x1="280.0" y1="410.2" x2="283.8" y2="412.1" stroke="#e7e0ab" stroke-width="1.0"/>
<line x1="280.0" y1="410.2" x2="277.2" y2="413.8" stroke="#e7e0ab" stroke-width="1.0"/>
<line x1="277.2" y1="413.8" x2="280.7" y2="415.9" stroke="#e7e0ab" stroke-width="1.0"/>
<line x1="280.7" y1="415.9" x2="283.2" y2="420.7" stroke="#e7e0ab" stroke-width="1.0"/>
<line x1="287.0" y1="418.0" x2="283.2" y2="420.7" stroke="#e7e0ab" stroke-width="1.0"/>
<line x1="304.1" y1="402.9" x2="307.2" y2="406.5" stroke="#e7e0ab" stroke-width="1.0"/>
<line x1="307.2" y1="406.5" x2="308.7" y2="408.8" stroke="#e7e0ab" stroke-width="1.0"/>
<line x1="308.7" y1="408.8" x2="309.7" y2="411.3" stroke="#e7e0ab" stroke-width="1.0"/>
<line x1="309.7" y1="411.3" x2="305.3" y2="416.3" stroke="#e7e0ab" stroke-width="1.0"/>
<line x1="309.7" y1="411.3" x2="325.2" y2="408.8" stroke="#e7e0ab" stroke-width="1.0"/>
<line x1="281.3" y1="421.9" x2="283.2" y2="420.7" stroke="#e7e0ab" stroke-width="1.0"/>
<line x1="281.3" y1="421.9" x2="288.5" y2="429.7" stroke="#e7e0ab" stroke-width="1.0"/>
<line x1="288.5" y1="429.7" x2="298.7" y2="428.6" stroke="#e7e0ab" stroke-width="1.0"/>
<line x1="298.7" y1="428.6" x2="303.1" y2="432.4" stroke="#e7e0ab" stroke-width="1.0"/>
<line x1="303.1" y1="432.4" x2="299.3" y2="443.1" stroke="#e7e0ab" stroke-width="1.0"/>
<line x1="303.1" y1="432.4" x2="306.8" y2="426.1" stroke="#e7e0ab" stroke-width="1.0"/>
<line x1="261.4" y1="389.0" x2="267.7" y2="389.0" stroke="#e8c6e6" stroke-width="1.0"/>
<polyline points="297.0,321.7 290.1,322.1 285.6,324.5 288.9,327.6 292.2,329.9 290.6,335.3 297.6,337.5 302.3,338.4 306.3,341.6 306.4,346.3 308.3,350.9 311.7,351.1 314.2,352.3 314.8,356.5" fill="none" stroke="#7b7b7b" stroke-width="1.0" stroke-linejoin="round"/>
<polyline points="314.8,356.5 307.9,357.4 299.7,359.0 298.2,360.2 293.1,358.8 288.7,362.1 284.9,361.0 281.8,365.0 281.2,365.2 277.4,366.5 273.6,366.0 271.1,367.3 268.5,367.3 265.4,366.8 261.2,365.6 259.0,366.0 255.9,367.3 253.3,369.0 250.4,372.4 248.3,372.9 245.1,373.0 242.6,372.2 240.7,372.2 238.5,371.8 237.5,370.6 236.4,368.3 238.9,365.8 235.4,363.0 233.5,361.5 231.3,360.2 227.5,362.1 224.1,364.5 223.9,368.0 223.3,371.0 223.6,375.6 224.9,378.1 226.1,379.3 224.6,384.8 222.1,390.6 220.4,395.0" fill="none" stroke="#7b7b7b" stroke-width="1.0" stroke-linejoin="round"/>
<polyline points="220.4,395.0 220.8,397.1 227.1,399.0 231.8,400.4 235.0,400.4 240.7,397.9 242.9,400.4 248.9,398.2 248.5,404.8 243.8,409.3 246.1,414.2 247.9,418.6 252.3,420.7 255.8,419.4 259.9,415.7 263.4,412.3 267.2,414.4 269.4,413.6 272.9,413.3 275.1,412.3 277.2,413.9 280.7,415.9 282.9,421.1 286.4,419.0 288.6,415.9 290.5,413.4 294.3,413.9 294.9,410.9 293.3,409.1 294.0,408.0 294.9,405.4 293.7,403.3 293.7,399.5 292.4,397.1 292.1,394.1 293.0,392.3 294.9,392.9 297.1,393.4 298.7,392.3 305.0,389.3 307.2,387.8 312.5,390.4 314.1,391.6 319.5,386.4" fill="none" stroke="#7b7b7b" stroke-width="1.0" stroke-linejoin="round"/>
<circle cx="233.9" cy="390.1" r="1.4" fill="#1c3468" stroke="none" stroke-width="0"/>
<circle cx="242.4" cy="390.1" r="1.4" fill="#1c3468" stroke="none" stroke-width="0"/>
<circle cx="232.8" cy="394.8" r="1.4" fill="#1c3468" stroke="none" stroke-width="0"/>
<circle cx="245.6" cy="393.6" r="1.4" fill="#1c3468" stroke="none" stroke-width="0"/>
<circle cx="217.8" cy="398.2" r="1.4" fill="#1c3468" stroke="none" stroke-width="0"/>
<circle cx="214.6" cy="410.6" r="1.4" fill="#1c3468" stroke="none" stroke-width="0"/>
<circle cx="220.8" cy="410.2" r="1.4" fill="#1c3468" stroke="none" stroke-width="0"/>
<circle cx="238.3" cy="408.0" r="1.4" fill="#1c3468" stroke="none" stroke-width="0"/>
<circle cx="239.0" cy="414.8" r="1.4" fill="#1c3468" stroke="none" stroke-width="0"/>
<circle cx="244.9" cy="413.8" r="1.4" fill="#1c3468" stroke="none" stroke-width="0"/>
<circle cx="267.5" cy="388.2" r="1.4" fill="#1c3468" stroke="none" stroke-width="0"/>
<circle cx="253.7" cy="373.9" r="1.3" fill="#bfc9dc" stroke="#4f6795" stroke-width="0.9"/>
<circle cx="230.3" cy="382.4" r="1.3" fill="#bfc9dc" stroke="#4f6795" stroke-width="0.9"/>
<circle cx="248.2" cy="386.5" r="1.3" fill="#bfc9dc" stroke="#4f6795" stroke-width="0.9"/>
<circle cx="231.7" cy="390.1" r="1.3" fill="#bfc9dc" stroke="#4f6795" stroke-width="0.9"/>
<circle cx="220.0" cy="391.9" r="1.3" fill="#bfc9dc" stroke="#4f6795" stroke-width="0.9"/>
<circle cx="214.2" cy="396.3" r="1.3" fill="#bfc9dc" stroke="#4f6795" stroke-width="0.9"/>
<circle cx="231.3" cy="398.5" r="1.3" fill="#bfc9dc" stroke="#4f6795" stroke-width="0.9"/>
<circle cx="243.4" cy="401.1" r="1.3" fill="#bfc9dc" stroke="#4f6795" stroke-width="0.9"/>
<circle cx="261.7" cy="405.8" r="1.3" fill="#bfc9dc" stroke="#4f6795" stroke-width="0.9"/>
<circle cx="220.8" cy="414.5" r="1.3" fill="#bfc9dc" stroke="#4f6795" stroke-width="0.9"/>
<circle cx="221.9" cy="419.8" r="1.4" fill="#1c3468" stroke="none" stroke-width="0"/>
<circle cx="238.1" cy="423.8" r="1.4" fill="#1c3468" stroke="none" stroke-width="0"/>
<circle cx="238.7" cy="426.4" r="1.4" fill="#1c3468" stroke="none" stroke-width="0"/>
<circle cx="242.7" cy="430.5" r="1.4" fill="#1c3468" stroke="none" stroke-width="0"/>
<circle cx="248.5" cy="419.8" r="1.4" fill="#1c3468" stroke="none" stroke-width="0"/>
<circle cx="250.8" cy="422.7" r="1.4" fill="#1c3468" stroke="none" stroke-width="0"/>
<circle cx="254.2" cy="429.6" r="1.4" fill="#1c3468" stroke="none" stroke-width="0"/>
<circle cx="232.1" cy="437.1" r="1.4" fill="#1c3468" stroke="none" stroke-width="0"/>
<circle cx="256.5" cy="421.5" r="1.4" fill="#1c3468" stroke="none" stroke-width="0"/>
<circle cx="253.1" cy="433.1" r="1.4" fill="#1c3468" stroke="none" stroke-width="0"/>
<circle cx="220.5" cy="411.7" r="1.3" fill="#bfc9dc" stroke="#4f6795" stroke-width="0.9"/>
<circle cx="227.7" cy="419.2" r="1.3" fill="#bfc9dc" stroke="#4f6795" stroke-width="0.9"/>
<circle cx="230.6" cy="419.8" r="1.3" fill="#bfc9dc" stroke="#4f6795" stroke-width="0.9"/>
<circle cx="233.5" cy="420.4" r="1.3" fill="#bfc9dc" stroke="#4f6795" stroke-width="0.9"/>
<circle cx="228.3" cy="424.4" r="1.3" fill="#bfc9dc" stroke="#4f6795" stroke-width="0.9"/>
<circle cx="233.5" cy="425.9" r="1.3" fill="#bfc9dc" stroke="#4f6795" stroke-width="0.9"/>
<circle cx="242.1" cy="424.4" r="1.3" fill="#bfc9dc" stroke="#4f6795" stroke-width="0.9"/>
<circle cx="243.8" cy="427.9" r="1.3" fill="#bfc9dc" stroke="#4f6795" stroke-width="0.9"/>
<circle cx="246.7" cy="433.7" r="1.3" fill="#bfc9dc" stroke="#4f6795" stroke-width="0.9"/>
<circle cx="249.0" cy="425.0" r="1.3" fill="#bfc9dc" stroke="#4f6795" stroke-width="0.9"/>
<circle cx="251.3" cy="426.2" r="1.3" fill="#bfc9dc" stroke="#4f6795" stroke-width="0.9"/>
<circle cx="249.6" cy="429.0" r="1.3" fill="#bfc9dc" stroke="#4f6795" stroke-width="0.9"/>
<circle cx="252.5" cy="434.8" r="1.3" fill="#bfc9dc" stroke="#4f6795" stroke-width="0.9"/>
<circle cx="256.0" cy="437.1" r="1.3" fill="#bfc9dc" stroke="#4f6795" stroke-width="0.9"/>
<circle cx="256.5" cy="425.0" r="1.3" fill="#bfc9dc" stroke="#4f6795" stroke-width="0.9"/>
<circle cx="282.9" cy="399.6" r="1.4" fill="#1c3468" stroke="none" stroke-width="0"/>
<circle cx="293.3" cy="403.1" r="1.4" fill="#1c3468" stroke="none" stroke-width="0"/>
<circle cx="295.6" cy="395.6" r="1.4" fill="#1c3468" stroke="none" stroke-width="0"/>
<circle cx="273.7" cy="395.0" r="1.4" fill="#1c3468" stroke="none" stroke-width="0"/>
<circle cx="252.3" cy="421.5" r="1.4" fill="#1c3468" stroke="none" stroke-width="0"/>
<circle cx="276.0" cy="425.6" r="1.4" fill="#1c3468" stroke="none" stroke-width="0"/>
<circle cx="263.8" cy="426.2" r="1.4" fill="#1c3468" stroke="none" stroke-width="0"/>
<circle cx="265.0" cy="431.9" r="1.4" fill="#1c3468" stroke="none" stroke-width="0"/>
<circle cx="285.8" cy="411.7" r="1.3" fill="#bfc9dc" stroke="#4f6795" stroke-width="0.9"/>
<circle cx="285.8" cy="416.3" r="1.3" fill="#bfc9dc" stroke="#4f6795" stroke-width="0.9"/>
<circle cx="296.2" cy="412.3" r="1.3" fill="#bfc9dc" stroke="#4f6795" stroke-width="0.9"/>
<circle cx="302.5" cy="416.0" r="1.3" fill="#bfc9dc" stroke="#4f6795" stroke-width="0.9"/>
<circle cx="302.5" cy="423.3" r="1.3" fill="#bfc9dc" stroke="#4f6795" stroke-width="0.9"/>
<circle cx="289.8" cy="421.0" r="1.3" fill="#bfc9dc" stroke="#4f6795" stroke-width="0.9"/>
<circle cx="292.7" cy="419.8" r="1.3" fill="#bfc9dc" stroke="#4f6795" stroke-width="0.9"/>
<circle cx="294.4" cy="421.3" r="1.3" fill="#bfc9dc" stroke="#4f6795" stroke-width="0.9"/>
<circle cx="283.5" cy="424.4" r="1.3" fill="#bfc9dc" stroke="#4f6795" stroke-width="0.9"/>
<circle cx="277.1" cy="420.4" r="1.3" fill="#bfc9dc" stroke="#4f6795" stroke-width="0.9"/>
<circle cx="273.1" cy="421.5" r="1.3" fill="#bfc9dc" stroke="#4f6795" stroke-width="0.9"/>
<circle cx="271.3" cy="425.0" r="1.3" fill="#bfc9dc" stroke="#4f6795" stroke-width="0.9"/>
<circle cx="270.8" cy="415.8" r="1.3" fill="#bfc9dc" stroke="#4f6795" stroke-width="0.9"/>
<circle cx="265.0" cy="419.2" r="1.3" fill="#bfc9dc" stroke="#4f6795" stroke-width="0.9"/>
<circle cx="265.6" cy="422.7" r="1.3" fill="#bfc9dc" stroke="#4f6795" stroke-width="0.9"/>
<circle cx="261.0" cy="421.5" r="1.3" fill="#bfc9dc" stroke="#4f6795" stroke-width="0.9"/>
<circle cx="261.5" cy="426.2" r="1.3" fill="#bfc9dc" stroke="#4f6795" stroke-width="0.9"/>
<circle cx="262.1" cy="429.6" r="1.3" fill="#bfc9dc" stroke="#4f6795" stroke-width="0.9"/>
<circle cx="263.3" cy="432.5" r="1.3" fill="#bfc9dc" stroke="#4f6795" stroke-width="0.9"/>
<circle cx="267.9" cy="435.4" r="1.3" fill="#bfc9dc" stroke="#4f6795" stroke-width="0.9"/>
<circle cx="284.6" cy="433.7" r="1.3" fill="#bfc9dc" stroke="#4f6795" stroke-width="0.9"/>
<circle cx="288.1" cy="434.8" r="1.3" fill="#bfc9dc" stroke="#4f6795" stroke-width="0.9"/>
<circle cx="252.3" cy="433.1" r="1.3" fill="#bfc9dc" stroke="#4f6795" stroke-width="0.9"/>
<circle cx="302.5" cy="397.3" r="1.3" fill="#bfc9dc" stroke="#4f6795" stroke-width="0.9"/>
<circle cx="306.5" cy="400.2" r="1.3" fill="#bfc9dc" stroke="#4f6795" stroke-width="0.9"/>
<circle cx="278.8" cy="396.2" r="1.3" fill="#bfc9dc" stroke="#4f6795" stroke-width="0.9"/>
<circle cx="280.0" cy="397.9" r="1.3" fill="#bfc9dc" stroke="#4f6795" stroke-width="0.9"/>
<circle cx="296.2" cy="409.4" r="1.3" fill="#bfc9dc" stroke="#4f6795" stroke-width="0.9"/>
<circle cx="308.1" cy="341.2" r="1.4" fill="#1c3468" stroke="none" stroke-width="0"/>
<circle cx="311.8" cy="342.6" r="1.4" fill="#1c3468" stroke="none" stroke-width="0"/>
<circle cx="318.8" cy="343.7" r="1.4" fill="#1c3468" stroke="none" stroke-width="0"/>
<circle cx="307.4" cy="348.8" r="1.4" fill="#1c3468" stroke="none" stroke-width="0"/>
<circle cx="312.5" cy="351.4" r="1.4" fill="#1c3468" stroke="none" stroke-width="0"/>
<circle cx="311.8" cy="355.3" r="1.4" fill="#1c3468" stroke="none" stroke-width="0"/>
<circle cx="295.0" cy="351.4" r="1.4" fill="#1c3468" stroke="none" stroke-width="0"/>
<circle cx="292.5" cy="354.3" r="1.4" fill="#1c3468" stroke="none" stroke-width="0"/>
<circle cx="322.3" cy="353.9" r="1.4" fill="#1c3468" stroke="none" stroke-width="0"/>
<circle cx="305.2" cy="358.7" r="1.4" fill="#1c3468" stroke="none" stroke-width="0"/>
<circle cx="301.8" cy="374.8" r="1.4" fill="#1c3468" stroke="none" stroke-width="0"/>
<circle cx="299.3" cy="378.0" r="1.4" fill="#1c3468" stroke="none" stroke-width="0"/>
<circle cx="301.2" cy="390.4" r="1.4" fill="#1c3468" stroke="none" stroke-width="0"/>
<circle cx="301.5" cy="393.8" r="1.4" fill="#1c3468" stroke="none" stroke-width="0"/>
<circle cx="305.9" cy="362.2" r="1.3" fill="#bfc9dc" stroke="#4f6795" stroke-width="0.9"/>
<circle cx="293.1" cy="369.2" r="1.3" fill="#bfc9dc" stroke="#4f6795" stroke-width="0.9"/>
<circle cx="307.1" cy="372.2" r="1.3" fill="#bfc9dc" stroke="#4f6795" stroke-width="0.9"/>
<circle cx="293.5" cy="379.5" r="1.3" fill="#bfc9dc" stroke="#4f6795" stroke-width="0.9"/>
<circle cx="278.4" cy="383.1" r="1.3" fill="#bfc9dc" stroke="#4f6795" stroke-width="0.9"/>
<circle cx="281.1" cy="395.2" r="1.3" fill="#bfc9dc" stroke="#4f6795" stroke-width="0.9"/>
<circle cx="289.1" cy="396.0" r="1.3" fill="#bfc9dc" stroke="#4f6795" stroke-width="0.9"/>
<circle cx="309.6" cy="395.5" r="1.3" fill="#bfc9dc" stroke="#4f6795" stroke-width="0.9"/>
<circle cx="312.5" cy="398.5" r="1.3" fill="#bfc9dc" stroke="#4f6795" stroke-width="0.9"/>
<circle cx="312.5" cy="404.3" r="1.3" fill="#bfc9dc" stroke="#4f6795" stroke-width="0.9"/>
<circle cx="315.9" cy="337.7" r="1.4" fill="#1c3468" stroke="none" stroke-width="0"/>
<circle cx="254.5" cy="432.4" r="1.4" fill="#1c3468" stroke="none" stroke-width="0"/>
<circle cx="263.4" cy="431.6" r="1.4" fill="#1c3468" stroke="none" stroke-width="0"/>
<circle cx="264.9" cy="430.1" r="1.4" fill="#1c3468" stroke="none" stroke-width="0"/>
<circle cx="248.4" cy="422.4" r="1.3" fill="#bfc9dc" stroke="#4f6795" stroke-width="0.9"/>
<circle cx="252.6" cy="428.5" r="1.3" fill="#bfc9dc" stroke="#4f6795" stroke-width="0.9"/>
<circle cx="254.5" cy="434.3" r="1.3" fill="#bfc9dc" stroke="#4f6795" stroke-width="0.9"/>
<circle cx="262.6" cy="420.5" r="1.3" fill="#bfc9dc" stroke="#4f6795" stroke-width="0.9"/>
<circle cx="265.7" cy="417.8" r="1.3" fill="#bfc9dc" stroke="#4f6795" stroke-width="0.9"/>
<circle cx="263.4" cy="426.2" r="1.3" fill="#bfc9dc" stroke="#4f6795" stroke-width="0.9"/>
<circle cx="264.5" cy="424.7" r="1.3" fill="#bfc9dc" stroke="#4f6795" stroke-width="0.9"/>
<circle cx="272.6" cy="423.5" r="1.3" fill="#bfc9dc" stroke="#4f6795" stroke-width="0.9"/>
<circle cx="274.9" cy="422.0" r="1.3" fill="#bfc9dc" stroke="#4f6795" stroke-width="0.9"/>
<circle cx="275.7" cy="425.5" r="1.3" fill="#bfc9dc" stroke="#4f6795" stroke-width="0.9"/>
</g>
<rect x="193.85" y="296.60" width="147.05" height="155.60" fill="none" stroke="#111" stroke-width="1.45"/>
<line x1="194.6" y1="452.9" x2="194.6" y2="455.7" stroke="#111" stroke-width="1"/>
<text x="192.21" y="465.90" font-size="8.6" font-weight="normal" fill="#1a1a1a" stroke="#1a1a1a" stroke-width="0.22" textLength="4.78" lengthAdjust="spacingAndGlyphs">0</text>
<line x1="224.8" y1="452.9" x2="224.8" y2="455.7" stroke="#111" stroke-width="1"/>
<text x="222.46" y="465.90" font-size="8.6" font-weight="normal" fill="#1a1a1a" stroke="#1a1a1a" stroke-width="0.22" textLength="4.78" lengthAdjust="spacingAndGlyphs">5</text>
<line x1="255.1" y1="452.9" x2="255.1" y2="455.7" stroke="#111" stroke-width="1"/>
<text x="250.33" y="465.90" font-size="8.6" font-weight="normal" fill="#1a1a1a" stroke="#1a1a1a" stroke-width="0.22" textLength="9.57" lengthAdjust="spacingAndGlyphs">10</text>
<line x1="285.4" y1="452.9" x2="285.4" y2="455.7" stroke="#111" stroke-width="1"/>
<text x="280.58" y="465.90" font-size="8.6" font-weight="normal" fill="#1a1a1a" stroke="#1a1a1a" stroke-width="0.22" textLength="9.57" lengthAdjust="spacingAndGlyphs">15</text>
<line x1="315.6" y1="452.9" x2="315.6" y2="455.7" stroke="#111" stroke-width="1"/>
<text x="310.83" y="465.90" font-size="8.6" font-weight="normal" fill="#1a1a1a" stroke="#1a1a1a" stroke-width="0.22" textLength="9.57" lengthAdjust="spacingAndGlyphs">20</text>
<g clip-path="url(#cpB3)">
<line x1="382.5" y1="311.5" x2="365.2" y2="334.4" stroke="#eac6d1" stroke-width="1.0"/>
<line x1="365.2" y1="334.4" x2="373.8" y2="338.2" stroke="#eac6d1" stroke-width="1.0"/>
<line x1="373.8" y1="338.2" x2="368.8" y2="345.1" stroke="#eac6d1" stroke-width="1.0"/>
<line x1="368.8" y1="345.1" x2="371.9" y2="348.4" stroke="#eac6d1" stroke-width="1.0"/>
<line x1="377.6" y1="345.8" x2="383.6" y2="340.7" stroke="#eac6d1" stroke-width="1.0"/>
<line x1="377.6" y1="345.8" x2="371.9" y2="348.4" stroke="#eac6d1" stroke-width="1.0"/>
<line x1="383.6" y1="340.7" x2="386.3" y2="340.6" stroke="#eac6d1" stroke-width="1.0"/>
<line x1="386.3" y1="340.6" x2="388.2" y2="340.6" stroke="#eac6d1" stroke-width="1.0"/>
<line x1="388.2" y1="340.6" x2="399.5" y2="339.1" stroke="#eac6d1" stroke-width="1.0"/>
<line x1="366.6" y1="350.4" x2="370.7" y2="349.2" stroke="#eac6d1" stroke-width="1.0"/>
<line x1="370.7" y1="349.2" x2="371.9" y2="348.4" stroke="#eac6d1" stroke-width="1.0"/>
<line x1="370.7" y1="349.2" x2="374.9" y2="353.6" stroke="#eac6d1" stroke-width="1.0"/>
<line x1="382.9" y1="350.2" x2="381.2" y2="353.0" stroke="#eac6d1" stroke-width="1.0"/>
<line x1="382.9" y1="350.2" x2="387.3" y2="352.4" stroke="#eac6d1" stroke-width="1.0"/>
<line x1="391.4" y1="349.2" x2="393.7" y2="351.2" stroke="#eac6d1" stroke-width="1.0"/>
<line x1="379.3" y1="351.9" x2="381.2" y2="353.0" stroke="#eac6d1" stroke-width="1.0"/>
<line x1="379.3" y1="351.9" x2="374.9" y2="353.6" stroke="#eac6d1" stroke-width="1.0"/>
<line x1="374.9" y1="353.6" x2="377.1" y2="355.9" stroke="#eac6d1" stroke-width="1.0"/>
<line x1="353.8" y1="354.3" x2="356.4" y2="359.0" stroke="#eac6d1" stroke-width="1.0"/>
<line x1="365.2" y1="356.5" x2="368.8" y2="358.9" stroke="#eac6d1" stroke-width="1.0"/>
<line x1="377.1" y1="355.9" x2="379.6" y2="357.9" stroke="#bae1e1" stroke-width="1.0"/>
<line x1="387.3" y1="352.4" x2="389.7" y2="353.2" stroke="#eac6d1" stroke-width="1.0"/>
<line x1="389.7" y1="353.2" x2="393.7" y2="351.2" stroke="#e8c6e6" stroke-width="1.0"/>
<line x1="389.7" y1="353.2" x2="389.0" y2="355.6" stroke="#e8c6e6" stroke-width="1.0"/>
<line x1="391.8" y1="355.2" x2="389.0" y2="355.6" stroke="#eac6d1" stroke-width="1.0"/>
<line x1="391.8" y1="355.2" x2="393.7" y2="358.4" stroke="#eac6d1" stroke-width="1.0"/>
<line x1="399.5" y1="339.1" x2="404.1" y2="343.2" stroke="#e8c6e6" stroke-width="1.0"/>
<line x1="428.7" y1="330.6" x2="433.5" y2="338.8" stroke="#e8c6e6" stroke-width="1.0"/>
<line x1="433.5" y1="338.8" x2="440.6" y2="336.7" stroke="#e8c6e6" stroke-width="1.0"/>
<line x1="440.6" y1="336.7" x2="449.0" y2="335.9" stroke="#e8c6e6" stroke-width="1.0"/>
<line x1="421.6" y1="348.5" x2="431.8" y2="349.3" stroke="#e8c6e6" stroke-width="1.0"/>
<line x1="431.8" y1="349.3" x2="432.3" y2="350.8" stroke="#e8c6e6" stroke-width="1.0"/>
<line x1="432.3" y1="350.8" x2="433.0" y2="353.4" stroke="#e8c6e6" stroke-width="1.0"/>
<line x1="437.1" y1="349.9" x2="441.4" y2="350.4" stroke="#e8c6e6" stroke-width="1.0"/>
<line x1="437.1" y1="349.9" x2="435.5" y2="353.4" stroke="#e8c6e6" stroke-width="1.0"/>
<line x1="441.4" y1="350.4" x2="443.0" y2="350.8" stroke="#e8c6e6" stroke-width="1.0"/>
<line x1="455.2" y1="322.4" x2="448.2" y2="322.8" stroke="#e8c6e6" stroke-width="1.0"/>
<line x1="448.2" y1="322.8" x2="443.7" y2="325.2" stroke="#e8c6e6" stroke-width="1.0"/>
<line x1="443.7" y1="325.2" x2="450.4" y2="330.8" stroke="#e8c6e6" stroke-width="1.0"/>
<line x1="450.4" y1="330.8" x2="449.0" y2="335.9" stroke="#e8c6e6" stroke-width="1.0"/>
<line x1="449.0" y1="335.9" x2="455.9" y2="338.4" stroke="#e8c6e6" stroke-width="1.0"/>
<line x1="455.9" y1="338.4" x2="460.7" y2="339.2" stroke="#e8c6e6" stroke-width="1.0"/>
<line x1="460.7" y1="339.2" x2="464.5" y2="342.6" stroke="#e8c6e6" stroke-width="1.0"/>
<line x1="464.5" y1="342.6" x2="464.2" y2="346.8" stroke="#e8c6e6" stroke-width="1.0"/>
<line x1="464.5" y1="342.6" x2="467.3" y2="337.3" stroke="#e8c6e6" stroke-width="1.0"/>
<line x1="464.2" y1="346.8" x2="463.6" y2="348.3" stroke="#e8c6e6" stroke-width="1.0"/>
<line x1="465.4" y1="333.5" x2="467.3" y2="337.3" stroke="#e8c6e6" stroke-width="1.0"/>
<line x1="476.6" y1="302.4" x2="480.2" y2="307.2" stroke="#e8c6e6" stroke-width="1.0"/>
<line x1="480.2" y1="307.2" x2="481.1" y2="325.9" stroke="#e8c6e6" stroke-width="1.0"/>
<line x1="481.1" y1="325.9" x2="480.6" y2="333.5" stroke="#e8c6e6" stroke-width="1.0"/>
<line x1="480.6" y1="333.5" x2="490.7" y2="338.8" stroke="#e8c6e6" stroke-width="1.0"/>
<line x1="490.7" y1="338.8" x2="481.3" y2="344.5" stroke="#e8c6e6" stroke-width="1.0"/>
<line x1="481.3" y1="344.5" x2="473.4" y2="343.6" stroke="#e8c6e6" stroke-width="1.0"/>
<line x1="481.3" y1="344.5" x2="481.3" y2="346.1" stroke="#e8c6e6" stroke-width="1.0"/>
<line x1="473.4" y1="343.6" x2="472.3" y2="347.0" stroke="#e8c6e6" stroke-width="1.0"/>
<line x1="472.3" y1="347.0" x2="469.9" y2="351.9" stroke="#e8c6e6" stroke-width="1.0"/>
<line x1="368.8" y1="358.9" x2="369.0" y2="362.7" stroke="#eac6d1" stroke-width="1.0"/>
<line x1="370.7" y1="366.9" x2="370.9" y2="362.7" stroke="#eac6d1" stroke-width="1.0"/>
<line x1="370.7" y1="366.9" x2="373.4" y2="368.1" stroke="#eac6d1" stroke-width="1.0"/>
<line x1="376.2" y1="366.9" x2="373.4" y2="368.1" stroke="#eac6d1" stroke-width="1.0"/>
<line x1="379.2" y1="362.9" x2="380.4" y2="362.4" stroke="#eac6d1" stroke-width="1.0"/>
<line x1="356.4" y1="359.0" x2="358.5" y2="364.3" stroke="#bae1e1" stroke-width="1.0"/>
<line x1="358.5" y1="364.3" x2="365.2" y2="364.1" stroke="#bae1e1" stroke-width="1.0"/>
<line x1="365.2" y1="364.1" x2="369.0" y2="362.7" stroke="#bae1e1" stroke-width="1.0"/>
<line x1="369.0" y1="362.7" x2="370.9" y2="362.7" stroke="#bae1e1" stroke-width="1.0"/>
<line x1="373.4" y1="368.1" x2="372.5" y2="369.8" stroke="#bae1e1" stroke-width="1.0"/>
<line x1="372.5" y1="369.8" x2="374.5" y2="371.7" stroke="#bae1e1" stroke-width="1.0"/>
<line x1="368.4" y1="371.7" x2="369.3" y2="373.6" stroke="#bae1e1" stroke-width="1.0"/>
<line x1="368.4" y1="371.7" x2="363.0" y2="373.0" stroke="#bae1e1" stroke-width="1.0"/>
<line x1="369.3" y1="373.6" x2="371.2" y2="373.6" stroke="#bae1e1" stroke-width="1.0"/>
<line x1="371.2" y1="373.6" x2="374.5" y2="371.7" stroke="#bae1e1" stroke-width="1.0"/>
<line x1="363.0" y1="373.0" x2="358.4" y2="374.4" stroke="#bae1e1" stroke-width="1.0"/>
<line x1="362.5" y1="379.1" x2="366.1" y2="377.1" stroke="#bae1e1" stroke-width="1.0"/>
<line x1="366.1" y1="377.1" x2="368.0" y2="377.4" stroke="#bae1e1" stroke-width="1.0"/>
<line x1="368.0" y1="377.4" x2="370.3" y2="377.2" stroke="#bae1e1" stroke-width="1.0"/>
<line x1="370.3" y1="377.2" x2="371.9" y2="377.4" stroke="#bae1e1" stroke-width="1.0"/>
<line x1="371.9" y1="377.4" x2="373.8" y2="377.4" stroke="#bae1e1" stroke-width="1.0"/>
<line x1="373.8" y1="377.4" x2="375.7" y2="377.4" stroke="#bae1e1" stroke-width="1.0"/>
<line x1="375.7" y1="377.4" x2="376.9" y2="380.8" stroke="#bae1e1" stroke-width="1.0"/>
<line x1="375.7" y1="377.4" x2="378.4" y2="376.0" stroke="#bae1e1" stroke-width="1.0"/>
<line x1="367.7" y1="382.4" x2="371.5" y2="381.6" stroke="#bae1e1" stroke-width="1.0"/>
<line x1="371.5" y1="381.6" x2="373.8" y2="381.2" stroke="#bae1e1" stroke-width="1.0"/>
<line x1="373.8" y1="381.2" x2="375.3" y2="381.2" stroke="#bae1e1" stroke-width="1.0"/>
<line x1="375.3" y1="381.2" x2="376.9" y2="380.8" stroke="#bae1e1" stroke-width="1.0"/>
<line x1="376.9" y1="380.8" x2="378.5" y2="381.6" stroke="#bae1e1" stroke-width="1.0"/>
<line x1="378.5" y1="381.6" x2="380.3" y2="381.5" stroke="#bae1e1" stroke-width="1.0"/>
<line x1="377.6" y1="372.3" x2="374.5" y2="371.7" stroke="#bae1e1" stroke-width="1.0"/>
<line x1="377.6" y1="372.3" x2="380.3" y2="373.1" stroke="#bae1e1" stroke-width="1.0"/>
<line x1="358.5" y1="385.0" x2="362.5" y2="389.1" stroke="#bae1e1" stroke-width="1.0"/>
<line x1="373.8" y1="385.8" x2="376.0" y2="385.4" stroke="#bae1e1" stroke-width="1.0"/>
<line x1="376.0" y1="385.4" x2="377.1" y2="386.1" stroke="#bae1e1" stroke-width="1.0"/>
<line x1="379.6" y1="357.9" x2="380.4" y2="362.4" stroke="#e8c6e6" stroke-width="1.0"/>
<line x1="366.8" y1="388.7" x2="368.6" y2="390.4" stroke="#bae1e1" stroke-width="1.0"/>
<line x1="366.8" y1="388.7" x2="362.5" y2="389.1" stroke="#bae1e1" stroke-width="1.0"/>
<line x1="368.6" y1="390.4" x2="370.0" y2="393.1" stroke="#bae1e1" stroke-width="1.0"/>
<line x1="370.0" y1="393.1" x2="371.5" y2="393.8" stroke="#bae1e1" stroke-width="1.0"/>
<line x1="370.0" y1="393.1" x2="366.0" y2="395.2" stroke="#bae1e1" stroke-width="1.0"/>
<line x1="371.5" y1="393.8" x2="373.1" y2="391.8" stroke="#bae1e1" stroke-width="1.0"/>
<line x1="371.5" y1="393.8" x2="374.1" y2="396.6" stroke="#bae1e1" stroke-width="1.0"/>
<line x1="373.1" y1="391.8" x2="377.8" y2="392.4" stroke="#bae1e1" stroke-width="1.0"/>
<line x1="374.1" y1="396.6" x2="369.2" y2="400.0" stroke="#bae1e1" stroke-width="1.0"/>
<line x1="374.1" y1="396.6" x2="378.8" y2="398.1" stroke="#bae1e1" stroke-width="1.0"/>
<line x1="377.6" y1="406.4" x2="384.0" y2="410.4" stroke="#bae1e1" stroke-width="1.0"/>
<line x1="378.8" y1="398.1" x2="385.1" y2="399.9" stroke="#bae1e1" stroke-width="1.0"/>
<line x1="378.5" y1="415.4" x2="379.8" y2="413.3" stroke="#bae1e1" stroke-width="1.0"/>
<line x1="378.5" y1="415.4" x2="381.3" y2="422.2" stroke="#bae1e1" stroke-width="1.0"/>
<line x1="375.3" y1="388.0" x2="377.1" y2="386.1" stroke="#bae1e1" stroke-width="1.0"/>
<line x1="378.2" y1="388.9" x2="378.8" y2="391.4" stroke="#bae1e1" stroke-width="1.0"/>
<line x1="378.2" y1="388.9" x2="379.0" y2="386.5" stroke="#bae1e1" stroke-width="1.0"/>
<line x1="378.2" y1="388.9" x2="380.3" y2="389.1" stroke="#bae1e1" stroke-width="1.0"/>
<line x1="378.8" y1="391.4" x2="377.8" y2="392.4" stroke="#bae1e1" stroke-width="1.0"/>
<line x1="379.5" y1="393.1" x2="377.8" y2="392.4" stroke="#bae1e1" stroke-width="1.0"/>
<line x1="379.8" y1="413.3" x2="382.5" y2="413.8" stroke="#c4e2b6" stroke-width="1.0"/>
<line x1="381.9" y1="368.9" x2="385.7" y2="366.3" stroke="#eac6d1" stroke-width="1.0"/>
<line x1="381.9" y1="368.9" x2="380.3" y2="373.1" stroke="#eac6d1" stroke-width="1.0"/>
<line x1="390.8" y1="367.3" x2="385.7" y2="366.3" stroke="#eac6d1" stroke-width="1.0"/>
<line x1="390.8" y1="367.3" x2="394.3" y2="368.9" stroke="#eac6d1" stroke-width="1.0"/>
<line x1="396.5" y1="373.1" x2="394.3" y2="368.9" stroke="#eac6d1" stroke-width="1.0"/>
<line x1="396.5" y1="373.1" x2="400.7" y2="372.7" stroke="#eac6d1" stroke-width="1.0"/>
<line x1="393.6" y1="364.2" x2="395.0" y2="364.5" stroke="#eac6d1" stroke-width="1.0"/>
<line x1="397.1" y1="387.8" x2="400.6" y2="386.5" stroke="#eac6d1" stroke-width="1.0"/>
<line x1="385.7" y1="366.3" x2="385.5" y2="363.0" stroke="#bae1e1" stroke-width="1.0"/>
<line x1="380.3" y1="373.1" x2="378.4" y2="376.0" stroke="#bae1e1" stroke-width="1.0"/>
<line x1="378.4" y1="376.0" x2="380.9" y2="376.4" stroke="#bae1e1" stroke-width="1.0"/>
<line x1="380.9" y1="376.4" x2="384.4" y2="375.6" stroke="#bae1e1" stroke-width="1.0"/>
<line x1="384.4" y1="375.6" x2="387.6" y2="377.3" stroke="#bae1e1" stroke-width="1.0"/>
<line x1="387.6" y1="377.3" x2="390.5" y2="379.4" stroke="#bae1e1" stroke-width="1.0"/>
<line x1="387.6" y1="377.3" x2="389.8" y2="372.6" stroke="#bae1e1" stroke-width="1.0"/>
<line x1="398.1" y1="377.1" x2="400.6" y2="375.6" stroke="#bae1e1" stroke-width="1.0"/>
<line x1="400.6" y1="375.6" x2="401.9" y2="374.7" stroke="#bae1e1" stroke-width="1.0"/>
<line x1="380.3" y1="381.5" x2="382.9" y2="381.5" stroke="#bae1e1" stroke-width="1.0"/>
<line x1="382.9" y1="381.5" x2="385.1" y2="382.7" stroke="#bae1e1" stroke-width="1.0"/>
<line x1="382.9" y1="381.5" x2="384.1" y2="379.6" stroke="#bae1e1" stroke-width="1.0"/>
<line x1="385.1" y1="382.7" x2="386.3" y2="381.9" stroke="#bae1e1" stroke-width="1.0"/>
<line x1="385.1" y1="382.7" x2="383.5" y2="384.4" stroke="#bae1e1" stroke-width="1.0"/>
<line x1="387.0" y1="385.7" x2="383.5" y2="384.4" stroke="#bae1e1" stroke-width="1.0"/>
<line x1="383.5" y1="384.4" x2="381.5" y2="385.9" stroke="#bae1e1" stroke-width="1.0"/>
<line x1="377.1" y1="386.1" x2="379.0" y2="386.5" stroke="#bae1e1" stroke-width="1.0"/>
<line x1="379.0" y1="386.5" x2="381.5" y2="385.9" stroke="#bae1e1" stroke-width="1.0"/>
<line x1="380.3" y1="389.1" x2="382.2" y2="389.9" stroke="#bae1e1" stroke-width="1.0"/>
<line x1="382.2" y1="389.9" x2="384.1" y2="391.2" stroke="#bae1e1" stroke-width="1.0"/>
<line x1="384.1" y1="391.2" x2="385.7" y2="391.6" stroke="#bae1e1" stroke-width="1.0"/>
<line x1="399.3" y1="366.2" x2="396.9" y2="366.6" stroke="#e8c6e6" stroke-width="1.0"/>
<line x1="404.4" y1="368.0" x2="408.7" y2="370.5" stroke="#e8c6e6" stroke-width="1.0"/>
<line x1="401.9" y1="374.7" x2="404.1" y2="373.5" stroke="#e8c6e6" stroke-width="1.0"/>
<line x1="401.9" y1="374.7" x2="400.7" y2="372.7" stroke="#e8c6e6" stroke-width="1.0"/>
<line x1="404.1" y1="373.5" x2="408.5" y2="374.0" stroke="#e8c6e6" stroke-width="1.0"/>
<line x1="398.1" y1="384.4" x2="400.6" y2="386.5" stroke="#e8c6e6" stroke-width="1.0"/>
<line x1="403.8" y1="386.1" x2="405.7" y2="391.6" stroke="#e8c6e6" stroke-width="1.0"/>
<line x1="403.8" y1="386.1" x2="400.6" y2="386.5" stroke="#e8c6e6" stroke-width="1.0"/>
<line x1="403.8" y1="386.1" x2="409.8" y2="383.7" stroke="#e8c6e6" stroke-width="1.0"/>
<line x1="394.3" y1="368.9" x2="396.9" y2="366.6" stroke="#c4e2b6" stroke-width="1.0"/>
<line x1="400.0" y1="394.5" x2="405.7" y2="391.6" stroke="#c4e2b6" stroke-width="1.0"/>
<line x1="400.0" y1="394.5" x2="398.7" y2="397.9" stroke="#c4e2b6" stroke-width="1.0"/>
<line x1="398.7" y1="397.9" x2="400.9" y2="401.6" stroke="#c4e2b6" stroke-width="1.0"/>
<line x1="375.0" y1="424.5" x2="373.4" y2="430.1" stroke="#c4e2b6" stroke-width="1.0"/>
<line x1="375.0" y1="424.5" x2="381.3" y2="422.2" stroke="#c4e2b6" stroke-width="1.0"/>
<line x1="385.1" y1="399.9" x2="389.8" y2="401.1" stroke="#bae1e1" stroke-width="1.0"/>
<line x1="406.6" y1="406.4" x2="401.3" y2="410.2" stroke="#bae1e1" stroke-width="1.0"/>
<line x1="406.6" y1="406.4" x2="406.6" y2="399.9" stroke="#bae1e1" stroke-width="1.0"/>
<line x1="389.8" y1="401.1" x2="392.4" y2="401.4" stroke="#c4e2b6" stroke-width="1.0"/>
<line x1="396.5" y1="408.9" x2="401.3" y2="410.2" stroke="#c4e2b6" stroke-width="1.0"/>
<line x1="401.3" y1="410.2" x2="405.1" y2="416.1" stroke="#c4e2b6" stroke-width="1.0"/>
<line x1="384.0" y1="410.4" x2="382.5" y2="413.8" stroke="#c4e2b6" stroke-width="1.0"/>
<line x1="382.5" y1="413.8" x2="387.3" y2="414.2" stroke="#c4e2b6" stroke-width="1.0"/>
<line x1="381.3" y1="422.2" x2="385.1" y2="422.0" stroke="#c4e2b6" stroke-width="1.0"/>
<line x1="385.1" y1="422.0" x2="386.0" y2="425.8" stroke="#c4e2b6" stroke-width="1.0"/>
<line x1="390.8" y1="422.0" x2="390.8" y2="425.8" stroke="#c4e2b6" stroke-width="1.0"/>
<line x1="386.0" y1="425.8" x2="390.8" y2="425.8" stroke="#c4e2b6" stroke-width="1.0"/>
<line x1="390.8" y1="425.8" x2="390.1" y2="429.6" stroke="#c4e2b6" stroke-width="1.0"/>
<line x1="396.5" y1="426.0" x2="402.2" y2="424.5" stroke="#c4e2b6" stroke-width="1.0"/>
<line x1="396.5" y1="426.0" x2="394.0" y2="429.6" stroke="#c4e2b6" stroke-width="1.0"/>
<line x1="402.2" y1="424.5" x2="406.0" y2="419.5" stroke="#c4e2b6" stroke-width="1.0"/>
<line x1="390.1" y1="429.6" x2="394.0" y2="429.6" stroke="#c4e2b6" stroke-width="1.0"/>
<line x1="390.1" y1="429.6" x2="382.5" y2="433.6" stroke="#c4e2b6" stroke-width="1.0"/>
<line x1="400.9" y1="401.6" x2="406.6" y2="399.9" stroke="#e8c6e6" stroke-width="1.0"/>
<line x1="406.6" y1="399.9" x2="407.5" y2="398.6" stroke="#e8c6e6" stroke-width="1.0"/>
<line x1="405.1" y1="416.1" x2="406.9" y2="416.7" stroke="#c2ccf1" stroke-width="1.0"/>
<line x1="406.0" y1="419.5" x2="406.9" y2="416.7" stroke="#e7e0ab" stroke-width="1.0"/>
<line x1="406.0" y1="419.5" x2="410.3" y2="421.7" stroke="#e7e0ab" stroke-width="1.0"/>
<line x1="402.2" y1="444.8" x2="409.7" y2="436.2" stroke="#e7e0ab" stroke-width="1.0"/>
<line x1="413.2" y1="414.3" x2="418.0" y2="416.7" stroke="#c2ccf1" stroke-width="1.0"/>
<line x1="418.0" y1="406.6" x2="416.1" y2="407.2" stroke="#c2ccf1" stroke-width="1.0"/>
<line x1="418.0" y1="406.6" x2="418.6" y2="409.1" stroke="#c2ccf1" stroke-width="1.0"/>
<line x1="426.8" y1="408.1" x2="429.7" y2="411.8" stroke="#c2ccf1" stroke-width="1.0"/>
<line x1="421.4" y1="413.3" x2="418.9" y2="411.2" stroke="#c2ccf1" stroke-width="1.0"/>
<line x1="421.4" y1="413.3" x2="418.0" y2="416.7" stroke="#c2ccf1" stroke-width="1.0"/>
<line x1="421.4" y1="413.3" x2="425.3" y2="415.4" stroke="#c2ccf1" stroke-width="1.0"/>
<line x1="427.2" y1="414.6" x2="431.0" y2="414.3" stroke="#c2ccf1" stroke-width="1.0"/>
<line x1="427.2" y1="414.6" x2="425.3" y2="415.4" stroke="#c2ccf1" stroke-width="1.0"/>
<line x1="431.0" y1="414.3" x2="433.2" y2="413.1" stroke="#c2ccf1" stroke-width="1.0"/>
<line x1="431.0" y1="414.3" x2="429.7" y2="411.8" stroke="#c2ccf1" stroke-width="1.0"/>
<line x1="433.2" y1="413.1" x2="435.3" y2="414.8" stroke="#c2ccf1" stroke-width="1.0"/>
<line x1="421.8" y1="420.9" x2="421.1" y2="424.2" stroke="#c2ccf1" stroke-width="1.0"/>
<line x1="410.3" y1="423.4" x2="413.5" y2="424.7" stroke="#c2ccf1" stroke-width="1.0"/>
<line x1="410.3" y1="423.4" x2="410.3" y2="421.7" stroke="#c2ccf1" stroke-width="1.0"/>
<line x1="413.5" y1="424.7" x2="413.2" y2="426.3" stroke="#c2ccf1" stroke-width="1.0"/>
<line x1="418.6" y1="409.1" x2="418.9" y2="411.2" stroke="#e7e0ab" stroke-width="1.0"/>
<line x1="410.3" y1="421.7" x2="413.8" y2="420.4" stroke="#e7e0ab" stroke-width="1.0"/>
<line x1="413.8" y1="420.4" x2="418.0" y2="416.7" stroke="#e7e0ab" stroke-width="1.0"/>
<line x1="433.5" y1="396.0" x2="440.7" y2="395.7" stroke="#e7e0ab" stroke-width="1.0"/>
<line x1="433.8" y1="405.3" x2="438.5" y2="405.2" stroke="#e7e0ab" stroke-width="1.0"/>
<line x1="421.1" y1="424.2" x2="418.6" y2="426.3" stroke="#e7e0ab" stroke-width="1.0"/>
<line x1="426.5" y1="425.5" x2="427.5" y2="429.4" stroke="#e7e0ab" stroke-width="1.0"/>
<line x1="418.6" y1="426.3" x2="413.2" y2="426.3" stroke="#e7e0ab" stroke-width="1.0"/>
<line x1="418.6" y1="426.3" x2="420.5" y2="428.6" stroke="#e7e0ab" stroke-width="1.0"/>
<line x1="413.2" y1="426.3" x2="412.2" y2="427.5" stroke="#e7e0ab" stroke-width="1.0"/>
<line x1="412.2" y1="427.5" x2="409.1" y2="429.4" stroke="#e7e0ab" stroke-width="1.0"/>
<line x1="424.6" y1="429.8" x2="420.5" y2="428.6" stroke="#e7e0ab" stroke-width="1.0"/>
<line x1="424.6" y1="429.8" x2="427.5" y2="429.4" stroke="#e7e0ab" stroke-width="1.0"/>
<line x1="426.8" y1="432.2" x2="427.5" y2="429.4" stroke="#e7e0ab" stroke-width="1.0"/>
<line x1="426.8" y1="432.2" x2="424.6" y2="439.3" stroke="#e7e0ab" stroke-width="1.0"/>
<line x1="418.0" y1="430.5" x2="420.5" y2="428.6" stroke="#e7e0ab" stroke-width="1.0"/>
<line x1="409.7" y1="436.2" x2="409.1" y2="429.4" stroke="#e7e0ab" stroke-width="1.0"/>
<line x1="409.7" y1="436.2" x2="413.5" y2="439.1" stroke="#e7e0ab" stroke-width="1.0"/>
<line x1="424.6" y1="441.5" x2="424.6" y2="439.3" stroke="#e7e0ab" stroke-width="1.0"/>
<line x1="427.5" y1="429.4" x2="431.0" y2="427.7" stroke="#c2ccf1" stroke-width="1.0"/>
<line x1="431.0" y1="427.7" x2="433.8" y2="428.8" stroke="#c2ccf1" stroke-width="1.0"/>
<line x1="433.8" y1="428.8" x2="432.6" y2="432.2" stroke="#c2ccf1" stroke-width="1.0"/>
<line x1="399.8" y1="357.1" x2="393.7" y2="358.4" stroke="#eac6d1" stroke-width="1.0"/>
<line x1="399.8" y1="357.1" x2="399.1" y2="355.6" stroke="#eac6d1" stroke-width="1.0"/>
<line x1="404.8" y1="355.9" x2="408.0" y2="354.8" stroke="#eac6d1" stroke-width="1.0"/>
<line x1="404.8" y1="355.9" x2="400.7" y2="355.2" stroke="#eac6d1" stroke-width="1.0"/>
<line x1="389.3" y1="361.1" x2="385.5" y2="363.0" stroke="#eac6d1" stroke-width="1.0"/>
<line x1="385.5" y1="363.0" x2="382.0" y2="364.5" stroke="#eac6d1" stroke-width="1.0"/>
<line x1="380.4" y1="362.4" x2="382.0" y2="364.5" stroke="#eac6d1" stroke-width="1.0"/>
<line x1="395.0" y1="364.5" x2="396.9" y2="366.6" stroke="#eac6d1" stroke-width="1.0"/>
<line x1="399.1" y1="355.6" x2="400.7" y2="355.2" stroke="#e8c6e6" stroke-width="1.0"/>
<line x1="408.7" y1="362.0" x2="415.5" y2="362.1" stroke="#e8c6e6" stroke-width="1.0"/>
<line x1="408.7" y1="370.5" x2="411.5" y2="369.5" stroke="#e8c6e6" stroke-width="1.0"/>
<line x1="408.7" y1="370.5" x2="408.5" y2="374.0" stroke="#e8c6e6" stroke-width="1.0"/>
<line x1="411.5" y1="369.5" x2="413.9" y2="370.0" stroke="#e8c6e6" stroke-width="1.0"/>
<line x1="418.9" y1="357.9" x2="415.5" y2="360.4" stroke="#e8c6e6" stroke-width="1.0"/>
<line x1="415.5" y1="362.1" x2="419.7" y2="365.2" stroke="#e8c6e6" stroke-width="1.0"/>
<line x1="415.5" y1="362.1" x2="415.5" y2="360.4" stroke="#e8c6e6" stroke-width="1.0"/>
<line x1="421.2" y1="362.2" x2="423.5" y2="362.1" stroke="#e8c6e6" stroke-width="1.0"/>
<line x1="421.2" y1="362.2" x2="419.7" y2="365.2" stroke="#e8c6e6" stroke-width="1.0"/>
<line x1="419.7" y1="365.2" x2="418.7" y2="367.3" stroke="#e8c6e6" stroke-width="1.0"/>
<line x1="418.7" y1="367.3" x2="414.6" y2="366.9" stroke="#e8c6e6" stroke-width="1.0"/>
<line x1="418.7" y1="367.3" x2="419.0" y2="369.4" stroke="#e8c6e6" stroke-width="1.0"/>
<line x1="414.6" y1="366.9" x2="413.9" y2="370.0" stroke="#e8c6e6" stroke-width="1.0"/>
<line x1="419.0" y1="369.4" x2="421.6" y2="370.7" stroke="#e8c6e6" stroke-width="1.0"/>
<line x1="421.6" y1="370.7" x2="423.5" y2="371.1" stroke="#e8c6e6" stroke-width="1.0"/>
<line x1="421.6" y1="370.7" x2="423.5" y2="367.7" stroke="#e8c6e6" stroke-width="1.0"/>
<line x1="430.1" y1="359.3" x2="432.7" y2="359.3" stroke="#e8c6e6" stroke-width="1.0"/>
<line x1="432.7" y1="359.3" x2="433.6" y2="363.5" stroke="#e8c6e6" stroke-width="1.0"/>
<line x1="433.0" y1="353.4" x2="435.5" y2="353.4" stroke="#e8c6e6" stroke-width="1.0"/>
<line x1="435.5" y1="353.4" x2="439.3" y2="356.8" stroke="#e8c6e6" stroke-width="1.0"/>
<line x1="439.3" y1="356.8" x2="442.7" y2="361.1" stroke="#e8c6e6" stroke-width="1.0"/>
<line x1="430.4" y1="368.1" x2="432.0" y2="366.6" stroke="#e8c6e6" stroke-width="1.0"/>
<line x1="430.4" y1="368.1" x2="423.5" y2="367.7" stroke="#e8c6e6" stroke-width="1.0"/>
<line x1="432.0" y1="366.6" x2="435.5" y2="367.3" stroke="#e8c6e6" stroke-width="1.0"/>
<line x1="432.0" y1="366.6" x2="433.6" y2="363.5" stroke="#e8c6e6" stroke-width="1.0"/>
<line x1="435.5" y1="367.3" x2="439.3" y2="366.0" stroke="#e8c6e6" stroke-width="1.0"/>
<line x1="435.5" y1="367.3" x2="436.5" y2="370.7" stroke="#e8c6e6" stroke-width="1.0"/>
<line x1="439.3" y1="366.0" x2="442.7" y2="361.1" stroke="#e8c6e6" stroke-width="1.0"/>
<line x1="436.5" y1="370.7" x2="437.1" y2="373.8" stroke="#e8c6e6" stroke-width="1.0"/>
<line x1="437.1" y1="373.8" x2="431.4" y2="374.7" stroke="#e8c6e6" stroke-width="1.0"/>
<line x1="437.1" y1="373.8" x2="442.4" y2="376.4" stroke="#e8c6e6" stroke-width="1.0"/>
<line x1="430.1" y1="373.8" x2="431.4" y2="374.7" stroke="#e8c6e6" stroke-width="1.0"/>
<line x1="431.4" y1="374.7" x2="431.1" y2="377.4" stroke="#e8c6e6" stroke-width="1.0"/>
<line x1="410.8" y1="379.1" x2="415.2" y2="379.5" stroke="#e8c6e6" stroke-width="1.0"/>
<line x1="422.2" y1="378.2" x2="417.7" y2="379.2" stroke="#e8c6e6" stroke-width="1.0"/>
<line x1="415.2" y1="382.0" x2="417.1" y2="382.0" stroke="#e8c6e6" stroke-width="1.0"/>
<line x1="415.2" y1="382.0" x2="413.3" y2="385.0" stroke="#e8c6e6" stroke-width="1.0"/>
<line x1="415.2" y1="382.0" x2="415.2" y2="379.5" stroke="#e8c6e6" stroke-width="1.0"/>
<line x1="409.8" y1="383.7" x2="413.3" y2="385.0" stroke="#e8c6e6" stroke-width="1.0"/>
<line x1="413.3" y1="385.0" x2="419.4" y2="390.0" stroke="#e8c6e6" stroke-width="1.0"/>
<line x1="415.2" y1="379.5" x2="417.7" y2="379.2" stroke="#c4e2b6" stroke-width="1.0"/>
<line x1="417.7" y1="379.2" x2="418.4" y2="374.0" stroke="#c4e2b6" stroke-width="1.0"/>
<line x1="413.9" y1="370.0" x2="415.2" y2="372.3" stroke="#e7e0ab" stroke-width="1.0"/>
<line x1="415.2" y1="372.3" x2="418.4" y2="374.0" stroke="#e7e0ab" stroke-width="1.0"/>
<line x1="463.6" y1="348.3" x2="466.5" y2="351.9" stroke="#e8c6e6" stroke-width="1.0"/>
<line x1="466.5" y1="351.9" x2="469.9" y2="351.9" stroke="#e8c6e6" stroke-width="1.0"/>
<line x1="442.7" y1="361.1" x2="446.8" y2="362.9" stroke="#e8c6e6" stroke-width="1.0"/>
<line x1="454.4" y1="355.2" x2="451.3" y2="359.4" stroke="#e8c6e6" stroke-width="1.0"/>
<line x1="451.3" y1="359.4" x2="446.8" y2="362.9" stroke="#e8c6e6" stroke-width="1.0"/>
<line x1="451.3" y1="359.4" x2="456.3" y2="361.0" stroke="#e8c6e6" stroke-width="1.0"/>
<line x1="457.9" y1="359.9" x2="466.2" y2="358.2" stroke="#e8c6e6" stroke-width="1.0"/>
<line x1="457.9" y1="359.9" x2="456.3" y2="361.0" stroke="#e8c6e6" stroke-width="1.0"/>
<line x1="466.2" y1="358.2" x2="473.1" y2="357.3" stroke="#e8c6e6" stroke-width="1.0"/>
<line x1="469.9" y1="351.9" x2="472.4" y2="353.1" stroke="#e8c6e6" stroke-width="1.0"/>
<line x1="472.4" y1="353.1" x2="473.1" y2="357.3" stroke="#e8c6e6" stroke-width="1.0"/>
<line x1="473.1" y1="357.3" x2="472.7" y2="360.7" stroke="#e8c6e6" stroke-width="1.0"/>
<line x1="472.7" y1="360.7" x2="474.6" y2="366.3" stroke="#e8c6e6" stroke-width="1.0"/>
<line x1="481.3" y1="346.1" x2="482.6" y2="349.2" stroke="#e8c6e6" stroke-width="1.0"/>
<line x1="442.4" y1="376.4" x2="445.6" y2="370.9" stroke="#e8c6e6" stroke-width="1.0"/>
<line x1="442.4" y1="376.4" x2="447.5" y2="378.3" stroke="#e8c6e6" stroke-width="1.0"/>
<line x1="447.5" y1="378.3" x2="450.6" y2="376.1" stroke="#e8c6e6" stroke-width="1.0"/>
<line x1="447.5" y1="378.3" x2="444.0" y2="384.8" stroke="#e8c6e6" stroke-width="1.0"/>
<line x1="456.3" y1="361.0" x2="459.2" y2="365.5" stroke="#e8c6e6" stroke-width="1.0"/>
<line x1="462.7" y1="368.0" x2="458.6" y2="371.6" stroke="#e8c6e6" stroke-width="1.0"/>
<line x1="462.7" y1="368.0" x2="459.2" y2="365.5" stroke="#e8c6e6" stroke-width="1.0"/>
<line x1="464.9" y1="383.1" x2="464.9" y2="385.2" stroke="#e7e0ab" stroke-width="1.0"/>
<line x1="464.9" y1="385.2" x2="466.2" y2="389.0" stroke="#e7e0ab" stroke-width="1.0"/>
<line x1="463.0" y1="389.9" x2="466.2" y2="389.0" stroke="#e7e0ab" stroke-width="1.0"/>
<line x1="463.0" y1="389.9" x2="461.6" y2="389.6" stroke="#e7e0ab" stroke-width="1.0"/>
<line x1="466.2" y1="389.0" x2="470.8" y2="390.3" stroke="#e7e0ab" stroke-width="1.0"/>
<line x1="477.7" y1="387.3" x2="470.8" y2="390.3" stroke="#e7e0ab" stroke-width="1.0"/>
<line x1="470.8" y1="390.3" x2="472.0" y2="392.5" stroke="#e7e0ab" stroke-width="1.0"/>
<line x1="440.7" y1="395.7" x2="444.2" y2="394.2" stroke="#e7e0ab" stroke-width="1.0"/>
<line x1="440.7" y1="395.7" x2="441.3" y2="399.9" stroke="#e7e0ab" stroke-width="1.0"/>
<line x1="444.2" y1="394.2" x2="449.3" y2="396.3" stroke="#e7e0ab" stroke-width="1.0"/>
<line x1="441.3" y1="399.9" x2="444.2" y2="403.6" stroke="#e7e0ab" stroke-width="1.0"/>
<line x1="444.2" y1="403.6" x2="445.8" y2="402.8" stroke="#e7e0ab" stroke-width="1.0"/>
<line x1="444.2" y1="403.6" x2="438.5" y2="405.2" stroke="#e7e0ab" stroke-width="1.0"/>
<line x1="449.3" y1="396.3" x2="451.2" y2="393.2" stroke="#e7e0ab" stroke-width="1.0"/>
<line x1="449.3" y1="396.3" x2="451.2" y2="400.5" stroke="#e7e0ab" stroke-width="1.0"/>
<line x1="451.2" y1="393.2" x2="455.3" y2="394.4" stroke="#e7e0ab" stroke-width="1.0"/>
<line x1="455.3" y1="394.4" x2="461.6" y2="389.6" stroke="#e7e0ab" stroke-width="1.0"/>
<line x1="451.2" y1="400.5" x2="451.8" y2="402.2" stroke="#e7e0ab" stroke-width="1.0"/>
<line x1="451.8" y1="402.2" x2="454.7" y2="400.9" stroke="#e7e0ab" stroke-width="1.0"/>
<line x1="451.8" y1="402.2" x2="453.1" y2="406.4" stroke="#e7e0ab" stroke-width="1.0"/>
<line x1="454.7" y1="400.9" x2="455.9" y2="402.6" stroke="#e7e0ab" stroke-width="1.0"/>
<line x1="455.9" y1="402.6" x2="462.3" y2="403.9" stroke="#e7e0ab" stroke-width="1.0"/>
<line x1="453.1" y1="406.4" x2="451.5" y2="410.0" stroke="#e7e0ab" stroke-width="1.0"/>
<line x1="451.5" y1="410.0" x2="454.3" y2="411.5" stroke="#e7e0ab" stroke-width="1.0"/>
<line x1="454.3" y1="411.5" x2="455.9" y2="411.7" stroke="#e7e0ab" stroke-width="1.0"/>
<line x1="454.3" y1="411.5" x2="452.4" y2="414.8" stroke="#e7e0ab" stroke-width="1.0"/>
<line x1="452.4" y1="414.8" x2="448.6" y2="414.4" stroke="#e7e0ab" stroke-width="1.0"/>
<line x1="452.4" y1="414.8" x2="451.5" y2="420.0" stroke="#e7e0ab" stroke-width="1.0"/>
<line x1="438.5" y1="405.2" x2="438.5" y2="408.1" stroke="#e7e0ab" stroke-width="1.0"/>
<line x1="438.5" y1="408.1" x2="438.2" y2="411.2" stroke="#e7e0ab" stroke-width="1.0"/>
<line x1="438.2" y1="411.2" x2="442.0" y2="413.1" stroke="#e7e0ab" stroke-width="1.0"/>
<line x1="438.2" y1="411.2" x2="435.3" y2="414.8" stroke="#e7e0ab" stroke-width="1.0"/>
<line x1="435.3" y1="414.8" x2="438.8" y2="416.9" stroke="#e7e0ab" stroke-width="1.0"/>
<line x1="438.8" y1="416.9" x2="441.3" y2="421.7" stroke="#e7e0ab" stroke-width="1.0"/>
<line x1="445.1" y1="419.0" x2="441.3" y2="421.7" stroke="#e7e0ab" stroke-width="1.0"/>
<line x1="462.3" y1="403.9" x2="465.3" y2="407.5" stroke="#e7e0ab" stroke-width="1.0"/>
<line x1="465.3" y1="407.5" x2="466.9" y2="409.8" stroke="#e7e0ab" stroke-width="1.0"/>
<line x1="466.9" y1="409.8" x2="467.9" y2="412.3" stroke="#e7e0ab" stroke-width="1.0"/>
<line x1="467.9" y1="412.3" x2="463.4" y2="417.4" stroke="#e7e0ab" stroke-width="1.0"/>
<line x1="467.9" y1="412.3" x2="483.4" y2="409.8" stroke="#e7e0ab" stroke-width="1.0"/>
<line x1="439.4" y1="423.0" x2="441.3" y2="421.7" stroke="#e7e0ab" stroke-width="1.0"/>
<line x1="439.4" y1="423.0" x2="446.6" y2="430.8" stroke="#e7e0ab" stroke-width="1.0"/>
<line x1="446.6" y1="430.8" x2="456.9" y2="429.7" stroke="#e7e0ab" stroke-width="1.0"/>
<line x1="456.9" y1="429.7" x2="461.3" y2="433.5" stroke="#e7e0ab" stroke-width="1.0"/>
<line x1="461.3" y1="433.5" x2="457.5" y2="444.3" stroke="#e7e0ab" stroke-width="1.0"/>
<line x1="461.3" y1="433.5" x2="465.0" y2="427.2" stroke="#e7e0ab" stroke-width="1.0"/>
<line x1="419.4" y1="390.0" x2="425.8" y2="390.0" stroke="#e8c6e6" stroke-width="1.0"/>
<polyline points="455.2,322.4 448.2,322.7 443.7,325.2 447.1,328.3 450.4,330.6 448.7,336.0 455.7,338.2 460.5,339.1 464.5,342.3 464.6,347.0 466.4,351.6 469.9,351.8 472.4,353.1 473.0,357.3" fill="none" stroke="#7b7b7b" stroke-width="1.0" stroke-linejoin="round"/>
<polyline points="473.0,357.3 466.1,358.2 457.9,359.8 456.4,361.0 451.3,359.6 446.8,362.9 443.0,361.8 439.9,365.8 439.3,366.0 435.5,367.3 431.7,366.9 429.2,368.1 426.6,368.1 423.4,367.7 419.3,366.4 417.1,366.9 413.9,368.1 411.4,369.8 408.4,373.3 406.3,373.7 403.1,373.9 400.6,373.1 398.7,373.1 396.5,372.6 395.6,371.4 394.4,369.1 396.9,366.6 393.4,363.8 391.5,362.3 389.3,361.0 385.5,362.9 382.0,365.3 381.9,368.8 381.3,371.8 381.6,376.4 382.9,379.0 384.1,380.2 382.6,385.7 380.1,391.5 378.4,395.9" fill="none" stroke="#7b7b7b" stroke-width="1.0" stroke-linejoin="round"/>
<polyline points="378.4,395.9 378.7,398.0 385.1,399.9 389.8,401.4 393.0,401.4 398.7,398.8 400.9,401.4 406.9,399.2 406.6,405.7 401.8,410.3 404.1,415.2 405.9,419.6 410.3,421.7 413.8,420.5 417.9,416.7 421.5,413.3 425.2,415.4 427.5,414.6 431.0,414.3 433.2,413.3 435.3,414.9 438.8,416.9 441.0,422.2 444.5,420.0 446.7,416.9 448.6,414.4 452.4,414.9 453.1,411.9 451.5,410.0 452.1,409.0 453.1,406.4 451.8,404.3 451.8,400.5 450.5,398.0 450.2,395.0 451.1,393.2 453.1,393.8 455.3,394.4 456.9,393.2 463.1,390.2 465.3,388.8 470.7,391.3 472.3,392.5 477.7,387.3" fill="none" stroke="#7b7b7b" stroke-width="1.0" stroke-linejoin="round"/>
<circle cx="367.7" cy="357.7" r="1.3" fill="#bfc9dc" stroke="#4f6795" stroke-width="0.9"/>
<circle cx="382.3" cy="363.4" r="1.3" fill="#bfc9dc" stroke="#4f6795" stroke-width="0.9"/>
<circle cx="394.3" cy="363.6" r="1.3" fill="#bfc9dc" stroke="#4f6795" stroke-width="0.9"/>
<circle cx="402.3" cy="367.1" r="1.3" fill="#bfc9dc" stroke="#4f6795" stroke-width="0.9"/>
<circle cx="366.2" cy="369.0" r="1.3" fill="#bfc9dc" stroke="#4f6795" stroke-width="0.9"/>
<circle cx="361.4" cy="375.2" r="1.3" fill="#bfc9dc" stroke="#4f6795" stroke-width="0.9"/>
<circle cx="382.3" cy="372.3" r="1.3" fill="#bfc9dc" stroke="#4f6795" stroke-width="0.9"/>
<circle cx="379.7" cy="379.6" r="1.3" fill="#bfc9dc" stroke="#4f6795" stroke-width="0.9"/>
<circle cx="406.0" cy="375.8" r="1.3" fill="#bfc9dc" stroke="#4f6795" stroke-width="0.9"/>
<circle cx="403.1" cy="386.5" r="1.3" fill="#bfc9dc" stroke="#4f6795" stroke-width="0.9"/>
<circle cx="419.2" cy="379.6" r="1.3" fill="#bfc9dc" stroke="#4f6795" stroke-width="0.9"/>
<circle cx="420.6" cy="388.0" r="1.3" fill="#bfc9dc" stroke="#4f6795" stroke-width="0.9"/>
<circle cx="423.5" cy="385.5" r="1.3" fill="#bfc9dc" stroke="#4f6795" stroke-width="0.9"/>
<circle cx="367.3" cy="391.6" r="1.3" fill="#bfc9dc" stroke="#4f6795" stroke-width="0.9"/>
<circle cx="372.4" cy="391.6" r="1.3" fill="#bfc9dc" stroke="#4f6795" stroke-width="0.9"/>
<circle cx="422.8" cy="392.3" r="1.3" fill="#bfc9dc" stroke="#4f6795" stroke-width="0.9"/>
<circle cx="368.3" cy="382.1" r="1.4" fill="#1c3468" stroke="none" stroke-width="0"/>
<circle cx="380.9" cy="387.5" r="1.4" fill="#1c3468" stroke="none" stroke-width="0"/>
<circle cx="372.1" cy="394.5" r="1.4" fill="#1c3468" stroke="none" stroke-width="0"/>
<circle cx="378.2" cy="393.8" r="1.4" fill="#1c3468" stroke="none" stroke-width="0"/>
<circle cx="468.2" cy="324.5" r="1.3" fill="#bfc9dc" stroke="#4f6795" stroke-width="0.9"/>
<circle cx="488.0" cy="330.3" r="1.3" fill="#bfc9dc" stroke="#4f6795" stroke-width="0.9"/>
<circle cx="471.9" cy="336.5" r="1.3" fill="#bfc9dc" stroke="#4f6795" stroke-width="0.9"/>
<circle cx="474.1" cy="339.1" r="1.3" fill="#bfc9dc" stroke="#4f6795" stroke-width="0.9"/>
<circle cx="482.8" cy="339.1" r="1.3" fill="#bfc9dc" stroke="#4f6795" stroke-width="0.9"/>
<circle cx="472.6" cy="344.1" r="1.3" fill="#bfc9dc" stroke="#4f6795" stroke-width="0.9"/>
<circle cx="479.2" cy="343.0" r="1.3" fill="#bfc9dc" stroke="#4f6795" stroke-width="0.9"/>
<circle cx="482.1" cy="345.2" r="1.3" fill="#bfc9dc" stroke="#4f6795" stroke-width="0.9"/>
<circle cx="478.5" cy="347.0" r="1.3" fill="#bfc9dc" stroke="#4f6795" stroke-width="0.9"/>
<circle cx="483.6" cy="350.3" r="1.3" fill="#bfc9dc" stroke="#4f6795" stroke-width="0.9"/>
<circle cx="474.1" cy="347.9" r="1.3" fill="#bfc9dc" stroke="#4f6795" stroke-width="0.9"/>
<circle cx="451.1" cy="342.7" r="1.3" fill="#bfc9dc" stroke="#4f6795" stroke-width="0.9"/>
<circle cx="455.8" cy="350.6" r="1.3" fill="#bfc9dc" stroke="#4f6795" stroke-width="0.9"/>
<circle cx="460.9" cy="353.7" r="1.3" fill="#bfc9dc" stroke="#4f6795" stroke-width="0.9"/>
<circle cx="461.7" cy="361.3" r="1.3" fill="#bfc9dc" stroke="#4f6795" stroke-width="0.9"/>
<circle cx="430.2" cy="369.3" r="1.3" fill="#bfc9dc" stroke="#4f6795" stroke-width="0.9"/>
<circle cx="434.3" cy="382.5" r="1.3" fill="#bfc9dc" stroke="#4f6795" stroke-width="0.9"/>
<circle cx="428.8" cy="386.2" r="1.3" fill="#bfc9dc" stroke="#4f6795" stroke-width="0.9"/>
<circle cx="435.3" cy="387.3" r="1.3" fill="#bfc9dc" stroke="#4f6795" stroke-width="0.9"/>
<circle cx="458.0" cy="384.4" r="1.3" fill="#bfc9dc" stroke="#4f6795" stroke-width="0.9"/>
<circle cx="453.6" cy="390.2" r="1.3" fill="#bfc9dc" stroke="#4f6795" stroke-width="0.9"/>
<circle cx="448.5" cy="377.4" r="1.3" fill="#bfc9dc" stroke="#4f6795" stroke-width="0.9"/>
<circle cx="432.4" cy="364.2" r="1.3" fill="#bfc9dc" stroke="#4f6795" stroke-width="0.9"/>
<circle cx="467.5" cy="348.9" r="1.3" fill="#bfc9dc" stroke="#4f6795" stroke-width="0.9"/>
<circle cx="470.4" cy="351.4" r="1.3" fill="#bfc9dc" stroke="#4f6795" stroke-width="0.9"/>
<circle cx="469.0" cy="353.7" r="1.3" fill="#bfc9dc" stroke="#4f6795" stroke-width="0.9"/>
<circle cx="466.8" cy="337.9" r="1.4" fill="#1c3468" stroke="none" stroke-width="0"/>
<circle cx="468.5" cy="348.2" r="1.4" fill="#1c3468" stroke="none" stroke-width="0"/>
<circle cx="470.0" cy="349.9" r="1.4" fill="#1c3468" stroke="none" stroke-width="0"/>
<circle cx="458.3" cy="367.9" r="1.4" fill="#1c3468" stroke="none" stroke-width="0"/>
<circle cx="367.3" cy="381.1" r="1.3" fill="#bfc9dc" stroke="#4f6795" stroke-width="0.9"/>
<circle cx="372.4" cy="395.0" r="1.3" fill="#bfc9dc" stroke="#4f6795" stroke-width="0.9"/>
<circle cx="379.0" cy="394.3" r="1.3" fill="#bfc9dc" stroke="#4f6795" stroke-width="0.9"/>
<circle cx="369.5" cy="402.3" r="1.3" fill="#bfc9dc" stroke="#4f6795" stroke-width="0.9"/>
<circle cx="366.5" cy="408.2" r="1.3" fill="#bfc9dc" stroke="#4f6795" stroke-width="0.9"/>
<circle cx="379.7" cy="409.6" r="1.3" fill="#bfc9dc" stroke="#4f6795" stroke-width="0.9"/>
<circle cx="385.2" cy="406.7" r="1.3" fill="#bfc9dc" stroke="#4f6795" stroke-width="0.9"/>
<circle cx="386.7" cy="408.9" r="1.3" fill="#bfc9dc" stroke="#4f6795" stroke-width="0.9"/>
<circle cx="392.8" cy="404.9" r="1.3" fill="#bfc9dc" stroke="#4f6795" stroke-width="0.9"/>
<circle cx="395.5" cy="407.4" r="1.3" fill="#bfc9dc" stroke="#4f6795" stroke-width="0.9"/>
<circle cx="394.0" cy="398.7" r="1.3" fill="#bfc9dc" stroke="#4f6795" stroke-width="0.9"/>
<circle cx="389.2" cy="401.6" r="1.3" fill="#bfc9dc" stroke="#4f6795" stroke-width="0.9"/>
<circle cx="387.3" cy="414.7" r="1.3" fill="#bfc9dc" stroke="#4f6795" stroke-width="0.9"/>
<circle cx="392.1" cy="415.5" r="1.3" fill="#bfc9dc" stroke="#4f6795" stroke-width="0.9"/>
<circle cx="412.6" cy="403.0" r="1.3" fill="#bfc9dc" stroke="#4f6795" stroke-width="0.9"/>
<circle cx="420.6" cy="406.7" r="1.3" fill="#bfc9dc" stroke="#4f6795" stroke-width="0.9"/>
<circle cx="415.5" cy="422.5" r="1.3" fill="#bfc9dc" stroke="#4f6795" stroke-width="0.9"/>
<circle cx="421.3" cy="427.4" r="1.3" fill="#bfc9dc" stroke="#4f6795" stroke-width="0.9"/>
<circle cx="381.9" cy="417.7" r="1.3" fill="#bfc9dc" stroke="#4f6795" stroke-width="0.9"/>
<circle cx="381.9" cy="419.8" r="1.3" fill="#bfc9dc" stroke="#4f6795" stroke-width="0.9"/>
<circle cx="395.5" cy="429.3" r="1.3" fill="#bfc9dc" stroke="#4f6795" stroke-width="0.9"/>
<circle cx="402.3" cy="434.5" r="1.3" fill="#bfc9dc" stroke="#4f6795" stroke-width="0.9"/>
<circle cx="389.2" cy="436.2" r="1.3" fill="#bfc9dc" stroke="#4f6795" stroke-width="0.9"/>
<circle cx="413.3" cy="431.5" r="1.3" fill="#bfc9dc" stroke="#4f6795" stroke-width="0.9"/>
<circle cx="414.8" cy="434.2" r="1.3" fill="#bfc9dc" stroke="#4f6795" stroke-width="0.9"/>
<circle cx="420.6" cy="433.0" r="1.3" fill="#bfc9dc" stroke="#4f6795" stroke-width="0.9"/>
<circle cx="419.2" cy="437.1" r="1.3" fill="#bfc9dc" stroke="#4f6795" stroke-width="0.9"/>
<circle cx="423.5" cy="419.8" r="1.3" fill="#bfc9dc" stroke="#4f6795" stroke-width="0.9"/>
<circle cx="394.6" cy="416.2" r="1.4" fill="#1c3468" stroke="none" stroke-width="0"/>
<circle cx="401.3" cy="417.2" r="1.4" fill="#1c3468" stroke="none" stroke-width="0"/>
<circle cx="384.1" cy="426.9" r="1.4" fill="#1c3468" stroke="none" stroke-width="0"/>
<circle cx="398.7" cy="429.8" r="1.4" fill="#1c3468" stroke="none" stroke-width="0"/>
<circle cx="420.6" cy="418.7" r="1.4" fill="#1c3468" stroke="none" stroke-width="0"/>
<circle cx="426.1" cy="397.6" r="1.3" fill="#bfc9dc" stroke="#4f6795" stroke-width="0.9"/>
<circle cx="442.2" cy="402.0" r="1.3" fill="#bfc9dc" stroke="#4f6795" stroke-width="0.9"/>
<circle cx="429.5" cy="413.3" r="1.3" fill="#bfc9dc" stroke="#4f6795" stroke-width="0.9"/>
<circle cx="425.6" cy="418.1" r="1.3" fill="#bfc9dc" stroke="#4f6795" stroke-width="0.9"/>
<circle cx="425.1" cy="420.6" r="1.3" fill="#bfc9dc" stroke="#4f6795" stroke-width="0.9"/>
<circle cx="428.0" cy="427.2" r="1.3" fill="#bfc9dc" stroke="#4f6795" stroke-width="0.9"/>
<circle cx="425.6" cy="433.3" r="1.3" fill="#bfc9dc" stroke="#4f6795" stroke-width="0.9"/>
<circle cx="444.6" cy="428.3" r="1.3" fill="#bfc9dc" stroke="#4f6795" stroke-width="0.9"/>
<circle cx="450.7" cy="402.0" r="1.4" fill="#1c3468" stroke="none" stroke-width="0"/>
<circle cx="439.0" cy="419.6" r="1.4" fill="#1c3468" stroke="none" stroke-width="0"/>
<circle cx="421.5" cy="427.2" r="1.4" fill="#1c3468" stroke="none" stroke-width="0"/>
</g>
<rect x="349.20" y="296.60" width="146.70" height="155.60" fill="none" stroke="#111" stroke-width="1.45"/>
<line x1="353.5" y1="452.9" x2="353.5" y2="455.7" stroke="#111" stroke-width="1"/>
<text x="351.11" y="465.90" font-size="8.6" font-weight="normal" fill="#1a1a1a" stroke="#1a1a1a" stroke-width="0.22" textLength="4.78" lengthAdjust="spacingAndGlyphs">0</text>
<line x1="383.8" y1="452.9" x2="383.8" y2="455.7" stroke="#111" stroke-width="1"/>
<text x="381.44" y="465.90" font-size="8.6" font-weight="normal" fill="#1a1a1a" stroke="#1a1a1a" stroke-width="0.22" textLength="4.78" lengthAdjust="spacingAndGlyphs">5</text>
<line x1="414.1" y1="452.9" x2="414.1" y2="455.7" stroke="#111" stroke-width="1"/>
<text x="409.38" y="465.90" font-size="8.6" font-weight="normal" fill="#1a1a1a" stroke="#1a1a1a" stroke-width="0.22" textLength="9.57" lengthAdjust="spacingAndGlyphs">10</text>
<line x1="444.5" y1="452.9" x2="444.5" y2="455.7" stroke="#111" stroke-width="1"/>
<text x="439.70" y="465.90" font-size="8.6" font-weight="normal" fill="#1a1a1a" stroke="#1a1a1a" stroke-width="0.22" textLength="9.57" lengthAdjust="spacingAndGlyphs">15</text>
<line x1="474.8" y1="452.9" x2="474.8" y2="455.7" stroke="#111" stroke-width="1"/>
<text x="470.03" y="465.90" font-size="8.6" font-weight="normal" fill="#1a1a1a" stroke="#1a1a1a" stroke-width="0.22" textLength="9.57" lengthAdjust="spacingAndGlyphs">20</text>
<g clip-path="url(#cpC1)">
<line x1="74.2" y1="532.3" x2="57.0" y2="555.1" stroke="#eac6d1" stroke-width="1.0"/>
<line x1="57.0" y1="555.1" x2="65.5" y2="558.9" stroke="#eac6d1" stroke-width="1.0"/>
<line x1="65.5" y1="558.9" x2="60.6" y2="565.8" stroke="#eac6d1" stroke-width="1.0"/>
<line x1="60.6" y1="565.8" x2="63.6" y2="569.1" stroke="#eac6d1" stroke-width="1.0"/>
<line x1="69.3" y1="566.5" x2="75.2" y2="561.4" stroke="#eac6d1" stroke-width="1.0"/>
<line x1="69.3" y1="566.5" x2="63.6" y2="569.1" stroke="#eac6d1" stroke-width="1.0"/>
<line x1="75.2" y1="561.4" x2="77.9" y2="561.3" stroke="#eac6d1" stroke-width="1.0"/>
<line x1="77.9" y1="561.3" x2="79.8" y2="561.3" stroke="#eac6d1" stroke-width="1.0"/>
<line x1="79.8" y1="561.3" x2="90.9" y2="559.8" stroke="#eac6d1" stroke-width="1.0"/>
<line x1="58.5" y1="571.1" x2="62.5" y2="569.8" stroke="#eac6d1" stroke-width="1.0"/>
<line x1="62.5" y1="569.8" x2="63.6" y2="569.1" stroke="#eac6d1" stroke-width="1.0"/>
<line x1="62.5" y1="569.8" x2="66.6" y2="574.3" stroke="#eac6d1" stroke-width="1.0"/>
<line x1="74.5" y1="570.9" x2="72.9" y2="573.6" stroke="#eac6d1" stroke-width="1.0"/>
<line x1="74.5" y1="570.9" x2="78.9" y2="573.1" stroke="#eac6d1" stroke-width="1.0"/>
<line x1="82.9" y1="569.8" x2="85.3" y2="571.9" stroke="#eac6d1" stroke-width="1.0"/>
<line x1="71.0" y1="572.6" x2="72.9" y2="573.6" stroke="#eac6d1" stroke-width="1.0"/>
<line x1="71.0" y1="572.6" x2="66.6" y2="574.3" stroke="#eac6d1" stroke-width="1.0"/>
<line x1="66.6" y1="574.3" x2="68.8" y2="576.5" stroke="#eac6d1" stroke-width="1.0"/>
<line x1="45.8" y1="575.0" x2="48.4" y2="579.7" stroke="#eac6d1" stroke-width="1.0"/>
<line x1="57.0" y1="577.1" x2="60.6" y2="579.5" stroke="#eac6d1" stroke-width="1.0"/>
<line x1="68.8" y1="576.5" x2="71.3" y2="578.5" stroke="#bae1e1" stroke-width="1.0"/>
<line x1="78.9" y1="573.1" x2="81.3" y2="573.9" stroke="#eac6d1" stroke-width="1.0"/>
<line x1="81.3" y1="573.9" x2="85.3" y2="571.9" stroke="#e8c6e6" stroke-width="1.0"/>
<line x1="81.3" y1="573.9" x2="80.6" y2="576.3" stroke="#e8c6e6" stroke-width="1.0"/>
<line x1="83.4" y1="575.9" x2="80.6" y2="576.3" stroke="#eac6d1" stroke-width="1.0"/>
<line x1="83.4" y1="575.9" x2="85.3" y2="579.1" stroke="#eac6d1" stroke-width="1.0"/>
<line x1="90.9" y1="559.8" x2="95.5" y2="563.9" stroke="#e8c6e6" stroke-width="1.0"/>
<line x1="119.8" y1="551.3" x2="124.5" y2="559.5" stroke="#e8c6e6" stroke-width="1.0"/>
<line x1="124.5" y1="559.5" x2="131.6" y2="557.4" stroke="#e8c6e6" stroke-width="1.0"/>
<line x1="131.6" y1="557.4" x2="139.9" y2="556.6" stroke="#e8c6e6" stroke-width="1.0"/>
<line x1="112.8" y1="569.2" x2="122.9" y2="570.0" stroke="#e8c6e6" stroke-width="1.0"/>
<line x1="122.9" y1="570.0" x2="123.4" y2="571.5" stroke="#e8c6e6" stroke-width="1.0"/>
<line x1="123.4" y1="571.5" x2="124.0" y2="574.1" stroke="#e8c6e6" stroke-width="1.0"/>
<line x1="128.1" y1="570.6" x2="132.3" y2="571.1" stroke="#e8c6e6" stroke-width="1.0"/>
<line x1="128.1" y1="570.6" x2="126.6" y2="574.1" stroke="#e8c6e6" stroke-width="1.0"/>
<line x1="132.3" y1="571.1" x2="134.0" y2="571.5" stroke="#e8c6e6" stroke-width="1.0"/>
<line x1="146.0" y1="543.2" x2="139.1" y2="543.5" stroke="#e8c6e6" stroke-width="1.0"/>
<line x1="139.1" y1="543.5" x2="134.7" y2="545.9" stroke="#e8c6e6" stroke-width="1.0"/>
<line x1="134.7" y1="545.9" x2="141.3" y2="551.6" stroke="#e8c6e6" stroke-width="1.0"/>
<line x1="141.3" y1="551.6" x2="139.9" y2="556.6" stroke="#e8c6e6" stroke-width="1.0"/>
<line x1="139.9" y1="556.6" x2="146.7" y2="559.1" stroke="#e8c6e6" stroke-width="1.0"/>
<line x1="146.7" y1="559.1" x2="151.4" y2="559.9" stroke="#e8c6e6" stroke-width="1.0"/>
<line x1="151.4" y1="559.9" x2="155.2" y2="563.3" stroke="#e8c6e6" stroke-width="1.0"/>
<line x1="155.2" y1="563.3" x2="154.9" y2="567.4" stroke="#e8c6e6" stroke-width="1.0"/>
<line x1="155.2" y1="563.3" x2="158.0" y2="558.0" stroke="#e8c6e6" stroke-width="1.0"/>
<line x1="154.9" y1="567.4" x2="154.4" y2="569.0" stroke="#e8c6e6" stroke-width="1.0"/>
<line x1="156.1" y1="554.2" x2="158.0" y2="558.0" stroke="#e8c6e6" stroke-width="1.0"/>
<line x1="167.1" y1="523.3" x2="170.7" y2="528.0" stroke="#e8c6e6" stroke-width="1.0"/>
<line x1="170.7" y1="528.0" x2="171.7" y2="546.7" stroke="#e8c6e6" stroke-width="1.0"/>
<line x1="171.7" y1="546.7" x2="171.1" y2="554.2" stroke="#e8c6e6" stroke-width="1.0"/>
<line x1="171.1" y1="554.2" x2="181.1" y2="559.5" stroke="#e8c6e6" stroke-width="1.0"/>
<line x1="181.1" y1="559.5" x2="171.8" y2="565.2" stroke="#e8c6e6" stroke-width="1.0"/>
<line x1="171.8" y1="565.2" x2="164.0" y2="564.3" stroke="#e8c6e6" stroke-width="1.0"/>
<line x1="171.8" y1="565.2" x2="171.8" y2="566.8" stroke="#e8c6e6" stroke-width="1.0"/>
<line x1="164.0" y1="564.3" x2="162.9" y2="567.7" stroke="#e8c6e6" stroke-width="1.0"/>
<line x1="162.9" y1="567.7" x2="160.5" y2="572.5" stroke="#e8c6e6" stroke-width="1.0"/>
<line x1="60.6" y1="579.5" x2="60.8" y2="583.3" stroke="#eac6d1" stroke-width="1.0"/>
<line x1="62.5" y1="587.5" x2="62.7" y2="583.3" stroke="#eac6d1" stroke-width="1.0"/>
<line x1="62.5" y1="587.5" x2="65.2" y2="588.8" stroke="#eac6d1" stroke-width="1.0"/>
<line x1="67.9" y1="587.5" x2="65.2" y2="588.8" stroke="#eac6d1" stroke-width="1.0"/>
<line x1="70.8" y1="583.6" x2="72.1" y2="583.0" stroke="#eac6d1" stroke-width="1.0"/>
<line x1="48.4" y1="579.7" x2="50.5" y2="585.0" stroke="#bae1e1" stroke-width="1.0"/>
<line x1="50.5" y1="585.0" x2="57.0" y2="584.7" stroke="#bae1e1" stroke-width="1.0"/>
<line x1="57.0" y1="584.7" x2="60.8" y2="583.3" stroke="#bae1e1" stroke-width="1.0"/>
<line x1="60.8" y1="583.3" x2="62.7" y2="583.3" stroke="#bae1e1" stroke-width="1.0"/>
<line x1="65.2" y1="588.8" x2="64.3" y2="590.4" stroke="#bae1e1" stroke-width="1.0"/>
<line x1="64.3" y1="590.4" x2="66.3" y2="592.3" stroke="#bae1e1" stroke-width="1.0"/>
<line x1="60.2" y1="592.3" x2="61.1" y2="594.2" stroke="#bae1e1" stroke-width="1.0"/>
<line x1="60.2" y1="592.3" x2="54.9" y2="593.6" stroke="#bae1e1" stroke-width="1.0"/>
<line x1="61.1" y1="594.2" x2="63.0" y2="594.2" stroke="#bae1e1" stroke-width="1.0"/>
<line x1="63.0" y1="594.2" x2="66.3" y2="592.3" stroke="#bae1e1" stroke-width="1.0"/>
<line x1="54.9" y1="593.6" x2="50.3" y2="595.1" stroke="#bae1e1" stroke-width="1.0"/>
<line x1="54.4" y1="599.7" x2="58.0" y2="597.7" stroke="#bae1e1" stroke-width="1.0"/>
<line x1="58.0" y1="597.7" x2="59.9" y2="598.0" stroke="#bae1e1" stroke-width="1.0"/>
<line x1="59.9" y1="598.0" x2="62.1" y2="597.8" stroke="#bae1e1" stroke-width="1.0"/>
<line x1="62.1" y1="597.8" x2="63.6" y2="598.0" stroke="#bae1e1" stroke-width="1.0"/>
<line x1="63.6" y1="598.0" x2="65.5" y2="598.0" stroke="#bae1e1" stroke-width="1.0"/>
<line x1="65.5" y1="598.0" x2="67.4" y2="598.0" stroke="#bae1e1" stroke-width="1.0"/>
<line x1="67.4" y1="598.0" x2="68.6" y2="601.3" stroke="#bae1e1" stroke-width="1.0"/>
<line x1="67.4" y1="598.0" x2="70.1" y2="596.6" stroke="#bae1e1" stroke-width="1.0"/>
<line x1="59.6" y1="603.0" x2="63.3" y2="602.2" stroke="#bae1e1" stroke-width="1.0"/>
<line x1="63.3" y1="602.2" x2="65.5" y2="601.8" stroke="#bae1e1" stroke-width="1.0"/>
<line x1="65.5" y1="601.8" x2="67.1" y2="601.8" stroke="#bae1e1" stroke-width="1.0"/>
<line x1="67.1" y1="601.8" x2="68.6" y2="601.3" stroke="#bae1e1" stroke-width="1.0"/>
<line x1="68.6" y1="601.3" x2="70.2" y2="602.2" stroke="#bae1e1" stroke-width="1.0"/>
<line x1="70.2" y1="602.2" x2="72.0" y2="602.1" stroke="#bae1e1" stroke-width="1.0"/>
<line x1="69.3" y1="593.0" x2="66.3" y2="592.3" stroke="#bae1e1" stroke-width="1.0"/>
<line x1="69.3" y1="593.0" x2="72.0" y2="593.7" stroke="#bae1e1" stroke-width="1.0"/>
<line x1="50.5" y1="605.5" x2="54.4" y2="609.7" stroke="#bae1e1" stroke-width="1.0"/>
<line x1="65.5" y1="606.4" x2="67.7" y2="606.0" stroke="#bae1e1" stroke-width="1.0"/>
<line x1="67.7" y1="606.0" x2="68.9" y2="606.7" stroke="#bae1e1" stroke-width="1.0"/>
<line x1="71.3" y1="578.5" x2="72.1" y2="583.0" stroke="#e8c6e6" stroke-width="1.0"/>
<line x1="58.6" y1="609.3" x2="60.4" y2="611.0" stroke="#bae1e1" stroke-width="1.0"/>
<line x1="58.6" y1="609.3" x2="54.4" y2="609.7" stroke="#bae1e1" stroke-width="1.0"/>
<line x1="60.4" y1="611.0" x2="61.8" y2="613.6" stroke="#bae1e1" stroke-width="1.0"/>
<line x1="61.8" y1="613.6" x2="63.3" y2="614.3" stroke="#bae1e1" stroke-width="1.0"/>
<line x1="61.8" y1="613.6" x2="57.9" y2="615.7" stroke="#bae1e1" stroke-width="1.0"/>
<line x1="63.3" y1="614.3" x2="64.9" y2="612.4" stroke="#bae1e1" stroke-width="1.0"/>
<line x1="63.3" y1="614.3" x2="65.8" y2="617.2" stroke="#bae1e1" stroke-width="1.0"/>
<line x1="64.9" y1="612.4" x2="69.5" y2="613.0" stroke="#bae1e1" stroke-width="1.0"/>
<line x1="65.8" y1="617.2" x2="61.0" y2="620.5" stroke="#bae1e1" stroke-width="1.0"/>
<line x1="65.8" y1="617.2" x2="70.5" y2="618.7" stroke="#bae1e1" stroke-width="1.0"/>
<line x1="69.3" y1="626.9" x2="75.6" y2="630.9" stroke="#bae1e1" stroke-width="1.0"/>
<line x1="70.5" y1="618.7" x2="76.7" y2="620.5" stroke="#bae1e1" stroke-width="1.0"/>
<line x1="70.2" y1="635.9" x2="71.5" y2="633.8" stroke="#bae1e1" stroke-width="1.0"/>
<line x1="70.2" y1="635.9" x2="72.9" y2="642.6" stroke="#bae1e1" stroke-width="1.0"/>
<line x1="67.1" y1="608.6" x2="68.9" y2="606.7" stroke="#bae1e1" stroke-width="1.0"/>
<line x1="69.9" y1="609.5" x2="70.5" y2="612.0" stroke="#bae1e1" stroke-width="1.0"/>
<line x1="69.9" y1="609.5" x2="70.7" y2="607.1" stroke="#bae1e1" stroke-width="1.0"/>
<line x1="69.9" y1="609.5" x2="72.0" y2="609.6" stroke="#bae1e1" stroke-width="1.0"/>
<line x1="70.5" y1="612.0" x2="69.5" y2="613.0" stroke="#bae1e1" stroke-width="1.0"/>
<line x1="71.2" y1="613.6" x2="69.5" y2="613.0" stroke="#bae1e1" stroke-width="1.0"/>
<line x1="71.5" y1="633.8" x2="74.2" y2="634.3" stroke="#c4e2b6" stroke-width="1.0"/>
<line x1="73.6" y1="589.5" x2="77.3" y2="587.0" stroke="#eac6d1" stroke-width="1.0"/>
<line x1="73.6" y1="589.5" x2="72.0" y2="593.7" stroke="#eac6d1" stroke-width="1.0"/>
<line x1="82.3" y1="588.0" x2="77.3" y2="587.0" stroke="#eac6d1" stroke-width="1.0"/>
<line x1="82.3" y1="588.0" x2="85.8" y2="589.5" stroke="#eac6d1" stroke-width="1.0"/>
<line x1="88.0" y1="593.7" x2="85.8" y2="589.5" stroke="#eac6d1" stroke-width="1.0"/>
<line x1="88.0" y1="593.7" x2="92.2" y2="593.3" stroke="#eac6d1" stroke-width="1.0"/>
<line x1="85.2" y1="584.9" x2="86.5" y2="585.1" stroke="#eac6d1" stroke-width="1.0"/>
<line x1="88.6" y1="608.4" x2="92.1" y2="607.1" stroke="#eac6d1" stroke-width="1.0"/>
<line x1="77.3" y1="587.0" x2="77.1" y2="583.6" stroke="#bae1e1" stroke-width="1.0"/>
<line x1="72.0" y1="593.7" x2="70.1" y2="596.6" stroke="#bae1e1" stroke-width="1.0"/>
<line x1="70.1" y1="596.6" x2="72.6" y2="597.0" stroke="#bae1e1" stroke-width="1.0"/>
<line x1="72.6" y1="597.0" x2="76.1" y2="596.2" stroke="#bae1e1" stroke-width="1.0"/>
<line x1="76.1" y1="596.2" x2="79.2" y2="597.9" stroke="#bae1e1" stroke-width="1.0"/>
<line x1="79.2" y1="597.9" x2="82.0" y2="600.0" stroke="#bae1e1" stroke-width="1.0"/>
<line x1="79.2" y1="597.9" x2="81.4" y2="593.3" stroke="#bae1e1" stroke-width="1.0"/>
<line x1="89.6" y1="597.7" x2="92.1" y2="596.2" stroke="#bae1e1" stroke-width="1.0"/>
<line x1="92.1" y1="596.2" x2="93.3" y2="595.4" stroke="#bae1e1" stroke-width="1.0"/>
<line x1="72.0" y1="602.1" x2="74.5" y2="602.1" stroke="#bae1e1" stroke-width="1.0"/>
<line x1="74.5" y1="602.1" x2="76.7" y2="603.3" stroke="#bae1e1" stroke-width="1.0"/>
<line x1="74.5" y1="602.1" x2="75.8" y2="600.2" stroke="#bae1e1" stroke-width="1.0"/>
<line x1="76.7" y1="603.3" x2="78.0" y2="602.5" stroke="#bae1e1" stroke-width="1.0"/>
<line x1="76.7" y1="603.3" x2="75.1" y2="605.0" stroke="#bae1e1" stroke-width="1.0"/>
<line x1="78.6" y1="606.3" x2="75.1" y2="605.0" stroke="#bae1e1" stroke-width="1.0"/>
<line x1="75.1" y1="605.0" x2="73.1" y2="606.4" stroke="#bae1e1" stroke-width="1.0"/>
<line x1="68.9" y1="606.7" x2="70.7" y2="607.1" stroke="#bae1e1" stroke-width="1.0"/>
<line x1="70.7" y1="607.1" x2="73.1" y2="606.4" stroke="#bae1e1" stroke-width="1.0"/>
<line x1="72.0" y1="609.6" x2="73.9" y2="610.5" stroke="#bae1e1" stroke-width="1.0"/>
<line x1="73.9" y1="610.5" x2="75.8" y2="611.7" stroke="#bae1e1" stroke-width="1.0"/>
<line x1="75.8" y1="611.7" x2="77.3" y2="612.1" stroke="#bae1e1" stroke-width="1.0"/>
<line x1="90.8" y1="586.8" x2="88.4" y2="587.2" stroke="#e8c6e6" stroke-width="1.0"/>
<line x1="95.8" y1="588.6" x2="100.0" y2="591.2" stroke="#e8c6e6" stroke-width="1.0"/>
<line x1="93.3" y1="595.4" x2="95.5" y2="594.1" stroke="#e8c6e6" stroke-width="1.0"/>
<line x1="93.3" y1="595.4" x2="92.2" y2="593.3" stroke="#e8c6e6" stroke-width="1.0"/>
<line x1="95.5" y1="594.1" x2="99.9" y2="594.6" stroke="#e8c6e6" stroke-width="1.0"/>
<line x1="89.6" y1="605.0" x2="92.1" y2="607.1" stroke="#e8c6e6" stroke-width="1.0"/>
<line x1="95.2" y1="606.7" x2="97.1" y2="612.1" stroke="#e8c6e6" stroke-width="1.0"/>
<line x1="95.2" y1="606.7" x2="92.1" y2="607.1" stroke="#e8c6e6" stroke-width="1.0"/>
<line x1="95.2" y1="606.7" x2="101.2" y2="604.3" stroke="#e8c6e6" stroke-width="1.0"/>
<line x1="85.8" y1="589.5" x2="88.4" y2="587.2" stroke="#c4e2b6" stroke-width="1.0"/>
<line x1="91.4" y1="615.1" x2="97.1" y2="612.1" stroke="#c4e2b6" stroke-width="1.0"/>
<line x1="91.4" y1="615.1" x2="90.2" y2="618.4" stroke="#c4e2b6" stroke-width="1.0"/>
<line x1="90.2" y1="618.4" x2="92.4" y2="622.2" stroke="#c4e2b6" stroke-width="1.0"/>
<line x1="66.8" y1="644.9" x2="65.2" y2="650.6" stroke="#c4e2b6" stroke-width="1.0"/>
<line x1="66.8" y1="644.9" x2="72.9" y2="642.6" stroke="#c4e2b6" stroke-width="1.0"/>
<line x1="76.7" y1="620.5" x2="81.4" y2="621.6" stroke="#bae1e1" stroke-width="1.0"/>
<line x1="98.0" y1="626.9" x2="92.7" y2="630.7" stroke="#bae1e1" stroke-width="1.0"/>
<line x1="98.0" y1="626.9" x2="98.0" y2="620.5" stroke="#bae1e1" stroke-width="1.0"/>
<line x1="81.4" y1="621.6" x2="83.9" y2="621.9" stroke="#c4e2b6" stroke-width="1.0"/>
<line x1="88.0" y1="629.5" x2="92.7" y2="630.7" stroke="#c4e2b6" stroke-width="1.0"/>
<line x1="92.7" y1="630.7" x2="96.5" y2="636.6" stroke="#c4e2b6" stroke-width="1.0"/>
<line x1="75.6" y1="630.9" x2="74.2" y2="634.3" stroke="#c4e2b6" stroke-width="1.0"/>
<line x1="74.2" y1="634.3" x2="78.9" y2="634.7" stroke="#c4e2b6" stroke-width="1.0"/>
<line x1="72.9" y1="642.6" x2="76.7" y2="642.5" stroke="#c4e2b6" stroke-width="1.0"/>
<line x1="76.7" y1="642.5" x2="77.6" y2="646.2" stroke="#c4e2b6" stroke-width="1.0"/>
<line x1="82.3" y1="642.5" x2="82.3" y2="646.2" stroke="#c4e2b6" stroke-width="1.0"/>
<line x1="77.6" y1="646.2" x2="82.3" y2="646.2" stroke="#c4e2b6" stroke-width="1.0"/>
<line x1="82.3" y1="646.2" x2="81.7" y2="650.0" stroke="#c4e2b6" stroke-width="1.0"/>
<line x1="88.0" y1="646.5" x2="93.6" y2="645.0" stroke="#c4e2b6" stroke-width="1.0"/>
<line x1="88.0" y1="646.5" x2="85.5" y2="650.0" stroke="#c4e2b6" stroke-width="1.0"/>
<line x1="93.6" y1="645.0" x2="97.4" y2="639.9" stroke="#c4e2b6" stroke-width="1.0"/>
<line x1="81.7" y1="650.0" x2="85.5" y2="650.0" stroke="#c4e2b6" stroke-width="1.0"/>
<line x1="81.7" y1="650.0" x2="74.2" y2="654.1" stroke="#c4e2b6" stroke-width="1.0"/>
<line x1="92.4" y1="622.2" x2="98.0" y2="620.5" stroke="#e8c6e6" stroke-width="1.0"/>
<line x1="98.0" y1="620.5" x2="98.9" y2="619.1" stroke="#e8c6e6" stroke-width="1.0"/>
<line x1="96.5" y1="636.6" x2="98.2" y2="637.1" stroke="#c2ccf1" stroke-width="1.0"/>
<line x1="97.4" y1="639.9" x2="98.2" y2="637.1" stroke="#e7e0ab" stroke-width="1.0"/>
<line x1="97.4" y1="639.9" x2="101.7" y2="642.2" stroke="#e7e0ab" stroke-width="1.0"/>
<line x1="93.6" y1="665.2" x2="101.1" y2="656.6" stroke="#e7e0ab" stroke-width="1.0"/>
<line x1="104.5" y1="634.8" x2="109.2" y2="637.1" stroke="#c2ccf1" stroke-width="1.0"/>
<line x1="109.2" y1="627.1" x2="107.3" y2="627.7" stroke="#c2ccf1" stroke-width="1.0"/>
<line x1="109.2" y1="627.1" x2="109.8" y2="629.6" stroke="#c2ccf1" stroke-width="1.0"/>
<line x1="118.0" y1="628.6" x2="120.8" y2="632.3" stroke="#c2ccf1" stroke-width="1.0"/>
<line x1="112.7" y1="633.8" x2="110.1" y2="631.7" stroke="#c2ccf1" stroke-width="1.0"/>
<line x1="112.7" y1="633.8" x2="109.2" y2="637.1" stroke="#c2ccf1" stroke-width="1.0"/>
<line x1="112.7" y1="633.8" x2="116.4" y2="635.9" stroke="#c2ccf1" stroke-width="1.0"/>
<line x1="118.3" y1="635.0" x2="122.1" y2="634.8" stroke="#c2ccf1" stroke-width="1.0"/>
<line x1="118.3" y1="635.0" x2="116.4" y2="635.9" stroke="#c2ccf1" stroke-width="1.0"/>
<line x1="122.1" y1="634.8" x2="124.3" y2="633.6" stroke="#c2ccf1" stroke-width="1.0"/>
<line x1="122.1" y1="634.8" x2="120.8" y2="632.3" stroke="#c2ccf1" stroke-width="1.0"/>
<line x1="124.3" y1="633.6" x2="126.3" y2="635.3" stroke="#c2ccf1" stroke-width="1.0"/>
<line x1="113.0" y1="641.3" x2="112.3" y2="644.7" stroke="#c2ccf1" stroke-width="1.0"/>
<line x1="101.7" y1="643.9" x2="104.8" y2="645.1" stroke="#c2ccf1" stroke-width="1.0"/>
<line x1="101.7" y1="643.9" x2="101.7" y2="642.2" stroke="#c2ccf1" stroke-width="1.0"/>
<line x1="104.8" y1="645.1" x2="104.5" y2="646.8" stroke="#c2ccf1" stroke-width="1.0"/>
<line x1="109.8" y1="629.6" x2="110.1" y2="631.7" stroke="#e7e0ab" stroke-width="1.0"/>
<line x1="101.7" y1="642.2" x2="105.1" y2="640.9" stroke="#e7e0ab" stroke-width="1.0"/>
<line x1="105.1" y1="640.9" x2="109.2" y2="637.1" stroke="#e7e0ab" stroke-width="1.0"/>
<line x1="124.6" y1="616.6" x2="131.7" y2="616.3" stroke="#e7e0ab" stroke-width="1.0"/>
<line x1="124.9" y1="625.8" x2="129.5" y2="625.7" stroke="#e7e0ab" stroke-width="1.0"/>
<line x1="112.3" y1="644.7" x2="109.8" y2="646.8" stroke="#e7e0ab" stroke-width="1.0"/>
<line x1="117.7" y1="646.0" x2="118.6" y2="649.9" stroke="#e7e0ab" stroke-width="1.0"/>
<line x1="109.8" y1="646.8" x2="104.5" y2="646.8" stroke="#e7e0ab" stroke-width="1.0"/>
<line x1="109.8" y1="646.8" x2="111.7" y2="649.0" stroke="#e7e0ab" stroke-width="1.0"/>
<line x1="104.5" y1="646.8" x2="103.6" y2="647.9" stroke="#e7e0ab" stroke-width="1.0"/>
<line x1="103.6" y1="647.9" x2="100.4" y2="649.9" stroke="#e7e0ab" stroke-width="1.0"/>
<line x1="115.8" y1="650.3" x2="111.7" y2="649.0" stroke="#e7e0ab" stroke-width="1.0"/>
<line x1="115.8" y1="650.3" x2="118.6" y2="649.9" stroke="#e7e0ab" stroke-width="1.0"/>
<line x1="118.0" y1="652.6" x2="118.6" y2="649.9" stroke="#e7e0ab" stroke-width="1.0"/>
<line x1="118.0" y1="652.6" x2="115.8" y2="659.7" stroke="#e7e0ab" stroke-width="1.0"/>
<line x1="109.2" y1="651.0" x2="111.7" y2="649.0" stroke="#e7e0ab" stroke-width="1.0"/>
<line x1="101.1" y1="656.6" x2="100.4" y2="649.9" stroke="#e7e0ab" stroke-width="1.0"/>
<line x1="101.1" y1="656.6" x2="104.8" y2="659.5" stroke="#e7e0ab" stroke-width="1.0"/>
<line x1="115.8" y1="661.9" x2="115.8" y2="659.7" stroke="#e7e0ab" stroke-width="1.0"/>
<line x1="118.6" y1="649.9" x2="122.1" y2="648.2" stroke="#c2ccf1" stroke-width="1.0"/>
<line x1="122.1" y1="648.2" x2="124.9" y2="649.3" stroke="#c2ccf1" stroke-width="1.0"/>
<line x1="124.9" y1="649.3" x2="123.6" y2="652.6" stroke="#c2ccf1" stroke-width="1.0"/>
<line x1="91.2" y1="577.7" x2="85.3" y2="579.1" stroke="#eac6d1" stroke-width="1.0"/>
<line x1="91.2" y1="577.7" x2="90.6" y2="576.3" stroke="#eac6d1" stroke-width="1.0"/>
<line x1="96.2" y1="576.6" x2="99.4" y2="575.5" stroke="#eac6d1" stroke-width="1.0"/>
<line x1="96.2" y1="576.6" x2="92.2" y2="575.9" stroke="#eac6d1" stroke-width="1.0"/>
<line x1="80.9" y1="581.8" x2="77.1" y2="583.6" stroke="#eac6d1" stroke-width="1.0"/>
<line x1="77.1" y1="583.6" x2="73.7" y2="585.1" stroke="#eac6d1" stroke-width="1.0"/>
<line x1="72.1" y1="583.0" x2="73.7" y2="585.1" stroke="#eac6d1" stroke-width="1.0"/>
<line x1="86.5" y1="585.1" x2="88.4" y2="587.2" stroke="#eac6d1" stroke-width="1.0"/>
<line x1="90.6" y1="576.3" x2="92.2" y2="575.9" stroke="#e8c6e6" stroke-width="1.0"/>
<line x1="100.0" y1="582.6" x2="106.8" y2="582.7" stroke="#e8c6e6" stroke-width="1.0"/>
<line x1="100.0" y1="591.2" x2="102.8" y2="590.2" stroke="#e8c6e6" stroke-width="1.0"/>
<line x1="100.0" y1="591.2" x2="99.9" y2="594.6" stroke="#e8c6e6" stroke-width="1.0"/>
<line x1="102.8" y1="590.2" x2="105.2" y2="590.6" stroke="#e8c6e6" stroke-width="1.0"/>
<line x1="110.1" y1="578.5" x2="106.8" y2="581.0" stroke="#e8c6e6" stroke-width="1.0"/>
<line x1="106.8" y1="582.7" x2="110.9" y2="585.8" stroke="#e8c6e6" stroke-width="1.0"/>
<line x1="106.8" y1="582.7" x2="106.8" y2="581.0" stroke="#e8c6e6" stroke-width="1.0"/>
<line x1="112.4" y1="582.9" x2="114.6" y2="582.7" stroke="#e8c6e6" stroke-width="1.0"/>
<line x1="112.4" y1="582.9" x2="110.9" y2="585.8" stroke="#e8c6e6" stroke-width="1.0"/>
<line x1="110.9" y1="585.8" x2="109.9" y2="587.9" stroke="#e8c6e6" stroke-width="1.0"/>
<line x1="109.9" y1="587.9" x2="105.9" y2="587.5" stroke="#e8c6e6" stroke-width="1.0"/>
<line x1="109.9" y1="587.9" x2="110.2" y2="590.0" stroke="#e8c6e6" stroke-width="1.0"/>
<line x1="105.9" y1="587.5" x2="105.2" y2="590.6" stroke="#e8c6e6" stroke-width="1.0"/>
<line x1="110.2" y1="590.0" x2="112.8" y2="591.3" stroke="#e8c6e6" stroke-width="1.0"/>
<line x1="112.8" y1="591.3" x2="114.6" y2="591.7" stroke="#e8c6e6" stroke-width="1.0"/>
<line x1="112.8" y1="591.3" x2="114.6" y2="588.3" stroke="#e8c6e6" stroke-width="1.0"/>
<line x1="121.2" y1="579.9" x2="123.7" y2="579.9" stroke="#e8c6e6" stroke-width="1.0"/>
<line x1="123.7" y1="579.9" x2="124.7" y2="584.1" stroke="#e8c6e6" stroke-width="1.0"/>
<line x1="124.0" y1="574.1" x2="126.6" y2="574.1" stroke="#e8c6e6" stroke-width="1.0"/>
<line x1="126.6" y1="574.1" x2="130.3" y2="577.4" stroke="#e8c6e6" stroke-width="1.0"/>
<line x1="130.3" y1="577.4" x2="133.7" y2="581.8" stroke="#e8c6e6" stroke-width="1.0"/>
<line x1="121.5" y1="588.8" x2="123.1" y2="587.2" stroke="#e8c6e6" stroke-width="1.0"/>
<line x1="121.5" y1="588.8" x2="114.6" y2="588.3" stroke="#e8c6e6" stroke-width="1.0"/>
<line x1="123.1" y1="587.2" x2="126.6" y2="587.9" stroke="#e8c6e6" stroke-width="1.0"/>
<line x1="123.1" y1="587.2" x2="124.7" y2="584.1" stroke="#e8c6e6" stroke-width="1.0"/>
<line x1="126.6" y1="587.9" x2="130.3" y2="586.7" stroke="#e8c6e6" stroke-width="1.0"/>
<line x1="126.6" y1="587.9" x2="127.5" y2="591.3" stroke="#e8c6e6" stroke-width="1.0"/>
<line x1="130.3" y1="586.7" x2="133.7" y2="581.8" stroke="#e8c6e6" stroke-width="1.0"/>
<line x1="127.5" y1="591.3" x2="128.1" y2="594.5" stroke="#e8c6e6" stroke-width="1.0"/>
<line x1="128.1" y1="594.5" x2="122.5" y2="595.3" stroke="#e8c6e6" stroke-width="1.0"/>
<line x1="128.1" y1="594.5" x2="133.3" y2="597.0" stroke="#e8c6e6" stroke-width="1.0"/>
<line x1="121.2" y1="594.5" x2="122.5" y2="595.3" stroke="#e8c6e6" stroke-width="1.0"/>
<line x1="122.5" y1="595.3" x2="122.2" y2="598.0" stroke="#e8c6e6" stroke-width="1.0"/>
<line x1="102.1" y1="599.7" x2="106.5" y2="600.1" stroke="#e8c6e6" stroke-width="1.0"/>
<line x1="113.4" y1="598.8" x2="109.0" y2="599.8" stroke="#e8c6e6" stroke-width="1.0"/>
<line x1="106.5" y1="602.6" x2="108.4" y2="602.6" stroke="#e8c6e6" stroke-width="1.0"/>
<line x1="106.5" y1="602.6" x2="104.6" y2="605.5" stroke="#e8c6e6" stroke-width="1.0"/>
<line x1="106.5" y1="602.6" x2="106.5" y2="600.1" stroke="#e8c6e6" stroke-width="1.0"/>
<line x1="101.2" y1="604.3" x2="104.6" y2="605.5" stroke="#e8c6e6" stroke-width="1.0"/>
<line x1="104.6" y1="605.5" x2="110.7" y2="610.5" stroke="#e8c6e6" stroke-width="1.0"/>
<line x1="106.5" y1="600.1" x2="109.0" y2="599.8" stroke="#c4e2b6" stroke-width="1.0"/>
<line x1="109.0" y1="599.8" x2="109.6" y2="594.6" stroke="#c4e2b6" stroke-width="1.0"/>
<line x1="105.2" y1="590.6" x2="106.5" y2="593.0" stroke="#e7e0ab" stroke-width="1.0"/>
<line x1="106.5" y1="593.0" x2="109.6" y2="594.6" stroke="#e7e0ab" stroke-width="1.0"/>
<line x1="154.4" y1="569.0" x2="157.2" y2="572.5" stroke="#e8c6e6" stroke-width="1.0"/>
<line x1="157.2" y1="572.5" x2="160.5" y2="572.5" stroke="#e8c6e6" stroke-width="1.0"/>
<line x1="133.7" y1="581.8" x2="137.7" y2="583.6" stroke="#e8c6e6" stroke-width="1.0"/>
<line x1="145.3" y1="575.9" x2="142.1" y2="580.1" stroke="#e8c6e6" stroke-width="1.0"/>
<line x1="142.1" y1="580.1" x2="137.7" y2="583.6" stroke="#e8c6e6" stroke-width="1.0"/>
<line x1="142.1" y1="580.1" x2="147.1" y2="581.7" stroke="#e8c6e6" stroke-width="1.0"/>
<line x1="148.7" y1="580.5" x2="156.9" y2="578.8" stroke="#e8c6e6" stroke-width="1.0"/>
<line x1="148.7" y1="580.5" x2="147.1" y2="581.7" stroke="#e8c6e6" stroke-width="1.0"/>
<line x1="156.9" y1="578.8" x2="163.7" y2="578.0" stroke="#e8c6e6" stroke-width="1.0"/>
<line x1="160.5" y1="572.5" x2="163.0" y2="573.8" stroke="#e8c6e6" stroke-width="1.0"/>
<line x1="163.0" y1="573.8" x2="163.7" y2="578.0" stroke="#e8c6e6" stroke-width="1.0"/>
<line x1="163.7" y1="578.0" x2="163.3" y2="581.3" stroke="#e8c6e6" stroke-width="1.0"/>
<line x1="163.3" y1="581.3" x2="165.2" y2="586.9" stroke="#e8c6e6" stroke-width="1.0"/>
<line x1="171.8" y1="566.8" x2="173.1" y2="569.8" stroke="#e8c6e6" stroke-width="1.0"/>
<line x1="133.3" y1="597.0" x2="136.5" y2="591.6" stroke="#e8c6e6" stroke-width="1.0"/>
<line x1="133.3" y1="597.0" x2="138.4" y2="598.9" stroke="#e8c6e6" stroke-width="1.0"/>
<line x1="138.4" y1="598.9" x2="141.5" y2="596.8" stroke="#e8c6e6" stroke-width="1.0"/>
<line x1="138.4" y1="598.9" x2="134.9" y2="605.4" stroke="#e8c6e6" stroke-width="1.0"/>
<line x1="147.1" y1="581.7" x2="150.0" y2="586.1" stroke="#e8c6e6" stroke-width="1.0"/>
<line x1="153.4" y1="588.6" x2="149.3" y2="592.2" stroke="#e8c6e6" stroke-width="1.0"/>
<line x1="153.4" y1="588.6" x2="150.0" y2="586.1" stroke="#e8c6e6" stroke-width="1.0"/>
<line x1="155.6" y1="603.7" x2="155.6" y2="605.8" stroke="#e7e0ab" stroke-width="1.0"/>
<line x1="155.6" y1="605.8" x2="156.9" y2="609.6" stroke="#e7e0ab" stroke-width="1.0"/>
<line x1="153.7" y1="610.4" x2="156.9" y2="609.6" stroke="#e7e0ab" stroke-width="1.0"/>
<line x1="153.7" y1="610.4" x2="152.4" y2="610.2" stroke="#e7e0ab" stroke-width="1.0"/>
<line x1="156.9" y1="609.6" x2="161.5" y2="610.9" stroke="#e7e0ab" stroke-width="1.0"/>
<line x1="168.2" y1="607.9" x2="161.5" y2="610.9" stroke="#e7e0ab" stroke-width="1.0"/>
<line x1="161.5" y1="610.9" x2="162.6" y2="613.1" stroke="#e7e0ab" stroke-width="1.0"/>
<line x1="131.7" y1="616.3" x2="135.1" y2="614.8" stroke="#e7e0ab" stroke-width="1.0"/>
<line x1="131.7" y1="616.3" x2="132.3" y2="620.5" stroke="#e7e0ab" stroke-width="1.0"/>
<line x1="135.1" y1="614.8" x2="140.1" y2="616.9" stroke="#e7e0ab" stroke-width="1.0"/>
<line x1="132.3" y1="620.5" x2="135.1" y2="624.2" stroke="#e7e0ab" stroke-width="1.0"/>
<line x1="135.1" y1="624.2" x2="136.7" y2="623.3" stroke="#e7e0ab" stroke-width="1.0"/>
<line x1="135.1" y1="624.2" x2="129.5" y2="625.7" stroke="#e7e0ab" stroke-width="1.0"/>
<line x1="140.1" y1="616.9" x2="142.0" y2="613.8" stroke="#e7e0ab" stroke-width="1.0"/>
<line x1="140.1" y1="616.9" x2="142.0" y2="621.1" stroke="#e7e0ab" stroke-width="1.0"/>
<line x1="142.0" y1="613.8" x2="146.1" y2="614.9" stroke="#e7e0ab" stroke-width="1.0"/>
<line x1="146.1" y1="614.9" x2="152.4" y2="610.2" stroke="#e7e0ab" stroke-width="1.0"/>
<line x1="142.0" y1="621.1" x2="142.7" y2="622.7" stroke="#e7e0ab" stroke-width="1.0"/>
<line x1="142.7" y1="622.7" x2="145.5" y2="621.5" stroke="#e7e0ab" stroke-width="1.0"/>
<line x1="142.7" y1="622.7" x2="143.9" y2="626.9" stroke="#e7e0ab" stroke-width="1.0"/>
<line x1="145.5" y1="621.5" x2="146.7" y2="623.2" stroke="#e7e0ab" stroke-width="1.0"/>
<line x1="146.7" y1="623.2" x2="153.0" y2="624.4" stroke="#e7e0ab" stroke-width="1.0"/>
<line x1="143.9" y1="626.9" x2="142.3" y2="630.5" stroke="#e7e0ab" stroke-width="1.0"/>
<line x1="142.3" y1="630.5" x2="145.2" y2="632.0" stroke="#e7e0ab" stroke-width="1.0"/>
<line x1="145.2" y1="632.0" x2="146.7" y2="632.2" stroke="#e7e0ab" stroke-width="1.0"/>
<line x1="145.2" y1="632.0" x2="143.3" y2="635.3" stroke="#e7e0ab" stroke-width="1.0"/>
<line x1="143.3" y1="635.3" x2="139.5" y2="634.9" stroke="#e7e0ab" stroke-width="1.0"/>
<line x1="143.3" y1="635.3" x2="142.3" y2="640.5" stroke="#e7e0ab" stroke-width="1.0"/>
<line x1="129.5" y1="625.7" x2="129.5" y2="628.6" stroke="#e7e0ab" stroke-width="1.0"/>
<line x1="129.5" y1="628.6" x2="129.2" y2="631.7" stroke="#e7e0ab" stroke-width="1.0"/>
<line x1="129.2" y1="631.7" x2="132.9" y2="633.6" stroke="#e7e0ab" stroke-width="1.0"/>
<line x1="129.2" y1="631.7" x2="126.3" y2="635.3" stroke="#e7e0ab" stroke-width="1.0"/>
<line x1="126.3" y1="635.3" x2="129.8" y2="637.4" stroke="#e7e0ab" stroke-width="1.0"/>
<line x1="129.8" y1="637.4" x2="132.3" y2="642.2" stroke="#e7e0ab" stroke-width="1.0"/>
<line x1="136.1" y1="639.5" x2="132.3" y2="642.2" stroke="#e7e0ab" stroke-width="1.0"/>
<line x1="153.0" y1="624.4" x2="156.0" y2="628.0" stroke="#e7e0ab" stroke-width="1.0"/>
<line x1="156.0" y1="628.0" x2="157.6" y2="630.3" stroke="#e7e0ab" stroke-width="1.0"/>
<line x1="157.6" y1="630.3" x2="158.5" y2="632.8" stroke="#e7e0ab" stroke-width="1.0"/>
<line x1="158.5" y1="632.8" x2="154.1" y2="637.8" stroke="#e7e0ab" stroke-width="1.0"/>
<line x1="158.5" y1="632.8" x2="173.9" y2="630.3" stroke="#e7e0ab" stroke-width="1.0"/>
<line x1="130.4" y1="643.4" x2="132.3" y2="642.2" stroke="#e7e0ab" stroke-width="1.0"/>
<line x1="130.4" y1="643.4" x2="137.5" y2="651.2" stroke="#e7e0ab" stroke-width="1.0"/>
<line x1="137.5" y1="651.2" x2="147.7" y2="650.2" stroke="#e7e0ab" stroke-width="1.0"/>
<line x1="147.7" y1="650.2" x2="152.1" y2="653.9" stroke="#e7e0ab" stroke-width="1.0"/>
<line x1="152.1" y1="653.9" x2="148.3" y2="664.7" stroke="#e7e0ab" stroke-width="1.0"/>
<line x1="152.1" y1="653.9" x2="155.7" y2="647.6" stroke="#e7e0ab" stroke-width="1.0"/>
<line x1="110.7" y1="610.5" x2="116.9" y2="610.5" stroke="#e8c6e6" stroke-width="1.0"/>
<polyline points="146.0,543.1 139.1,543.5 134.7,545.9 138.0,549.0 141.2,551.4 139.6,556.7 146.5,558.9 151.2,559.8 155.2,563.0 155.3,567.7 157.1,572.3 160.5,572.5 163.0,573.8 163.6,578.0" fill="none" stroke="#7b7b7b" stroke-width="1.0" stroke-linejoin="round"/>
<polyline points="163.6,578.0 156.8,578.9 148.7,580.5 147.2,581.7 142.1,580.2 137.7,583.6 134.0,582.5 130.9,586.5 130.3,586.6 126.6,587.9 122.8,587.5 120.3,588.7 117.8,588.7 114.6,588.3 110.5,587.1 108.4,587.5 105.2,588.7 102.7,590.4 99.8,593.9 97.7,594.3 94.6,594.5 92.1,593.7 90.2,593.7 88.0,593.2 87.1,592.0 85.9,589.8 88.4,587.2 84.9,584.4 83.1,583.0 80.9,581.6 77.1,583.6 73.7,586.0 73.6,589.5 72.9,592.4 73.3,597.0 74.5,599.6 75.8,600.8 74.2,606.3 71.8,612.1 70.1,616.4" fill="none" stroke="#7b7b7b" stroke-width="1.0" stroke-linejoin="round"/>
<polyline points="70.1,616.4 70.4,618.6 76.7,620.4 81.4,621.9 84.6,621.9 90.2,619.4 92.4,621.9 98.3,619.7 97.9,626.3 93.3,630.8 95.5,635.7 97.3,640.1 101.7,642.2 105.1,641.0 109.2,637.2 112.7,633.8 116.4,635.9 118.6,635.1 122.1,634.8 124.2,633.8 126.4,635.4 129.8,637.4 132.0,642.6 135.4,640.5 137.7,637.4 139.5,634.9 143.3,635.4 143.9,632.4 142.3,630.6 143.0,629.5 143.9,626.9 142.7,624.8 142.7,621.0 141.4,618.6 141.1,615.6 142.0,613.8 143.9,614.3 146.1,614.9 147.7,613.8 153.9,610.8 156.0,609.3 161.4,611.9 162.9,613.1 168.3,607.9" fill="none" stroke="#7b7b7b" stroke-width="1.0" stroke-linejoin="round"/>
<circle cx="70.0" cy="569.3" r="1.7" fill="#bd2b3e" stroke="none" stroke-width="0"/>
<circle cx="72.9" cy="569.3" r="1.7" fill="#bd2b3e" stroke="none" stroke-width="0"/>
<circle cx="77.0" cy="573.4" r="1.7" fill="#bd2b3e" stroke="none" stroke-width="0"/>
<circle cx="66.6" cy="574.7" r="1.7" fill="#bd2b3e" stroke="none" stroke-width="0"/>
<circle cx="70.6" cy="576.3" r="1.7" fill="#bd2b3e" stroke="none" stroke-width="0"/>
<circle cx="83.7" cy="579.7" r="1.7" fill="#bd2b3e" stroke="none" stroke-width="0"/>
<circle cx="89.9" cy="578.0" r="1.7" fill="#bd2b3e" stroke="none" stroke-width="0"/>
<circle cx="58.9" cy="583.8" r="1.7" fill="#bd2b3e" stroke="none" stroke-width="0"/>
<circle cx="67.3" cy="583.8" r="1.7" fill="#bd2b3e" stroke="none" stroke-width="0"/>
<circle cx="70.6" cy="583.8" r="1.7" fill="#bd2b3e" stroke="none" stroke-width="0"/>
<circle cx="54.9" cy="588.5" r="1.7" fill="#bd2b3e" stroke="none" stroke-width="0"/>
<circle cx="56.5" cy="591.8" r="1.7" fill="#bd2b3e" stroke="none" stroke-width="0"/>
<circle cx="64.6" cy="588.5" r="1.7" fill="#bd2b3e" stroke="none" stroke-width="0"/>
<circle cx="63.2" cy="591.2" r="1.7" fill="#bd2b3e" stroke="none" stroke-width="0"/>
<circle cx="63.9" cy="593.2" r="1.7" fill="#bd2b3e" stroke="none" stroke-width="0"/>
<circle cx="69.3" cy="590.9" r="1.7" fill="#bd2b3e" stroke="none" stroke-width="0"/>
<circle cx="71.3" cy="590.9" r="1.7" fill="#bd2b3e" stroke="none" stroke-width="0"/>
<circle cx="77.4" cy="587.1" r="1.7" fill="#bd2b3e" stroke="none" stroke-width="0"/>
<circle cx="80.1" cy="587.8" r="1.7" fill="#bd2b3e" stroke="none" stroke-width="0"/>
<circle cx="82.1" cy="593.2" r="1.7" fill="#bd2b3e" stroke="none" stroke-width="0"/>
<circle cx="83.4" cy="594.5" r="1.7" fill="#bd2b3e" stroke="none" stroke-width="0"/>
<circle cx="91.5" cy="590.1" r="1.7" fill="#bd2b3e" stroke="none" stroke-width="0"/>
<circle cx="69.3" cy="594.5" r="1.7" fill="#bd2b3e" stroke="none" stroke-width="0"/>
<circle cx="70.0" cy="596.5" r="1.7" fill="#bd2b3e" stroke="none" stroke-width="0"/>
<circle cx="81.4" cy="583.8" r="1.7" fill="#bd2b3e" stroke="none" stroke-width="0"/>
<circle cx="64.6" cy="567.6" r="1.7" fill="#2b7a78" stroke="none" stroke-width="0"/>
<circle cx="80.1" cy="568.3" r="1.7" fill="#2b7a78" stroke="none" stroke-width="0"/>
<circle cx="103.6" cy="556.8" r="1.7" fill="#2b7a78" stroke="none" stroke-width="0"/>
<circle cx="102.3" cy="562.2" r="1.7" fill="#2b7a78" stroke="none" stroke-width="0"/>
<circle cx="104.3" cy="573.0" r="1.7" fill="#2b7a78" stroke="none" stroke-width="0"/>
<circle cx="99.6" cy="579.7" r="1.7" fill="#2b7a78" stroke="none" stroke-width="0"/>
<circle cx="107.7" cy="571.6" r="1.7" fill="#2b7a78" stroke="none" stroke-width="0"/>
<circle cx="88.1" cy="576.3" r="1.7" fill="#2b7a78" stroke="none" stroke-width="0"/>
<circle cx="75.3" cy="579.0" r="1.7" fill="#2b7a78" stroke="none" stroke-width="0"/>
<circle cx="77.4" cy="578.4" r="1.7" fill="#2b7a78" stroke="none" stroke-width="0"/>
<circle cx="79.4" cy="581.7" r="1.7" fill="#2b7a78" stroke="none" stroke-width="0"/>
<circle cx="74.7" cy="583.1" r="1.7" fill="#2b7a78" stroke="none" stroke-width="0"/>
<circle cx="81.4" cy="580.4" r="1.7" fill="#2b7a78" stroke="none" stroke-width="0"/>
<circle cx="84.8" cy="586.4" r="1.7" fill="#2b7a78" stroke="none" stroke-width="0"/>
<circle cx="88.1" cy="581.7" r="1.7" fill="#2b7a78" stroke="none" stroke-width="0"/>
<circle cx="76.0" cy="593.8" r="1.7" fill="#2b7a78" stroke="none" stroke-width="0"/>
<circle cx="75.3" cy="595.9" r="1.7" fill="#2b7a78" stroke="none" stroke-width="0"/>
<circle cx="59.2" cy="591.2" r="1.7" fill="#2b7a78" stroke="none" stroke-width="0"/>
<circle cx="85.4" cy="592.5" r="1.7" fill="#2b7a78" stroke="none" stroke-width="0"/>
<circle cx="95.5" cy="592.5" r="1.7" fill="#2b7a78" stroke="none" stroke-width="0"/>
<circle cx="102.3" cy="590.5" r="1.7" fill="#2b7a78" stroke="none" stroke-width="0"/>
<circle cx="100.9" cy="587.8" r="1.7" fill="#2b7a78" stroke="none" stroke-width="0"/>
<circle cx="106.3" cy="587.8" r="1.7" fill="#2b7a78" stroke="none" stroke-width="0"/>
<circle cx="67.3" cy="575.7" r="1.7" fill="#2b7a78" stroke="none" stroke-width="0"/>
<circle cx="57.2" cy="598.6" r="1.7" fill="#2b7a78" stroke="none" stroke-width="0"/>
<circle cx="59.9" cy="599.2" r="1.7" fill="#2b7a78" stroke="none" stroke-width="0"/>
<circle cx="57.2" cy="599.3" r="1.7" fill="#bd2b3e" stroke="none" stroke-width="0"/>
<circle cx="61.2" cy="600.1" r="1.7" fill="#bd2b3e" stroke="none" stroke-width="0"/>
<circle cx="65.9" cy="601.7" r="1.7" fill="#bd2b3e" stroke="none" stroke-width="0"/>
<circle cx="62.6" cy="604.2" r="1.7" fill="#bd2b3e" stroke="none" stroke-width="0"/>
<circle cx="67.3" cy="605.5" r="1.7" fill="#bd2b3e" stroke="none" stroke-width="0"/>
<circle cx="78.0" cy="601.1" r="1.7" fill="#bd2b3e" stroke="none" stroke-width="0"/>
<circle cx="57.2" cy="608.7" r="1.7" fill="#bd2b3e" stroke="none" stroke-width="0"/>
<circle cx="62.6" cy="609.1" r="1.7" fill="#bd2b3e" stroke="none" stroke-width="0"/>
<circle cx="59.2" cy="613.8" r="1.7" fill="#bd2b3e" stroke="none" stroke-width="0"/>
<circle cx="63.2" cy="613.6" r="1.7" fill="#bd2b3e" stroke="none" stroke-width="0"/>
<circle cx="65.2" cy="614.9" r="1.7" fill="#bd2b3e" stroke="none" stroke-width="0"/>
<circle cx="69.7" cy="612.2" r="1.7" fill="#bd2b3e" stroke="none" stroke-width="0"/>
<circle cx="80.1" cy="608.7" r="1.7" fill="#bd2b3e" stroke="none" stroke-width="0"/>
<circle cx="70.6" cy="619.9" r="1.7" fill="#bd2b3e" stroke="none" stroke-width="0"/>
<circle cx="68.6" cy="621.9" r="1.7" fill="#bd2b3e" stroke="none" stroke-width="0"/>
<circle cx="71.3" cy="632.0" r="1.7" fill="#bd2b3e" stroke="none" stroke-width="0"/>
<circle cx="70.0" cy="600.1" r="1.7" fill="#2b7a78" stroke="none" stroke-width="0"/>
<circle cx="76.7" cy="599.0" r="1.7" fill="#2b7a78" stroke="none" stroke-width="0"/>
<circle cx="77.4" cy="602.4" r="1.7" fill="#2b7a78" stroke="none" stroke-width="0"/>
<circle cx="76.0" cy="605.1" r="1.7" fill="#2b7a78" stroke="none" stroke-width="0"/>
<circle cx="68.6" cy="605.1" r="1.7" fill="#2b7a78" stroke="none" stroke-width="0"/>
<circle cx="65.2" cy="607.8" r="1.7" fill="#2b7a78" stroke="none" stroke-width="0"/>
<circle cx="65.9" cy="610.5" r="1.7" fill="#2b7a78" stroke="none" stroke-width="0"/>
<circle cx="86.1" cy="600.1" r="1.7" fill="#2b7a78" stroke="none" stroke-width="0"/>
<circle cx="63.9" cy="621.7" r="1.7" fill="#2b7a78" stroke="none" stroke-width="0"/>
<circle cx="74.7" cy="638.1" r="1.7" fill="#2b7a78" stroke="none" stroke-width="0"/>
<circle cx="78.0" cy="638.1" r="1.7" fill="#2b7a78" stroke="none" stroke-width="0"/>
<circle cx="80.5" cy="642.8" r="1.7" fill="#2b7a78" stroke="none" stroke-width="0"/>
<circle cx="122.6" cy="557.8" r="1.7" fill="#bd2b3e" stroke="none" stroke-width="0"/>
<circle cx="123.4" cy="580.9" r="1.7" fill="#bd2b3e" stroke="none" stroke-width="0"/>
<circle cx="106.5" cy="587.8" r="1.7" fill="#bd2b3e" stroke="none" stroke-width="0"/>
<circle cx="142.3" cy="578.1" r="1.7" fill="#bd2b3e" stroke="none" stroke-width="0"/>
<circle cx="126.2" cy="550.2" r="1.7" fill="#2b7a78" stroke="none" stroke-width="0"/>
<circle cx="141.7" cy="552.6" r="1.7" fill="#2b7a78" stroke="none" stroke-width="0"/>
<circle cx="151.7" cy="557.8" r="1.7" fill="#2b7a78" stroke="none" stroke-width="0"/>
<circle cx="157.3" cy="550.2" r="1.7" fill="#2b7a78" stroke="none" stroke-width="0"/>
<circle cx="164.6" cy="550.2" r="1.7" fill="#2b7a78" stroke="none" stroke-width="0"/>
<circle cx="173.5" cy="557.5" r="1.7" fill="#2b7a78" stroke="none" stroke-width="0"/>
<circle cx="166.2" cy="559.1" r="1.7" fill="#2b7a78" stroke="none" stroke-width="0"/>
<circle cx="167.0" cy="560.7" r="1.7" fill="#2b7a78" stroke="none" stroke-width="0"/>
<circle cx="138.4" cy="562.3" r="1.7" fill="#2b7a78" stroke="none" stroke-width="0"/>
<circle cx="143.3" cy="561.0" r="1.7" fill="#2b7a78" stroke="none" stroke-width="0"/>
<circle cx="138.8" cy="564.7" r="1.7" fill="#2b7a78" stroke="none" stroke-width="0"/>
<circle cx="142.8" cy="563.9" r="1.7" fill="#2b7a78" stroke="none" stroke-width="0"/>
<circle cx="153.3" cy="564.7" r="1.7" fill="#2b7a78" stroke="none" stroke-width="0"/>
<circle cx="156.5" cy="562.3" r="1.7" fill="#2b7a78" stroke="none" stroke-width="0"/>
<circle cx="158.2" cy="568.8" r="1.7" fill="#2b7a78" stroke="none" stroke-width="0"/>
<circle cx="153.3" cy="569.6" r="1.7" fill="#2b7a78" stroke="none" stroke-width="0"/>
<circle cx="159.8" cy="566.3" r="1.7" fill="#2b7a78" stroke="none" stroke-width="0"/>
<circle cx="161.4" cy="566.3" r="1.7" fill="#2b7a78" stroke="none" stroke-width="0"/>
<circle cx="160.6" cy="568.8" r="1.7" fill="#2b7a78" stroke="none" stroke-width="0"/>
<circle cx="163.0" cy="568.8" r="1.7" fill="#2b7a78" stroke="none" stroke-width="0"/>
<circle cx="164.6" cy="565.5" r="1.7" fill="#2b7a78" stroke="none" stroke-width="0"/>
<circle cx="167.0" cy="567.5" r="1.7" fill="#2b7a78" stroke="none" stroke-width="0"/>
<circle cx="162.2" cy="570.4" r="1.7" fill="#2b7a78" stroke="none" stroke-width="0"/>
<circle cx="159.0" cy="564.2" r="1.7" fill="#2b7a78" stroke="none" stroke-width="0"/>
<circle cx="114.9" cy="569.6" r="1.7" fill="#2b7a78" stroke="none" stroke-width="0"/>
<circle cx="108.9" cy="573.3" r="1.7" fill="#2b7a78" stroke="none" stroke-width="0"/>
<circle cx="129.1" cy="571.2" r="1.7" fill="#2b7a78" stroke="none" stroke-width="0"/>
<circle cx="132.3" cy="573.6" r="1.7" fill="#2b7a78" stroke="none" stroke-width="0"/>
<circle cx="128.8" cy="576.8" r="1.7" fill="#2b7a78" stroke="none" stroke-width="0"/>
<circle cx="118.1" cy="578.8" r="1.7" fill="#2b7a78" stroke="none" stroke-width="0"/>
<circle cx="142.8" cy="572.0" r="1.7" fill="#2b7a78" stroke="none" stroke-width="0"/>
<circle cx="146.8" cy="571.7" r="1.7" fill="#2b7a78" stroke="none" stroke-width="0"/>
<circle cx="141.2" cy="576.0" r="1.7" fill="#2b7a78" stroke="none" stroke-width="0"/>
<circle cx="143.6" cy="576.8" r="1.7" fill="#2b7a78" stroke="none" stroke-width="0"/>
<circle cx="133.9" cy="579.3" r="1.7" fill="#2b7a78" stroke="none" stroke-width="0"/>
<circle cx="134.7" cy="582.5" r="1.7" fill="#2b7a78" stroke="none" stroke-width="0"/>
<circle cx="138.8" cy="578.5" r="1.7" fill="#2b7a78" stroke="none" stroke-width="0"/>
<circle cx="152.5" cy="573.6" r="1.7" fill="#2b7a78" stroke="none" stroke-width="0"/>
<circle cx="151.7" cy="579.3" r="1.7" fill="#2b7a78" stroke="none" stroke-width="0"/>
<circle cx="156.5" cy="581.7" r="1.7" fill="#2b7a78" stroke="none" stroke-width="0"/>
<circle cx="153.3" cy="588.2" r="1.7" fill="#2b7a78" stroke="none" stroke-width="0"/>
<circle cx="147.7" cy="592.2" r="1.7" fill="#2b7a78" stroke="none" stroke-width="0"/>
<circle cx="100.8" cy="591.4" r="1.7" fill="#2b7a78" stroke="none" stroke-width="0"/>
<circle cx="114.5" cy="589.0" r="1.7" fill="#2b7a78" stroke="none" stroke-width="0"/>
<circle cx="124.2" cy="594.6" r="1.7" fill="#2b7a78" stroke="none" stroke-width="0"/>
<circle cx="125.8" cy="596.2" r="1.7" fill="#2b7a78" stroke="none" stroke-width="0"/>
<circle cx="111.3" cy="595.4" r="1.7" fill="#2b7a78" stroke="none" stroke-width="0"/>
<circle cx="133.9" cy="605.5" r="1.7" fill="#2b7a78" stroke="none" stroke-width="0"/>
<circle cx="152.0" cy="616.8" r="1.7" fill="#2b7a78" stroke="none" stroke-width="0"/>
</g>
<rect x="39.20" y="516.30" width="144.20" height="155.70" fill="none" stroke="#111" stroke-width="1.45"/>
<line x1="44.5" y1="672.7" x2="44.5" y2="675.5" stroke="#111" stroke-width="1"/>
<text x="42.11" y="685.90" font-size="8.6" font-weight="normal" fill="#1a1a1a" stroke="#1a1a1a" stroke-width="0.22" textLength="4.78" lengthAdjust="spacingAndGlyphs">0</text>
<line x1="74.5" y1="672.7" x2="74.5" y2="675.5" stroke="#111" stroke-width="1"/>
<text x="72.09" y="685.90" font-size="8.6" font-weight="normal" fill="#1a1a1a" stroke="#1a1a1a" stroke-width="0.22" textLength="4.78" lengthAdjust="spacingAndGlyphs">5</text>
<line x1="104.5" y1="672.7" x2="104.5" y2="675.5" stroke="#111" stroke-width="1"/>
<text x="99.68" y="685.90" font-size="8.6" font-weight="normal" fill="#1a1a1a" stroke="#1a1a1a" stroke-width="0.22" textLength="9.57" lengthAdjust="spacingAndGlyphs">10</text>
<line x1="134.4" y1="672.7" x2="134.4" y2="675.5" stroke="#111" stroke-width="1"/>
<text x="129.65" y="685.90" font-size="8.6" font-weight="normal" fill="#1a1a1a" stroke="#1a1a1a" stroke-width="0.22" textLength="9.57" lengthAdjust="spacingAndGlyphs">15</text>
<line x1="164.4" y1="672.7" x2="164.4" y2="675.5" stroke="#111" stroke-width="1"/>
<text x="159.63" y="685.90" font-size="8.6" font-weight="normal" fill="#1a1a1a" stroke="#1a1a1a" stroke-width="0.22" textLength="9.57" lengthAdjust="spacingAndGlyphs">20</text>
<g clip-path="url(#cpC2)">
<line x1="226.0" y1="527.0" x2="208.8" y2="550.6" stroke="#eac6d1" stroke-width="1.0"/>
<line x1="208.8" y1="550.6" x2="217.3" y2="554.5" stroke="#eac6d1" stroke-width="1.0"/>
<line x1="217.3" y1="554.5" x2="212.4" y2="561.7" stroke="#eac6d1" stroke-width="1.0"/>
<line x1="212.4" y1="561.7" x2="215.4" y2="565.1" stroke="#eac6d1" stroke-width="1.0"/>
<line x1="221.1" y1="562.3" x2="227.1" y2="557.1" stroke="#eac6d1" stroke-width="1.0"/>
<line x1="221.1" y1="562.3" x2="215.4" y2="565.1" stroke="#eac6d1" stroke-width="1.0"/>
<line x1="227.1" y1="557.1" x2="229.8" y2="557.0" stroke="#eac6d1" stroke-width="1.0"/>
<line x1="229.8" y1="557.0" x2="231.7" y2="557.0" stroke="#eac6d1" stroke-width="1.0"/>
<line x1="231.7" y1="557.0" x2="242.9" y2="555.4" stroke="#eac6d1" stroke-width="1.0"/>
<line x1="210.2" y1="567.2" x2="214.3" y2="565.9" stroke="#eac6d1" stroke-width="1.0"/>
<line x1="214.3" y1="565.9" x2="215.4" y2="565.1" stroke="#eac6d1" stroke-width="1.0"/>
<line x1="214.3" y1="565.9" x2="218.5" y2="570.4" stroke="#eac6d1" stroke-width="1.0"/>
<line x1="226.4" y1="566.9" x2="224.7" y2="569.8" stroke="#eac6d1" stroke-width="1.0"/>
<line x1="226.4" y1="566.9" x2="230.7" y2="569.2" stroke="#eac6d1" stroke-width="1.0"/>
<line x1="234.8" y1="565.9" x2="237.2" y2="567.9" stroke="#eac6d1" stroke-width="1.0"/>
<line x1="222.8" y1="568.7" x2="224.7" y2="569.8" stroke="#eac6d1" stroke-width="1.0"/>
<line x1="222.8" y1="568.7" x2="218.5" y2="570.4" stroke="#eac6d1" stroke-width="1.0"/>
<line x1="218.5" y1="570.4" x2="220.6" y2="572.8" stroke="#eac6d1" stroke-width="1.0"/>
<line x1="197.5" y1="571.2" x2="200.1" y2="576.1" stroke="#eac6d1" stroke-width="1.0"/>
<line x1="208.8" y1="573.4" x2="212.4" y2="575.9" stroke="#eac6d1" stroke-width="1.0"/>
<line x1="220.6" y1="572.8" x2="223.1" y2="574.8" stroke="#bae1e1" stroke-width="1.0"/>
<line x1="230.7" y1="569.2" x2="233.2" y2="570.0" stroke="#eac6d1" stroke-width="1.0"/>
<line x1="233.2" y1="570.0" x2="237.2" y2="567.9" stroke="#e8c6e6" stroke-width="1.0"/>
<line x1="233.2" y1="570.0" x2="232.4" y2="572.6" stroke="#e8c6e6" stroke-width="1.0"/>
<line x1="235.3" y1="572.1" x2="232.4" y2="572.6" stroke="#eac6d1" stroke-width="1.0"/>
<line x1="235.3" y1="572.1" x2="237.2" y2="575.4" stroke="#eac6d1" stroke-width="1.0"/>
<line x1="242.9" y1="555.4" x2="247.4" y2="559.7" stroke="#e8c6e6" stroke-width="1.0"/>
<line x1="271.9" y1="546.7" x2="276.6" y2="555.2" stroke="#e8c6e6" stroke-width="1.0"/>
<line x1="276.6" y1="555.2" x2="283.7" y2="552.9" stroke="#e8c6e6" stroke-width="1.0"/>
<line x1="283.7" y1="552.9" x2="292.0" y2="552.1" stroke="#e8c6e6" stroke-width="1.0"/>
<line x1="264.8" y1="565.2" x2="275.0" y2="566.0" stroke="#e8c6e6" stroke-width="1.0"/>
<line x1="275.0" y1="566.0" x2="275.5" y2="567.6" stroke="#e8c6e6" stroke-width="1.0"/>
<line x1="275.5" y1="567.6" x2="276.1" y2="570.2" stroke="#e8c6e6" stroke-width="1.0"/>
<line x1="280.2" y1="566.6" x2="284.5" y2="567.2" stroke="#e8c6e6" stroke-width="1.0"/>
<line x1="280.2" y1="566.6" x2="278.7" y2="570.2" stroke="#e8c6e6" stroke-width="1.0"/>
<line x1="284.5" y1="567.2" x2="286.1" y2="567.6" stroke="#e8c6e6" stroke-width="1.0"/>
<line x1="298.2" y1="538.2" x2="291.3" y2="538.6" stroke="#e8c6e6" stroke-width="1.0"/>
<line x1="291.3" y1="538.6" x2="286.8" y2="541.1" stroke="#e8c6e6" stroke-width="1.0"/>
<line x1="286.8" y1="541.1" x2="293.5" y2="546.9" stroke="#e8c6e6" stroke-width="1.0"/>
<line x1="293.5" y1="546.9" x2="292.0" y2="552.1" stroke="#e8c6e6" stroke-width="1.0"/>
<line x1="292.0" y1="552.1" x2="298.9" y2="554.8" stroke="#e8c6e6" stroke-width="1.0"/>
<line x1="298.9" y1="554.8" x2="303.7" y2="555.5" stroke="#e8c6e6" stroke-width="1.0"/>
<line x1="303.7" y1="555.5" x2="307.4" y2="559.1" stroke="#e8c6e6" stroke-width="1.0"/>
<line x1="307.4" y1="559.1" x2="307.2" y2="563.4" stroke="#e8c6e6" stroke-width="1.0"/>
<line x1="307.4" y1="559.1" x2="310.3" y2="553.6" stroke="#e8c6e6" stroke-width="1.0"/>
<line x1="307.2" y1="563.4" x2="306.6" y2="565.0" stroke="#e8c6e6" stroke-width="1.0"/>
<line x1="308.4" y1="549.7" x2="310.3" y2="553.6" stroke="#e8c6e6" stroke-width="1.0"/>
<line x1="319.5" y1="517.6" x2="323.0" y2="522.5" stroke="#e8c6e6" stroke-width="1.0"/>
<line x1="323.0" y1="522.5" x2="324.0" y2="541.8" stroke="#e8c6e6" stroke-width="1.0"/>
<line x1="324.0" y1="541.8" x2="323.4" y2="549.7" stroke="#e8c6e6" stroke-width="1.0"/>
<line x1="323.4" y1="549.7" x2="333.4" y2="555.1" stroke="#e8c6e6" stroke-width="1.0"/>
<line x1="333.4" y1="555.1" x2="324.2" y2="561.0" stroke="#e8c6e6" stroke-width="1.0"/>
<line x1="324.2" y1="561.0" x2="316.3" y2="560.1" stroke="#e8c6e6" stroke-width="1.0"/>
<line x1="324.2" y1="561.0" x2="324.1" y2="562.7" stroke="#e8c6e6" stroke-width="1.0"/>
<line x1="316.3" y1="560.1" x2="315.2" y2="563.6" stroke="#e8c6e6" stroke-width="1.0"/>
<line x1="315.2" y1="563.6" x2="312.8" y2="568.6" stroke="#e8c6e6" stroke-width="1.0"/>
<line x1="212.4" y1="575.9" x2="212.6" y2="579.8" stroke="#eac6d1" stroke-width="1.0"/>
<line x1="214.3" y1="584.1" x2="214.5" y2="579.8" stroke="#eac6d1" stroke-width="1.0"/>
<line x1="214.3" y1="584.1" x2="217.0" y2="585.5" stroke="#eac6d1" stroke-width="1.0"/>
<line x1="219.7" y1="584.1" x2="217.0" y2="585.5" stroke="#eac6d1" stroke-width="1.0"/>
<line x1="222.7" y1="580.1" x2="223.9" y2="579.5" stroke="#eac6d1" stroke-width="1.0"/>
<line x1="200.1" y1="576.1" x2="202.2" y2="581.5" stroke="#bae1e1" stroke-width="1.0"/>
<line x1="202.2" y1="581.5" x2="208.8" y2="581.3" stroke="#bae1e1" stroke-width="1.0"/>
<line x1="208.8" y1="581.3" x2="212.6" y2="579.8" stroke="#bae1e1" stroke-width="1.0"/>
<line x1="212.6" y1="579.8" x2="214.5" y2="579.8" stroke="#bae1e1" stroke-width="1.0"/>
<line x1="217.0" y1="585.5" x2="216.1" y2="587.2" stroke="#bae1e1" stroke-width="1.0"/>
<line x1="216.1" y1="587.2" x2="218.1" y2="589.1" stroke="#bae1e1" stroke-width="1.0"/>
<line x1="212.0" y1="589.1" x2="212.9" y2="591.1" stroke="#bae1e1" stroke-width="1.0"/>
<line x1="212.0" y1="589.1" x2="206.6" y2="590.5" stroke="#bae1e1" stroke-width="1.0"/>
<line x1="212.9" y1="591.1" x2="214.8" y2="591.1" stroke="#bae1e1" stroke-width="1.0"/>
<line x1="214.8" y1="591.1" x2="218.1" y2="589.1" stroke="#bae1e1" stroke-width="1.0"/>
<line x1="206.6" y1="590.5" x2="202.1" y2="592.0" stroke="#bae1e1" stroke-width="1.0"/>
<line x1="206.2" y1="596.8" x2="209.8" y2="594.8" stroke="#bae1e1" stroke-width="1.0"/>
<line x1="209.8" y1="594.8" x2="211.6" y2="595.0" stroke="#bae1e1" stroke-width="1.0"/>
<line x1="211.6" y1="595.0" x2="213.9" y2="594.8" stroke="#bae1e1" stroke-width="1.0"/>
<line x1="213.9" y1="594.8" x2="215.4" y2="595.0" stroke="#bae1e1" stroke-width="1.0"/>
<line x1="215.4" y1="595.0" x2="217.3" y2="595.0" stroke="#bae1e1" stroke-width="1.0"/>
<line x1="217.3" y1="595.0" x2="219.2" y2="595.0" stroke="#bae1e1" stroke-width="1.0"/>
<line x1="219.2" y1="595.0" x2="220.5" y2="598.5" stroke="#bae1e1" stroke-width="1.0"/>
<line x1="219.2" y1="595.0" x2="221.9" y2="593.6" stroke="#bae1e1" stroke-width="1.0"/>
<line x1="211.3" y1="600.2" x2="215.1" y2="599.4" stroke="#bae1e1" stroke-width="1.0"/>
<line x1="215.1" y1="599.4" x2="217.3" y2="598.9" stroke="#bae1e1" stroke-width="1.0"/>
<line x1="217.3" y1="598.9" x2="218.9" y2="598.9" stroke="#bae1e1" stroke-width="1.0"/>
<line x1="218.9" y1="598.9" x2="220.5" y2="598.5" stroke="#bae1e1" stroke-width="1.0"/>
<line x1="220.5" y1="598.5" x2="222.0" y2="599.4" stroke="#bae1e1" stroke-width="1.0"/>
<line x1="222.0" y1="599.4" x2="223.8" y2="599.2" stroke="#bae1e1" stroke-width="1.0"/>
<line x1="221.1" y1="589.8" x2="218.1" y2="589.1" stroke="#bae1e1" stroke-width="1.0"/>
<line x1="221.1" y1="589.8" x2="223.8" y2="590.6" stroke="#bae1e1" stroke-width="1.0"/>
<line x1="202.2" y1="602.8" x2="206.2" y2="607.2" stroke="#bae1e1" stroke-width="1.0"/>
<line x1="217.3" y1="603.7" x2="219.5" y2="603.3" stroke="#bae1e1" stroke-width="1.0"/>
<line x1="219.5" y1="603.3" x2="220.7" y2="604.0" stroke="#bae1e1" stroke-width="1.0"/>
<line x1="223.1" y1="574.8" x2="223.9" y2="579.5" stroke="#e8c6e6" stroke-width="1.0"/>
<line x1="210.4" y1="606.7" x2="212.2" y2="608.5" stroke="#bae1e1" stroke-width="1.0"/>
<line x1="210.4" y1="606.7" x2="206.2" y2="607.2" stroke="#bae1e1" stroke-width="1.0"/>
<line x1="212.2" y1="608.5" x2="213.5" y2="611.2" stroke="#bae1e1" stroke-width="1.0"/>
<line x1="213.5" y1="611.2" x2="215.1" y2="611.9" stroke="#bae1e1" stroke-width="1.0"/>
<line x1="213.5" y1="611.2" x2="209.6" y2="613.4" stroke="#bae1e1" stroke-width="1.0"/>
<line x1="215.1" y1="611.9" x2="216.7" y2="609.9" stroke="#bae1e1" stroke-width="1.0"/>
<line x1="215.1" y1="611.9" x2="217.6" y2="614.9" stroke="#bae1e1" stroke-width="1.0"/>
<line x1="216.7" y1="609.9" x2="221.3" y2="610.5" stroke="#bae1e1" stroke-width="1.0"/>
<line x1="217.6" y1="614.9" x2="212.8" y2="618.4" stroke="#bae1e1" stroke-width="1.0"/>
<line x1="217.6" y1="614.9" x2="222.4" y2="616.5" stroke="#bae1e1" stroke-width="1.0"/>
<line x1="221.1" y1="625.0" x2="227.5" y2="629.1" stroke="#bae1e1" stroke-width="1.0"/>
<line x1="222.4" y1="616.5" x2="228.6" y2="618.3" stroke="#bae1e1" stroke-width="1.0"/>
<line x1="222.0" y1="634.3" x2="223.3" y2="632.1" stroke="#bae1e1" stroke-width="1.0"/>
<line x1="222.0" y1="634.3" x2="224.8" y2="641.3" stroke="#bae1e1" stroke-width="1.0"/>
<line x1="218.9" y1="606.0" x2="220.7" y2="604.0" stroke="#bae1e1" stroke-width="1.0"/>
<line x1="221.7" y1="606.9" x2="222.4" y2="609.5" stroke="#bae1e1" stroke-width="1.0"/>
<line x1="221.7" y1="606.9" x2="222.6" y2="604.5" stroke="#bae1e1" stroke-width="1.0"/>
<line x1="221.7" y1="606.9" x2="223.8" y2="607.1" stroke="#bae1e1" stroke-width="1.0"/>
<line x1="222.4" y1="609.5" x2="221.3" y2="610.5" stroke="#bae1e1" stroke-width="1.0"/>
<line x1="223.0" y1="611.2" x2="221.3" y2="610.5" stroke="#bae1e1" stroke-width="1.0"/>
<line x1="223.3" y1="632.1" x2="226.0" y2="632.7" stroke="#c4e2b6" stroke-width="1.0"/>
<line x1="225.4" y1="586.2" x2="229.2" y2="583.6" stroke="#eac6d1" stroke-width="1.0"/>
<line x1="225.4" y1="586.2" x2="223.8" y2="590.6" stroke="#eac6d1" stroke-width="1.0"/>
<line x1="234.2" y1="584.6" x2="229.2" y2="583.6" stroke="#eac6d1" stroke-width="1.0"/>
<line x1="234.2" y1="584.6" x2="237.7" y2="586.2" stroke="#eac6d1" stroke-width="1.0"/>
<line x1="239.9" y1="590.6" x2="237.7" y2="586.2" stroke="#eac6d1" stroke-width="1.0"/>
<line x1="239.9" y1="590.6" x2="244.1" y2="590.2" stroke="#eac6d1" stroke-width="1.0"/>
<line x1="237.1" y1="581.4" x2="238.4" y2="581.7" stroke="#eac6d1" stroke-width="1.0"/>
<line x1="240.5" y1="605.8" x2="244.0" y2="604.5" stroke="#eac6d1" stroke-width="1.0"/>
<line x1="229.2" y1="583.6" x2="229.0" y2="580.1" stroke="#bae1e1" stroke-width="1.0"/>
<line x1="223.8" y1="590.6" x2="221.9" y2="593.6" stroke="#bae1e1" stroke-width="1.0"/>
<line x1="221.9" y1="593.6" x2="224.5" y2="594.0" stroke="#bae1e1" stroke-width="1.0"/>
<line x1="224.5" y1="594.0" x2="227.9" y2="593.2" stroke="#bae1e1" stroke-width="1.0"/>
<line x1="227.9" y1="593.2" x2="231.1" y2="594.9" stroke="#bae1e1" stroke-width="1.0"/>
<line x1="231.1" y1="594.9" x2="233.9" y2="597.1" stroke="#bae1e1" stroke-width="1.0"/>
<line x1="231.1" y1="594.9" x2="233.3" y2="590.1" stroke="#bae1e1" stroke-width="1.0"/>
<line x1="241.5" y1="594.7" x2="244.0" y2="593.2" stroke="#bae1e1" stroke-width="1.0"/>
<line x1="244.0" y1="593.2" x2="245.3" y2="592.3" stroke="#bae1e1" stroke-width="1.0"/>
<line x1="223.8" y1="599.2" x2="226.4" y2="599.2" stroke="#bae1e1" stroke-width="1.0"/>
<line x1="226.4" y1="599.2" x2="228.6" y2="600.6" stroke="#bae1e1" stroke-width="1.0"/>
<line x1="226.4" y1="599.2" x2="227.6" y2="597.3" stroke="#bae1e1" stroke-width="1.0"/>
<line x1="228.6" y1="600.6" x2="229.8" y2="599.7" stroke="#bae1e1" stroke-width="1.0"/>
<line x1="228.6" y1="600.6" x2="227.0" y2="602.3" stroke="#bae1e1" stroke-width="1.0"/>
<line x1="230.4" y1="603.6" x2="227.0" y2="602.3" stroke="#bae1e1" stroke-width="1.0"/>
<line x1="227.0" y1="602.3" x2="225.0" y2="603.8" stroke="#bae1e1" stroke-width="1.0"/>
<line x1="220.7" y1="604.0" x2="222.6" y2="604.5" stroke="#bae1e1" stroke-width="1.0"/>
<line x1="222.6" y1="604.5" x2="225.0" y2="603.8" stroke="#bae1e1" stroke-width="1.0"/>
<line x1="223.8" y1="607.1" x2="225.7" y2="607.9" stroke="#bae1e1" stroke-width="1.0"/>
<line x1="225.7" y1="607.9" x2="227.6" y2="609.2" stroke="#bae1e1" stroke-width="1.0"/>
<line x1="227.6" y1="609.2" x2="229.2" y2="609.7" stroke="#bae1e1" stroke-width="1.0"/>
<line x1="242.7" y1="583.4" x2="240.3" y2="583.9" stroke="#e8c6e6" stroke-width="1.0"/>
<line x1="247.8" y1="585.3" x2="252.0" y2="587.9" stroke="#e8c6e6" stroke-width="1.0"/>
<line x1="245.3" y1="592.3" x2="247.5" y2="591.0" stroke="#e8c6e6" stroke-width="1.0"/>
<line x1="245.3" y1="592.3" x2="244.1" y2="590.2" stroke="#e8c6e6" stroke-width="1.0"/>
<line x1="247.5" y1="591.0" x2="251.9" y2="591.5" stroke="#e8c6e6" stroke-width="1.0"/>
<line x1="241.5" y1="602.3" x2="244.0" y2="604.5" stroke="#e8c6e6" stroke-width="1.0"/>
<line x1="247.2" y1="604.0" x2="249.0" y2="609.7" stroke="#e8c6e6" stroke-width="1.0"/>
<line x1="247.2" y1="604.0" x2="244.0" y2="604.5" stroke="#e8c6e6" stroke-width="1.0"/>
<line x1="247.2" y1="604.0" x2="253.1" y2="601.5" stroke="#e8c6e6" stroke-width="1.0"/>
<line x1="237.7" y1="586.2" x2="240.3" y2="583.9" stroke="#c4e2b6" stroke-width="1.0"/>
<line x1="243.4" y1="612.7" x2="249.0" y2="609.7" stroke="#c4e2b6" stroke-width="1.0"/>
<line x1="243.4" y1="612.7" x2="242.1" y2="616.2" stroke="#c4e2b6" stroke-width="1.0"/>
<line x1="242.1" y1="616.2" x2="244.3" y2="620.1" stroke="#c4e2b6" stroke-width="1.0"/>
<line x1="218.6" y1="643.7" x2="217.0" y2="649.5" stroke="#c4e2b6" stroke-width="1.0"/>
<line x1="218.6" y1="643.7" x2="224.8" y2="641.3" stroke="#c4e2b6" stroke-width="1.0"/>
<line x1="228.6" y1="618.3" x2="233.3" y2="619.5" stroke="#bae1e1" stroke-width="1.0"/>
<line x1="250.0" y1="625.0" x2="244.6" y2="628.9" stroke="#bae1e1" stroke-width="1.0"/>
<line x1="250.0" y1="625.0" x2="250.0" y2="618.3" stroke="#bae1e1" stroke-width="1.0"/>
<line x1="233.3" y1="619.5" x2="235.8" y2="619.8" stroke="#c4e2b6" stroke-width="1.0"/>
<line x1="239.9" y1="627.6" x2="244.6" y2="628.9" stroke="#c4e2b6" stroke-width="1.0"/>
<line x1="244.6" y1="628.9" x2="248.4" y2="635.0" stroke="#c4e2b6" stroke-width="1.0"/>
<line x1="227.5" y1="629.1" x2="226.0" y2="632.7" stroke="#c4e2b6" stroke-width="1.0"/>
<line x1="226.0" y1="632.7" x2="230.8" y2="633.1" stroke="#c4e2b6" stroke-width="1.0"/>
<line x1="224.8" y1="641.3" x2="228.6" y2="641.1" stroke="#c4e2b6" stroke-width="1.0"/>
<line x1="228.6" y1="641.1" x2="229.5" y2="645.0" stroke="#c4e2b6" stroke-width="1.0"/>
<line x1="234.2" y1="641.1" x2="234.2" y2="645.0" stroke="#c4e2b6" stroke-width="1.0"/>
<line x1="229.5" y1="645.0" x2="234.2" y2="645.0" stroke="#c4e2b6" stroke-width="1.0"/>
<line x1="234.2" y1="645.0" x2="233.6" y2="648.9" stroke="#c4e2b6" stroke-width="1.0"/>
<line x1="239.9" y1="645.3" x2="245.6" y2="643.7" stroke="#c4e2b6" stroke-width="1.0"/>
<line x1="239.9" y1="645.3" x2="237.4" y2="648.9" stroke="#c4e2b6" stroke-width="1.0"/>
<line x1="245.6" y1="643.7" x2="249.4" y2="638.5" stroke="#c4e2b6" stroke-width="1.0"/>
<line x1="233.6" y1="648.9" x2="237.4" y2="648.9" stroke="#c4e2b6" stroke-width="1.0"/>
<line x1="233.6" y1="648.9" x2="226.0" y2="653.1" stroke="#c4e2b6" stroke-width="1.0"/>
<line x1="244.3" y1="620.1" x2="250.0" y2="618.3" stroke="#e8c6e6" stroke-width="1.0"/>
<line x1="250.0" y1="618.3" x2="250.8" y2="616.9" stroke="#e8c6e6" stroke-width="1.0"/>
<line x1="248.4" y1="635.0" x2="250.2" y2="635.6" stroke="#c2ccf1" stroke-width="1.0"/>
<line x1="249.4" y1="638.5" x2="250.2" y2="635.6" stroke="#e7e0ab" stroke-width="1.0"/>
<line x1="249.4" y1="638.5" x2="253.7" y2="640.8" stroke="#e7e0ab" stroke-width="1.0"/>
<line x1="245.6" y1="664.7" x2="253.0" y2="655.7" stroke="#e7e0ab" stroke-width="1.0"/>
<line x1="256.5" y1="633.2" x2="261.2" y2="635.6" stroke="#c2ccf1" stroke-width="1.0"/>
<line x1="261.2" y1="625.2" x2="259.3" y2="625.9" stroke="#c2ccf1" stroke-width="1.0"/>
<line x1="261.2" y1="625.2" x2="261.9" y2="627.8" stroke="#c2ccf1" stroke-width="1.0"/>
<line x1="270.1" y1="626.7" x2="272.9" y2="630.5" stroke="#c2ccf1" stroke-width="1.0"/>
<line x1="264.7" y1="632.1" x2="262.2" y2="629.9" stroke="#c2ccf1" stroke-width="1.0"/>
<line x1="264.7" y1="632.1" x2="261.2" y2="635.6" stroke="#c2ccf1" stroke-width="1.0"/>
<line x1="264.7" y1="632.1" x2="268.5" y2="634.3" stroke="#c2ccf1" stroke-width="1.0"/>
<line x1="270.4" y1="633.4" x2="274.1" y2="633.2" stroke="#c2ccf1" stroke-width="1.0"/>
<line x1="270.4" y1="633.4" x2="268.5" y2="634.3" stroke="#c2ccf1" stroke-width="1.0"/>
<line x1="274.1" y1="633.2" x2="276.4" y2="631.9" stroke="#c2ccf1" stroke-width="1.0"/>
<line x1="274.1" y1="633.2" x2="272.9" y2="630.5" stroke="#c2ccf1" stroke-width="1.0"/>
<line x1="276.4" y1="631.9" x2="278.5" y2="633.7" stroke="#c2ccf1" stroke-width="1.0"/>
<line x1="265.0" y1="639.9" x2="264.4" y2="643.4" stroke="#c2ccf1" stroke-width="1.0"/>
<line x1="253.7" y1="642.5" x2="256.8" y2="643.9" stroke="#c2ccf1" stroke-width="1.0"/>
<line x1="253.7" y1="642.5" x2="253.7" y2="640.8" stroke="#c2ccf1" stroke-width="1.0"/>
<line x1="256.8" y1="643.9" x2="256.5" y2="645.6" stroke="#c2ccf1" stroke-width="1.0"/>
<line x1="261.9" y1="627.8" x2="262.2" y2="629.9" stroke="#e7e0ab" stroke-width="1.0"/>
<line x1="253.7" y1="640.8" x2="257.1" y2="639.5" stroke="#e7e0ab" stroke-width="1.0"/>
<line x1="257.1" y1="639.5" x2="261.2" y2="635.6" stroke="#e7e0ab" stroke-width="1.0"/>
<line x1="276.7" y1="614.3" x2="283.8" y2="614.0" stroke="#e7e0ab" stroke-width="1.0"/>
<line x1="277.0" y1="623.9" x2="281.6" y2="623.7" stroke="#e7e0ab" stroke-width="1.0"/>
<line x1="264.4" y1="643.4" x2="261.9" y2="645.6" stroke="#e7e0ab" stroke-width="1.0"/>
<line x1="269.7" y1="644.7" x2="270.7" y2="648.8" stroke="#e7e0ab" stroke-width="1.0"/>
<line x1="261.9" y1="645.6" x2="256.5" y2="645.6" stroke="#e7e0ab" stroke-width="1.0"/>
<line x1="261.9" y1="645.6" x2="263.7" y2="647.9" stroke="#e7e0ab" stroke-width="1.0"/>
<line x1="256.5" y1="645.6" x2="255.6" y2="646.8" stroke="#e7e0ab" stroke-width="1.0"/>
<line x1="255.6" y1="646.8" x2="252.4" y2="648.8" stroke="#e7e0ab" stroke-width="1.0"/>
<line x1="267.8" y1="649.2" x2="263.7" y2="647.9" stroke="#e7e0ab" stroke-width="1.0"/>
<line x1="267.8" y1="649.2" x2="270.7" y2="648.8" stroke="#e7e0ab" stroke-width="1.0"/>
<line x1="270.1" y1="651.6" x2="270.7" y2="648.8" stroke="#e7e0ab" stroke-width="1.0"/>
<line x1="270.1" y1="651.6" x2="267.8" y2="659.0" stroke="#e7e0ab" stroke-width="1.0"/>
<line x1="261.2" y1="649.9" x2="263.7" y2="647.9" stroke="#e7e0ab" stroke-width="1.0"/>
<line x1="253.0" y1="655.7" x2="252.4" y2="648.8" stroke="#e7e0ab" stroke-width="1.0"/>
<line x1="253.0" y1="655.7" x2="256.8" y2="658.8" stroke="#e7e0ab" stroke-width="1.0"/>
<line x1="267.8" y1="661.2" x2="267.8" y2="659.0" stroke="#e7e0ab" stroke-width="1.0"/>
<line x1="270.7" y1="648.8" x2="274.1" y2="647.0" stroke="#c2ccf1" stroke-width="1.0"/>
<line x1="274.1" y1="647.0" x2="277.0" y2="648.2" stroke="#c2ccf1" stroke-width="1.0"/>
<line x1="277.0" y1="648.2" x2="275.7" y2="651.6" stroke="#c2ccf1" stroke-width="1.0"/>
<line x1="243.2" y1="574.0" x2="237.2" y2="575.4" stroke="#eac6d1" stroke-width="1.0"/>
<line x1="243.2" y1="574.0" x2="242.5" y2="572.6" stroke="#eac6d1" stroke-width="1.0"/>
<line x1="248.2" y1="572.8" x2="251.4" y2="571.7" stroke="#eac6d1" stroke-width="1.0"/>
<line x1="248.2" y1="572.8" x2="244.1" y2="572.1" stroke="#eac6d1" stroke-width="1.0"/>
<line x1="232.8" y1="578.2" x2="229.0" y2="580.1" stroke="#eac6d1" stroke-width="1.0"/>
<line x1="229.0" y1="580.1" x2="225.5" y2="581.7" stroke="#eac6d1" stroke-width="1.0"/>
<line x1="223.9" y1="579.5" x2="225.5" y2="581.7" stroke="#eac6d1" stroke-width="1.0"/>
<line x1="238.4" y1="581.7" x2="240.3" y2="583.9" stroke="#eac6d1" stroke-width="1.0"/>
<line x1="242.5" y1="572.6" x2="244.1" y2="572.1" stroke="#e8c6e6" stroke-width="1.0"/>
<line x1="252.0" y1="579.1" x2="258.8" y2="579.2" stroke="#e8c6e6" stroke-width="1.0"/>
<line x1="252.0" y1="587.9" x2="254.8" y2="586.9" stroke="#e8c6e6" stroke-width="1.0"/>
<line x1="252.0" y1="587.9" x2="251.9" y2="591.5" stroke="#e8c6e6" stroke-width="1.0"/>
<line x1="254.8" y1="586.9" x2="257.2" y2="587.4" stroke="#e8c6e6" stroke-width="1.0"/>
<line x1="262.2" y1="574.8" x2="258.8" y2="577.5" stroke="#e8c6e6" stroke-width="1.0"/>
<line x1="258.8" y1="579.2" x2="262.9" y2="582.4" stroke="#e8c6e6" stroke-width="1.0"/>
<line x1="258.8" y1="579.2" x2="258.8" y2="577.5" stroke="#e8c6e6" stroke-width="1.0"/>
<line x1="264.5" y1="579.4" x2="266.7" y2="579.2" stroke="#e8c6e6" stroke-width="1.0"/>
<line x1="264.5" y1="579.4" x2="262.9" y2="582.4" stroke="#e8c6e6" stroke-width="1.0"/>
<line x1="262.9" y1="582.4" x2="262.0" y2="584.6" stroke="#e8c6e6" stroke-width="1.0"/>
<line x1="262.0" y1="584.6" x2="257.9" y2="584.1" stroke="#e8c6e6" stroke-width="1.0"/>
<line x1="262.0" y1="584.6" x2="262.3" y2="586.8" stroke="#e8c6e6" stroke-width="1.0"/>
<line x1="257.9" y1="584.1" x2="257.2" y2="587.4" stroke="#e8c6e6" stroke-width="1.0"/>
<line x1="262.3" y1="586.8" x2="264.8" y2="588.1" stroke="#e8c6e6" stroke-width="1.0"/>
<line x1="264.8" y1="588.1" x2="266.7" y2="588.5" stroke="#e8c6e6" stroke-width="1.0"/>
<line x1="264.8" y1="588.1" x2="266.7" y2="585.0" stroke="#e8c6e6" stroke-width="1.0"/>
<line x1="273.3" y1="576.3" x2="275.8" y2="576.3" stroke="#e8c6e6" stroke-width="1.0"/>
<line x1="275.8" y1="576.3" x2="276.8" y2="580.7" stroke="#e8c6e6" stroke-width="1.0"/>
<line x1="276.1" y1="570.2" x2="278.7" y2="570.2" stroke="#e8c6e6" stroke-width="1.0"/>
<line x1="278.7" y1="570.2" x2="282.4" y2="573.7" stroke="#e8c6e6" stroke-width="1.0"/>
<line x1="282.4" y1="573.7" x2="285.8" y2="578.2" stroke="#e8c6e6" stroke-width="1.0"/>
<line x1="273.6" y1="585.5" x2="275.2" y2="583.9" stroke="#e8c6e6" stroke-width="1.0"/>
<line x1="273.6" y1="585.5" x2="266.7" y2="585.0" stroke="#e8c6e6" stroke-width="1.0"/>
<line x1="275.2" y1="583.9" x2="278.7" y2="584.6" stroke="#e8c6e6" stroke-width="1.0"/>
<line x1="275.2" y1="583.9" x2="276.8" y2="580.7" stroke="#e8c6e6" stroke-width="1.0"/>
<line x1="278.7" y1="584.6" x2="282.4" y2="583.3" stroke="#e8c6e6" stroke-width="1.0"/>
<line x1="278.7" y1="584.6" x2="279.6" y2="588.1" stroke="#e8c6e6" stroke-width="1.0"/>
<line x1="282.4" y1="583.3" x2="285.8" y2="578.2" stroke="#e8c6e6" stroke-width="1.0"/>
<line x1="279.6" y1="588.1" x2="280.2" y2="591.4" stroke="#e8c6e6" stroke-width="1.0"/>
<line x1="280.2" y1="591.4" x2="274.6" y2="592.2" stroke="#e8c6e6" stroke-width="1.0"/>
<line x1="280.2" y1="591.4" x2="285.5" y2="594.0" stroke="#e8c6e6" stroke-width="1.0"/>
<line x1="273.3" y1="591.4" x2="274.6" y2="592.2" stroke="#e8c6e6" stroke-width="1.0"/>
<line x1="274.6" y1="592.2" x2="274.3" y2="595.0" stroke="#e8c6e6" stroke-width="1.0"/>
<line x1="254.1" y1="596.8" x2="258.5" y2="597.2" stroke="#e8c6e6" stroke-width="1.0"/>
<line x1="265.4" y1="595.9" x2="261.0" y2="596.9" stroke="#e8c6e6" stroke-width="1.0"/>
<line x1="258.5" y1="599.8" x2="260.4" y2="599.8" stroke="#e8c6e6" stroke-width="1.0"/>
<line x1="258.5" y1="599.8" x2="256.6" y2="602.8" stroke="#e8c6e6" stroke-width="1.0"/>
<line x1="258.5" y1="599.8" x2="258.5" y2="597.2" stroke="#e8c6e6" stroke-width="1.0"/>
<line x1="253.1" y1="601.5" x2="256.6" y2="602.8" stroke="#e8c6e6" stroke-width="1.0"/>
<line x1="256.6" y1="602.8" x2="262.7" y2="608.0" stroke="#e8c6e6" stroke-width="1.0"/>
<line x1="258.5" y1="597.2" x2="261.0" y2="596.9" stroke="#c4e2b6" stroke-width="1.0"/>
<line x1="261.0" y1="596.9" x2="261.6" y2="591.5" stroke="#c4e2b6" stroke-width="1.0"/>
<line x1="257.2" y1="587.4" x2="258.5" y2="589.8" stroke="#e7e0ab" stroke-width="1.0"/>
<line x1="258.5" y1="589.8" x2="261.6" y2="591.5" stroke="#e7e0ab" stroke-width="1.0"/>
<line x1="306.6" y1="565.0" x2="309.4" y2="568.6" stroke="#e8c6e6" stroke-width="1.0"/>
<line x1="309.4" y1="568.6" x2="312.8" y2="568.6" stroke="#e8c6e6" stroke-width="1.0"/>
<line x1="285.8" y1="578.2" x2="289.9" y2="580.1" stroke="#e8c6e6" stroke-width="1.0"/>
<line x1="297.5" y1="572.1" x2="294.3" y2="576.5" stroke="#e8c6e6" stroke-width="1.0"/>
<line x1="294.3" y1="576.5" x2="289.9" y2="580.1" stroke="#e8c6e6" stroke-width="1.0"/>
<line x1="294.3" y1="576.5" x2="299.4" y2="578.1" stroke="#e8c6e6" stroke-width="1.0"/>
<line x1="300.9" y1="576.9" x2="309.1" y2="575.2" stroke="#e8c6e6" stroke-width="1.0"/>
<line x1="300.9" y1="576.9" x2="299.4" y2="578.1" stroke="#e8c6e6" stroke-width="1.0"/>
<line x1="309.1" y1="575.2" x2="316.0" y2="574.3" stroke="#e8c6e6" stroke-width="1.0"/>
<line x1="312.8" y1="568.6" x2="315.3" y2="569.9" stroke="#e8c6e6" stroke-width="1.0"/>
<line x1="315.3" y1="569.9" x2="316.0" y2="574.3" stroke="#e8c6e6" stroke-width="1.0"/>
<line x1="316.0" y1="574.3" x2="315.6" y2="577.8" stroke="#e8c6e6" stroke-width="1.0"/>
<line x1="315.6" y1="577.8" x2="317.5" y2="583.6" stroke="#e8c6e6" stroke-width="1.0"/>
<line x1="324.1" y1="562.7" x2="325.4" y2="565.9" stroke="#e8c6e6" stroke-width="1.0"/>
<line x1="285.5" y1="594.0" x2="288.6" y2="588.3" stroke="#e8c6e6" stroke-width="1.0"/>
<line x1="285.5" y1="594.0" x2="290.5" y2="596.0" stroke="#e8c6e6" stroke-width="1.0"/>
<line x1="290.5" y1="596.0" x2="293.7" y2="593.7" stroke="#e8c6e6" stroke-width="1.0"/>
<line x1="290.5" y1="596.0" x2="287.1" y2="602.7" stroke="#e8c6e6" stroke-width="1.0"/>
<line x1="299.4" y1="578.1" x2="302.2" y2="582.7" stroke="#e8c6e6" stroke-width="1.0"/>
<line x1="305.7" y1="585.3" x2="301.6" y2="589.0" stroke="#e8c6e6" stroke-width="1.0"/>
<line x1="305.7" y1="585.3" x2="302.2" y2="582.7" stroke="#e8c6e6" stroke-width="1.0"/>
<line x1="307.9" y1="601.0" x2="307.9" y2="603.1" stroke="#e7e0ab" stroke-width="1.0"/>
<line x1="307.9" y1="603.1" x2="309.1" y2="607.0" stroke="#e7e0ab" stroke-width="1.0"/>
<line x1="306.0" y1="607.9" x2="309.1" y2="607.0" stroke="#e7e0ab" stroke-width="1.0"/>
<line x1="306.0" y1="607.9" x2="304.6" y2="607.6" stroke="#e7e0ab" stroke-width="1.0"/>
<line x1="309.1" y1="607.0" x2="313.8" y2="608.3" stroke="#e7e0ab" stroke-width="1.0"/>
<line x1="320.6" y1="605.3" x2="313.8" y2="608.3" stroke="#e7e0ab" stroke-width="1.0"/>
<line x1="313.8" y1="608.3" x2="314.9" y2="610.7" stroke="#e7e0ab" stroke-width="1.0"/>
<line x1="283.8" y1="614.0" x2="287.3" y2="612.4" stroke="#e7e0ab" stroke-width="1.0"/>
<line x1="283.8" y1="614.0" x2="284.4" y2="618.3" stroke="#e7e0ab" stroke-width="1.0"/>
<line x1="287.3" y1="612.4" x2="292.3" y2="614.6" stroke="#e7e0ab" stroke-width="1.0"/>
<line x1="284.4" y1="618.3" x2="287.3" y2="622.1" stroke="#e7e0ab" stroke-width="1.0"/>
<line x1="287.3" y1="622.1" x2="288.9" y2="621.3" stroke="#e7e0ab" stroke-width="1.0"/>
<line x1="287.3" y1="622.1" x2="281.6" y2="623.7" stroke="#e7e0ab" stroke-width="1.0"/>
<line x1="292.3" y1="614.6" x2="294.2" y2="611.4" stroke="#e7e0ab" stroke-width="1.0"/>
<line x1="292.3" y1="614.6" x2="294.2" y2="618.9" stroke="#e7e0ab" stroke-width="1.0"/>
<line x1="294.2" y1="611.4" x2="298.3" y2="612.6" stroke="#e7e0ab" stroke-width="1.0"/>
<line x1="298.3" y1="612.6" x2="304.6" y2="607.6" stroke="#e7e0ab" stroke-width="1.0"/>
<line x1="294.2" y1="618.9" x2="294.8" y2="620.7" stroke="#e7e0ab" stroke-width="1.0"/>
<line x1="294.8" y1="620.7" x2="297.7" y2="619.4" stroke="#e7e0ab" stroke-width="1.0"/>
<line x1="294.8" y1="620.7" x2="296.1" y2="625.0" stroke="#e7e0ab" stroke-width="1.0"/>
<line x1="297.7" y1="619.4" x2="298.9" y2="621.1" stroke="#e7e0ab" stroke-width="1.0"/>
<line x1="298.9" y1="621.1" x2="305.2" y2="622.4" stroke="#e7e0ab" stroke-width="1.0"/>
<line x1="296.1" y1="625.0" x2="294.5" y2="628.8" stroke="#e7e0ab" stroke-width="1.0"/>
<line x1="294.5" y1="628.8" x2="297.4" y2="630.2" stroke="#e7e0ab" stroke-width="1.0"/>
<line x1="297.4" y1="630.2" x2="298.9" y2="630.5" stroke="#e7e0ab" stroke-width="1.0"/>
<line x1="297.4" y1="630.2" x2="295.5" y2="633.7" stroke="#e7e0ab" stroke-width="1.0"/>
<line x1="295.5" y1="633.7" x2="291.7" y2="633.3" stroke="#e7e0ab" stroke-width="1.0"/>
<line x1="295.5" y1="633.7" x2="294.5" y2="639.1" stroke="#e7e0ab" stroke-width="1.0"/>
<line x1="281.6" y1="623.7" x2="281.6" y2="626.8" stroke="#e7e0ab" stroke-width="1.0"/>
<line x1="281.6" y1="626.8" x2="281.3" y2="630.0" stroke="#e7e0ab" stroke-width="1.0"/>
<line x1="281.3" y1="630.0" x2="285.1" y2="632.0" stroke="#e7e0ab" stroke-width="1.0"/>
<line x1="281.3" y1="630.0" x2="278.5" y2="633.7" stroke="#e7e0ab" stroke-width="1.0"/>
<line x1="278.5" y1="633.7" x2="281.9" y2="635.9" stroke="#e7e0ab" stroke-width="1.0"/>
<line x1="281.9" y1="635.9" x2="284.4" y2="640.8" stroke="#e7e0ab" stroke-width="1.0"/>
<line x1="288.2" y1="638.1" x2="284.4" y2="640.8" stroke="#e7e0ab" stroke-width="1.0"/>
<line x1="305.2" y1="622.4" x2="308.3" y2="626.1" stroke="#e7e0ab" stroke-width="1.0"/>
<line x1="308.3" y1="626.1" x2="309.9" y2="628.5" stroke="#e7e0ab" stroke-width="1.0"/>
<line x1="309.9" y1="628.5" x2="310.8" y2="631.1" stroke="#e7e0ab" stroke-width="1.0"/>
<line x1="310.8" y1="631.1" x2="306.4" y2="636.3" stroke="#e7e0ab" stroke-width="1.0"/>
<line x1="310.8" y1="631.1" x2="326.3" y2="628.5" stroke="#e7e0ab" stroke-width="1.0"/>
<line x1="282.6" y1="642.1" x2="284.4" y2="640.8" stroke="#e7e0ab" stroke-width="1.0"/>
<line x1="282.6" y1="642.1" x2="289.7" y2="650.2" stroke="#e7e0ab" stroke-width="1.0"/>
<line x1="289.7" y1="650.2" x2="299.9" y2="649.1" stroke="#e7e0ab" stroke-width="1.0"/>
<line x1="299.9" y1="649.1" x2="304.3" y2="653.0" stroke="#e7e0ab" stroke-width="1.0"/>
<line x1="304.3" y1="653.0" x2="300.5" y2="664.1" stroke="#e7e0ab" stroke-width="1.0"/>
<line x1="304.3" y1="653.0" x2="308.0" y2="646.5" stroke="#e7e0ab" stroke-width="1.0"/>
<line x1="262.7" y1="608.0" x2="269.0" y2="608.0" stroke="#e8c6e6" stroke-width="1.0"/>
<polyline points="298.2,538.2 291.3,538.6 286.8,541.0 290.2,544.3 293.4,546.7 291.8,552.3 298.7,554.5 303.5,555.4 307.4,558.8 307.5,563.7 309.4,568.4 312.8,568.6 315.3,569.9 315.9,574.3" fill="none" stroke="#7b7b7b" stroke-width="1.0" stroke-linejoin="round"/>
<polyline points="315.9,574.3 309.1,575.2 300.9,576.8 299.4,578.1 294.3,576.6 289.9,580.1 286.1,579.0 283.0,583.1 282.5,583.2 278.7,584.6 274.9,584.2 272.3,585.4 269.8,585.4 266.7,585.0 262.6,583.7 260.4,584.2 257.2,585.4 254.7,587.2 251.8,590.8 249.7,591.2 246.5,591.4 244.0,590.6 242.1,590.6 239.9,590.1 239.0,588.8 237.8,586.5 240.3,583.9 236.8,581.0 235.0,579.5 232.7,578.0 229.0,580.1 225.5,582.6 225.4,586.2 224.8,589.3 225.1,594.0 226.4,596.7 227.6,597.9 226.1,603.6 223.6,609.6 221.9,614.1" fill="none" stroke="#7b7b7b" stroke-width="1.0" stroke-linejoin="round"/>
<polyline points="221.9,614.1 222.3,616.3 228.5,618.3 233.3,619.8 236.5,619.8 242.1,617.2 244.3,619.8 250.3,617.5 249.9,624.3 245.2,629.0 247.5,634.1 249.2,638.6 253.7,640.8 257.1,639.5 261.2,635.6 264.7,632.1 268.5,634.3 270.7,633.4 274.1,633.1 276.3,632.1 278.5,633.7 281.9,635.8 284.1,641.3 287.6,639.1 289.8,635.8 291.7,633.3 295.5,633.7 296.1,630.6 294.5,628.8 295.2,627.6 296.1,625.0 294.9,622.8 294.9,618.9 293.6,616.3 293.3,613.2 294.2,611.4 296.1,612.0 298.3,612.6 299.9,611.4 306.1,608.3 308.3,606.8 313.6,609.4 315.2,610.7 320.6,605.3" fill="none" stroke="#7b7b7b" stroke-width="1.0" stroke-linejoin="round"/>
<circle cx="211.9" cy="576.1" r="1.45" fill="#dcb0b0" stroke="#a24e4a" stroke-width="0.95"/>
<circle cx="218.6" cy="578.0" r="1.45" fill="#dcb0b0" stroke="#a24e4a" stroke-width="0.95"/>
<circle cx="219.0" cy="580.4" r="1.45" fill="#dcb0b0" stroke="#a24e4a" stroke-width="0.95"/>
<circle cx="229.4" cy="573.0" r="1.45" fill="#dcb0b0" stroke="#a24e4a" stroke-width="0.95"/>
<circle cx="238.1" cy="570.7" r="1.45" fill="#dcb0b0" stroke="#a24e4a" stroke-width="0.95"/>
<circle cx="209.2" cy="590.5" r="1.45" fill="#dcb0b0" stroke="#a24e4a" stroke-width="0.95"/>
<circle cx="219.3" cy="589.8" r="1.45" fill="#dcb0b0" stroke="#a24e4a" stroke-width="0.95"/>
<circle cx="223.3" cy="590.5" r="1.45" fill="#dcb0b0" stroke="#a24e4a" stroke-width="0.95"/>
<circle cx="217.2" cy="595.2" r="1.45" fill="#dcb0b0" stroke="#a24e4a" stroke-width="0.95"/>
<circle cx="211.2" cy="598.2" r="1.45" fill="#dcb0b0" stroke="#a24e4a" stroke-width="0.95"/>
<circle cx="213.6" cy="583.3" r="1.45" fill="#b0d8d4" stroke="#52968f" stroke-width="0.95"/>
<circle cx="220.3" cy="572.3" r="1.45" fill="#b0d8d4" stroke="#52968f" stroke-width="0.95"/>
<circle cx="223.3" cy="574.3" r="1.45" fill="#b0d8d4" stroke="#52968f" stroke-width="0.95"/>
<circle cx="233.4" cy="569.3" r="1.45" fill="#b0d8d4" stroke="#52968f" stroke-width="0.95"/>
<circle cx="231.4" cy="585.1" r="1.45" fill="#b0d8d4" stroke="#52968f" stroke-width="0.95"/>
<circle cx="224.0" cy="580.4" r="1.45" fill="#b0d8d4" stroke="#52968f" stroke-width="0.95"/>
<circle cx="226.0" cy="590.5" r="1.45" fill="#b0d8d4" stroke="#52968f" stroke-width="0.95"/>
<circle cx="259.7" cy="568.5" r="1.45" fill="#b0d8d4" stroke="#52968f" stroke-width="0.95"/>
<circle cx="227.3" cy="596.5" r="1.45" fill="#b0d8d4" stroke="#52968f" stroke-width="0.95"/>
<circle cx="215.9" cy="601.7" r="1.45" fill="#dcb0b0" stroke="#a24e4a" stroke-width="0.95"/>
<circle cx="211.2" cy="603.1" r="1.45" fill="#dcb0b0" stroke="#a24e4a" stroke-width="0.95"/>
<circle cx="241.9" cy="619.2" r="1.45" fill="#dcb0b0" stroke="#a24e4a" stroke-width="0.95"/>
<circle cx="222.2" cy="604.4" r="1.45" fill="#b0d8d4" stroke="#52968f" stroke-width="0.95"/>
<circle cx="224.0" cy="599.7" r="1.45" fill="#b0d8d4" stroke="#52968f" stroke-width="0.95"/>
<circle cx="237.2" cy="615.2" r="1.45" fill="#b0d8d4" stroke="#52968f" stroke-width="0.95"/>
<circle cx="241.5" cy="626.6" r="1.45" fill="#b0d8d4" stroke="#52968f" stroke-width="0.95"/>
<circle cx="229.4" cy="640.1" r="1.45" fill="#b0d8d4" stroke="#52968f" stroke-width="0.95"/>
<circle cx="292.4" cy="547.0" r="1.45" fill="#b0d8d4" stroke="#52968f" stroke-width="0.95"/>
<circle cx="299.6" cy="550.2" r="1.45" fill="#b0d8d4" stroke="#52968f" stroke-width="0.95"/>
<circle cx="276.6" cy="555.0" r="1.45" fill="#b0d8d4" stroke="#52968f" stroke-width="0.95"/>
<circle cx="310.5" cy="555.0" r="1.45" fill="#b0d8d4" stroke="#52968f" stroke-width="0.95"/>
<circle cx="306.5" cy="559.1" r="1.45" fill="#b0d8d4" stroke="#52968f" stroke-width="0.95"/>
<circle cx="314.6" cy="559.9" r="1.45" fill="#b0d8d4" stroke="#52968f" stroke-width="0.95"/>
<circle cx="315.4" cy="562.0" r="1.45" fill="#b0d8d4" stroke="#52968f" stroke-width="0.95"/>
<circle cx="325.1" cy="559.9" r="1.45" fill="#b0d8d4" stroke="#52968f" stroke-width="0.95"/>
<circle cx="303.3" cy="563.9" r="1.45" fill="#b0d8d4" stroke="#52968f" stroke-width="0.95"/>
<circle cx="301.7" cy="568.8" r="1.45" fill="#b0d8d4" stroke="#52968f" stroke-width="0.95"/>
<circle cx="311.3" cy="565.5" r="1.45" fill="#b0d8d4" stroke="#52968f" stroke-width="0.95"/>
<circle cx="287.9" cy="564.2" r="1.45" fill="#b0d8d4" stroke="#52968f" stroke-width="0.95"/>
<circle cx="277.4" cy="563.1" r="1.45" fill="#b0d8d4" stroke="#52968f" stroke-width="0.95"/>
<circle cx="260.1" cy="571.2" r="1.45" fill="#b0d8d4" stroke="#52968f" stroke-width="0.95"/>
<circle cx="270.2" cy="579.8" r="1.45" fill="#b0d8d4" stroke="#52968f" stroke-width="0.95"/>
<circle cx="283.9" cy="584.1" r="1.45" fill="#b0d8d4" stroke="#52968f" stroke-width="0.95"/>
<circle cx="311.3" cy="578.5" r="1.45" fill="#b0d8d4" stroke="#52968f" stroke-width="0.95"/>
<circle cx="296.8" cy="559.1" r="1.45" fill="#dcb0b0" stroke="#a24e4a" stroke-width="0.95"/>
<circle cx="301.2" cy="557.8" r="1.45" fill="#dcb0b0" stroke="#a24e4a" stroke-width="0.95"/>
<circle cx="318.6" cy="568.0" r="1.45" fill="#dcb0b0" stroke="#a24e4a" stroke-width="0.95"/>
<circle cx="274.2" cy="575.2" r="1.45" fill="#dcb0b0" stroke="#a24e4a" stroke-width="0.95"/>
<circle cx="275.8" cy="618.9" r="1.45" fill="#b0d8d4" stroke="#52968f" stroke-width="0.95"/>
</g>
<rect x="191.10" y="517.40" width="146.20" height="154.70" fill="none" stroke="#111" stroke-width="1.45"/>
<line x1="197.0" y1="672.8" x2="197.0" y2="675.6" stroke="#111" stroke-width="1"/>
<text x="194.61" y="685.90" font-size="8.6" font-weight="normal" fill="#1a1a1a" stroke="#1a1a1a" stroke-width="0.22" textLength="4.78" lengthAdjust="spacingAndGlyphs">0</text>
<line x1="227.1" y1="672.8" x2="227.1" y2="675.6" stroke="#111" stroke-width="1"/>
<text x="224.74" y="685.90" font-size="8.6" font-weight="normal" fill="#1a1a1a" stroke="#1a1a1a" stroke-width="0.22" textLength="4.78" lengthAdjust="spacingAndGlyphs">5</text>
<line x1="257.2" y1="672.8" x2="257.2" y2="675.6" stroke="#111" stroke-width="1"/>
<text x="252.48" y="685.90" font-size="8.6" font-weight="normal" fill="#1a1a1a" stroke="#1a1a1a" stroke-width="0.22" textLength="9.57" lengthAdjust="spacingAndGlyphs">10</text>
<line x1="287.4" y1="672.8" x2="287.4" y2="675.6" stroke="#111" stroke-width="1"/>
<text x="282.60" y="685.90" font-size="8.6" font-weight="normal" fill="#1a1a1a" stroke="#1a1a1a" stroke-width="0.22" textLength="9.57" lengthAdjust="spacingAndGlyphs">15</text>
<line x1="317.5" y1="672.8" x2="317.5" y2="675.6" stroke="#111" stroke-width="1"/>
<text x="312.73" y="685.90" font-size="8.6" font-weight="normal" fill="#1a1a1a" stroke="#1a1a1a" stroke-width="0.22" textLength="9.57" lengthAdjust="spacingAndGlyphs">20</text>
<g clip-path="url(#cpD)">
<line x1="401.0" y1="532.3" x2="383.8" y2="555.1" stroke="#eac6d1" stroke-width="1.0"/>
<line x1="383.8" y1="555.1" x2="392.3" y2="558.9" stroke="#eac6d1" stroke-width="1.0"/>
<line x1="392.3" y1="558.9" x2="387.4" y2="565.8" stroke="#eac6d1" stroke-width="1.0"/>
<line x1="387.4" y1="565.8" x2="390.4" y2="569.1" stroke="#eac6d1" stroke-width="1.0"/>
<line x1="396.1" y1="566.5" x2="402.0" y2="561.4" stroke="#eac6d1" stroke-width="1.0"/>
<line x1="396.1" y1="566.5" x2="390.4" y2="569.1" stroke="#eac6d1" stroke-width="1.0"/>
<line x1="402.0" y1="561.4" x2="404.7" y2="561.3" stroke="#eac6d1" stroke-width="1.0"/>
<line x1="404.7" y1="561.3" x2="406.6" y2="561.3" stroke="#eac6d1" stroke-width="1.0"/>
<line x1="406.6" y1="561.3" x2="417.8" y2="559.8" stroke="#eac6d1" stroke-width="1.0"/>
<line x1="385.2" y1="571.1" x2="389.3" y2="569.8" stroke="#eac6d1" stroke-width="1.0"/>
<line x1="389.3" y1="569.8" x2="390.4" y2="569.1" stroke="#eac6d1" stroke-width="1.0"/>
<line x1="389.3" y1="569.8" x2="393.4" y2="574.3" stroke="#eac6d1" stroke-width="1.0"/>
<line x1="401.3" y1="570.9" x2="399.6" y2="573.6" stroke="#eac6d1" stroke-width="1.0"/>
<line x1="401.3" y1="570.9" x2="405.7" y2="573.1" stroke="#eac6d1" stroke-width="1.0"/>
<line x1="409.7" y1="569.8" x2="412.1" y2="571.9" stroke="#eac6d1" stroke-width="1.0"/>
<line x1="397.8" y1="572.6" x2="399.6" y2="573.6" stroke="#eac6d1" stroke-width="1.0"/>
<line x1="397.8" y1="572.6" x2="393.4" y2="574.3" stroke="#eac6d1" stroke-width="1.0"/>
<line x1="393.4" y1="574.3" x2="395.6" y2="576.5" stroke="#eac6d1" stroke-width="1.0"/>
<line x1="372.5" y1="575.0" x2="375.1" y2="579.7" stroke="#eac6d1" stroke-width="1.0"/>
<line x1="383.8" y1="577.1" x2="387.4" y2="579.5" stroke="#eac6d1" stroke-width="1.0"/>
<line x1="395.6" y1="576.5" x2="398.1" y2="578.5" stroke="#bae1e1" stroke-width="1.0"/>
<line x1="405.7" y1="573.1" x2="408.1" y2="573.9" stroke="#eac6d1" stroke-width="1.0"/>
<line x1="408.1" y1="573.9" x2="412.1" y2="571.9" stroke="#e8c6e6" stroke-width="1.0"/>
<line x1="408.1" y1="573.9" x2="407.4" y2="576.3" stroke="#e8c6e6" stroke-width="1.0"/>
<line x1="410.2" y1="575.9" x2="407.4" y2="576.3" stroke="#eac6d1" stroke-width="1.0"/>
<line x1="410.2" y1="575.9" x2="412.1" y2="579.1" stroke="#eac6d1" stroke-width="1.0"/>
<line x1="417.8" y1="559.8" x2="422.3" y2="563.9" stroke="#e8c6e6" stroke-width="1.0"/>
<line x1="446.8" y1="551.3" x2="451.5" y2="559.5" stroke="#e8c6e6" stroke-width="1.0"/>
<line x1="451.5" y1="559.5" x2="458.6" y2="557.4" stroke="#e8c6e6" stroke-width="1.0"/>
<line x1="458.6" y1="557.4" x2="466.9" y2="556.6" stroke="#e8c6e6" stroke-width="1.0"/>
<line x1="439.7" y1="569.2" x2="449.9" y2="570.0" stroke="#e8c6e6" stroke-width="1.0"/>
<line x1="449.9" y1="570.0" x2="450.4" y2="571.5" stroke="#e8c6e6" stroke-width="1.0"/>
<line x1="450.4" y1="571.5" x2="451.0" y2="574.1" stroke="#e8c6e6" stroke-width="1.0"/>
<line x1="455.1" y1="570.6" x2="459.3" y2="571.1" stroke="#e8c6e6" stroke-width="1.0"/>
<line x1="455.1" y1="570.6" x2="453.5" y2="574.1" stroke="#e8c6e6" stroke-width="1.0"/>
<line x1="459.3" y1="571.1" x2="461.0" y2="571.5" stroke="#e8c6e6" stroke-width="1.0"/>
<line x1="473.0" y1="543.2" x2="466.1" y2="543.5" stroke="#e8c6e6" stroke-width="1.0"/>
<line x1="466.1" y1="543.5" x2="461.7" y2="545.9" stroke="#e8c6e6" stroke-width="1.0"/>
<line x1="461.7" y1="545.9" x2="468.3" y2="551.6" stroke="#e8c6e6" stroke-width="1.0"/>
<line x1="468.3" y1="551.6" x2="466.9" y2="556.6" stroke="#e8c6e6" stroke-width="1.0"/>
<line x1="466.9" y1="556.6" x2="473.8" y2="559.1" stroke="#e8c6e6" stroke-width="1.0"/>
<line x1="473.8" y1="559.1" x2="478.5" y2="559.9" stroke="#e8c6e6" stroke-width="1.0"/>
<line x1="478.5" y1="559.9" x2="482.3" y2="563.3" stroke="#e8c6e6" stroke-width="1.0"/>
<line x1="482.3" y1="563.3" x2="482.0" y2="567.4" stroke="#e8c6e6" stroke-width="1.0"/>
<line x1="482.3" y1="563.3" x2="485.1" y2="558.0" stroke="#e8c6e6" stroke-width="1.0"/>
<line x1="482.0" y1="567.4" x2="481.4" y2="569.0" stroke="#e8c6e6" stroke-width="1.0"/>
<line x1="483.2" y1="554.2" x2="485.1" y2="558.0" stroke="#e8c6e6" stroke-width="1.0"/>
<line x1="494.2" y1="523.3" x2="497.8" y2="528.0" stroke="#e8c6e6" stroke-width="1.0"/>
<line x1="497.8" y1="528.0" x2="498.8" y2="546.7" stroke="#e8c6e6" stroke-width="1.0"/>
<line x1="498.8" y1="546.7" x2="498.2" y2="554.2" stroke="#e8c6e6" stroke-width="1.0"/>
<line x1="498.2" y1="554.2" x2="508.2" y2="559.5" stroke="#e8c6e6" stroke-width="1.0"/>
<line x1="508.2" y1="559.5" x2="499.0" y2="565.2" stroke="#e8c6e6" stroke-width="1.0"/>
<line x1="499.0" y1="565.2" x2="491.1" y2="564.3" stroke="#e8c6e6" stroke-width="1.0"/>
<line x1="499.0" y1="565.2" x2="498.9" y2="566.8" stroke="#e8c6e6" stroke-width="1.0"/>
<line x1="491.1" y1="564.3" x2="490.0" y2="567.7" stroke="#e8c6e6" stroke-width="1.0"/>
<line x1="490.0" y1="567.7" x2="487.6" y2="572.5" stroke="#e8c6e6" stroke-width="1.0"/>
<line x1="387.4" y1="579.5" x2="387.6" y2="583.3" stroke="#eac6d1" stroke-width="1.0"/>
<line x1="389.3" y1="587.5" x2="389.5" y2="583.3" stroke="#eac6d1" stroke-width="1.0"/>
<line x1="389.3" y1="587.5" x2="392.0" y2="588.8" stroke="#eac6d1" stroke-width="1.0"/>
<line x1="394.7" y1="587.5" x2="392.0" y2="588.8" stroke="#eac6d1" stroke-width="1.0"/>
<line x1="397.6" y1="583.6" x2="398.9" y2="583.0" stroke="#eac6d1" stroke-width="1.0"/>
<line x1="375.1" y1="579.7" x2="377.2" y2="585.0" stroke="#bae1e1" stroke-width="1.0"/>
<line x1="377.2" y1="585.0" x2="383.8" y2="584.7" stroke="#bae1e1" stroke-width="1.0"/>
<line x1="383.8" y1="584.7" x2="387.6" y2="583.3" stroke="#bae1e1" stroke-width="1.0"/>
<line x1="387.6" y1="583.3" x2="389.5" y2="583.3" stroke="#bae1e1" stroke-width="1.0"/>
<line x1="392.0" y1="588.8" x2="391.0" y2="590.4" stroke="#bae1e1" stroke-width="1.0"/>
<line x1="391.0" y1="590.4" x2="393.0" y2="592.3" stroke="#bae1e1" stroke-width="1.0"/>
<line x1="386.9" y1="592.3" x2="387.9" y2="594.2" stroke="#bae1e1" stroke-width="1.0"/>
<line x1="386.9" y1="592.3" x2="381.6" y2="593.6" stroke="#bae1e1" stroke-width="1.0"/>
<line x1="387.9" y1="594.2" x2="389.8" y2="594.2" stroke="#bae1e1" stroke-width="1.0"/>
<line x1="389.8" y1="594.2" x2="393.0" y2="592.3" stroke="#bae1e1" stroke-width="1.0"/>
<line x1="381.6" y1="593.6" x2="377.1" y2="595.1" stroke="#bae1e1" stroke-width="1.0"/>
<line x1="381.1" y1="599.7" x2="384.7" y2="597.7" stroke="#bae1e1" stroke-width="1.0"/>
<line x1="384.7" y1="597.7" x2="386.6" y2="598.0" stroke="#bae1e1" stroke-width="1.0"/>
<line x1="386.6" y1="598.0" x2="388.8" y2="597.8" stroke="#bae1e1" stroke-width="1.0"/>
<line x1="388.8" y1="597.8" x2="390.4" y2="598.0" stroke="#bae1e1" stroke-width="1.0"/>
<line x1="390.4" y1="598.0" x2="392.3" y2="598.0" stroke="#bae1e1" stroke-width="1.0"/>
<line x1="392.3" y1="598.0" x2="394.2" y2="598.0" stroke="#bae1e1" stroke-width="1.0"/>
<line x1="394.2" y1="598.0" x2="395.4" y2="601.3" stroke="#bae1e1" stroke-width="1.0"/>
<line x1="394.2" y1="598.0" x2="396.9" y2="596.6" stroke="#bae1e1" stroke-width="1.0"/>
<line x1="386.3" y1="603.0" x2="390.1" y2="602.2" stroke="#bae1e1" stroke-width="1.0"/>
<line x1="390.1" y1="602.2" x2="392.3" y2="601.8" stroke="#bae1e1" stroke-width="1.0"/>
<line x1="392.3" y1="601.8" x2="393.9" y2="601.8" stroke="#bae1e1" stroke-width="1.0"/>
<line x1="393.9" y1="601.8" x2="395.4" y2="601.3" stroke="#bae1e1" stroke-width="1.0"/>
<line x1="395.4" y1="601.3" x2="397.0" y2="602.2" stroke="#bae1e1" stroke-width="1.0"/>
<line x1="397.0" y1="602.2" x2="398.8" y2="602.1" stroke="#bae1e1" stroke-width="1.0"/>
<line x1="396.1" y1="593.0" x2="393.0" y2="592.3" stroke="#bae1e1" stroke-width="1.0"/>
<line x1="396.1" y1="593.0" x2="398.8" y2="593.7" stroke="#bae1e1" stroke-width="1.0"/>
<line x1="377.2" y1="605.5" x2="381.1" y2="609.7" stroke="#bae1e1" stroke-width="1.0"/>
<line x1="392.3" y1="606.4" x2="394.5" y2="606.0" stroke="#bae1e1" stroke-width="1.0"/>
<line x1="394.5" y1="606.0" x2="395.6" y2="606.7" stroke="#bae1e1" stroke-width="1.0"/>
<line x1="398.1" y1="578.5" x2="398.9" y2="583.0" stroke="#e8c6e6" stroke-width="1.0"/>
<line x1="385.4" y1="609.3" x2="387.1" y2="611.0" stroke="#bae1e1" stroke-width="1.0"/>
<line x1="385.4" y1="609.3" x2="381.1" y2="609.7" stroke="#bae1e1" stroke-width="1.0"/>
<line x1="387.1" y1="611.0" x2="388.5" y2="613.6" stroke="#bae1e1" stroke-width="1.0"/>
<line x1="388.5" y1="613.6" x2="390.1" y2="614.3" stroke="#bae1e1" stroke-width="1.0"/>
<line x1="388.5" y1="613.6" x2="384.6" y2="615.7" stroke="#bae1e1" stroke-width="1.0"/>
<line x1="390.1" y1="614.3" x2="391.7" y2="612.4" stroke="#bae1e1" stroke-width="1.0"/>
<line x1="390.1" y1="614.3" x2="392.6" y2="617.2" stroke="#bae1e1" stroke-width="1.0"/>
<line x1="391.7" y1="612.4" x2="396.3" y2="613.0" stroke="#bae1e1" stroke-width="1.0"/>
<line x1="392.6" y1="617.2" x2="387.8" y2="620.5" stroke="#bae1e1" stroke-width="1.0"/>
<line x1="392.6" y1="617.2" x2="397.3" y2="618.7" stroke="#bae1e1" stroke-width="1.0"/>
<line x1="396.1" y1="626.9" x2="402.4" y2="630.9" stroke="#bae1e1" stroke-width="1.0"/>
<line x1="397.3" y1="618.7" x2="403.5" y2="620.5" stroke="#bae1e1" stroke-width="1.0"/>
<line x1="397.0" y1="635.9" x2="398.3" y2="633.8" stroke="#bae1e1" stroke-width="1.0"/>
<line x1="397.0" y1="635.9" x2="399.7" y2="642.6" stroke="#bae1e1" stroke-width="1.0"/>
<line x1="393.9" y1="608.6" x2="395.6" y2="606.7" stroke="#bae1e1" stroke-width="1.0"/>
<line x1="396.7" y1="609.5" x2="397.3" y2="612.0" stroke="#bae1e1" stroke-width="1.0"/>
<line x1="396.7" y1="609.5" x2="397.5" y2="607.1" stroke="#bae1e1" stroke-width="1.0"/>
<line x1="396.7" y1="609.5" x2="398.8" y2="609.6" stroke="#bae1e1" stroke-width="1.0"/>
<line x1="397.3" y1="612.0" x2="396.3" y2="613.0" stroke="#bae1e1" stroke-width="1.0"/>
<line x1="397.9" y1="613.6" x2="396.3" y2="613.0" stroke="#bae1e1" stroke-width="1.0"/>
<line x1="398.3" y1="633.8" x2="401.0" y2="634.3" stroke="#c4e2b6" stroke-width="1.0"/>
<line x1="400.4" y1="589.5" x2="404.1" y2="587.0" stroke="#eac6d1" stroke-width="1.0"/>
<line x1="400.4" y1="589.5" x2="398.8" y2="593.7" stroke="#eac6d1" stroke-width="1.0"/>
<line x1="409.2" y1="588.0" x2="404.1" y2="587.0" stroke="#eac6d1" stroke-width="1.0"/>
<line x1="409.2" y1="588.0" x2="412.6" y2="589.5" stroke="#eac6d1" stroke-width="1.0"/>
<line x1="414.8" y1="593.7" x2="412.6" y2="589.5" stroke="#eac6d1" stroke-width="1.0"/>
<line x1="414.8" y1="593.7" x2="419.0" y2="593.3" stroke="#eac6d1" stroke-width="1.0"/>
<line x1="412.0" y1="584.9" x2="413.4" y2="585.1" stroke="#eac6d1" stroke-width="1.0"/>
<line x1="415.5" y1="608.4" x2="418.9" y2="607.1" stroke="#eac6d1" stroke-width="1.0"/>
<line x1="404.1" y1="587.0" x2="403.9" y2="583.6" stroke="#bae1e1" stroke-width="1.0"/>
<line x1="398.8" y1="593.7" x2="396.9" y2="596.6" stroke="#bae1e1" stroke-width="1.0"/>
<line x1="396.9" y1="596.6" x2="399.4" y2="597.0" stroke="#bae1e1" stroke-width="1.0"/>
<line x1="399.4" y1="597.0" x2="402.9" y2="596.2" stroke="#bae1e1" stroke-width="1.0"/>
<line x1="402.9" y1="596.2" x2="406.0" y2="597.9" stroke="#bae1e1" stroke-width="1.0"/>
<line x1="406.0" y1="597.9" x2="408.9" y2="600.0" stroke="#bae1e1" stroke-width="1.0"/>
<line x1="406.0" y1="597.9" x2="408.2" y2="593.3" stroke="#bae1e1" stroke-width="1.0"/>
<line x1="416.4" y1="597.7" x2="418.9" y2="596.2" stroke="#bae1e1" stroke-width="1.0"/>
<line x1="418.9" y1="596.2" x2="420.2" y2="595.4" stroke="#bae1e1" stroke-width="1.0"/>
<line x1="398.8" y1="602.1" x2="401.3" y2="602.1" stroke="#bae1e1" stroke-width="1.0"/>
<line x1="401.3" y1="602.1" x2="403.5" y2="603.3" stroke="#bae1e1" stroke-width="1.0"/>
<line x1="401.3" y1="602.1" x2="402.6" y2="600.2" stroke="#bae1e1" stroke-width="1.0"/>
<line x1="403.5" y1="603.3" x2="404.8" y2="602.5" stroke="#bae1e1" stroke-width="1.0"/>
<line x1="403.5" y1="603.3" x2="401.9" y2="605.0" stroke="#bae1e1" stroke-width="1.0"/>
<line x1="405.4" y1="606.3" x2="401.9" y2="605.0" stroke="#bae1e1" stroke-width="1.0"/>
<line x1="401.9" y1="605.0" x2="399.9" y2="606.4" stroke="#bae1e1" stroke-width="1.0"/>
<line x1="395.6" y1="606.7" x2="397.5" y2="607.1" stroke="#bae1e1" stroke-width="1.0"/>
<line x1="397.5" y1="607.1" x2="399.9" y2="606.4" stroke="#bae1e1" stroke-width="1.0"/>
<line x1="398.8" y1="609.6" x2="400.7" y2="610.5" stroke="#bae1e1" stroke-width="1.0"/>
<line x1="400.7" y1="610.5" x2="402.6" y2="611.7" stroke="#bae1e1" stroke-width="1.0"/>
<line x1="402.6" y1="611.7" x2="404.1" y2="612.1" stroke="#bae1e1" stroke-width="1.0"/>
<line x1="417.7" y1="586.8" x2="415.3" y2="587.2" stroke="#e8c6e6" stroke-width="1.0"/>
<line x1="422.7" y1="588.6" x2="426.9" y2="591.2" stroke="#e8c6e6" stroke-width="1.0"/>
<line x1="420.2" y1="595.4" x2="422.4" y2="594.1" stroke="#e8c6e6" stroke-width="1.0"/>
<line x1="420.2" y1="595.4" x2="419.0" y2="593.3" stroke="#e8c6e6" stroke-width="1.0"/>
<line x1="422.4" y1="594.1" x2="426.8" y2="594.6" stroke="#e8c6e6" stroke-width="1.0"/>
<line x1="416.4" y1="605.0" x2="418.9" y2="607.1" stroke="#e8c6e6" stroke-width="1.0"/>
<line x1="422.1" y1="606.7" x2="424.0" y2="612.1" stroke="#e8c6e6" stroke-width="1.0"/>
<line x1="422.1" y1="606.7" x2="418.9" y2="607.1" stroke="#e8c6e6" stroke-width="1.0"/>
<line x1="422.1" y1="606.7" x2="428.0" y2="604.3" stroke="#e8c6e6" stroke-width="1.0"/>
<line x1="412.6" y1="589.5" x2="415.3" y2="587.2" stroke="#c4e2b6" stroke-width="1.0"/>
<line x1="418.3" y1="615.1" x2="424.0" y2="612.1" stroke="#c4e2b6" stroke-width="1.0"/>
<line x1="418.3" y1="615.1" x2="417.0" y2="618.4" stroke="#c4e2b6" stroke-width="1.0"/>
<line x1="417.0" y1="618.4" x2="419.2" y2="622.2" stroke="#c4e2b6" stroke-width="1.0"/>
<line x1="393.5" y1="644.9" x2="392.0" y2="650.6" stroke="#c4e2b6" stroke-width="1.0"/>
<line x1="393.5" y1="644.9" x2="399.7" y2="642.6" stroke="#c4e2b6" stroke-width="1.0"/>
<line x1="403.5" y1="620.5" x2="408.2" y2="621.6" stroke="#bae1e1" stroke-width="1.0"/>
<line x1="424.9" y1="626.9" x2="419.5" y2="630.7" stroke="#bae1e1" stroke-width="1.0"/>
<line x1="424.9" y1="626.9" x2="424.9" y2="620.5" stroke="#bae1e1" stroke-width="1.0"/>
<line x1="408.2" y1="621.6" x2="410.7" y2="621.9" stroke="#c4e2b6" stroke-width="1.0"/>
<line x1="414.8" y1="629.5" x2="419.5" y2="630.7" stroke="#c4e2b6" stroke-width="1.0"/>
<line x1="419.5" y1="630.7" x2="423.3" y2="636.6" stroke="#c4e2b6" stroke-width="1.0"/>
<line x1="402.4" y1="630.9" x2="401.0" y2="634.3" stroke="#c4e2b6" stroke-width="1.0"/>
<line x1="401.0" y1="634.3" x2="405.7" y2="634.7" stroke="#c4e2b6" stroke-width="1.0"/>
<line x1="399.7" y1="642.6" x2="403.5" y2="642.5" stroke="#c4e2b6" stroke-width="1.0"/>
<line x1="403.5" y1="642.5" x2="404.4" y2="646.2" stroke="#c4e2b6" stroke-width="1.0"/>
<line x1="409.2" y1="642.5" x2="409.2" y2="646.2" stroke="#c4e2b6" stroke-width="1.0"/>
<line x1="404.4" y1="646.2" x2="409.2" y2="646.2" stroke="#c4e2b6" stroke-width="1.0"/>
<line x1="409.2" y1="646.2" x2="408.5" y2="650.0" stroke="#c4e2b6" stroke-width="1.0"/>
<line x1="414.8" y1="646.5" x2="420.5" y2="645.0" stroke="#c4e2b6" stroke-width="1.0"/>
<line x1="414.8" y1="646.5" x2="412.3" y2="650.0" stroke="#c4e2b6" stroke-width="1.0"/>
<line x1="420.5" y1="645.0" x2="424.3" y2="639.9" stroke="#c4e2b6" stroke-width="1.0"/>
<line x1="408.5" y1="650.0" x2="412.3" y2="650.0" stroke="#c4e2b6" stroke-width="1.0"/>
<line x1="408.5" y1="650.0" x2="401.0" y2="654.1" stroke="#c4e2b6" stroke-width="1.0"/>
<line x1="419.2" y1="622.2" x2="424.9" y2="620.5" stroke="#e8c6e6" stroke-width="1.0"/>
<line x1="424.9" y1="620.5" x2="425.7" y2="619.1" stroke="#e8c6e6" stroke-width="1.0"/>
<line x1="423.3" y1="636.6" x2="425.1" y2="637.1" stroke="#c2ccf1" stroke-width="1.0"/>
<line x1="424.3" y1="639.9" x2="425.1" y2="637.1" stroke="#e7e0ab" stroke-width="1.0"/>
<line x1="424.3" y1="639.9" x2="428.6" y2="642.2" stroke="#e7e0ab" stroke-width="1.0"/>
<line x1="420.5" y1="665.2" x2="427.9" y2="656.6" stroke="#e7e0ab" stroke-width="1.0"/>
<line x1="431.4" y1="634.8" x2="436.1" y2="637.1" stroke="#c2ccf1" stroke-width="1.0"/>
<line x1="436.1" y1="627.1" x2="434.2" y2="627.7" stroke="#c2ccf1" stroke-width="1.0"/>
<line x1="436.1" y1="627.1" x2="436.7" y2="629.6" stroke="#c2ccf1" stroke-width="1.0"/>
<line x1="444.9" y1="628.6" x2="447.8" y2="632.3" stroke="#c2ccf1" stroke-width="1.0"/>
<line x1="439.6" y1="633.8" x2="437.1" y2="631.7" stroke="#c2ccf1" stroke-width="1.0"/>
<line x1="439.6" y1="633.8" x2="436.1" y2="637.1" stroke="#c2ccf1" stroke-width="1.0"/>
<line x1="439.6" y1="633.8" x2="443.4" y2="635.9" stroke="#c2ccf1" stroke-width="1.0"/>
<line x1="445.2" y1="635.0" x2="449.0" y2="634.8" stroke="#c2ccf1" stroke-width="1.0"/>
<line x1="445.2" y1="635.0" x2="443.4" y2="635.9" stroke="#c2ccf1" stroke-width="1.0"/>
<line x1="449.0" y1="634.8" x2="451.2" y2="633.6" stroke="#c2ccf1" stroke-width="1.0"/>
<line x1="449.0" y1="634.8" x2="447.8" y2="632.3" stroke="#c2ccf1" stroke-width="1.0"/>
<line x1="451.2" y1="633.6" x2="453.3" y2="635.3" stroke="#c2ccf1" stroke-width="1.0"/>
<line x1="439.9" y1="641.3" x2="439.3" y2="644.7" stroke="#c2ccf1" stroke-width="1.0"/>
<line x1="428.6" y1="643.9" x2="431.7" y2="645.1" stroke="#c2ccf1" stroke-width="1.0"/>
<line x1="428.6" y1="643.9" x2="428.6" y2="642.2" stroke="#c2ccf1" stroke-width="1.0"/>
<line x1="431.7" y1="645.1" x2="431.4" y2="646.8" stroke="#c2ccf1" stroke-width="1.0"/>
<line x1="436.7" y1="629.6" x2="437.1" y2="631.7" stroke="#e7e0ab" stroke-width="1.0"/>
<line x1="428.6" y1="642.2" x2="432.0" y2="640.9" stroke="#e7e0ab" stroke-width="1.0"/>
<line x1="432.0" y1="640.9" x2="436.1" y2="637.1" stroke="#e7e0ab" stroke-width="1.0"/>
<line x1="451.5" y1="616.6" x2="458.7" y2="616.3" stroke="#e7e0ab" stroke-width="1.0"/>
<line x1="451.9" y1="625.8" x2="456.5" y2="625.7" stroke="#e7e0ab" stroke-width="1.0"/>
<line x1="439.3" y1="644.7" x2="436.7" y2="646.8" stroke="#e7e0ab" stroke-width="1.0"/>
<line x1="444.6" y1="646.0" x2="445.6" y2="649.9" stroke="#e7e0ab" stroke-width="1.0"/>
<line x1="436.7" y1="646.8" x2="431.4" y2="646.8" stroke="#e7e0ab" stroke-width="1.0"/>
<line x1="436.7" y1="646.8" x2="438.6" y2="649.0" stroke="#e7e0ab" stroke-width="1.0"/>
<line x1="431.4" y1="646.8" x2="430.5" y2="647.9" stroke="#e7e0ab" stroke-width="1.0"/>
<line x1="430.5" y1="647.9" x2="427.3" y2="649.9" stroke="#e7e0ab" stroke-width="1.0"/>
<line x1="442.7" y1="650.3" x2="438.6" y2="649.0" stroke="#e7e0ab" stroke-width="1.0"/>
<line x1="442.7" y1="650.3" x2="445.6" y2="649.9" stroke="#e7e0ab" stroke-width="1.0"/>
<line x1="444.9" y1="652.6" x2="445.6" y2="649.9" stroke="#e7e0ab" stroke-width="1.0"/>
<line x1="444.9" y1="652.6" x2="442.7" y2="659.7" stroke="#e7e0ab" stroke-width="1.0"/>
<line x1="436.1" y1="651.0" x2="438.6" y2="649.0" stroke="#e7e0ab" stroke-width="1.0"/>
<line x1="427.9" y1="656.6" x2="427.3" y2="649.9" stroke="#e7e0ab" stroke-width="1.0"/>
<line x1="427.9" y1="656.6" x2="431.7" y2="659.5" stroke="#e7e0ab" stroke-width="1.0"/>
<line x1="442.7" y1="661.9" x2="442.7" y2="659.7" stroke="#e7e0ab" stroke-width="1.0"/>
<line x1="445.6" y1="649.9" x2="449.0" y2="648.2" stroke="#c2ccf1" stroke-width="1.0"/>
<line x1="449.0" y1="648.2" x2="451.9" y2="649.3" stroke="#c2ccf1" stroke-width="1.0"/>
<line x1="451.9" y1="649.3" x2="450.6" y2="652.6" stroke="#c2ccf1" stroke-width="1.0"/>
<line x1="418.1" y1="577.7" x2="412.1" y2="579.1" stroke="#eac6d1" stroke-width="1.0"/>
<line x1="418.1" y1="577.7" x2="417.5" y2="576.3" stroke="#eac6d1" stroke-width="1.0"/>
<line x1="423.1" y1="576.6" x2="426.3" y2="575.5" stroke="#eac6d1" stroke-width="1.0"/>
<line x1="423.1" y1="576.6" x2="419.0" y2="575.9" stroke="#eac6d1" stroke-width="1.0"/>
<line x1="407.7" y1="581.8" x2="403.9" y2="583.6" stroke="#eac6d1" stroke-width="1.0"/>
<line x1="403.9" y1="583.6" x2="400.5" y2="585.1" stroke="#eac6d1" stroke-width="1.0"/>
<line x1="398.9" y1="583.0" x2="400.5" y2="585.1" stroke="#eac6d1" stroke-width="1.0"/>
<line x1="413.4" y1="585.1" x2="415.3" y2="587.2" stroke="#eac6d1" stroke-width="1.0"/>
<line x1="417.5" y1="576.3" x2="419.0" y2="575.9" stroke="#e8c6e6" stroke-width="1.0"/>
<line x1="426.9" y1="582.6" x2="433.7" y2="582.7" stroke="#e8c6e6" stroke-width="1.0"/>
<line x1="426.9" y1="591.2" x2="429.7" y2="590.2" stroke="#e8c6e6" stroke-width="1.0"/>
<line x1="426.9" y1="591.2" x2="426.8" y2="594.6" stroke="#e8c6e6" stroke-width="1.0"/>
<line x1="429.7" y1="590.2" x2="432.1" y2="590.6" stroke="#e8c6e6" stroke-width="1.0"/>
<line x1="437.0" y1="578.5" x2="433.7" y2="581.0" stroke="#e8c6e6" stroke-width="1.0"/>
<line x1="433.7" y1="582.7" x2="437.8" y2="585.8" stroke="#e8c6e6" stroke-width="1.0"/>
<line x1="433.7" y1="582.7" x2="433.7" y2="581.0" stroke="#e8c6e6" stroke-width="1.0"/>
<line x1="439.4" y1="582.9" x2="441.6" y2="582.7" stroke="#e8c6e6" stroke-width="1.0"/>
<line x1="439.4" y1="582.9" x2="437.8" y2="585.8" stroke="#e8c6e6" stroke-width="1.0"/>
<line x1="437.8" y1="585.8" x2="436.9" y2="587.9" stroke="#e8c6e6" stroke-width="1.0"/>
<line x1="436.9" y1="587.9" x2="432.8" y2="587.5" stroke="#e8c6e6" stroke-width="1.0"/>
<line x1="436.9" y1="587.9" x2="437.2" y2="590.0" stroke="#e8c6e6" stroke-width="1.0"/>
<line x1="432.8" y1="587.5" x2="432.1" y2="590.6" stroke="#e8c6e6" stroke-width="1.0"/>
<line x1="437.2" y1="590.0" x2="439.7" y2="591.3" stroke="#e8c6e6" stroke-width="1.0"/>
<line x1="439.7" y1="591.3" x2="441.6" y2="591.7" stroke="#e8c6e6" stroke-width="1.0"/>
<line x1="439.7" y1="591.3" x2="441.6" y2="588.3" stroke="#e8c6e6" stroke-width="1.0"/>
<line x1="448.2" y1="579.9" x2="450.7" y2="579.9" stroke="#e8c6e6" stroke-width="1.0"/>
<line x1="450.7" y1="579.9" x2="451.6" y2="584.1" stroke="#e8c6e6" stroke-width="1.0"/>
<line x1="451.0" y1="574.1" x2="453.5" y2="574.1" stroke="#e8c6e6" stroke-width="1.0"/>
<line x1="453.5" y1="574.1" x2="457.3" y2="577.4" stroke="#e8c6e6" stroke-width="1.0"/>
<line x1="457.3" y1="577.4" x2="460.7" y2="581.8" stroke="#e8c6e6" stroke-width="1.0"/>
<line x1="448.5" y1="588.8" x2="450.1" y2="587.2" stroke="#e8c6e6" stroke-width="1.0"/>
<line x1="448.5" y1="588.8" x2="441.6" y2="588.3" stroke="#e8c6e6" stroke-width="1.0"/>
<line x1="450.1" y1="587.2" x2="453.5" y2="587.9" stroke="#e8c6e6" stroke-width="1.0"/>
<line x1="450.1" y1="587.2" x2="451.6" y2="584.1" stroke="#e8c6e6" stroke-width="1.0"/>
<line x1="453.5" y1="587.9" x2="457.3" y2="586.7" stroke="#e8c6e6" stroke-width="1.0"/>
<line x1="453.5" y1="587.9" x2="454.5" y2="591.3" stroke="#e8c6e6" stroke-width="1.0"/>
<line x1="457.3" y1="586.7" x2="460.7" y2="581.8" stroke="#e8c6e6" stroke-width="1.0"/>
<line x1="454.5" y1="591.3" x2="455.1" y2="594.5" stroke="#e8c6e6" stroke-width="1.0"/>
<line x1="455.1" y1="594.5" x2="449.4" y2="595.3" stroke="#e8c6e6" stroke-width="1.0"/>
<line x1="455.1" y1="594.5" x2="460.3" y2="597.0" stroke="#e8c6e6" stroke-width="1.0"/>
<line x1="448.2" y1="594.5" x2="449.4" y2="595.3" stroke="#e8c6e6" stroke-width="1.0"/>
<line x1="449.4" y1="595.3" x2="449.1" y2="598.0" stroke="#e8c6e6" stroke-width="1.0"/>
<line x1="429.0" y1="599.7" x2="433.4" y2="600.1" stroke="#e8c6e6" stroke-width="1.0"/>
<line x1="440.3" y1="598.8" x2="435.9" y2="599.8" stroke="#e8c6e6" stroke-width="1.0"/>
<line x1="433.4" y1="602.6" x2="435.3" y2="602.6" stroke="#e8c6e6" stroke-width="1.0"/>
<line x1="433.4" y1="602.6" x2="431.5" y2="605.5" stroke="#e8c6e6" stroke-width="1.0"/>
<line x1="433.4" y1="602.6" x2="433.4" y2="600.1" stroke="#e8c6e6" stroke-width="1.0"/>
<line x1="428.0" y1="604.3" x2="431.5" y2="605.5" stroke="#e8c6e6" stroke-width="1.0"/>
<line x1="431.5" y1="605.5" x2="437.6" y2="610.5" stroke="#e8c6e6" stroke-width="1.0"/>
<line x1="433.4" y1="600.1" x2="435.9" y2="599.8" stroke="#c4e2b6" stroke-width="1.0"/>
<line x1="435.9" y1="599.8" x2="436.5" y2="594.6" stroke="#c4e2b6" stroke-width="1.0"/>
<line x1="432.1" y1="590.6" x2="433.4" y2="593.0" stroke="#e7e0ab" stroke-width="1.0"/>
<line x1="433.4" y1="593.0" x2="436.5" y2="594.6" stroke="#e7e0ab" stroke-width="1.0"/>
<line x1="481.4" y1="569.0" x2="484.3" y2="572.5" stroke="#e8c6e6" stroke-width="1.0"/>
<line x1="484.3" y1="572.5" x2="487.6" y2="572.5" stroke="#e8c6e6" stroke-width="1.0"/>
<line x1="460.7" y1="581.8" x2="464.7" y2="583.6" stroke="#e8c6e6" stroke-width="1.0"/>
<line x1="472.3" y1="575.9" x2="469.2" y2="580.1" stroke="#e8c6e6" stroke-width="1.0"/>
<line x1="469.2" y1="580.1" x2="464.7" y2="583.6" stroke="#e8c6e6" stroke-width="1.0"/>
<line x1="469.2" y1="580.1" x2="474.2" y2="581.7" stroke="#e8c6e6" stroke-width="1.0"/>
<line x1="475.8" y1="580.5" x2="483.9" y2="578.8" stroke="#e8c6e6" stroke-width="1.0"/>
<line x1="475.8" y1="580.5" x2="474.2" y2="581.7" stroke="#e8c6e6" stroke-width="1.0"/>
<line x1="483.9" y1="578.8" x2="490.8" y2="578.0" stroke="#e8c6e6" stroke-width="1.0"/>
<line x1="487.6" y1="572.5" x2="490.1" y2="573.8" stroke="#e8c6e6" stroke-width="1.0"/>
<line x1="490.1" y1="573.8" x2="490.8" y2="578.0" stroke="#e8c6e6" stroke-width="1.0"/>
<line x1="490.8" y1="578.0" x2="490.4" y2="581.3" stroke="#e8c6e6" stroke-width="1.0"/>
<line x1="490.4" y1="581.3" x2="492.3" y2="586.9" stroke="#e8c6e6" stroke-width="1.0"/>
<line x1="498.9" y1="566.8" x2="500.2" y2="569.8" stroke="#e8c6e6" stroke-width="1.0"/>
<line x1="460.3" y1="597.0" x2="463.5" y2="591.6" stroke="#e8c6e6" stroke-width="1.0"/>
<line x1="460.3" y1="597.0" x2="465.4" y2="598.9" stroke="#e8c6e6" stroke-width="1.0"/>
<line x1="465.4" y1="598.9" x2="468.5" y2="596.8" stroke="#e8c6e6" stroke-width="1.0"/>
<line x1="465.4" y1="598.9" x2="461.9" y2="605.4" stroke="#e8c6e6" stroke-width="1.0"/>
<line x1="474.2" y1="581.7" x2="477.0" y2="586.1" stroke="#e8c6e6" stroke-width="1.0"/>
<line x1="480.5" y1="588.6" x2="476.4" y2="592.2" stroke="#e8c6e6" stroke-width="1.0"/>
<line x1="480.5" y1="588.6" x2="477.0" y2="586.1" stroke="#e8c6e6" stroke-width="1.0"/>
<line x1="482.7" y1="603.7" x2="482.7" y2="605.8" stroke="#e7e0ab" stroke-width="1.0"/>
<line x1="482.7" y1="605.8" x2="483.9" y2="609.6" stroke="#e7e0ab" stroke-width="1.0"/>
<line x1="480.8" y1="610.4" x2="483.9" y2="609.6" stroke="#e7e0ab" stroke-width="1.0"/>
<line x1="480.8" y1="610.4" x2="479.4" y2="610.2" stroke="#e7e0ab" stroke-width="1.0"/>
<line x1="483.9" y1="609.6" x2="488.6" y2="610.9" stroke="#e7e0ab" stroke-width="1.0"/>
<line x1="495.4" y1="607.9" x2="488.6" y2="610.9" stroke="#e7e0ab" stroke-width="1.0"/>
<line x1="488.6" y1="610.9" x2="489.7" y2="613.1" stroke="#e7e0ab" stroke-width="1.0"/>
<line x1="458.7" y1="616.3" x2="462.1" y2="614.8" stroke="#e7e0ab" stroke-width="1.0"/>
<line x1="458.7" y1="616.3" x2="459.3" y2="620.5" stroke="#e7e0ab" stroke-width="1.0"/>
<line x1="462.1" y1="614.8" x2="467.2" y2="616.9" stroke="#e7e0ab" stroke-width="1.0"/>
<line x1="459.3" y1="620.5" x2="462.1" y2="624.2" stroke="#e7e0ab" stroke-width="1.0"/>
<line x1="462.1" y1="624.2" x2="463.7" y2="623.3" stroke="#e7e0ab" stroke-width="1.0"/>
<line x1="462.1" y1="624.2" x2="456.5" y2="625.7" stroke="#e7e0ab" stroke-width="1.0"/>
<line x1="467.2" y1="616.9" x2="469.0" y2="613.8" stroke="#e7e0ab" stroke-width="1.0"/>
<line x1="467.2" y1="616.9" x2="469.0" y2="621.1" stroke="#e7e0ab" stroke-width="1.0"/>
<line x1="469.0" y1="613.8" x2="473.1" y2="614.9" stroke="#e7e0ab" stroke-width="1.0"/>
<line x1="473.1" y1="614.9" x2="479.4" y2="610.2" stroke="#e7e0ab" stroke-width="1.0"/>
<line x1="469.0" y1="621.1" x2="469.7" y2="622.7" stroke="#e7e0ab" stroke-width="1.0"/>
<line x1="469.7" y1="622.7" x2="472.5" y2="621.5" stroke="#e7e0ab" stroke-width="1.0"/>
<line x1="469.7" y1="622.7" x2="470.9" y2="626.9" stroke="#e7e0ab" stroke-width="1.0"/>
<line x1="472.5" y1="621.5" x2="473.8" y2="623.2" stroke="#e7e0ab" stroke-width="1.0"/>
<line x1="473.8" y1="623.2" x2="480.1" y2="624.4" stroke="#e7e0ab" stroke-width="1.0"/>
<line x1="470.9" y1="626.9" x2="469.4" y2="630.5" stroke="#e7e0ab" stroke-width="1.0"/>
<line x1="469.4" y1="630.5" x2="472.2" y2="632.0" stroke="#e7e0ab" stroke-width="1.0"/>
<line x1="472.2" y1="632.0" x2="473.8" y2="632.2" stroke="#e7e0ab" stroke-width="1.0"/>
<line x1="472.2" y1="632.0" x2="470.3" y2="635.3" stroke="#e7e0ab" stroke-width="1.0"/>
<line x1="470.3" y1="635.3" x2="466.5" y2="634.9" stroke="#e7e0ab" stroke-width="1.0"/>
<line x1="470.3" y1="635.3" x2="469.4" y2="640.5" stroke="#e7e0ab" stroke-width="1.0"/>
<line x1="456.5" y1="625.7" x2="456.5" y2="628.6" stroke="#e7e0ab" stroke-width="1.0"/>
<line x1="456.5" y1="628.6" x2="456.1" y2="631.7" stroke="#e7e0ab" stroke-width="1.0"/>
<line x1="456.1" y1="631.7" x2="459.9" y2="633.6" stroke="#e7e0ab" stroke-width="1.0"/>
<line x1="456.1" y1="631.7" x2="453.3" y2="635.3" stroke="#e7e0ab" stroke-width="1.0"/>
<line x1="453.3" y1="635.3" x2="456.8" y2="637.4" stroke="#e7e0ab" stroke-width="1.0"/>
<line x1="456.8" y1="637.4" x2="459.3" y2="642.2" stroke="#e7e0ab" stroke-width="1.0"/>
<line x1="463.1" y1="639.5" x2="459.3" y2="642.2" stroke="#e7e0ab" stroke-width="1.0"/>
<line x1="480.1" y1="624.4" x2="483.1" y2="628.0" stroke="#e7e0ab" stroke-width="1.0"/>
<line x1="483.1" y1="628.0" x2="484.7" y2="630.3" stroke="#e7e0ab" stroke-width="1.0"/>
<line x1="484.7" y1="630.3" x2="485.6" y2="632.8" stroke="#e7e0ab" stroke-width="1.0"/>
<line x1="485.6" y1="632.8" x2="481.2" y2="637.8" stroke="#e7e0ab" stroke-width="1.0"/>
<line x1="485.6" y1="632.8" x2="501.0" y2="630.3" stroke="#e7e0ab" stroke-width="1.0"/>
<line x1="457.4" y1="643.4" x2="459.3" y2="642.2" stroke="#e7e0ab" stroke-width="1.0"/>
<line x1="457.4" y1="643.4" x2="464.5" y2="651.2" stroke="#e7e0ab" stroke-width="1.0"/>
<line x1="464.5" y1="651.2" x2="474.7" y2="650.2" stroke="#e7e0ab" stroke-width="1.0"/>
<line x1="474.7" y1="650.2" x2="479.1" y2="653.9" stroke="#e7e0ab" stroke-width="1.0"/>
<line x1="479.1" y1="653.9" x2="475.3" y2="664.7" stroke="#e7e0ab" stroke-width="1.0"/>
<line x1="479.1" y1="653.9" x2="482.8" y2="647.6" stroke="#e7e0ab" stroke-width="1.0"/>
<line x1="437.6" y1="610.5" x2="443.9" y2="610.5" stroke="#e8c6e6" stroke-width="1.0"/>
<polyline points="473.0,543.1 466.1,543.5 461.7,545.9 465.0,549.0 468.3,551.4 466.6,556.7 473.6,558.9 478.3,559.8 482.2,563.0 482.3,567.7 484.2,572.3 487.6,572.5 490.1,573.8 490.7,578.0" fill="none" stroke="#7b7b7b" stroke-width="1.0" stroke-linejoin="round"/>
<polyline points="490.7,578.0 483.9,578.9 475.7,580.5 474.2,581.7 469.1,580.2 464.7,583.6 461.0,582.5 457.9,586.5 457.3,586.6 453.5,587.9 449.7,587.5 447.2,588.7 444.7,588.7 441.5,588.3 437.5,587.1 435.3,587.5 432.1,588.7 429.6,590.4 426.7,593.9 424.6,594.3 421.4,594.5 418.9,593.7 417.0,593.7 414.8,593.2 413.9,592.0 412.8,589.8 415.3,587.2 411.8,584.4 409.9,583.0 407.7,581.6 403.9,583.6 400.5,586.0 400.4,589.5 399.7,592.4 400.0,597.0 401.3,599.6 402.6,600.8 401.0,606.3 398.6,612.1 396.9,616.4" fill="none" stroke="#7b7b7b" stroke-width="1.0" stroke-linejoin="round"/>
<polyline points="396.9,616.4 397.2,618.6 403.5,620.4 408.2,621.9 411.4,621.9 417.0,619.4 419.2,621.9 425.2,619.7 424.8,626.3 420.1,630.8 422.4,635.7 424.2,640.1 428.6,642.2 432.0,641.0 436.1,637.2 439.6,633.8 443.3,635.9 445.6,635.1 449.0,634.8 451.2,633.8 453.3,635.4 456.8,637.4 459.0,642.6 462.4,640.5 464.7,637.4 466.5,634.9 470.3,635.4 470.9,632.4 469.4,630.6 470.0,629.5 470.9,626.9 469.7,624.8 469.7,621.0 468.4,618.6 468.1,615.6 469.0,613.8 470.9,614.3 473.1,614.9 474.7,613.8 480.9,610.8 483.1,609.3 488.4,611.9 490.0,613.1 495.4,607.9" fill="none" stroke="#7b7b7b" stroke-width="1.0" stroke-linejoin="round"/>
<circle cx="390.2" cy="575.1" r="1.4" fill="#1c3468" stroke="none" stroke-width="0"/>
<circle cx="388.5" cy="578.8" r="1.4" fill="#1c3468" stroke="none" stroke-width="0"/>
<circle cx="389.2" cy="583.2" r="1.4" fill="#1c3468" stroke="none" stroke-width="0"/>
<circle cx="395.0" cy="585.3" r="1.4" fill="#1c3468" stroke="none" stroke-width="0"/>
<circle cx="399.0" cy="590.3" r="1.4" fill="#1c3468" stroke="none" stroke-width="0"/>
<circle cx="406.4" cy="597.7" r="1.4" fill="#1c3468" stroke="none" stroke-width="0"/>
<circle cx="409.8" cy="600.0" r="1.4" fill="#1c3468" stroke="none" stroke-width="0"/>
<circle cx="405.0" cy="603.3" r="1.4" fill="#1c3468" stroke="none" stroke-width="0"/>
<circle cx="403.1" cy="604.4" r="1.4" fill="#1c3468" stroke="none" stroke-width="0"/>
<circle cx="406.3" cy="606.8" r="1.4" fill="#1c3468" stroke="none" stroke-width="0"/>
<circle cx="406.7" cy="611.4" r="1.4" fill="#1c3468" stroke="none" stroke-width="0"/>
<circle cx="394.6" cy="615.9" r="1.4" fill="#1c3468" stroke="none" stroke-width="0"/>
<circle cx="424.2" cy="577.8" r="1.4" fill="#1c3468" stroke="none" stroke-width="0"/>
<circle cx="399.0" cy="619.4" r="1.4" fill="#1c3468" stroke="none" stroke-width="0"/>
<circle cx="398.6" cy="621.7" r="1.4" fill="#1c3468" stroke="none" stroke-width="0"/>
<circle cx="402.3" cy="621.2" r="1.4" fill="#1c3468" stroke="none" stroke-width="0"/>
<circle cx="405.8" cy="620.8" r="1.4" fill="#1c3468" stroke="none" stroke-width="0"/>
<circle cx="419.5" cy="619.4" r="1.4" fill="#1c3468" stroke="none" stroke-width="0"/>
<circle cx="394.6" cy="626.1" r="1.4" fill="#1c3468" stroke="none" stroke-width="0"/>
<circle cx="399.6" cy="630.8" r="1.4" fill="#1c3468" stroke="none" stroke-width="0"/>
<circle cx="409.8" cy="631.5" r="1.4" fill="#1c3468" stroke="none" stroke-width="0"/>
<circle cx="409.0" cy="634.6" r="1.4" fill="#1c3468" stroke="none" stroke-width="0"/>
<circle cx="419.8" cy="630.6" r="1.4" fill="#1c3468" stroke="none" stroke-width="0"/>
<circle cx="426.9" cy="637.6" r="1.4" fill="#1c3468" stroke="none" stroke-width="0"/>
<circle cx="403.1" cy="641.3" r="1.4" fill="#1c3468" stroke="none" stroke-width="0"/>
<circle cx="410.8" cy="646.7" r="1.4" fill="#1c3468" stroke="none" stroke-width="0"/>
<circle cx="412.8" cy="646.7" r="1.4" fill="#1c3468" stroke="none" stroke-width="0"/>
<circle cx="411.4" cy="651.3" r="1.4" fill="#1c3468" stroke="none" stroke-width="0"/>
<circle cx="436.3" cy="645.7" r="1.4" fill="#1c3468" stroke="none" stroke-width="0"/>
<circle cx="490.8" cy="555.3" r="1.4" fill="#1c3468" stroke="none" stroke-width="0"/>
<circle cx="498.7" cy="554.3" r="1.4" fill="#1c3468" stroke="none" stroke-width="0"/>
<circle cx="491.4" cy="559.7" r="1.4" fill="#1c3468" stroke="none" stroke-width="0"/>
<circle cx="500.1" cy="559.0" r="1.4" fill="#1c3468" stroke="none" stroke-width="0"/>
<circle cx="484.5" cy="561.9" r="1.4" fill="#1c3468" stroke="none" stroke-width="0"/>
<circle cx="488.9" cy="562.7" r="1.4" fill="#1c3468" stroke="none" stroke-width="0"/>
<circle cx="489.3" cy="564.6" r="1.4" fill="#1c3468" stroke="none" stroke-width="0"/>
<circle cx="493.7" cy="561.9" r="1.4" fill="#1c3468" stroke="none" stroke-width="0"/>
<circle cx="497.7" cy="561.2" r="1.4" fill="#1c3468" stroke="none" stroke-width="0"/>
<circle cx="501.3" cy="566.0" r="1.4" fill="#1c3468" stroke="none" stroke-width="0"/>
<circle cx="489.6" cy="567.0" r="1.4" fill="#1c3468" stroke="none" stroke-width="0"/>
<circle cx="491.8" cy="567.5" r="1.4" fill="#1c3468" stroke="none" stroke-width="0"/>
<circle cx="481.9" cy="568.8" r="1.4" fill="#1c3468" stroke="none" stroke-width="0"/>
<circle cx="486.0" cy="568.9" r="1.4" fill="#1c3468" stroke="none" stroke-width="0"/>
<circle cx="498.4" cy="568.5" r="1.4" fill="#1c3468" stroke="none" stroke-width="0"/>
<circle cx="498.1" cy="571.9" r="1.4" fill="#1c3468" stroke="none" stroke-width="0"/>
<circle cx="438.5" cy="576.8" r="1.4" fill="#1c3468" stroke="none" stroke-width="0"/>
<circle cx="457.8" cy="583.6" r="1.4" fill="#1c3468" stroke="none" stroke-width="0"/>
<circle cx="465.2" cy="585.0" r="1.4" fill="#1c3468" stroke="none" stroke-width="0"/>
<circle cx="484.1" cy="582.4" r="1.4" fill="#1c3468" stroke="none" stroke-width="0"/>
<circle cx="480.1" cy="590.4" r="1.4" fill="#1c3468" stroke="none" stroke-width="0"/>
<circle cx="438.2" cy="650.3" r="1.4" fill="#1c3468" stroke="none" stroke-width="0"/>
</g>
<rect x="366.80" y="515.70" width="146.20" height="156.50" fill="none" stroke="#111" stroke-width="1.45"/>
<line x1="371.2" y1="672.9" x2="371.2" y2="675.7" stroke="#111" stroke-width="1"/>
<text x="368.81" y="685.90" font-size="8.6" font-weight="normal" fill="#1a1a1a" stroke="#1a1a1a" stroke-width="0.22" textLength="4.78" lengthAdjust="spacingAndGlyphs">0</text>
<line x1="401.3" y1="672.9" x2="401.3" y2="675.7" stroke="#111" stroke-width="1"/>
<text x="398.89" y="685.90" font-size="8.6" font-weight="normal" fill="#1a1a1a" stroke="#1a1a1a" stroke-width="0.22" textLength="4.78" lengthAdjust="spacingAndGlyphs">5</text>
<line x1="431.3" y1="672.9" x2="431.3" y2="675.7" stroke="#111" stroke-width="1"/>
<text x="426.58" y="685.90" font-size="8.6" font-weight="normal" fill="#1a1a1a" stroke="#1a1a1a" stroke-width="0.22" textLength="9.57" lengthAdjust="spacingAndGlyphs">10</text>
<line x1="461.4" y1="672.9" x2="461.4" y2="675.7" stroke="#111" stroke-width="1"/>
<text x="456.65" y="685.90" font-size="8.6" font-weight="normal" fill="#1a1a1a" stroke="#1a1a1a" stroke-width="0.22" textLength="9.57" lengthAdjust="spacingAndGlyphs">15</text>
<line x1="491.5" y1="672.9" x2="491.5" y2="675.7" stroke="#111" stroke-width="1"/>
<text x="486.73" y="685.90" font-size="8.6" font-weight="normal" fill="#1a1a1a" stroke="#1a1a1a" stroke-width="0.22" textLength="9.57" lengthAdjust="spacingAndGlyphs">20</text>
<line x1="35.7" y1="312.7" x2="38.9" y2="312.7" stroke="#111" stroke-width="1"/>
<text x="22.45" y="315.65" font-size="8.6" font-weight="normal" fill="#1a1a1a" stroke="#1a1a1a" stroke-width="0.22" textLength="9.57" lengthAdjust="spacingAndGlyphs">30</text>
<line x1="35.9" y1="531.5" x2="39.2" y2="531.5" stroke="#111" stroke-width="1"/>
<text x="22.45" y="534.45" font-size="8.6" font-weight="normal" fill="#1a1a1a" stroke="#1a1a1a" stroke-width="0.22" textLength="9.57" lengthAdjust="spacingAndGlyphs">30</text>
<line x1="35.7" y1="363.7" x2="38.9" y2="363.7" stroke="#111" stroke-width="1"/>
<text x="22.45" y="366.65" font-size="8.6" font-weight="normal" fill="#1a1a1a" stroke="#1a1a1a" stroke-width="0.22" textLength="9.57" lengthAdjust="spacingAndGlyphs">20</text>
<line x1="35.9" y1="582.5" x2="39.2" y2="582.5" stroke="#111" stroke-width="1"/>
<text x="22.45" y="585.50" font-size="8.6" font-weight="normal" fill="#1a1a1a" stroke="#1a1a1a" stroke-width="0.22" textLength="9.57" lengthAdjust="spacingAndGlyphs">20</text>
<line x1="35.7" y1="414.7" x2="38.9" y2="414.7" stroke="#111" stroke-width="1"/>
<text x="22.45" y="417.65" font-size="8.6" font-weight="normal" fill="#1a1a1a" stroke="#1a1a1a" stroke-width="0.22" textLength="9.57" lengthAdjust="spacingAndGlyphs">10</text>
<line x1="35.9" y1="633.6" x2="39.2" y2="633.6" stroke="#111" stroke-width="1"/>
<text x="22.45" y="636.55" font-size="8.6" font-weight="normal" fill="#1a1a1a" stroke="#1a1a1a" stroke-width="0.22" textLength="9.57" lengthAdjust="spacingAndGlyphs">10</text>
<text x="0" y="0" font-size="9.4" fill="#1a1a1a" stroke="#1a1a1a" stroke-width="0.22" textLength="51.69" lengthAdjust="spacingAndGlyphs" transform="translate(16.40,400.40) rotate(-90)">Component 1</text>
<text x="0" y="0" font-size="9.4" fill="#1a1a1a" stroke="#1a1a1a" stroke-width="0.22" textLength="50.69" lengthAdjust="spacingAndGlyphs" transform="translate(14.80,625.30) rotate(-90)">Component 1</text>
<text x="239.50" y="479.70" font-size="9.4" font-weight="normal" fill="#1a1a1a" stroke="#1a1a1a" stroke-width="0.22" textLength="52.39" lengthAdjust="spacingAndGlyphs">Component 2</text>
<text x="232.30" y="699.40" font-size="9.4" font-weight="normal" fill="#1a1a1a" stroke="#1a1a1a" stroke-width="0.22" textLength="51.89" lengthAdjust="spacingAndGlyphs">Component 2</text>
<text x="6.90" y="287.70" font-size="12.5" font-weight="bold" fill="#000" stroke="#000" stroke-width="0.3" textLength="6.92" lengthAdjust="spacingAndGlyphs">B</text>
<text x="8.10" y="503.90" font-size="12.5" font-weight="bold" fill="#000" stroke="#000" stroke-width="0.3" textLength="7.72" lengthAdjust="spacingAndGlyphs">C</text>
<text x="354.50" y="503.70" font-size="12.5" font-weight="bold" fill="#000" stroke="#000" stroke-width="0.3" textLength="7.32" lengthAdjust="spacingAndGlyphs">D</text>
<text x="92.00" y="289.40" font-size="10.6" font-weight="bold" fill="#111" stroke="#111" stroke-width="0.3" textLength="40.28" lengthAdjust="spacingAndGlyphs">Patient 1</text>
<line x1="90.1" y1="291.6" x2="135.2" y2="291.6" stroke="#111" stroke-width="1.15"/>
<text x="246.60" y="289.40" font-size="10.6" font-weight="bold" fill="#111" stroke="#111" stroke-width="0.3" textLength="41.28" lengthAdjust="spacingAndGlyphs">Patient 2</text>
<line x1="244.5" y1="291.6" x2="289.9" y2="291.6" stroke="#111" stroke-width="1.15"/>
<text x="402.00" y="289.40" font-size="10.6" font-weight="bold" fill="#111" stroke="#111" stroke-width="0.3" textLength="41.28" lengthAdjust="spacingAndGlyphs">Patient 3</text>
<line x1="399.8" y1="291.6" x2="444.9" y2="291.6" stroke="#111" stroke-width="1.15"/>
<text x="170.60" y="508.20" font-size="10.6" font-weight="bold" fill="#111" stroke="#111" stroke-width="0.3" textLength="41.08" lengthAdjust="spacingAndGlyphs">Patient 4</text>
<line x1="138.1" y1="511.7" x2="236.2" y2="511.7" stroke="#111" stroke-width="1.15"/>
<text x="419.00" y="508.00" font-size="10.6" font-weight="bold" fill="#111" stroke="#111" stroke-width="0.3" textLength="41.08" lengthAdjust="spacingAndGlyphs">Patient 5</text>
<line x1="416.2" y1="510.7" x2="461.9" y2="510.7" stroke="#111" stroke-width="1.15"/>
<circle cx="46.6" cy="303.4" r="3.45" fill="#3b65a8" stroke="none" stroke-width="0"/>
<text x="0" y="0" font-size="8.9" fill="#1a1a1a" stroke="#1a1a1a" stroke-width="0.2" transform="translate(52.8,306.4) scale(0.88,1)">Mono 7 CD34<tspan dy="-3.2" font-size="5.6">+</tspan></text>
<circle cx="46.6" cy="315.0" r="3.45" fill="#fff" stroke="#2f5490" stroke-width="1.25"/>
<text x="0" y="0" font-size="8.9" fill="#1a1a1a" stroke="#1a1a1a" stroke-width="0.2" transform="translate(52.8,317.8) scale(0.88,1)">Diploid CD34<tspan dy="-3.2" font-size="5.6">+</tspan></text>
<circle cx="199.4" cy="303.4" r="3.45" fill="#3b65a8" stroke="none" stroke-width="0"/>
<text x="0" y="0" font-size="8.9" fill="#1a1a1a" stroke="#1a1a1a" stroke-width="0.2" transform="translate(205.9,306.4) scale(0.88,1)">Mono 7 CD34<tspan dy="-3.2" font-size="5.6">+</tspan></text>
<circle cx="199.4" cy="315.0" r="3.45" fill="#fff" stroke="#2f5490" stroke-width="1.25"/>
<text x="0" y="0" font-size="8.9" fill="#1a1a1a" stroke="#1a1a1a" stroke-width="0.2" transform="translate(205.9,317.8) scale(0.88,1)">Diploid CD34<tspan dy="-3.2" font-size="5.6">+</tspan></text>
<circle cx="354.7" cy="303.6" r="3.45" fill="#3b65a8" stroke="none" stroke-width="0"/>
<text x="0" y="0" font-size="8.9" fill="#1a1a1a" stroke="#1a1a1a" stroke-width="0.2" transform="translate(361.5,306.2) scale(0.88,1)">Del(7q) CD34<tspan dy="-3.2" font-size="5.6">+</tspan></text>
<circle cx="354.7" cy="314.8" r="3.45" fill="#fff" stroke="#2f5490" stroke-width="1.25"/>
<text x="0" y="0" font-size="8.9" fill="#1a1a1a" stroke="#1a1a1a" stroke-width="0.2" transform="translate(361.5,317.4) scale(0.88,1)">Diploid CD34<tspan dy="-3.2" font-size="5.6">+</tspan></text>
<circle cx="47.0" cy="524.2" r="3.45" fill="#cc3a1e" stroke="none" stroke-width="0"/>
<text x="0" y="0" font-size="8.9" fill="#1a1a1a" stroke="#1a1a1a" stroke-width="0.2" transform="translate(54.0,526.8) scale(0.88,1)">Mono 7 CD34<tspan dy="-3.2" font-size="5.6">+</tspan><tspan dy="3.2">CD38</tspan><tspan dy="-3.2" font-size="5.6">−</tspan></text>
<circle cx="47.0" cy="535.1" r="3.45" fill="#6fbdb5" stroke="none" stroke-width="0"/>
<text x="0" y="0" font-size="8.9" fill="#1a1a1a" stroke="#1a1a1a" stroke-width="0.2" transform="translate(54.0,537.6) scale(0.88,1)">Mono 7 CD34<tspan dy="-3.2" font-size="5.6">+</tspan><tspan dy="3.2">CD38</tspan><tspan dy="-3.2" font-size="5.6">+</tspan></text>
<circle cx="198.1" cy="522.8" r="3.45" fill="#fff" stroke="#c24a24" stroke-width="1.3"/>
<text x="0" y="0" font-size="8.9" fill="#1a1a1a" stroke="#1a1a1a" stroke-width="0.2" transform="translate(206.6,525.3) scale(0.88,1)">Diploid CD34<tspan dy="-3.2" font-size="5.6">+</tspan><tspan dy="3.2">CD38</tspan><tspan dy="-3.2" font-size="5.6">−</tspan></text>
<circle cx="198.1" cy="533.3" r="3.45" fill="#fff" stroke="#7cc3bb" stroke-width="1.3"/>
<text x="0" y="0" font-size="8.9" fill="#1a1a1a" stroke="#1a1a1a" stroke-width="0.2" transform="translate(206.6,536.0) scale(0.88,1)">Diploid CD34<tspan dy="-3.2" font-size="5.6">+</tspan><tspan dy="3.2">CD38</tspan><tspan dy="-3.2" font-size="5.6">+</tspan></text>
<circle cx="375.5" cy="525.0" r="3.45" fill="#2e5ea6" stroke="none" stroke-width="0"/>
<text x="0" y="0" font-size="8.9" fill="#1a1a1a" stroke="#1a1a1a" stroke-width="0.2" transform="translate(381.2,528.2) scale(0.88,1)">CD34<tspan dy="-3.2" font-size="5.6">+</tspan><tspan dy="3.2"> cells</tspan></text>
<rect x="0.6" y="0.6" width="518.6" height="707.6" fill="none" stroke="#000" stroke-width="1.4"/>
</svg></body></html>
